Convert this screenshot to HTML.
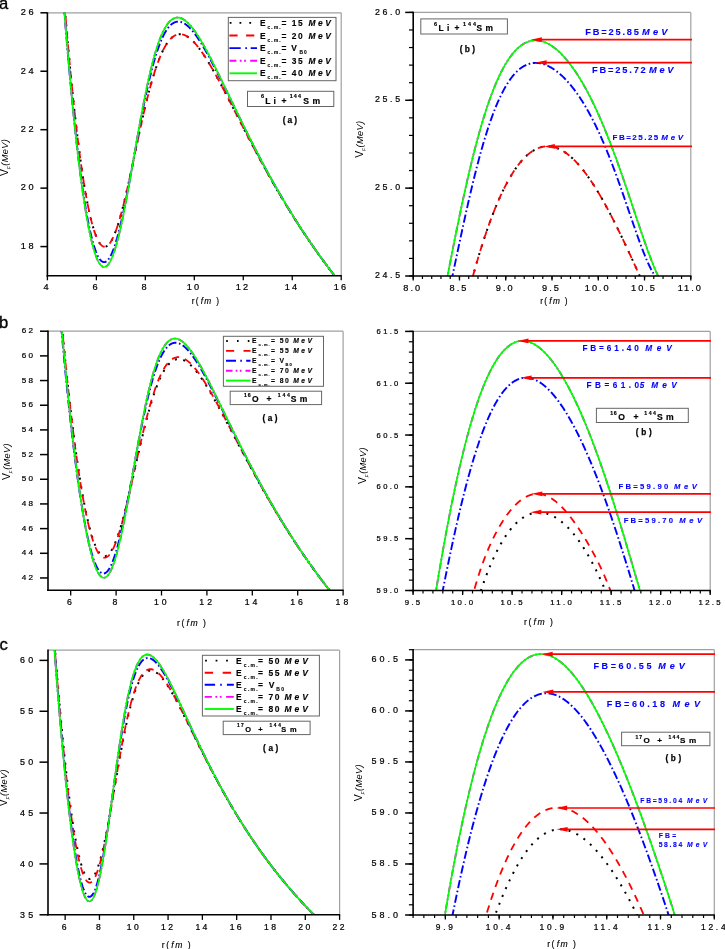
<!DOCTYPE html>
<html><head><meta charset="utf-8"><style>
html,body{margin:0;padding:0;background:#fff;}
body{width:725px;height:949px;overflow:hidden;font-family:"Liberation Sans", sans-serif;}
svg{display:block;will-change:transform;}
</style></head><body>
<svg width="725" height="949" viewBox="0 0 725 949" font-family='"Liberation Sans", sans-serif'>
<rect width="725" height="949" fill="#fff"/>
<text x="-1" y="8.8" font-size="16.6" text-anchor="start" font-weight="normal" font-style="normal" fill="#000" letter-spacing="0" stroke="#000" stroke-width="0.35">a</text>
<text x="-1" y="328.4" font-size="16.6" text-anchor="start" font-weight="normal" font-style="normal" fill="#000" letter-spacing="0" stroke="#000" stroke-width="0.35">b</text>
<text x="-0.5" y="649.8" font-size="16.6" text-anchor="start" font-weight="normal" font-style="normal" fill="#000" letter-spacing="0" stroke="#000" stroke-width="0.35">c</text>
<clipPath id="ca1"><rect x="47.4" y="12.600000000000001" width="293.8" height="263.2"/></clipPath>
<line x1="47.4" y1="12.8" x2="341.2" y2="12.8" stroke="#a0a0a0" stroke-width="1.2"/>
<line x1="341.2" y1="12.8" x2="341.2" y2="275.8" stroke="#a0a0a0" stroke-width="1.2"/>
<path d="M64.79,7.37 L64.85,8.17 L64.92,8.96 L64.98,9.76 L65.05,10.56 L65.11,11.35 L65.18,12.15 L65.24,12.95 L65.31,13.74 L65.38,14.54 L65.44,15.34 L65.51,16.13 L65.57,16.93 L65.64,17.73 L65.71,18.52 L65.77,19.32 L65.84,20.12 L65.91,20.91 L65.98,21.71 L66.04,22.51 L66.11,23.30 L66.18,24.10 L66.25,24.90 L66.31,25.69 L66.38,26.49 L66.45,27.29 L66.52,28.08 L66.59,28.88 L66.65,29.68 L66.72,30.47 L66.79,31.27 L66.86,32.07 L66.93,32.86 L67.00,33.66 L67.07,34.45 L67.14,35.25 L67.21,36.05 L67.28,36.84 L67.35,37.64 L67.42,38.44 L67.49,39.23 L67.56,40.03 L67.63,40.83 L67.70,41.62 L67.77,42.42 L67.84,43.21 L67.91,44.01 L67.98,44.81 L68.05,45.60 L68.12,46.40 L68.19,47.20 L68.27,47.99 L68.34,48.79 L68.41,49.58 L68.48,50.38 L68.55,51.18 L68.63,51.97 L68.70,52.77 L68.77,53.56 L68.84,54.36 L68.92,55.16 L68.99,55.95 L69.06,56.75 L69.14,57.54 L69.21,58.34 L69.28,59.14 L69.36,59.93 L69.43,60.73 L69.51,61.52 L69.58,62.32 L69.66,63.12 L69.73,63.91 L69.81,64.71 L69.88,65.50 L69.96,66.30 L70.03,67.10 L70.11,67.89 L70.18,68.69 L70.26,69.48 L70.33,70.28 L70.41,71.08 L70.49,71.87 L70.56,72.67 L70.64,73.46 L70.72,74.26 L70.80,75.05 L70.87,75.85 L70.95,76.64 L71.03,77.44 L71.11,78.24 L71.18,79.03 L71.26,79.83 L71.34,80.62 L71.42,81.42 L71.50,82.21 L71.58,83.01 L71.66,83.80 L71.74,84.60 L71.82,85.40 L71.90,86.19 L71.98,86.99 L72.06,87.78 L72.14,88.58 L72.22,89.37 L72.30,90.17 L72.38,90.96 L72.46,91.76 L72.54,92.55 L72.62,93.35 L72.71,94.14 L72.79,94.94 L72.87,95.73 L72.95,96.53 L73.04,97.32 L73.12,98.12 L73.20,98.91 L73.29,99.71 L73.37,100.51 L73.45,101.30 L73.54,102.09 L73.62,102.89 L73.71,103.68 L73.79,104.48 L73.88,105.27 L73.96,106.07 L74.05,106.86 L74.14,107.66 L74.22,108.45 L74.31,109.25 L74.39,110.04 L74.48,110.84 L74.57,111.63 L74.66,112.43 L74.74,113.22 L74.83,114.02 L74.92,114.81 L75.01,115.61 L75.10,116.40 L75.19,117.19 L75.28,117.99 L75.37,118.78 L75.46,119.58 L75.55,120.37 L75.64,121.17 L75.73,121.96 L75.82,122.75 L75.91,123.55 L76.00,124.34 L76.09,125.14 L76.18,125.93 L76.28,126.73 L76.37,127.52 L76.46,128.31 L76.56,129.11 L76.65,129.90 L76.74,130.69 L76.84,131.49 L76.93,132.28 L77.03,133.08 L77.12,133.87 L77.22,134.66 L77.32,135.46 L77.41,136.25 L77.51,137.04 L77.61,137.84 L77.70,138.63 L77.80,139.42 L77.90,140.22 L78.00,141.01 L78.10,141.80 L78.20,142.60 L78.30,143.39 L78.40,144.18 L78.50,144.98 L78.60,145.77 L78.70,146.56 L78.80,147.36 L78.90,148.15 L79.01,148.94 L79.11,149.73 L79.21,150.53 L79.32,151.32 L79.42,152.11 L79.52,152.91 L79.63,153.70 L79.73,154.49 L79.84,155.28 L79.95,156.07 L80.05,156.87 L80.16,157.66 L80.27,158.45 L80.38,159.24 L80.49,160.04 L80.59,160.83 L80.70,161.62 L80.81,162.41 L80.93,163.20 L81.04,163.99 L81.15,164.79 L81.26,165.58 L81.37,166.37 L81.49,167.16 L81.60,167.95 L81.72,168.74 L81.83,169.53 L81.95,170.32 L82.06,171.12 L82.18,171.91 L82.30,172.70 L82.42,173.49 L82.54,174.28 L82.65,175.07 L82.77,175.86 L82.90,176.65 L83.02,177.44 L83.14,178.23 L83.26,179.02 L83.39,179.81 L83.51,180.60 L83.63,181.39 L83.76,182.18 L83.89,182.97 L84.01,183.76 L84.14,184.55 L84.27,185.33 L84.40,186.12 L84.53,186.91 L84.66,187.70 L84.80,188.49 L84.93,189.28 L85.06,190.07 L85.20,190.85 L85.33,191.64 L85.47,192.43 L85.61,193.22 L85.75,194.00 L85.89,194.79 L86.03,195.58 L86.17,196.36 L86.31,197.15 L86.46,197.94 L86.60,198.72 L86.75,199.51 L86.90,200.29 L87.05,201.08 L87.20,201.86 L87.35,202.65 L87.50,203.43 L87.65,204.22 L87.81,205.00 L87.97,205.79 L88.13,206.57 L88.29,207.35 L88.45,208.14 L88.61,208.92 L88.78,209.70 L88.94,210.48 L89.11,211.26 L89.28,212.05 L89.45,212.83 L89.63,213.61 L89.80,214.39 L89.98,215.17 L90.16,215.94 L90.34,216.72 L90.53,217.50 L90.71,218.28 L90.90,219.06 L91.09,219.83 L91.29,220.61 L91.49,221.38 L91.69,222.15 L91.89,222.93 L92.10,223.70 L92.31,224.47 L92.52,225.24 L92.74,226.01 L92.96,226.78 L93.18,227.55 L93.41,228.31 L93.65,229.08 L93.88,229.84 L94.13,230.60 L94.38,231.36 L94.63,232.12 L94.89,232.88 L95.16,233.63 L95.43,234.38 L95.71,235.13 L96.00,235.87 L96.30,236.61 L96.61,237.35 L96.93,238.08 L97.26,238.81 L97.60,239.53 L97.96,240.25 L98.34,240.96 L98.73,241.65 L99.14,242.34 L99.58,243.00 L100.05,243.65 L100.54,244.28 L101.08,244.87 L101.66,245.42 L102.29,245.91 L102.98,246.31 L103.73,246.59 L104.52,246.72 L105.32,246.67 L106.09,246.47 L106.81,246.12 L107.47,245.68 L108.09,245.17 L108.66,244.61 L109.19,244.02 L109.69,243.39 L110.16,242.75 L110.61,242.08 L111.03,241.40 L111.44,240.72 L111.83,240.02 L112.20,239.31 L112.56,238.60 L112.91,237.88 L113.25,237.16 L113.58,236.43 L113.91,235.70 L114.22,234.96 L114.53,234.22 L114.82,233.48 L115.12,232.74 L115.40,231.99 L115.68,231.24 L115.96,230.49 L116.23,229.74 L116.50,228.99 L116.76,228.23 L117.02,227.48 L117.27,226.72 L117.52,225.96 L117.77,225.20 L118.01,224.44 L118.25,223.68 L118.49,222.91 L118.73,222.15 L118.96,221.38 L119.19,220.62 L119.42,219.85 L119.64,219.08 L119.86,218.32 L120.08,217.55 L120.30,216.78 L120.52,216.01 L120.73,215.24 L120.95,214.47 L121.16,213.70 L121.37,212.93 L121.57,212.15 L121.78,211.38 L121.98,210.61 L122.19,209.83 L122.39,209.06 L122.59,208.29 L122.79,207.51 L122.99,206.74 L123.18,205.96 L123.38,205.19 L123.57,204.41 L123.76,203.64 L123.96,202.86 L124.15,202.08 L124.34,201.31 L124.52,200.53 L124.71,199.75 L124.90,198.98 L125.09,198.20 L125.27,197.42 L125.46,196.64 L125.64,195.87 L125.82,195.09 L126.00,194.31 L126.19,193.53 L126.37,192.75 L126.55,191.97 L126.73,191.19 L126.90,190.42 L127.08,189.64 L127.26,188.86 L127.44,188.08 L127.61,187.30 L127.79,186.52 L127.96,185.74 L128.14,184.96 L128.31,184.18 L128.49,183.40 L128.66,182.62 L128.83,181.84 L129.01,181.06 L129.18,180.27 L129.35,179.49 L129.52,178.71 L129.69,177.93 L129.86,177.15 L130.03,176.37 L130.20,175.59 L130.37,174.81 L130.54,174.03 L130.71,173.25 L130.88,172.46 L131.05,171.68 L131.22,170.90 L131.39,170.12 L131.56,169.34 L131.72,168.56 L131.89,167.77 L132.06,166.99 L132.23,166.21 L132.39,165.43 L132.56,164.65 L132.73,163.87 L132.89,163.08 L133.06,162.30 L133.23,161.52 L133.39,160.74 L133.56,159.96 L133.72,159.17 L133.89,158.39 L134.06,157.61 L134.22,156.83 L134.39,156.05 L134.55,155.26 L134.72,154.48 L134.89,153.70 L135.05,152.92 L135.22,152.14 L135.38,151.35 L135.55,150.57 L135.72,149.79 L135.88,149.01 L136.05,148.23 L136.21,147.44 L136.38,146.66 L136.55,145.88 L136.71,145.10 L136.88,144.32 L137.05,143.54 L137.21,142.75 L137.38,141.97 L137.55,141.19 L137.72,140.41 L137.88,139.63 L138.05,138.84 L138.22,138.06 L138.39,137.28 L138.56,136.50 L138.72,135.72 L138.89,134.94 L139.06,134.16 L139.23,133.37 L139.40,132.59 L139.57,131.81 L139.74,131.03 L139.91,130.25 L140.08,129.47 L140.25,128.69 L140.42,127.91 L140.59,127.13 L140.77,126.35 L140.94,125.56 L141.11,124.78 L141.28,124.00 L141.46,123.22 L141.63,122.44 L141.81,121.66 L141.98,120.88 L142.15,120.10 L142.33,119.32 L142.51,118.54 L142.68,117.76 L142.86,116.98 L143.04,116.20 L143.21,115.43 L143.39,114.65 L143.57,113.87 L143.75,113.09 L143.93,112.31 L144.11,111.53 L144.29,110.75 L144.48,109.97 L144.66,109.19 L144.84,108.42 L145.03,107.64 L145.21,106.86 L145.40,106.08 L145.58,105.31 L145.77,104.53 L145.96,103.75 L146.14,102.97 L146.33,102.20 L146.52,101.42 L146.71,100.64 L146.90,99.87 L147.10,99.09 L147.29,98.32 L147.48,97.54 L147.68,96.77 L147.87,95.99 L148.07,95.22 L148.27,94.44 L148.47,93.67 L148.67,92.89 L148.87,92.12 L149.07,91.35 L149.27,90.57 L149.48,89.80 L149.68,89.03 L149.89,88.26 L150.10,87.48 L150.31,86.71 L150.52,85.94 L150.73,85.17 L150.94,84.40 L151.16,83.63 L151.38,82.86 L151.59,82.09 L151.81,81.32 L152.03,80.55 L152.26,79.79 L152.48,79.02 L152.71,78.25 L152.93,77.48 L153.16,76.72 L153.39,75.95 L153.63,75.19 L153.86,74.43 L154.10,73.66 L154.34,72.90 L154.58,72.14 L154.82,71.38 L155.07,70.61 L155.32,69.85 L155.57,69.10 L155.82,68.34 L156.07,67.58 L156.33,66.82 L156.59,66.07 L156.86,65.31 L157.12,64.56 L157.39,63.81 L157.67,63.06 L157.94,62.30 L158.22,61.56 L158.51,60.81 L158.79,60.06 L159.08,59.32 L159.38,58.57 L159.68,57.83 L159.98,57.09 L160.29,56.35 L160.60,55.62 L160.91,54.88 L161.24,54.15 L161.56,53.42 L161.90,52.70 L162.24,51.97 L162.58,51.25 L162.93,50.53 L163.29,49.82 L163.65,49.11 L164.03,48.40 L164.40,47.70 L164.79,47.00 L165.19,46.30 L165.60,45.61 L166.01,44.93 L166.44,44.26 L166.88,43.59 L167.33,42.93 L167.79,42.27 L168.26,41.63 L168.75,41.00 L169.26,40.38 L169.78,39.77 L170.31,39.18 L170.87,38.60 L171.44,38.05 L172.04,37.52 L172.66,37.01 L173.30,36.53 L173.96,36.08 L174.64,35.67 L175.35,35.30 L176.08,34.98 L176.83,34.70 L177.60,34.49 L178.39,34.33 L179.18,34.23 L179.98,34.19 L180.78,34.22 L181.57,34.30 L182.36,34.44 L183.13,34.64 L183.90,34.88 L184.64,35.16 L185.38,35.48 L186.09,35.84 L186.79,36.22 L187.47,36.64 L188.14,37.08 L188.80,37.54 L189.44,38.02 L190.06,38.51 L190.68,39.03 L191.28,39.55 L191.87,40.09 L192.45,40.64 L193.02,41.20 L193.58,41.77 L194.13,42.35 L194.67,42.94 L195.21,43.53 L195.73,44.13 L196.25,44.74 L196.77,45.35 L197.27,45.97 L197.78,46.60 L198.27,47.22 L198.76,47.86 L199.24,48.49 L199.72,49.13 L200.20,49.77 L200.67,50.42 L201.13,51.07 L201.60,51.72 L202.05,52.38 L202.51,53.04 L202.96,53.70 L203.41,54.36 L203.85,55.02 L204.29,55.69 L204.73,56.36 L205.16,57.03 L205.59,57.70 L206.02,58.38 L206.45,59.05 L206.87,59.73 L207.30,60.41 L207.71,61.09 L208.13,61.77 L208.55,62.46 L208.96,63.14 L209.37,63.83 L209.78,64.51 L210.19,65.20 L210.59,65.89 L211.00,66.58 L211.40,67.27 L211.80,67.96 L212.20,68.66 L212.60,69.35 L212.99,70.04 L213.39,70.74 L213.78,71.43 L214.17,72.13 L214.56,72.83 L214.95,73.53 L215.34,74.22 L215.73,74.92 L216.12,75.62 L216.50,76.32 L216.89,77.02 L217.27,77.73 L217.65,78.43 L218.04,79.13 L218.42,79.83 L218.80,80.54 L219.18,81.24 L219.56,81.94 L219.93,82.65 L220.31,83.35 L220.69,84.06 L221.06,84.76 L221.44,85.47 L221.81,86.18 L222.19,86.88 L222.56,87.59 L222.93,88.30 L223.31,89.00 L223.68,89.71 L224.05,90.42 L224.42,91.13 L224.79,91.84 L225.16,92.54 L225.53,93.25 L225.90,93.96 L226.27,94.67 L226.64,95.38 L227.01,96.09 L227.37,96.80 L227.74,97.51 L228.11,98.22 L228.48,98.93 L228.84,99.64 L229.21,100.35 L229.58,101.06 L229.94,101.77 L230.31,102.48 L230.68,103.19 L231.04,103.90 L231.41,104.61 L231.77,105.32 L232.14,106.04 L232.50,106.75 L232.87,107.46 L233.23,108.17 L233.60,108.88 L233.96,109.59 L234.33,110.30 L234.69,111.01 L235.06,111.73 L235.42,112.44 L235.79,113.15 L236.15,113.86 L236.52,114.57 L236.88,115.28 L237.25,115.99 L237.61,116.70 L237.98,117.42 L238.34,118.13 L238.71,118.84 L239.07,119.55 L239.44,120.26 L239.80,120.97 L240.17,121.68 L240.53,122.39 L240.90,123.10 L241.27,123.81 L241.63,124.53 L242.00,125.24 L242.36,125.95 L242.73,126.66 L243.10,127.37 L243.46,128.08 L243.83,128.79 L244.20,129.50 L244.57,130.21 L244.93,130.92 L245.30,131.63 L245.67,132.34 L246.04,133.05 L246.40,133.76 L246.77,134.47 L247.14,135.18 L247.51,135.89 L247.88,136.59 L248.25,137.30 L248.62,138.01 L248.99,138.72 L249.36,139.43 L249.73,140.14 L250.10,140.85 L250.47,141.55 L250.84,142.26 L251.22,142.97 L251.59,143.68 L251.96,144.38 L252.33,145.09 L252.71,145.80 L253.08,146.50 L253.45,147.21 L253.83,147.92 L254.20,148.62 L254.58,149.33 L254.95,150.04 L255.33,150.74 L255.70,151.45 L256.08,152.15 L256.46,152.86 L256.83,153.56 L257.21,154.27 L257.59,154.97 L257.97,155.68 L258.34,156.38 L258.72,157.08 L259.10,157.79 L259.48,158.49 L259.86,159.20 L260.24,159.90 L260.62,160.60 L261.01,161.30 L261.39,162.01 L261.77,162.71 L262.15,163.41 L262.54,164.11 L262.92,164.81 L263.30,165.51 L263.69,166.21 L264.07,166.92 L264.46,167.62 L264.84,168.32 L265.23,169.02 L265.62,169.72 L266.01,170.41 L266.39,171.11 L266.78,171.81 L267.17,172.51 L267.56,173.21 L267.95,173.91 L268.34,174.61 L268.73,175.30 L269.12,176.00 L269.51,176.70 L269.91,177.39 L270.30,178.09 L270.69,178.79 L271.08,179.48 L271.48,180.18 L271.87,180.87 L272.27,181.57 L272.67,182.26 L273.06,182.95 L273.46,183.65 L273.86,184.34 L274.25,185.04 L274.65,185.73 L275.05,186.42 L275.45,187.11 L275.85,187.81 L276.25,188.50 L276.65,189.19 L277.06,189.88 L277.46,190.57 L277.86,191.26 L278.27,191.95 L278.67,192.64 L279.07,193.33 L279.48,194.02 L279.89,194.71 L280.29,195.40 L280.70,196.08 L281.11,196.77 L281.52,197.46 L281.92,198.15 L282.33,198.83 L282.74,199.52 L283.16,200.20 L283.57,200.89 L283.98,201.57 L284.39,202.26 L284.80,202.94 L285.22,203.63 L285.63,204.31 L286.05,204.99 L286.46,205.68 L286.88,206.36 L287.30,207.04 L287.71,207.72 L288.13,208.40 L288.55,209.09 L288.97,209.77 L289.39,210.45 L289.81,211.13 L290.23,211.81 L290.65,212.48 L291.08,213.16 L291.50,213.84 L291.92,214.52 L292.35,215.20 L292.77,215.87 L293.20,216.55 L293.63,217.23 L294.05,217.90 L294.48,218.58 L294.91,219.25 L295.34,219.93 L295.77,220.60 L296.20,221.27 L296.63,221.95 L297.06,222.62 L297.49,223.29 L297.93,223.96 L298.36,224.64 L298.80,225.31 L299.23,225.98 L299.67,226.65 L300.10,227.32 L300.54,227.99 L300.98,228.66 L301.42,229.32 L301.86,229.99 L302.30,230.66 L302.74,231.33 L303.18,231.99 L303.62,232.66 L304.06,233.32 L304.51,233.99 L304.95,234.65 L305.40,235.32 L305.84,235.98 L306.29,236.64 L306.74,237.31 L307.18,237.97 L307.63,238.63 L308.08,239.29 L308.53,239.95 L308.98,240.61 L309.43,241.27 L309.88,241.93 L310.34,242.59 L310.79,243.25 L311.24,243.91 L311.70,244.57 L312.16,245.22 L312.61,245.88 L313.07,246.54 L313.53,247.19 L313.98,247.85 L314.44,248.50 L314.90,249.15 L315.36,249.81 L315.83,250.46 L316.29,251.11 L316.75,251.76 L317.21,252.42 L317.68,253.07 L318.14,253.72 L318.61,254.37 L319.08,255.02 L319.54,255.66 L320.01,256.31 L320.48,256.96 L320.95,257.61 L321.42,258.25 L321.89,258.90 L322.36,259.55 L322.83,260.19 L323.31,260.83 L323.78,261.48 L324.26,262.12 L324.73,262.76 L325.21,263.41 L325.68,264.05 L326.16,264.69 L326.64,265.33 L327.12,265.97 L327.60,266.61 L328.08,267.25 L328.56,267.89 L329.04,268.52 L329.52,269.16 L330.01,269.80 L330.49,270.43 L330.98,271.07 L331.46,271.70 L331.95,272.34 L332.44,272.97 L332.93,273.61 L333.41,274.24 L333.90,274.87 L334.39,275.50 L334.89,276.13 L335.38,276.76 L335.87,277.39 L336.36,278.02 L336.86,278.65 L337.35,279.28 L337.85,279.90 L338.34,280.53 L338.84,281.16 L339.34,281.78" fill="none" stroke="#000" stroke-width="2.0" stroke-linejoin="round" stroke-dasharray="2 6.5" stroke-dashoffset="0" clip-path="url(#ca1)"/>
<path d="M64.79,7.37 L64.85,8.17 L64.92,8.96 L64.98,9.76 L65.05,10.56 L65.11,11.35 L65.18,12.15 L65.24,12.95 L65.31,13.74 L65.38,14.54 L65.44,15.34 L65.51,16.13 L65.57,16.93 L65.64,17.73 L65.71,18.52 L65.77,19.32 L65.84,20.12 L65.91,20.91 L65.98,21.71 L66.04,22.51 L66.11,23.30 L66.18,24.10 L66.25,24.90 L66.31,25.69 L66.38,26.49 L66.45,27.29 L66.52,28.08 L66.59,28.88 L66.65,29.68 L66.72,30.47 L66.79,31.27 L66.86,32.07 L66.93,32.86 L67.00,33.66 L67.07,34.45 L67.14,35.25 L67.21,36.05 L67.28,36.84 L67.35,37.64 L67.42,38.44 L67.49,39.23 L67.56,40.03 L67.63,40.83 L67.70,41.62 L67.77,42.42 L67.84,43.21 L67.91,44.01 L67.98,44.81 L68.05,45.60 L68.12,46.40 L68.19,47.20 L68.27,47.99 L68.34,48.79 L68.41,49.58 L68.48,50.38 L68.55,51.18 L68.63,51.97 L68.70,52.77 L68.77,53.56 L68.84,54.36 L68.92,55.16 L68.99,55.95 L69.06,56.75 L69.14,57.54 L69.21,58.34 L69.28,59.14 L69.36,59.93 L69.43,60.73 L69.51,61.52 L69.58,62.32 L69.66,63.12 L69.73,63.91 L69.81,64.71 L69.88,65.50 L69.96,66.30 L70.03,67.10 L70.11,67.89 L70.18,68.69 L70.26,69.48 L70.33,70.28 L70.41,71.08 L70.49,71.87 L70.56,72.67 L70.64,73.46 L70.72,74.26 L70.80,75.05 L70.87,75.85 L70.95,76.64 L71.03,77.44 L71.11,78.24 L71.18,79.03 L71.26,79.83 L71.34,80.62 L71.42,81.42 L71.50,82.21 L71.58,83.01 L71.66,83.80 L71.74,84.60 L71.82,85.40 L71.90,86.19 L71.98,86.99 L72.06,87.78 L72.14,88.58 L72.22,89.37 L72.30,90.17 L72.38,90.96 L72.46,91.76 L72.54,92.55 L72.62,93.35 L72.71,94.14 L72.79,94.94 L72.87,95.73 L72.95,96.53 L73.04,97.32 L73.12,98.12 L73.20,98.91 L73.29,99.71 L73.37,100.51 L73.45,101.30 L73.54,102.09 L73.62,102.89 L73.71,103.68 L73.79,104.48 L73.88,105.27 L73.96,106.07 L74.05,106.86 L74.14,107.66 L74.22,108.45 L74.31,109.25 L74.39,110.04 L74.48,110.84 L74.57,111.63 L74.66,112.43 L74.74,113.22 L74.83,114.02 L74.92,114.81 L75.01,115.61 L75.10,116.40 L75.19,117.19 L75.28,117.99 L75.37,118.78 L75.46,119.58 L75.55,120.37 L75.64,121.17 L75.73,121.96 L75.82,122.75 L75.91,123.55 L76.00,124.34 L76.09,125.14 L76.18,125.93 L76.28,126.73 L76.37,127.52 L76.46,128.31 L76.56,129.11 L76.65,129.90 L76.74,130.69 L76.84,131.49 L76.93,132.28 L77.03,133.08 L77.12,133.87 L77.22,134.66 L77.32,135.46 L77.41,136.25 L77.51,137.04 L77.61,137.84 L77.70,138.63 L77.80,139.42 L77.90,140.22 L78.00,141.01 L78.10,141.80 L78.20,142.60 L78.30,143.39 L78.40,144.18 L78.50,144.98 L78.60,145.77 L78.70,146.56 L78.80,147.36 L78.90,148.15 L79.01,148.94 L79.11,149.73 L79.21,150.53 L79.32,151.32 L79.42,152.11 L79.52,152.91 L79.63,153.70 L79.73,154.49 L79.84,155.28 L79.95,156.07 L80.05,156.87 L80.16,157.66 L80.27,158.45 L80.38,159.24 L80.49,160.04 L80.59,160.83 L80.70,161.62 L80.81,162.41 L80.93,163.20 L81.04,163.99 L81.15,164.79 L81.26,165.58 L81.37,166.37 L81.49,167.16 L81.60,167.95 L81.72,168.74 L81.83,169.53 L81.95,170.32 L82.06,171.12 L82.18,171.91 L82.30,172.70 L82.42,173.49 L82.54,174.28 L82.65,175.07 L82.77,175.86 L82.90,176.65 L83.02,177.44 L83.14,178.23 L83.26,179.02 L83.39,179.81 L83.51,180.60 L83.63,181.39 L83.76,182.18 L83.89,182.97 L84.01,183.76 L84.14,184.55 L84.27,185.33 L84.40,186.12 L84.53,186.91 L84.66,187.70 L84.80,188.49 L84.93,189.28 L85.06,190.07 L85.20,190.85 L85.33,191.64 L85.47,192.43 L85.61,193.22 L85.75,194.00 L85.89,194.79 L86.03,195.58 L86.17,196.36 L86.31,197.15 L86.46,197.94 L86.60,198.72 L86.75,199.51 L86.90,200.29 L87.05,201.08 L87.20,201.86 L87.35,202.65 L87.50,203.43 L87.65,204.22 L87.81,205.00 L87.97,205.79 L88.13,206.57 L88.29,207.35 L88.45,208.14 L88.61,208.92 L88.78,209.70 L88.94,210.48 L89.11,211.26 L89.28,212.05 L89.45,212.83 L89.63,213.61 L89.80,214.39 L89.98,215.17 L90.16,215.94 L90.34,216.72 L90.53,217.50 L90.71,218.28 L90.90,219.06 L91.09,219.83 L91.29,220.61 L91.49,221.38 L91.69,222.15 L91.89,222.93 L92.10,223.70 L92.31,224.47 L92.52,225.24 L92.74,226.01 L92.96,226.78 L93.18,227.55 L93.41,228.31 L93.65,229.08 L93.88,229.84 L94.13,230.60 L94.38,231.36 L94.63,232.12 L94.89,232.88 L95.16,233.63 L95.43,234.38 L95.71,235.13 L96.00,235.87 L96.30,236.61 L96.61,237.35 L96.93,238.08 L97.26,238.81 L97.60,239.53 L97.96,240.25 L98.34,240.96 L98.73,241.65 L99.14,242.34 L99.58,243.00 L100.05,243.65 L100.54,244.28 L101.08,244.87 L101.66,245.42 L102.29,245.91 L102.98,246.31 L103.73,246.59 L104.52,246.72 L105.32,246.67 L106.09,246.47 L106.81,246.12 L107.47,245.68 L108.09,245.17 L108.66,244.61 L109.19,244.02 L109.69,243.39 L110.16,242.75 L110.61,242.08 L111.03,241.40 L111.44,240.72 L111.83,240.02 L112.20,239.31 L112.56,238.60 L112.91,237.88 L113.25,237.16 L113.58,236.43 L113.91,235.70 L114.22,234.96 L114.53,234.22 L114.82,233.48 L115.12,232.74 L115.40,231.99 L115.68,231.24 L115.96,230.49 L116.23,229.74 L116.50,228.99 L116.76,228.23 L117.02,227.48 L117.27,226.72 L117.52,225.96 L117.77,225.20 L118.01,224.44 L118.25,223.68 L118.49,222.91 L118.73,222.15 L118.96,221.38 L119.19,220.62 L119.42,219.85 L119.64,219.08 L119.86,218.32 L120.08,217.55 L120.30,216.78 L120.52,216.01 L120.73,215.24 L120.95,214.47 L121.16,213.70 L121.37,212.93 L121.57,212.15 L121.78,211.38 L121.98,210.61 L122.19,209.83 L122.39,209.06 L122.59,208.29 L122.79,207.51 L122.99,206.74 L123.18,205.96 L123.38,205.19 L123.57,204.41 L123.76,203.64 L123.96,202.86 L124.15,202.08 L124.34,201.31 L124.52,200.53 L124.71,199.75 L124.90,198.98 L125.09,198.20 L125.27,197.42 L125.46,196.64 L125.64,195.87 L125.82,195.09 L126.00,194.31 L126.19,193.53 L126.37,192.75 L126.55,191.97 L126.73,191.19 L126.90,190.42 L127.08,189.64 L127.26,188.86 L127.44,188.08 L127.61,187.30 L127.79,186.52 L127.96,185.74 L128.14,184.96 L128.31,184.18 L128.49,183.40 L128.66,182.62 L128.83,181.84 L129.01,181.06 L129.18,180.27 L129.35,179.49 L129.52,178.71 L129.69,177.93 L129.86,177.15 L130.03,176.37 L130.20,175.59 L130.37,174.81 L130.54,174.03 L130.71,173.25 L130.88,172.46 L131.05,171.68 L131.22,170.90 L131.39,170.12 L131.56,169.34 L131.72,168.56 L131.89,167.77 L132.06,166.99 L132.23,166.21 L132.39,165.43 L132.56,164.65 L132.73,163.87 L132.89,163.08 L133.06,162.30 L133.23,161.52 L133.39,160.74 L133.56,159.96 L133.72,159.17 L133.89,158.39 L134.06,157.61 L134.22,156.83 L134.39,156.05 L134.55,155.26 L134.72,154.48 L134.89,153.70 L135.05,152.92 L135.22,152.14 L135.38,151.35 L135.55,150.57 L135.72,149.79 L135.88,149.01 L136.05,148.23 L136.21,147.44 L136.38,146.66 L136.55,145.88 L136.71,145.10 L136.88,144.32 L137.05,143.54 L137.21,142.75 L137.38,141.97 L137.55,141.19 L137.72,140.41 L137.88,139.63 L138.05,138.84 L138.22,138.06 L138.39,137.28 L138.56,136.50 L138.72,135.72 L138.89,134.94 L139.06,134.16 L139.23,133.37 L139.40,132.59 L139.57,131.81 L139.74,131.03 L139.91,130.25 L140.08,129.47 L140.25,128.69 L140.42,127.91 L140.59,127.13 L140.77,126.35 L140.94,125.56 L141.11,124.78 L141.28,124.00 L141.46,123.22 L141.63,122.44 L141.81,121.66 L141.98,120.88 L142.15,120.10 L142.33,119.32 L142.51,118.54 L142.68,117.76 L142.86,116.98 L143.04,116.20 L143.21,115.43 L143.39,114.65 L143.57,113.87 L143.75,113.09 L143.93,112.31 L144.11,111.53 L144.29,110.75 L144.48,109.97 L144.66,109.19 L144.84,108.42 L145.03,107.64 L145.21,106.86 L145.40,106.08 L145.58,105.31 L145.77,104.53 L145.96,103.75 L146.14,102.97 L146.33,102.20 L146.52,101.42 L146.71,100.64 L146.90,99.87 L147.10,99.09 L147.29,98.32 L147.48,97.54 L147.68,96.77 L147.87,95.99 L148.07,95.22 L148.27,94.44 L148.47,93.67 L148.67,92.89 L148.87,92.12 L149.07,91.35 L149.27,90.57 L149.48,89.80 L149.68,89.03 L149.89,88.26 L150.10,87.48 L150.31,86.71 L150.52,85.94 L150.73,85.17 L150.94,84.40 L151.16,83.63 L151.38,82.86 L151.59,82.09 L151.81,81.32 L152.03,80.55 L152.26,79.79 L152.48,79.02 L152.71,78.25 L152.93,77.48 L153.16,76.72 L153.39,75.95 L153.63,75.19 L153.86,74.43 L154.10,73.66 L154.34,72.90 L154.58,72.14 L154.82,71.38 L155.07,70.61 L155.32,69.85 L155.57,69.10 L155.82,68.34 L156.07,67.58 L156.33,66.82 L156.59,66.07 L156.86,65.31 L157.12,64.56 L157.39,63.81 L157.67,63.06 L157.94,62.30 L158.22,61.56 L158.51,60.81 L158.79,60.06 L159.08,59.32 L159.38,58.57 L159.68,57.83 L159.98,57.09 L160.29,56.35 L160.60,55.62 L160.91,54.88 L161.24,54.15 L161.56,53.42 L161.90,52.70 L162.24,51.97 L162.58,51.25 L162.93,50.53 L163.29,49.82 L163.65,49.11 L164.03,48.40 L164.40,47.70 L164.79,47.00 L165.19,46.30 L165.60,45.61 L166.01,44.93 L166.44,44.26 L166.88,43.59 L167.33,42.93 L167.79,42.27 L168.26,41.63 L168.75,41.00 L169.26,40.38 L169.78,39.77 L170.31,39.18 L170.87,38.60 L171.44,38.05 L172.04,37.52 L172.66,37.01 L173.30,36.53 L173.96,36.08 L174.64,35.67 L175.35,35.30 L176.08,34.98 L176.83,34.70 L177.60,34.49 L178.39,34.33 L179.18,34.23 L179.98,34.19 L180.78,34.22 L181.57,34.30 L182.36,34.44 L183.13,34.64 L183.90,34.88 L184.64,35.16 L185.38,35.48 L186.09,35.84 L186.79,36.22 L187.47,36.64 L188.14,37.08 L188.80,37.54 L189.44,38.02 L190.06,38.51 L190.68,39.03 L191.28,39.55 L191.87,40.09 L192.45,40.64 L193.02,41.20 L193.58,41.77 L194.13,42.35 L194.67,42.94 L195.21,43.53 L195.73,44.13 L196.25,44.74 L196.77,45.35 L197.27,45.97 L197.78,46.60 L198.27,47.22 L198.76,47.86 L199.24,48.49 L199.72,49.13 L200.20,49.77 L200.67,50.42 L201.13,51.07 L201.60,51.72 L202.05,52.38 L202.51,53.04 L202.96,53.70 L203.41,54.36 L203.85,55.02 L204.29,55.69 L204.73,56.36 L205.16,57.03 L205.59,57.70 L206.02,58.38 L206.45,59.05 L206.87,59.73 L207.30,60.41 L207.71,61.09 L208.13,61.77 L208.55,62.46 L208.96,63.14 L209.37,63.83 L209.78,64.51 L210.19,65.20 L210.59,65.89 L211.00,66.58 L211.40,67.27 L211.80,67.96 L212.20,68.66 L212.60,69.35 L212.99,70.04 L213.39,70.74 L213.78,71.43 L214.17,72.13 L214.56,72.83 L214.95,73.53 L215.34,74.22 L215.73,74.92 L216.12,75.62 L216.50,76.32 L216.89,77.02 L217.27,77.73 L217.65,78.43 L218.04,79.13 L218.42,79.83 L218.80,80.54 L219.18,81.24 L219.56,81.94 L219.93,82.65 L220.31,83.35 L220.69,84.06 L221.06,84.76 L221.44,85.47 L221.81,86.18 L222.19,86.88 L222.56,87.59 L222.93,88.30 L223.31,89.00 L223.68,89.71 L224.05,90.42 L224.42,91.13 L224.79,91.84 L225.16,92.54 L225.53,93.25 L225.90,93.96 L226.27,94.67 L226.64,95.38 L227.01,96.09 L227.37,96.80 L227.74,97.51 L228.11,98.22 L228.48,98.93 L228.84,99.64 L229.21,100.35 L229.58,101.06 L229.94,101.77 L230.31,102.48 L230.68,103.19 L231.04,103.90 L231.41,104.61 L231.77,105.32 L232.14,106.04 L232.50,106.75 L232.87,107.46 L233.23,108.17 L233.60,108.88 L233.96,109.59 L234.33,110.30 L234.69,111.01 L235.06,111.73 L235.42,112.44 L235.79,113.15 L236.15,113.86 L236.52,114.57 L236.88,115.28 L237.25,115.99 L237.61,116.70 L237.98,117.42 L238.34,118.13 L238.71,118.84 L239.07,119.55 L239.44,120.26 L239.80,120.97 L240.17,121.68 L240.53,122.39 L240.90,123.10 L241.27,123.81 L241.63,124.53 L242.00,125.24 L242.36,125.95 L242.73,126.66 L243.10,127.37 L243.46,128.08 L243.83,128.79 L244.20,129.50 L244.57,130.21 L244.93,130.92 L245.30,131.63 L245.67,132.34 L246.04,133.05 L246.40,133.76 L246.77,134.47 L247.14,135.18 L247.51,135.89 L247.88,136.59 L248.25,137.30 L248.62,138.01 L248.99,138.72 L249.36,139.43 L249.73,140.14 L250.10,140.85 L250.47,141.55 L250.84,142.26 L251.22,142.97 L251.59,143.68 L251.96,144.38 L252.33,145.09 L252.71,145.80 L253.08,146.50 L253.45,147.21 L253.83,147.92 L254.20,148.62 L254.58,149.33 L254.95,150.04 L255.33,150.74 L255.70,151.45 L256.08,152.15 L256.46,152.86 L256.83,153.56 L257.21,154.27 L257.59,154.97 L257.97,155.68 L258.34,156.38 L258.72,157.08 L259.10,157.79 L259.48,158.49 L259.86,159.20 L260.24,159.90 L260.62,160.60 L261.01,161.30 L261.39,162.01 L261.77,162.71 L262.15,163.41 L262.54,164.11 L262.92,164.81 L263.30,165.51 L263.69,166.21 L264.07,166.92 L264.46,167.62 L264.84,168.32 L265.23,169.02 L265.62,169.72 L266.01,170.41 L266.39,171.11 L266.78,171.81 L267.17,172.51 L267.56,173.21 L267.95,173.91 L268.34,174.61 L268.73,175.30 L269.12,176.00 L269.51,176.70 L269.91,177.39 L270.30,178.09 L270.69,178.79 L271.08,179.48 L271.48,180.18 L271.87,180.87 L272.27,181.57 L272.67,182.26 L273.06,182.95 L273.46,183.65 L273.86,184.34 L274.25,185.04 L274.65,185.73 L275.05,186.42 L275.45,187.11 L275.85,187.81 L276.25,188.50 L276.65,189.19 L277.06,189.88 L277.46,190.57 L277.86,191.26 L278.27,191.95 L278.67,192.64 L279.07,193.33 L279.48,194.02 L279.89,194.71 L280.29,195.40 L280.70,196.08 L281.11,196.77 L281.52,197.46 L281.92,198.15 L282.33,198.83 L282.74,199.52 L283.16,200.20 L283.57,200.89 L283.98,201.57 L284.39,202.26 L284.80,202.94 L285.22,203.63 L285.63,204.31 L286.05,204.99 L286.46,205.68 L286.88,206.36 L287.30,207.04 L287.71,207.72 L288.13,208.40 L288.55,209.09 L288.97,209.77 L289.39,210.45 L289.81,211.13 L290.23,211.81 L290.65,212.48 L291.08,213.16 L291.50,213.84 L291.92,214.52 L292.35,215.20 L292.77,215.87 L293.20,216.55 L293.63,217.23 L294.05,217.90 L294.48,218.58 L294.91,219.25 L295.34,219.93 L295.77,220.60 L296.20,221.27 L296.63,221.95 L297.06,222.62 L297.49,223.29 L297.93,223.96 L298.36,224.64 L298.80,225.31 L299.23,225.98 L299.67,226.65 L300.10,227.32 L300.54,227.99 L300.98,228.66 L301.42,229.32 L301.86,229.99 L302.30,230.66 L302.74,231.33 L303.18,231.99 L303.62,232.66 L304.06,233.32 L304.51,233.99 L304.95,234.65 L305.40,235.32 L305.84,235.98 L306.29,236.64 L306.74,237.31 L307.18,237.97 L307.63,238.63 L308.08,239.29 L308.53,239.95 L308.98,240.61 L309.43,241.27 L309.88,241.93 L310.34,242.59 L310.79,243.25 L311.24,243.91 L311.70,244.57 L312.16,245.22 L312.61,245.88 L313.07,246.54 L313.53,247.19 L313.98,247.85 L314.44,248.50 L314.90,249.15 L315.36,249.81 L315.83,250.46 L316.29,251.11 L316.75,251.76 L317.21,252.42 L317.68,253.07 L318.14,253.72 L318.61,254.37 L319.08,255.02 L319.54,255.66 L320.01,256.31 L320.48,256.96 L320.95,257.61 L321.42,258.25 L321.89,258.90 L322.36,259.55 L322.83,260.19 L323.31,260.83 L323.78,261.48 L324.26,262.12 L324.73,262.76 L325.21,263.41 L325.68,264.05 L326.16,264.69 L326.64,265.33 L327.12,265.97 L327.60,266.61 L328.08,267.25 L328.56,267.89 L329.04,268.52 L329.52,269.16 L330.01,269.80 L330.49,270.43 L330.98,271.07 L331.46,271.70 L331.95,272.34 L332.44,272.97 L332.93,273.61 L333.41,274.24 L333.90,274.87 L334.39,275.50 L334.89,276.13 L335.38,276.76 L335.87,277.39 L336.36,278.02 L336.86,278.65 L337.35,279.28 L337.85,279.90 L338.34,280.53 L338.84,281.16 L339.34,281.78" fill="none" stroke="#ff0000" stroke-width="1.8" stroke-linejoin="round" stroke-dasharray="7.4 6" stroke-dashoffset="3" clip-path="url(#ca1)"/>
<path d="M64.05,7.30 L64.11,8.10 L64.18,8.90 L64.24,9.70 L64.30,10.49 L64.37,11.29 L64.43,12.09 L64.49,12.88 L64.55,13.68 L64.62,14.48 L64.68,15.27 L64.75,16.07 L64.81,16.87 L64.87,17.66 L64.94,18.46 L65.00,19.26 L65.07,20.06 L65.13,20.85 L65.19,21.65 L65.26,22.45 L65.32,23.24 L65.39,24.04 L65.45,24.84 L65.52,25.63 L65.58,26.43 L65.65,27.23 L65.71,28.02 L65.78,28.82 L65.84,29.62 L65.91,30.41 L65.98,31.21 L66.04,32.01 L66.11,32.80 L66.17,33.60 L66.24,34.40 L66.31,35.19 L66.37,35.99 L66.44,36.79 L66.51,37.58 L66.57,38.38 L66.64,39.18 L66.71,39.97 L66.77,40.77 L66.84,41.57 L66.91,42.36 L66.98,43.16 L67.04,43.96 L67.11,44.75 L67.18,45.55 L67.25,46.35 L67.31,47.14 L67.38,47.94 L67.45,48.74 L67.52,49.53 L67.59,50.33 L67.66,51.12 L67.73,51.92 L67.80,52.72 L67.87,53.51 L67.93,54.31 L68.00,55.11 L68.07,55.90 L68.14,56.70 L68.21,57.50 L68.28,58.29 L68.35,59.09 L68.42,59.89 L68.49,60.68 L68.56,61.48 L68.64,62.27 L68.71,63.07 L68.78,63.87 L68.85,64.66 L68.92,65.46 L68.99,66.26 L69.06,67.05 L69.13,67.85 L69.21,68.64 L69.28,69.44 L69.35,70.24 L69.42,71.03 L69.50,71.83 L69.57,72.62 L69.64,73.42 L69.71,74.22 L69.79,75.01 L69.86,75.81 L69.93,76.60 L70.01,77.40 L70.08,78.20 L70.16,78.99 L70.23,79.79 L70.30,80.59 L70.38,81.38 L70.45,82.18 L70.53,82.97 L70.60,83.77 L70.68,84.56 L70.75,85.36 L70.83,86.16 L70.90,86.95 L70.98,87.75 L71.05,88.54 L71.13,89.34 L71.21,90.14 L71.28,90.93 L71.36,91.73 L71.44,92.52 L71.51,93.32 L71.59,94.11 L71.67,94.91 L71.75,95.71 L71.82,96.50 L71.90,97.30 L71.98,98.09 L72.06,98.89 L72.14,99.68 L72.22,100.48 L72.29,101.27 L72.37,102.07 L72.45,102.87 L72.53,103.66 L72.61,104.46 L72.69,105.25 L72.77,106.05 L72.85,106.84 L72.93,107.64 L73.01,108.43 L73.09,109.23 L73.17,110.02 L73.26,110.82 L73.34,111.61 L73.42,112.41 L73.50,113.21 L73.58,114.00 L73.66,114.80 L73.75,115.59 L73.83,116.39 L73.91,117.18 L74.00,117.98 L74.08,118.77 L74.16,119.57 L74.25,120.36 L74.33,121.16 L74.42,121.95 L74.50,122.75 L74.58,123.54 L74.67,124.34 L74.76,125.13 L74.84,125.93 L74.93,126.72 L75.01,127.52 L75.10,128.31 L75.19,129.10 L75.27,129.90 L75.36,130.69 L75.45,131.49 L75.53,132.28 L75.62,133.08 L75.71,133.87 L75.80,134.67 L75.89,135.46 L75.98,136.26 L76.07,137.05 L76.15,137.84 L76.24,138.64 L76.33,139.43 L76.42,140.23 L76.52,141.02 L76.61,141.82 L76.70,142.61 L76.79,143.40 L76.88,144.20 L76.97,144.99 L77.06,145.79 L77.16,146.58 L77.25,147.38 L77.34,148.17 L77.44,148.96 L77.53,149.76 L77.63,150.55 L77.72,151.34 L77.82,152.14 L77.91,152.93 L78.01,153.73 L78.10,154.52 L78.20,155.31 L78.29,156.11 L78.39,156.90 L78.49,157.69 L78.59,158.49 L78.69,159.28 L78.78,160.07 L78.88,160.87 L78.98,161.66 L79.08,162.45 L79.18,163.25 L79.28,164.04 L79.38,164.83 L79.48,165.63 L79.58,166.42 L79.69,167.21 L79.79,168.00 L79.89,168.80 L79.99,169.59 L80.10,170.38 L80.20,171.18 L80.31,171.97 L80.41,172.76 L80.52,173.55 L80.62,174.35 L80.73,175.14 L80.84,175.93 L80.94,176.72 L81.05,177.51 L81.16,178.31 L81.27,179.10 L81.38,179.89 L81.49,180.68 L81.60,181.47 L81.71,182.27 L81.82,183.06 L81.93,183.85 L82.04,184.64 L82.16,185.43 L82.27,186.22 L82.38,187.01 L82.50,187.81 L82.61,188.60 L82.73,189.39 L82.85,190.18 L82.96,190.97 L83.08,191.76 L83.20,192.55 L83.32,193.34 L83.44,194.13 L83.56,194.92 L83.68,195.71 L83.80,196.50 L83.92,197.29 L84.05,198.08 L84.17,198.87 L84.30,199.66 L84.42,200.45 L84.55,201.24 L84.68,202.03 L84.80,202.82 L84.93,203.61 L85.06,204.40 L85.19,205.19 L85.32,205.97 L85.45,206.76 L85.59,207.55 L85.72,208.34 L85.86,209.13 L85.99,209.91 L86.13,210.70 L86.27,211.49 L86.41,212.28 L86.55,213.06 L86.69,213.85 L86.83,214.64 L86.97,215.42 L87.12,216.21 L87.26,217.00 L87.41,217.78 L87.56,218.57 L87.71,219.35 L87.86,220.14 L88.01,220.92 L88.16,221.71 L88.32,222.49 L88.47,223.28 L88.63,224.06 L88.79,224.84 L88.95,225.63 L89.12,226.41 L89.28,227.19 L89.45,227.97 L89.61,228.75 L89.78,229.54 L89.96,230.32 L90.13,231.10 L90.31,231.88 L90.48,232.66 L90.66,233.43 L90.85,234.21 L91.03,234.99 L91.22,235.77 L91.41,236.54 L91.60,237.32 L91.80,238.10 L92.00,238.87 L92.20,239.64 L92.40,240.42 L92.61,241.19 L92.83,241.96 L93.04,242.73 L93.26,243.50 L93.49,244.26 L93.71,245.03 L93.95,245.79 L94.19,246.56 L94.43,247.32 L94.68,248.08 L94.94,248.83 L95.20,249.59 L95.47,250.34 L95.75,251.09 L96.03,251.84 L96.33,252.58 L96.63,253.32 L96.95,254.05 L97.28,254.78 L97.62,255.51 L97.98,256.22 L98.36,256.93 L98.75,257.62 L99.17,258.30 L99.62,258.96 L100.09,259.61 L100.61,260.22 L101.17,260.78 L101.79,261.29 L102.47,261.71 L103.21,262.01 L104.00,262.14 L104.79,262.07 L105.55,261.83 L106.25,261.44 L106.89,260.97 L107.48,260.42 L108.02,259.83 L108.52,259.21 L108.99,258.56 L109.43,257.90 L109.85,257.21 L110.24,256.52 L110.62,255.82 L110.98,255.10 L111.33,254.39 L111.67,253.66 L112.00,252.93 L112.31,252.20 L112.62,251.46 L112.92,250.72 L113.21,249.97 L113.49,249.22 L113.77,248.47 L114.04,247.72 L114.30,246.97 L114.56,246.21 L114.82,245.45 L115.07,244.70 L115.32,243.93 L115.56,243.17 L115.80,242.41 L116.03,241.65 L116.26,240.88 L116.49,240.11 L116.71,239.35 L116.94,238.58 L117.15,237.81 L117.37,237.04 L117.58,236.27 L117.79,235.50 L118.00,234.73 L118.21,233.95 L118.41,233.18 L118.62,232.41 L118.82,231.63 L119.01,230.86 L119.21,230.08 L119.40,229.31 L119.60,228.53 L119.79,227.76 L119.98,226.98 L120.17,226.20 L120.35,225.43 L120.54,224.65 L120.72,223.87 L120.90,223.09 L121.08,222.31 L121.26,221.53 L121.44,220.75 L121.62,219.97 L121.80,219.20 L121.97,218.42 L122.15,217.64 L122.32,216.85 L122.49,216.07 L122.66,215.29 L122.83,214.51 L123.00,213.73 L123.17,212.95 L123.34,212.17 L123.50,211.39 L123.67,210.60 L123.84,209.82 L124.00,209.04 L124.16,208.26 L124.33,207.47 L124.49,206.69 L124.65,205.91 L124.81,205.13 L124.97,204.34 L125.13,203.56 L125.29,202.78 L125.45,201.99 L125.61,201.21 L125.76,200.42 L125.92,199.64 L126.08,198.86 L126.23,198.07 L126.39,197.29 L126.54,196.50 L126.70,195.72 L126.85,194.93 L127.00,194.15 L127.16,193.37 L127.31,192.58 L127.46,191.80 L127.61,191.01 L127.76,190.23 L127.92,189.44 L128.07,188.66 L128.22,187.87 L128.37,187.09 L128.52,186.30 L128.67,185.51 L128.81,184.73 L128.96,183.94 L129.11,183.16 L129.26,182.37 L129.41,181.59 L129.56,180.80 L129.70,180.02 L129.85,179.23 L130.00,178.44 L130.14,177.66 L130.29,176.87 L130.44,176.09 L130.58,175.30 L130.73,174.51 L130.88,173.73 L131.02,172.94 L131.17,172.16 L131.31,171.37 L131.46,170.58 L131.60,169.80 L131.75,169.01 L131.89,168.23 L132.04,167.44 L132.18,166.65 L132.33,165.87 L132.47,165.08 L132.61,164.29 L132.76,163.51 L132.90,162.72 L133.05,161.94 L133.19,161.15 L133.34,160.36 L133.48,159.58 L133.62,158.79 L133.77,158.00 L133.91,157.22 L134.06,156.43 L134.20,155.65 L134.34,154.86 L134.49,154.07 L134.63,153.29 L134.78,152.50 L134.92,151.71 L135.06,150.93 L135.21,150.14 L135.35,149.35 L135.50,148.57 L135.64,147.78 L135.79,147.00 L135.93,146.21 L136.07,145.42 L136.22,144.64 L136.36,143.85 L136.51,143.06 L136.65,142.28 L136.80,141.49 L136.94,140.71 L137.09,139.92 L137.24,139.13 L137.38,138.35 L137.53,137.56 L137.67,136.78 L137.82,135.99 L137.97,135.20 L138.11,134.42 L138.26,133.63 L138.41,132.85 L138.55,132.06 L138.70,131.27 L138.85,130.49 L139.00,129.70 L139.14,128.92 L139.29,128.13 L139.44,127.35 L139.59,126.56 L139.74,125.78 L139.89,124.99 L140.04,124.21 L140.19,123.42 L140.34,122.63 L140.49,121.85 L140.64,121.06 L140.79,120.28 L140.94,119.49 L141.09,118.71 L141.24,117.92 L141.40,117.14 L141.55,116.36 L141.70,115.57 L141.86,114.79 L142.01,114.00 L142.17,113.22 L142.32,112.43 L142.48,111.65 L142.63,110.86 L142.79,110.08 L142.94,109.30 L143.10,108.51 L143.26,107.73 L143.42,106.95 L143.57,106.16 L143.73,105.38 L143.89,104.60 L144.05,103.81 L144.21,103.03 L144.38,102.25 L144.54,101.46 L144.70,100.68 L144.86,99.90 L145.03,99.12 L145.19,98.33 L145.35,97.55 L145.52,96.77 L145.69,95.99 L145.85,95.20 L146.02,94.42 L146.19,93.64 L146.36,92.86 L146.53,92.08 L146.70,91.30 L146.87,90.52 L147.04,89.74 L147.21,88.96 L147.39,88.18 L147.56,87.39 L147.74,86.61 L147.91,85.84 L148.09,85.06 L148.27,84.28 L148.45,83.50 L148.63,82.72 L148.81,81.94 L148.99,81.16 L149.17,80.38 L149.36,79.60 L149.54,78.83 L149.73,78.05 L149.92,77.27 L150.10,76.50 L150.29,75.72 L150.48,74.94 L150.68,74.17 L150.87,73.39 L151.06,72.62 L151.26,71.84 L151.46,71.07 L151.66,70.29 L151.86,69.52 L152.06,68.74 L152.26,67.97 L152.47,67.20 L152.67,66.43 L152.88,65.65 L153.09,64.88 L153.30,64.11 L153.52,63.34 L153.73,62.57 L153.95,61.80 L154.17,61.03 L154.39,60.27 L154.61,59.50 L154.84,58.73 L155.07,57.96 L155.30,57.20 L155.53,56.43 L155.77,55.67 L156.00,54.91 L156.24,54.14 L156.49,53.38 L156.73,52.62 L156.98,51.86 L157.23,51.10 L157.49,50.35 L157.74,49.59 L158.00,48.83 L158.27,48.08 L158.54,47.33 L158.81,46.57 L159.08,45.82 L159.36,45.07 L159.65,44.33 L159.94,43.58 L160.23,42.84 L160.53,42.10 L160.83,41.36 L161.14,40.62 L161.45,39.88 L161.77,39.15 L162.10,38.42 L162.43,37.69 L162.77,36.97 L163.12,36.25 L163.47,35.53 L163.83,34.82 L164.20,34.11 L164.58,33.41 L164.97,32.71 L165.37,32.02 L165.78,31.33 L166.20,30.65 L166.64,29.98 L167.08,29.32 L167.55,28.66 L168.02,28.02 L168.52,27.39 L169.03,26.78 L169.56,26.18 L170.11,25.60 L170.68,25.05 L171.28,24.51 L171.90,24.01 L172.54,23.54 L173.22,23.11 L173.92,22.72 L174.64,22.38 L175.39,22.10 L176.16,21.88 L176.94,21.73 L177.74,21.65 L178.54,21.64 L179.33,21.70 L180.12,21.82 L180.90,22.01 L181.66,22.25 L182.41,22.53 L183.14,22.87 L183.85,23.24 L184.54,23.64 L185.21,24.07 L185.86,24.53 L186.50,25.01 L187.13,25.51 L187.74,26.02 L188.33,26.56 L188.92,27.10 L189.49,27.66 L190.05,28.23 L190.60,28.81 L191.14,29.40 L191.67,30.00 L192.19,30.61 L192.71,31.22 L193.21,31.84 L193.71,32.46 L194.21,33.09 L194.69,33.72 L195.17,34.36 L195.65,35.01 L196.11,35.65 L196.58,36.31 L197.04,36.96 L197.49,37.62 L197.94,38.28 L198.39,38.94 L198.83,39.61 L199.27,40.28 L199.70,40.95 L200.13,41.62 L200.56,42.30 L200.98,42.98 L201.40,43.66 L201.82,44.34 L202.24,45.02 L202.65,45.71 L203.06,46.39 L203.47,47.08 L203.87,47.77 L204.27,48.46 L204.68,49.15 L205.07,49.84 L205.47,50.54 L205.87,51.23 L206.26,51.93 L206.65,52.63 L207.04,53.32 L207.43,54.02 L207.81,54.72 L208.20,55.42 L208.58,56.13 L208.96,56.83 L209.34,57.53 L209.72,58.24 L210.10,58.94 L210.47,59.65 L210.85,60.35 L211.22,61.06 L211.60,61.77 L211.97,62.47 L212.34,63.18 L212.71,63.89 L213.08,64.60 L213.44,65.31 L213.81,66.02 L214.18,66.73 L214.54,67.44 L214.91,68.15 L215.27,68.86 L215.64,69.58 L216.00,70.29 L216.36,71.00 L216.72,71.72 L217.08,72.43 L217.44,73.14 L217.80,73.86 L218.16,74.57 L218.52,75.29 L218.88,76.00 L219.23,76.72 L219.59,77.43 L219.95,78.15 L220.30,78.86 L220.66,79.58 L221.01,80.29 L221.37,81.01 L221.72,81.73 L222.08,82.44 L222.43,83.16 L222.78,83.88 L223.14,84.60 L223.49,85.31 L223.84,86.03 L224.20,86.75 L224.55,87.46 L224.90,88.18 L225.25,88.90 L225.60,89.62 L225.96,90.34 L226.31,91.05 L226.66,91.77 L227.01,92.49 L227.36,93.21 L227.71,93.93 L228.06,94.65 L228.41,95.36 L228.76,96.08 L229.11,96.80 L229.47,97.52 L229.82,98.24 L230.17,98.96 L230.52,99.67 L230.87,100.39 L231.22,101.11 L231.57,101.83 L231.92,102.55 L232.27,103.27 L232.62,103.98 L232.97,104.70 L233.32,105.42 L233.67,106.14 L234.03,106.86 L234.38,107.58 L234.73,108.29 L235.08,109.01 L235.43,109.73 L235.78,110.45 L236.13,111.17 L236.49,111.88 L236.84,112.60 L237.19,113.32 L237.54,114.04 L237.90,114.75 L238.25,115.47 L238.60,116.19 L238.95,116.91 L239.31,117.62 L239.66,118.34 L240.02,119.06 L240.37,119.77 L240.72,120.49 L241.08,121.21 L241.43,121.92 L241.79,122.64 L242.14,123.36 L242.50,124.07 L242.85,124.79 L243.21,125.50 L243.57,126.22 L243.92,126.93 L244.28,127.65 L244.64,128.37 L244.99,129.08 L245.35,129.80 L245.71,130.51 L246.07,131.22 L246.43,131.94 L246.79,132.65 L247.14,133.37 L247.50,134.08 L247.86,134.80 L248.22,135.51 L248.59,136.22 L248.95,136.94 L249.31,137.65 L249.67,138.36 L250.03,139.07 L250.39,139.79 L250.76,140.50 L251.12,141.21 L251.48,141.92 L251.85,142.63 L252.21,143.35 L252.58,144.06 L252.94,144.77 L253.31,145.48 L253.67,146.19 L254.04,146.90 L254.41,147.61 L254.77,148.32 L255.14,149.03 L255.51,149.74 L255.88,150.45 L256.25,151.16 L256.62,151.87 L256.99,152.58 L257.36,153.29 L257.73,153.99 L258.10,154.70 L258.47,155.41 L258.84,156.12 L259.22,156.82 L259.59,157.53 L259.96,158.24 L260.34,158.94 L260.71,159.65 L261.09,160.36 L261.46,161.06 L261.84,161.77 L262.22,162.47 L262.59,163.18 L262.97,163.88 L263.35,164.59 L263.73,165.29 L264.11,165.99 L264.49,166.70 L264.87,167.40 L265.25,168.10 L265.63,168.81 L266.01,169.51 L266.39,170.21 L266.78,170.91 L267.16,171.61 L267.54,172.31 L267.93,173.02 L268.31,173.72 L268.70,174.42 L269.09,175.12 L269.47,175.82 L269.86,176.52 L270.25,177.21 L270.64,177.91 L271.02,178.61 L271.41,179.31 L271.80,180.01 L272.19,180.71 L272.59,181.40 L272.98,182.10 L273.37,182.80 L273.76,183.49 L274.16,184.19 L274.55,184.88 L274.95,185.58 L275.34,186.27 L275.74,186.97 L276.13,187.66 L276.53,188.36 L276.93,189.05 L277.33,189.74 L277.73,190.43 L278.13,191.13 L278.53,191.82 L278.93,192.51 L279.33,193.20 L279.73,193.89 L280.13,194.58 L280.54,195.27 L280.94,195.96 L281.35,196.65 L281.75,197.34 L282.16,198.03 L282.56,198.72 L282.97,199.41 L283.38,200.09 L283.79,200.78 L284.20,201.47 L284.61,202.16 L285.02,202.84 L285.43,203.53 L285.84,204.21 L286.25,204.90 L286.66,205.58 L287.08,206.27 L287.49,206.95 L287.91,207.63 L288.32,208.32 L288.74,209.00 L289.16,209.68 L289.57,210.36 L289.99,211.04 L290.41,211.72 L290.83,212.40 L291.25,213.08 L291.67,213.76 L292.09,214.44 L292.51,215.12 L292.94,215.80 L293.36,216.48 L293.79,217.16 L294.21,217.83 L294.64,218.51 L295.06,219.19 L295.49,219.86 L295.92,220.54 L296.35,221.21 L296.78,221.89 L297.21,222.56 L297.64,223.23 L298.07,223.91 L298.50,224.58 L298.93,225.25 L299.37,225.92 L299.80,226.59 L300.24,227.27 L300.67,227.94 L301.11,228.61 L301.54,229.28 L301.98,229.94 L302.42,230.61 L302.86,231.28 L303.30,231.95 L303.74,232.62 L304.18,233.28 L304.62,233.95 L305.07,234.61 L305.51,235.28 L305.95,235.94 L306.40,236.61 L306.84,237.27 L307.29,237.93 L307.74,238.60 L308.18,239.26 L308.63,239.92 L309.08,240.58 L309.53,241.24 L309.98,241.90 L310.43,242.56 L310.89,243.22 L311.34,243.88 L311.79,244.54 L312.25,245.20 L312.70,245.85 L313.16,246.51 L313.61,247.17 L314.07,247.82 L314.53,248.48 L314.99,249.13 L315.45,249.79 L315.91,250.44 L316.37,251.09 L316.83,251.75 L317.29,252.40 L317.76,253.05 L318.22,253.70 L318.69,254.35 L319.15,255.00 L319.62,255.65 L320.09,256.30 L320.55,256.95 L321.02,257.60 L321.49,258.24 L321.96,258.89 L322.43,259.54 L322.90,260.18 L323.38,260.83 L323.85,261.47 L324.32,262.11 L324.80,262.76 L325.27,263.40 L325.75,264.04 L326.23,264.68 L326.70,265.33 L327.18,265.97 L327.66,266.61 L328.14,267.25 L328.62,267.88 L329.10,268.52 L329.58,269.16 L330.07,269.80 L330.55,270.43 L331.04,271.07 L331.52,271.70 L332.01,272.34 L332.49,272.97 L332.98,273.61 L333.47,274.24 L333.96,274.87 L334.45,275.50 L334.94,276.14 L335.43,276.77 L335.92,277.40 L336.41,278.03 L336.91,278.65 L337.40,279.28 L337.90,279.91 L338.39,280.54 L338.89,281.16 L339.39,281.79" fill="none" stroke="#0000ff" stroke-width="1.9" stroke-linejoin="round" stroke-dasharray="8.2 2.6 1.6 2.6" stroke-dashoffset="0" clip-path="url(#ca1)"/>
<path d="M64.10,7.16 L64.16,7.96 L64.22,8.76 L64.29,9.56 L64.35,10.35 L64.41,11.15 L64.47,11.95 L64.54,12.74 L64.60,13.54 L64.66,14.34 L64.72,15.14 L64.79,15.93 L64.85,16.73 L64.91,17.53 L64.98,18.33 L65.04,19.12 L65.10,19.92 L65.17,20.72 L65.23,21.51 L65.30,22.31 L65.36,23.11 L65.42,23.91 L65.49,24.70 L65.55,25.50 L65.62,26.30 L65.68,27.09 L65.74,27.89 L65.81,28.69 L65.87,29.48 L65.94,30.28 L66.00,31.08 L66.07,31.88 L66.13,32.67 L66.20,33.47 L66.27,34.27 L66.33,35.06 L66.40,35.86 L66.46,36.66 L66.53,37.46 L66.59,38.25 L66.66,39.05 L66.73,39.85 L66.79,40.64 L66.86,41.44 L66.93,42.24 L66.99,43.03 L67.06,43.83 L67.13,44.63 L67.19,45.42 L67.26,46.22 L67.33,47.02 L67.40,47.81 L67.46,48.61 L67.53,49.41 L67.60,50.21 L67.67,51.00 L67.73,51.80 L67.80,52.60 L67.87,53.39 L67.94,54.19 L68.01,54.99 L68.08,55.78 L68.15,56.58 L68.21,57.38 L68.28,58.17 L68.35,58.97 L68.42,59.77 L68.49,60.56 L68.56,61.36 L68.63,62.16 L68.70,62.95 L68.77,63.75 L68.84,64.55 L68.91,65.34 L68.98,66.14 L69.05,66.94 L69.12,67.73 L69.19,68.53 L69.27,69.33 L69.34,70.12 L69.41,70.92 L69.48,71.72 L69.55,72.51 L69.62,73.31 L69.70,74.10 L69.77,74.90 L69.84,75.70 L69.91,76.49 L69.98,77.29 L70.06,78.09 L70.13,78.88 L70.20,79.68 L70.28,80.48 L70.35,81.27 L70.42,82.07 L70.50,82.86 L70.57,83.66 L70.64,84.46 L70.72,85.25 L70.79,86.05 L70.87,86.85 L70.94,87.64 L71.02,88.44 L71.09,89.23 L71.16,90.03 L71.24,90.83 L71.32,91.62 L71.39,92.42 L71.47,93.22 L71.54,94.01 L71.62,94.81 L71.69,95.60 L71.77,96.40 L71.85,97.20 L71.92,97.99 L72.00,98.79 L72.08,99.58 L72.16,100.38 L72.23,101.18 L72.31,101.97 L72.39,102.77 L72.47,103.56 L72.54,104.36 L72.62,105.16 L72.70,105.95 L72.78,106.75 L72.86,107.54 L72.94,108.34 L73.02,109.13 L73.10,109.93 L73.18,110.73 L73.26,111.52 L73.34,112.32 L73.42,113.11 L73.50,113.91 L73.58,114.70 L73.66,115.50 L73.74,116.30 L73.82,117.09 L73.90,117.89 L73.99,118.68 L74.07,119.48 L74.15,120.27 L74.23,121.07 L74.31,121.86 L74.40,122.66 L74.48,123.45 L74.56,124.25 L74.65,125.04 L74.73,125.84 L74.81,126.64 L74.90,127.43 L74.98,128.23 L75.07,129.02 L75.15,129.82 L75.24,130.61 L75.32,131.41 L75.41,132.20 L75.49,133.00 L75.58,133.79 L75.67,134.59 L75.75,135.38 L75.84,136.18 L75.93,136.97 L76.02,137.77 L76.10,138.56 L76.19,139.36 L76.28,140.15 L76.37,140.95 L76.46,141.74 L76.55,142.54 L76.63,143.33 L76.72,144.12 L76.81,144.92 L76.90,145.71 L76.99,146.51 L77.08,147.30 L77.18,148.10 L77.27,148.89 L77.36,149.69 L77.45,150.48 L77.54,151.28 L77.63,152.07 L77.73,152.86 L77.82,153.66 L77.91,154.45 L78.01,155.25 L78.10,156.04 L78.20,156.84 L78.29,157.63 L78.39,158.42 L78.48,159.22 L78.58,160.01 L78.67,160.81 L78.77,161.60 L78.87,162.39 L78.96,163.19 L79.06,163.98 L79.16,164.77 L79.26,165.57 L79.35,166.36 L79.45,167.15 L79.55,167.95 L79.65,168.74 L79.75,169.54 L79.85,170.33 L79.95,171.12 L80.05,171.92 L80.16,172.71 L80.26,173.50 L80.36,174.29 L80.46,175.09 L80.57,175.88 L80.67,176.67 L80.77,177.47 L80.88,178.26 L80.98,179.05 L81.09,179.85 L81.20,180.64 L81.30,181.43 L81.41,182.22 L81.52,183.02 L81.62,183.81 L81.73,184.60 L81.84,185.39 L81.95,186.18 L82.06,186.98 L82.17,187.77 L82.28,188.56 L82.39,189.35 L82.51,190.14 L82.62,190.94 L82.73,191.73 L82.84,192.52 L82.96,193.31 L83.07,194.10 L83.19,194.89 L83.31,195.68 L83.42,196.48 L83.54,197.27 L83.66,198.06 L83.78,198.85 L83.90,199.64 L84.02,200.43 L84.14,201.22 L84.26,202.01 L84.38,202.80 L84.50,203.59 L84.63,204.38 L84.75,205.17 L84.87,205.96 L85.00,206.75 L85.13,207.54 L85.25,208.33 L85.38,209.12 L85.51,209.91 L85.64,210.70 L85.77,211.49 L85.90,212.28 L86.04,213.06 L86.17,213.85 L86.30,214.64 L86.44,215.43 L86.57,216.22 L86.71,217.01 L86.85,217.79 L86.99,218.58 L87.13,219.37 L87.27,220.15 L87.41,220.94 L87.56,221.73 L87.70,222.51 L87.85,223.30 L88.00,224.09 L88.15,224.87 L88.30,225.66 L88.45,226.44 L88.60,227.23 L88.76,228.01 L88.91,228.80 L89.07,229.58 L89.23,230.37 L89.39,231.15 L89.55,231.93 L89.71,232.71 L89.88,233.50 L90.05,234.28 L90.22,235.06 L90.39,235.84 L90.56,236.62 L90.74,237.40 L90.92,238.18 L91.10,238.96 L91.28,239.74 L91.46,240.52 L91.65,241.30 L91.84,242.07 L92.03,242.85 L92.23,243.62 L92.43,244.40 L92.63,245.17 L92.84,245.94 L93.04,246.72 L93.26,247.49 L93.47,248.26 L93.69,249.03 L93.92,249.79 L94.15,250.56 L94.38,251.32 L94.62,252.09 L94.87,252.85 L95.12,253.61 L95.38,254.36 L95.64,255.12 L95.92,255.87 L96.20,256.62 L96.49,257.36 L96.79,258.11 L97.10,258.84 L97.42,259.57 L97.75,260.30 L98.10,261.02 L98.47,261.73 L98.86,262.43 L99.27,263.12 L99.71,263.79 L100.17,264.43 L100.68,265.05 L101.23,265.63 L101.84,266.15 L102.50,266.59 L103.24,266.90 L104.02,267.05 L104.82,266.99 L105.58,266.74 L106.28,266.35 L106.91,265.87 L107.49,265.32 L108.02,264.72 L108.51,264.09 L108.97,263.43 L109.40,262.76 L109.81,262.07 L110.20,261.37 L110.57,260.66 L110.93,259.95 L111.27,259.22 L111.59,258.49 L111.91,257.76 L112.22,257.02 L112.52,256.28 L112.81,255.54 L113.09,254.79 L113.37,254.04 L113.64,253.28 L113.90,252.53 L114.16,251.77 L114.41,251.01 L114.66,250.25 L114.90,249.49 L115.14,248.73 L115.38,247.96 L115.61,247.20 L115.84,246.43 L116.06,245.66 L116.28,244.90 L116.50,244.13 L116.72,243.36 L116.93,242.59 L117.14,241.81 L117.34,241.04 L117.55,240.27 L117.75,239.49 L117.95,238.72 L118.15,237.95 L118.35,237.17 L118.54,236.39 L118.73,235.62 L118.92,234.84 L119.11,234.06 L119.30,233.29 L119.48,232.51 L119.66,231.73 L119.85,230.95 L120.03,230.17 L120.21,229.39 L120.38,228.61 L120.56,227.83 L120.74,227.05 L120.91,226.27 L121.08,225.49 L121.25,224.71 L121.42,223.93 L121.59,223.15 L121.76,222.37 L121.93,221.58 L122.10,220.80 L122.26,220.02 L122.43,219.24 L122.59,218.45 L122.75,217.67 L122.91,216.89 L123.07,216.10 L123.23,215.32 L123.39,214.54 L123.55,213.75 L123.71,212.97 L123.87,212.18 L124.02,211.40 L124.18,210.62 L124.33,209.83 L124.49,209.05 L124.64,208.26 L124.80,207.48 L124.95,206.69 L125.10,205.91 L125.25,205.12 L125.40,204.34 L125.55,203.55 L125.70,202.77 L125.85,201.98 L126.00,201.19 L126.15,200.41 L126.30,199.62 L126.45,198.84 L126.59,198.05 L126.74,197.26 L126.89,196.48 L127.03,195.69 L127.18,194.91 L127.32,194.12 L127.47,193.33 L127.61,192.55 L127.76,191.76 L127.90,190.97 L128.04,190.19 L128.19,189.40 L128.33,188.61 L128.47,187.83 L128.61,187.04 L128.76,186.25 L128.90,185.46 L129.04,184.68 L129.18,183.89 L129.32,183.10 L129.46,182.32 L129.60,181.53 L129.74,180.74 L129.88,179.95 L130.02,179.17 L130.16,178.38 L130.30,177.59 L130.44,176.80 L130.58,176.02 L130.72,175.23 L130.86,174.44 L131.00,173.65 L131.14,172.87 L131.27,172.08 L131.41,171.29 L131.55,170.50 L131.69,169.72 L131.83,168.93 L131.96,168.14 L132.10,167.35 L132.24,166.57 L132.38,165.78 L132.51,164.99 L132.65,164.20 L132.79,163.41 L132.93,162.63 L133.06,161.84 L133.20,161.05 L133.34,160.26 L133.48,159.47 L133.61,158.69 L133.75,157.90 L133.89,157.11 L134.02,156.32 L134.16,155.54 L134.30,154.75 L134.44,153.96 L134.57,153.17 L134.71,152.38 L134.85,151.60 L134.99,150.81 L135.12,150.02 L135.26,149.23 L135.40,148.45 L135.54,147.66 L135.67,146.87 L135.81,146.08 L135.95,145.29 L136.09,144.51 L136.22,143.72 L136.36,142.93 L136.50,142.14 L136.64,141.36 L136.78,140.57 L136.92,139.78 L137.05,138.99 L137.19,138.21 L137.33,137.42 L137.47,136.63 L137.61,135.84 L137.75,135.06 L137.89,134.27 L138.03,133.48 L138.17,132.69 L138.31,131.91 L138.45,131.12 L138.59,130.33 L138.73,129.54 L138.87,128.76 L139.01,127.97 L139.16,127.18 L139.30,126.40 L139.44,125.61 L139.58,124.82 L139.72,124.04 L139.87,123.25 L140.01,122.46 L140.15,121.67 L140.30,120.89 L140.44,120.10 L140.58,119.31 L140.73,118.53 L140.87,117.74 L141.02,116.96 L141.16,116.17 L141.31,115.38 L141.46,114.60 L141.60,113.81 L141.75,113.02 L141.90,112.24 L142.05,111.45 L142.19,110.67 L142.34,109.88 L142.49,109.09 L142.64,108.31 L142.79,107.52 L142.94,106.74 L143.09,105.95 L143.24,105.17 L143.39,104.38 L143.55,103.60 L143.70,102.81 L143.85,102.03 L144.01,101.24 L144.16,100.46 L144.31,99.67 L144.47,98.89 L144.62,98.10 L144.78,97.32 L144.94,96.54 L145.10,95.75 L145.25,94.97 L145.41,94.18 L145.57,93.40 L145.73,92.62 L145.89,91.83 L146.05,91.05 L146.22,90.27 L146.38,89.48 L146.54,88.70 L146.71,87.92 L146.87,87.14 L147.04,86.35 L147.20,85.57 L147.37,84.79 L147.54,84.01 L147.71,83.23 L147.88,82.45 L148.05,81.66 L148.22,80.88 L148.39,80.10 L148.57,79.32 L148.74,78.54 L148.92,77.76 L149.09,76.98 L149.27,76.20 L149.45,75.42 L149.63,74.64 L149.81,73.86 L149.99,73.08 L150.18,72.31 L150.36,71.53 L150.55,70.75 L150.73,69.97 L150.92,69.20 L151.11,68.42 L151.30,67.64 L151.49,66.87 L151.69,66.09 L151.88,65.31 L152.08,64.54 L152.28,63.76 L152.48,62.99 L152.68,62.22 L152.88,61.44 L153.08,60.67 L153.29,59.90 L153.50,59.12 L153.71,58.35 L153.92,57.58 L154.13,56.81 L154.35,56.04 L154.57,55.27 L154.79,54.50 L155.01,53.73 L155.23,52.97 L155.46,52.20 L155.69,51.43 L155.92,50.67 L156.16,49.90 L156.39,49.14 L156.63,48.38 L156.88,47.62 L157.12,46.85 L157.37,46.09 L157.62,45.34 L157.88,44.58 L158.14,43.82 L158.40,43.07 L158.67,42.31 L158.94,41.56 L159.21,40.81 L159.49,40.06 L159.77,39.31 L160.06,38.56 L160.35,37.82 L160.65,37.08 L160.95,36.34 L161.26,35.60 L161.58,34.86 L161.90,34.13 L162.23,33.40 L162.56,32.68 L162.90,31.95 L163.25,31.23 L163.61,30.52 L163.97,29.81 L164.35,29.10 L164.73,28.40 L165.13,27.70 L165.54,27.02 L165.95,26.33 L166.39,25.66 L166.83,25.00 L167.29,24.34 L167.77,23.70 L168.26,23.07 L168.77,22.46 L169.30,21.86 L169.86,21.28 L170.43,20.73 L171.03,20.20 L171.66,19.70 L172.31,19.24 L173.00,18.83 L173.71,18.46 L174.44,18.14 L175.20,17.89 L175.98,17.71 L176.77,17.59 L177.57,17.55 L178.37,17.59 L179.16,17.69 L179.94,17.86 L180.71,18.09 L181.46,18.37 L182.19,18.69 L182.90,19.06 L183.59,19.46 L184.26,19.89 L184.92,20.35 L185.55,20.83 L186.18,21.34 L186.78,21.86 L187.38,22.39 L187.96,22.94 L188.52,23.51 L189.08,24.08 L189.63,24.67 L190.16,25.26 L190.69,25.86 L191.21,26.47 L191.72,27.09 L192.22,27.71 L192.71,28.34 L193.20,28.97 L193.68,29.61 L194.16,30.25 L194.62,30.90 L195.09,31.55 L195.55,32.21 L196.00,32.87 L196.45,33.53 L196.89,34.19 L197.33,34.86 L197.77,35.53 L198.20,36.20 L198.63,36.88 L199.06,37.56 L199.48,38.24 L199.90,38.92 L200.31,39.60 L200.73,40.29 L201.14,40.97 L201.54,41.66 L201.95,42.35 L202.35,43.04 L202.75,43.73 L203.15,44.43 L203.54,45.12 L203.94,45.82 L204.33,46.52 L204.72,47.21 L205.11,47.91 L205.49,48.61 L205.88,49.32 L206.26,50.02 L206.64,50.72 L207.02,51.42 L207.40,52.13 L207.77,52.83 L208.15,53.54 L208.52,54.25 L208.90,54.96 L209.27,55.66 L209.64,56.37 L210.01,57.08 L210.37,57.79 L210.74,58.50 L211.11,59.21 L211.47,59.92 L211.84,60.64 L212.20,61.35 L212.56,62.06 L212.92,62.78 L213.29,63.49 L213.65,64.20 L214.00,64.92 L214.36,65.63 L214.72,66.35 L215.08,67.06 L215.43,67.78 L215.79,68.50 L216.15,69.21 L216.50,69.93 L216.86,70.65 L217.21,71.36 L217.56,72.08 L217.91,72.80 L218.27,73.52 L218.62,74.23 L218.97,74.95 L219.32,75.67 L219.67,76.39 L220.02,77.11 L220.37,77.83 L220.72,78.55 L221.07,79.26 L221.42,79.98 L221.77,80.70 L222.12,81.42 L222.47,82.14 L222.82,82.86 L223.16,83.58 L223.51,84.30 L223.86,85.02 L224.21,85.74 L224.55,86.46 L224.90,87.18 L225.25,87.90 L225.60,88.63 L225.94,89.35 L226.29,90.07 L226.64,90.79 L226.98,91.51 L227.33,92.23 L227.68,92.95 L228.02,93.67 L228.37,94.39 L228.72,95.11 L229.06,95.83 L229.41,96.55 L229.76,97.27 L230.10,97.99 L230.45,98.72 L230.79,99.44 L231.14,100.16 L231.49,100.88 L231.84,101.60 L232.18,102.32 L232.53,103.04 L232.88,103.76 L233.22,104.48 L233.57,105.20 L233.92,105.92 L234.27,106.64 L234.61,107.36 L234.96,108.08 L235.31,108.80 L235.66,109.52 L236.01,110.24 L236.35,110.96 L236.70,111.68 L237.05,112.40 L237.40,113.12 L237.75,113.84 L238.10,114.56 L238.45,115.28 L238.80,116.00 L239.15,116.71 L239.50,117.43 L239.85,118.15 L240.20,118.87 L240.55,119.59 L240.90,120.31 L241.26,121.03 L241.61,121.74 L241.96,122.46 L242.31,123.18 L242.67,123.90 L243.02,124.61 L243.37,125.33 L243.73,126.05 L244.08,126.77 L244.44,127.48 L244.79,128.20 L245.15,128.92 L245.50,129.63 L245.86,130.35 L246.21,131.06 L246.57,131.78 L246.93,132.50 L247.28,133.21 L247.64,133.93 L248.00,134.64 L248.36,135.36 L248.71,136.07 L249.07,136.79 L249.43,137.50 L249.79,138.22 L250.15,138.93 L250.51,139.64 L250.87,140.36 L251.24,141.07 L251.60,141.78 L251.96,142.50 L252.32,143.21 L252.69,143.92 L253.05,144.63 L253.41,145.35 L253.78,146.06 L254.14,146.77 L254.51,147.48 L254.87,148.19 L255.24,148.90 L255.61,149.61 L255.97,150.32 L256.34,151.03 L256.71,151.74 L257.08,152.45 L257.45,153.16 L257.82,153.87 L258.19,154.58 L258.56,155.29 L258.93,156.00 L259.30,156.71 L259.67,157.42 L260.04,158.12 L260.41,158.83 L260.79,159.54 L261.16,160.25 L261.54,160.95 L261.91,161.66 L262.29,162.36 L262.66,163.07 L263.04,163.78 L263.42,164.48 L263.79,165.19 L264.17,165.89 L264.55,166.60 L264.93,167.30 L265.31,168.00 L265.69,168.71 L266.07,169.41 L266.45,170.11 L266.83,170.82 L267.21,171.52 L267.60,172.22 L267.98,172.92 L268.36,173.62 L268.75,174.32 L269.13,175.03 L269.52,175.73 L269.91,176.43 L270.29,177.13 L270.68,177.83 L271.07,178.52 L271.46,179.22 L271.85,179.92 L272.24,180.62 L272.63,181.32 L273.02,182.02 L273.41,182.71 L273.80,183.41 L274.19,184.11 L274.59,184.80 L274.98,185.50 L275.38,186.19 L275.77,186.89 L276.17,187.58 L276.56,188.28 L276.96,188.97 L277.36,189.67 L277.76,190.36 L278.16,191.05 L278.56,191.75 L278.96,192.44 L279.36,193.13 L279.76,193.82 L280.16,194.51 L280.56,195.20 L280.97,195.90 L281.37,196.59 L281.77,197.28 L282.18,197.96 L282.59,198.65 L282.99,199.34 L283.40,200.03 L283.81,200.72 L284.22,201.41 L284.63,202.09 L285.04,202.78 L285.45,203.47 L285.86,204.15 L286.27,204.84 L286.68,205.52 L287.09,206.21 L287.51,206.89 L287.92,207.58 L288.34,208.26 L288.75,208.94 L289.17,209.62 L289.59,210.31 L290.00,210.99 L290.42,211.67 L290.84,212.35 L291.26,213.03 L291.68,213.71 L292.10,214.39 L292.53,215.07 L292.95,215.75 L293.37,216.43 L293.80,217.11 L294.22,217.78 L294.65,218.46 L295.07,219.14 L295.50,219.81 L295.93,220.49 L296.36,221.17 L296.78,221.84 L297.21,222.51 L297.64,223.19 L298.08,223.86 L298.51,224.54 L298.94,225.21 L299.37,225.88 L299.81,226.55 L300.24,227.22 L300.68,227.89 L301.11,228.56 L301.55,229.23 L301.99,229.90 L302.42,230.57 L302.86,231.24 L303.30,231.91 L303.74,232.58 L304.18,233.24 L304.63,233.91 L305.07,234.58 L305.51,235.24 L305.96,235.91 L306.40,236.57 L306.85,237.24 L307.29,237.90 L307.74,238.56 L308.19,239.23 L308.63,239.89 L309.08,240.55 L309.53,241.21 L309.98,241.87 L310.44,242.53 L310.89,243.19 L311.34,243.85 L311.79,244.51 L312.25,245.17 L312.70,245.83 L313.16,246.48 L313.62,247.14 L314.07,247.80 L314.53,248.45 L314.99,249.11 L315.45,249.76 L315.91,250.41 L316.37,251.07 L316.83,251.72 L317.29,252.37 L317.76,253.03 L318.22,253.68 L318.69,254.33 L319.15,254.98 L319.62,255.63 L320.08,256.28 L320.55,256.93 L321.02,257.57 L321.49,258.22 L321.96,258.87 L322.43,259.51 L322.90,260.16 L323.37,260.81 L323.85,261.45 L324.32,262.09 L324.80,262.74 L325.27,263.38 L325.75,264.02 L326.22,264.67 L326.70,265.31 L327.18,265.95 L327.66,266.59 L328.14,267.23 L328.62,267.87 L329.10,268.51 L329.58,269.14 L330.07,269.78 L330.55,270.42 L331.03,271.05 L331.52,271.69 L332.01,272.33 L332.49,272.96 L332.98,273.59 L333.47,274.23 L333.96,274.86 L334.45,275.49 L334.94,276.12 L335.43,276.75 L335.92,277.38 L336.41,278.01 L336.91,278.64 L337.40,279.27 L337.90,279.90 L338.39,280.53 L338.89,281.15 L339.39,281.78" fill="none" stroke="#ff00ff" stroke-width="1.9" stroke-linejoin="round" stroke-dasharray="6 2.5 1.6 2.5 1.6 2.5" stroke-dashoffset="0" clip-path="url(#ca1)"/>
<path d="M64.10,7.16 L64.16,7.96 L64.22,8.76 L64.29,9.56 L64.35,10.35 L64.41,11.15 L64.47,11.95 L64.54,12.74 L64.60,13.54 L64.66,14.34 L64.72,15.14 L64.79,15.93 L64.85,16.73 L64.91,17.53 L64.98,18.33 L65.04,19.12 L65.10,19.92 L65.17,20.72 L65.23,21.51 L65.30,22.31 L65.36,23.11 L65.42,23.91 L65.49,24.70 L65.55,25.50 L65.62,26.30 L65.68,27.09 L65.74,27.89 L65.81,28.69 L65.87,29.48 L65.94,30.28 L66.00,31.08 L66.07,31.88 L66.13,32.67 L66.20,33.47 L66.27,34.27 L66.33,35.06 L66.40,35.86 L66.46,36.66 L66.53,37.46 L66.59,38.25 L66.66,39.05 L66.73,39.85 L66.79,40.64 L66.86,41.44 L66.93,42.24 L66.99,43.03 L67.06,43.83 L67.13,44.63 L67.19,45.42 L67.26,46.22 L67.33,47.02 L67.40,47.81 L67.46,48.61 L67.53,49.41 L67.60,50.21 L67.67,51.00 L67.73,51.80 L67.80,52.60 L67.87,53.39 L67.94,54.19 L68.01,54.99 L68.08,55.78 L68.15,56.58 L68.21,57.38 L68.28,58.17 L68.35,58.97 L68.42,59.77 L68.49,60.56 L68.56,61.36 L68.63,62.16 L68.70,62.95 L68.77,63.75 L68.84,64.55 L68.91,65.34 L68.98,66.14 L69.05,66.94 L69.12,67.73 L69.19,68.53 L69.27,69.33 L69.34,70.12 L69.41,70.92 L69.48,71.72 L69.55,72.51 L69.62,73.31 L69.70,74.10 L69.77,74.90 L69.84,75.70 L69.91,76.49 L69.98,77.29 L70.06,78.09 L70.13,78.88 L70.20,79.68 L70.28,80.48 L70.35,81.27 L70.42,82.07 L70.50,82.86 L70.57,83.66 L70.64,84.46 L70.72,85.25 L70.79,86.05 L70.87,86.85 L70.94,87.64 L71.02,88.44 L71.09,89.23 L71.16,90.03 L71.24,90.83 L71.32,91.62 L71.39,92.42 L71.47,93.22 L71.54,94.01 L71.62,94.81 L71.69,95.60 L71.77,96.40 L71.85,97.20 L71.92,97.99 L72.00,98.79 L72.08,99.58 L72.16,100.38 L72.23,101.18 L72.31,101.97 L72.39,102.77 L72.47,103.56 L72.54,104.36 L72.62,105.16 L72.70,105.95 L72.78,106.75 L72.86,107.54 L72.94,108.34 L73.02,109.13 L73.10,109.93 L73.18,110.73 L73.26,111.52 L73.34,112.32 L73.42,113.11 L73.50,113.91 L73.58,114.70 L73.66,115.50 L73.74,116.30 L73.82,117.09 L73.90,117.89 L73.99,118.68 L74.07,119.48 L74.15,120.27 L74.23,121.07 L74.31,121.86 L74.40,122.66 L74.48,123.45 L74.56,124.25 L74.65,125.04 L74.73,125.84 L74.81,126.64 L74.90,127.43 L74.98,128.23 L75.07,129.02 L75.15,129.82 L75.24,130.61 L75.32,131.41 L75.41,132.20 L75.49,133.00 L75.58,133.79 L75.67,134.59 L75.75,135.38 L75.84,136.18 L75.93,136.97 L76.02,137.77 L76.10,138.56 L76.19,139.36 L76.28,140.15 L76.37,140.95 L76.46,141.74 L76.55,142.54 L76.63,143.33 L76.72,144.12 L76.81,144.92 L76.90,145.71 L76.99,146.51 L77.08,147.30 L77.18,148.10 L77.27,148.89 L77.36,149.69 L77.45,150.48 L77.54,151.28 L77.63,152.07 L77.73,152.86 L77.82,153.66 L77.91,154.45 L78.01,155.25 L78.10,156.04 L78.20,156.84 L78.29,157.63 L78.39,158.42 L78.48,159.22 L78.58,160.01 L78.67,160.81 L78.77,161.60 L78.87,162.39 L78.96,163.19 L79.06,163.98 L79.16,164.77 L79.26,165.57 L79.35,166.36 L79.45,167.15 L79.55,167.95 L79.65,168.74 L79.75,169.54 L79.85,170.33 L79.95,171.12 L80.05,171.92 L80.16,172.71 L80.26,173.50 L80.36,174.29 L80.46,175.09 L80.57,175.88 L80.67,176.67 L80.77,177.47 L80.88,178.26 L80.98,179.05 L81.09,179.85 L81.20,180.64 L81.30,181.43 L81.41,182.22 L81.52,183.02 L81.62,183.81 L81.73,184.60 L81.84,185.39 L81.95,186.18 L82.06,186.98 L82.17,187.77 L82.28,188.56 L82.39,189.35 L82.51,190.14 L82.62,190.94 L82.73,191.73 L82.84,192.52 L82.96,193.31 L83.07,194.10 L83.19,194.89 L83.31,195.68 L83.42,196.48 L83.54,197.27 L83.66,198.06 L83.78,198.85 L83.90,199.64 L84.02,200.43 L84.14,201.22 L84.26,202.01 L84.38,202.80 L84.50,203.59 L84.63,204.38 L84.75,205.17 L84.87,205.96 L85.00,206.75 L85.13,207.54 L85.25,208.33 L85.38,209.12 L85.51,209.91 L85.64,210.70 L85.77,211.49 L85.90,212.28 L86.04,213.06 L86.17,213.85 L86.30,214.64 L86.44,215.43 L86.57,216.22 L86.71,217.01 L86.85,217.79 L86.99,218.58 L87.13,219.37 L87.27,220.15 L87.41,220.94 L87.56,221.73 L87.70,222.51 L87.85,223.30 L88.00,224.09 L88.15,224.87 L88.30,225.66 L88.45,226.44 L88.60,227.23 L88.76,228.01 L88.91,228.80 L89.07,229.58 L89.23,230.37 L89.39,231.15 L89.55,231.93 L89.71,232.71 L89.88,233.50 L90.05,234.28 L90.22,235.06 L90.39,235.84 L90.56,236.62 L90.74,237.40 L90.92,238.18 L91.10,238.96 L91.28,239.74 L91.46,240.52 L91.65,241.30 L91.84,242.07 L92.03,242.85 L92.23,243.62 L92.43,244.40 L92.63,245.17 L92.84,245.94 L93.04,246.72 L93.26,247.49 L93.47,248.26 L93.69,249.03 L93.92,249.79 L94.15,250.56 L94.38,251.32 L94.62,252.09 L94.87,252.85 L95.12,253.61 L95.38,254.36 L95.64,255.12 L95.92,255.87 L96.20,256.62 L96.49,257.36 L96.79,258.11 L97.10,258.84 L97.42,259.57 L97.75,260.30 L98.10,261.02 L98.47,261.73 L98.86,262.43 L99.27,263.12 L99.71,263.79 L100.17,264.43 L100.68,265.05 L101.23,265.63 L101.84,266.15 L102.50,266.59 L103.24,266.90 L104.02,267.05 L104.82,266.99 L105.58,266.74 L106.28,266.35 L106.91,265.87 L107.49,265.32 L108.02,264.72 L108.51,264.09 L108.97,263.43 L109.40,262.76 L109.81,262.07 L110.20,261.37 L110.57,260.66 L110.93,259.95 L111.27,259.22 L111.59,258.49 L111.91,257.76 L112.22,257.02 L112.52,256.28 L112.81,255.54 L113.09,254.79 L113.37,254.04 L113.64,253.28 L113.90,252.53 L114.16,251.77 L114.41,251.01 L114.66,250.25 L114.90,249.49 L115.14,248.73 L115.38,247.96 L115.61,247.20 L115.84,246.43 L116.06,245.66 L116.28,244.90 L116.50,244.13 L116.72,243.36 L116.93,242.59 L117.14,241.81 L117.34,241.04 L117.55,240.27 L117.75,239.49 L117.95,238.72 L118.15,237.95 L118.35,237.17 L118.54,236.39 L118.73,235.62 L118.92,234.84 L119.11,234.06 L119.30,233.29 L119.48,232.51 L119.66,231.73 L119.85,230.95 L120.03,230.17 L120.21,229.39 L120.38,228.61 L120.56,227.83 L120.74,227.05 L120.91,226.27 L121.08,225.49 L121.25,224.71 L121.42,223.93 L121.59,223.15 L121.76,222.37 L121.93,221.58 L122.10,220.80 L122.26,220.02 L122.43,219.24 L122.59,218.45 L122.75,217.67 L122.91,216.89 L123.07,216.10 L123.23,215.32 L123.39,214.54 L123.55,213.75 L123.71,212.97 L123.87,212.18 L124.02,211.40 L124.18,210.62 L124.33,209.83 L124.49,209.05 L124.64,208.26 L124.80,207.48 L124.95,206.69 L125.10,205.91 L125.25,205.12 L125.40,204.34 L125.55,203.55 L125.70,202.77 L125.85,201.98 L126.00,201.19 L126.15,200.41 L126.30,199.62 L126.45,198.84 L126.59,198.05 L126.74,197.26 L126.89,196.48 L127.03,195.69 L127.18,194.91 L127.32,194.12 L127.47,193.33 L127.61,192.55 L127.76,191.76 L127.90,190.97 L128.04,190.19 L128.19,189.40 L128.33,188.61 L128.47,187.83 L128.61,187.04 L128.76,186.25 L128.90,185.46 L129.04,184.68 L129.18,183.89 L129.32,183.10 L129.46,182.32 L129.60,181.53 L129.74,180.74 L129.88,179.95 L130.02,179.17 L130.16,178.38 L130.30,177.59 L130.44,176.80 L130.58,176.02 L130.72,175.23 L130.86,174.44 L131.00,173.65 L131.14,172.87 L131.27,172.08 L131.41,171.29 L131.55,170.50 L131.69,169.72 L131.83,168.93 L131.96,168.14 L132.10,167.35 L132.24,166.57 L132.38,165.78 L132.51,164.99 L132.65,164.20 L132.79,163.41 L132.93,162.63 L133.06,161.84 L133.20,161.05 L133.34,160.26 L133.48,159.47 L133.61,158.69 L133.75,157.90 L133.89,157.11 L134.02,156.32 L134.16,155.54 L134.30,154.75 L134.44,153.96 L134.57,153.17 L134.71,152.38 L134.85,151.60 L134.99,150.81 L135.12,150.02 L135.26,149.23 L135.40,148.45 L135.54,147.66 L135.67,146.87 L135.81,146.08 L135.95,145.29 L136.09,144.51 L136.22,143.72 L136.36,142.93 L136.50,142.14 L136.64,141.36 L136.78,140.57 L136.92,139.78 L137.05,138.99 L137.19,138.21 L137.33,137.42 L137.47,136.63 L137.61,135.84 L137.75,135.06 L137.89,134.27 L138.03,133.48 L138.17,132.69 L138.31,131.91 L138.45,131.12 L138.59,130.33 L138.73,129.54 L138.87,128.76 L139.01,127.97 L139.16,127.18 L139.30,126.40 L139.44,125.61 L139.58,124.82 L139.72,124.04 L139.87,123.25 L140.01,122.46 L140.15,121.67 L140.30,120.89 L140.44,120.10 L140.58,119.31 L140.73,118.53 L140.87,117.74 L141.02,116.96 L141.16,116.17 L141.31,115.38 L141.46,114.60 L141.60,113.81 L141.75,113.02 L141.90,112.24 L142.05,111.45 L142.19,110.67 L142.34,109.88 L142.49,109.09 L142.64,108.31 L142.79,107.52 L142.94,106.74 L143.09,105.95 L143.24,105.17 L143.39,104.38 L143.55,103.60 L143.70,102.81 L143.85,102.03 L144.01,101.24 L144.16,100.46 L144.31,99.67 L144.47,98.89 L144.62,98.10 L144.78,97.32 L144.94,96.54 L145.10,95.75 L145.25,94.97 L145.41,94.18 L145.57,93.40 L145.73,92.62 L145.89,91.83 L146.05,91.05 L146.22,90.27 L146.38,89.48 L146.54,88.70 L146.71,87.92 L146.87,87.14 L147.04,86.35 L147.20,85.57 L147.37,84.79 L147.54,84.01 L147.71,83.23 L147.88,82.45 L148.05,81.66 L148.22,80.88 L148.39,80.10 L148.57,79.32 L148.74,78.54 L148.92,77.76 L149.09,76.98 L149.27,76.20 L149.45,75.42 L149.63,74.64 L149.81,73.86 L149.99,73.08 L150.18,72.31 L150.36,71.53 L150.55,70.75 L150.73,69.97 L150.92,69.20 L151.11,68.42 L151.30,67.64 L151.49,66.87 L151.69,66.09 L151.88,65.31 L152.08,64.54 L152.28,63.76 L152.48,62.99 L152.68,62.22 L152.88,61.44 L153.08,60.67 L153.29,59.90 L153.50,59.12 L153.71,58.35 L153.92,57.58 L154.13,56.81 L154.35,56.04 L154.57,55.27 L154.79,54.50 L155.01,53.73 L155.23,52.97 L155.46,52.20 L155.69,51.43 L155.92,50.67 L156.16,49.90 L156.39,49.14 L156.63,48.38 L156.88,47.62 L157.12,46.85 L157.37,46.09 L157.62,45.34 L157.88,44.58 L158.14,43.82 L158.40,43.07 L158.67,42.31 L158.94,41.56 L159.21,40.81 L159.49,40.06 L159.77,39.31 L160.06,38.56 L160.35,37.82 L160.65,37.08 L160.95,36.34 L161.26,35.60 L161.58,34.86 L161.90,34.13 L162.23,33.40 L162.56,32.68 L162.90,31.95 L163.25,31.23 L163.61,30.52 L163.97,29.81 L164.35,29.10 L164.73,28.40 L165.13,27.70 L165.54,27.02 L165.95,26.33 L166.39,25.66 L166.83,25.00 L167.29,24.34 L167.77,23.70 L168.26,23.07 L168.77,22.46 L169.30,21.86 L169.86,21.28 L170.43,20.73 L171.03,20.20 L171.66,19.70 L172.31,19.24 L173.00,18.83 L173.71,18.46 L174.44,18.14 L175.20,17.89 L175.98,17.71 L176.77,17.59 L177.57,17.55 L178.37,17.59 L179.16,17.69 L179.94,17.86 L180.71,18.09 L181.46,18.37 L182.19,18.69 L182.90,19.06 L183.59,19.46 L184.26,19.89 L184.92,20.35 L185.55,20.83 L186.18,21.34 L186.78,21.86 L187.38,22.39 L187.96,22.94 L188.52,23.51 L189.08,24.08 L189.63,24.67 L190.16,25.26 L190.69,25.86 L191.21,26.47 L191.72,27.09 L192.22,27.71 L192.71,28.34 L193.20,28.97 L193.68,29.61 L194.16,30.25 L194.62,30.90 L195.09,31.55 L195.55,32.21 L196.00,32.87 L196.45,33.53 L196.89,34.19 L197.33,34.86 L197.77,35.53 L198.20,36.20 L198.63,36.88 L199.06,37.56 L199.48,38.24 L199.90,38.92 L200.31,39.60 L200.73,40.29 L201.14,40.97 L201.54,41.66 L201.95,42.35 L202.35,43.04 L202.75,43.73 L203.15,44.43 L203.54,45.12 L203.94,45.82 L204.33,46.52 L204.72,47.21 L205.11,47.91 L205.49,48.61 L205.88,49.32 L206.26,50.02 L206.64,50.72 L207.02,51.42 L207.40,52.13 L207.77,52.83 L208.15,53.54 L208.52,54.25 L208.90,54.96 L209.27,55.66 L209.64,56.37 L210.01,57.08 L210.37,57.79 L210.74,58.50 L211.11,59.21 L211.47,59.92 L211.84,60.64 L212.20,61.35 L212.56,62.06 L212.92,62.78 L213.29,63.49 L213.65,64.20 L214.00,64.92 L214.36,65.63 L214.72,66.35 L215.08,67.06 L215.43,67.78 L215.79,68.50 L216.15,69.21 L216.50,69.93 L216.86,70.65 L217.21,71.36 L217.56,72.08 L217.91,72.80 L218.27,73.52 L218.62,74.23 L218.97,74.95 L219.32,75.67 L219.67,76.39 L220.02,77.11 L220.37,77.83 L220.72,78.55 L221.07,79.26 L221.42,79.98 L221.77,80.70 L222.12,81.42 L222.47,82.14 L222.82,82.86 L223.16,83.58 L223.51,84.30 L223.86,85.02 L224.21,85.74 L224.55,86.46 L224.90,87.18 L225.25,87.90 L225.60,88.63 L225.94,89.35 L226.29,90.07 L226.64,90.79 L226.98,91.51 L227.33,92.23 L227.68,92.95 L228.02,93.67 L228.37,94.39 L228.72,95.11 L229.06,95.83 L229.41,96.55 L229.76,97.27 L230.10,97.99 L230.45,98.72 L230.79,99.44 L231.14,100.16 L231.49,100.88 L231.84,101.60 L232.18,102.32 L232.53,103.04 L232.88,103.76 L233.22,104.48 L233.57,105.20 L233.92,105.92 L234.27,106.64 L234.61,107.36 L234.96,108.08 L235.31,108.80 L235.66,109.52 L236.01,110.24 L236.35,110.96 L236.70,111.68 L237.05,112.40 L237.40,113.12 L237.75,113.84 L238.10,114.56 L238.45,115.28 L238.80,116.00 L239.15,116.71 L239.50,117.43 L239.85,118.15 L240.20,118.87 L240.55,119.59 L240.90,120.31 L241.26,121.03 L241.61,121.74 L241.96,122.46 L242.31,123.18 L242.67,123.90 L243.02,124.61 L243.37,125.33 L243.73,126.05 L244.08,126.77 L244.44,127.48 L244.79,128.20 L245.15,128.92 L245.50,129.63 L245.86,130.35 L246.21,131.06 L246.57,131.78 L246.93,132.50 L247.28,133.21 L247.64,133.93 L248.00,134.64 L248.36,135.36 L248.71,136.07 L249.07,136.79 L249.43,137.50 L249.79,138.22 L250.15,138.93 L250.51,139.64 L250.87,140.36 L251.24,141.07 L251.60,141.78 L251.96,142.50 L252.32,143.21 L252.69,143.92 L253.05,144.63 L253.41,145.35 L253.78,146.06 L254.14,146.77 L254.51,147.48 L254.87,148.19 L255.24,148.90 L255.61,149.61 L255.97,150.32 L256.34,151.03 L256.71,151.74 L257.08,152.45 L257.45,153.16 L257.82,153.87 L258.19,154.58 L258.56,155.29 L258.93,156.00 L259.30,156.71 L259.67,157.42 L260.04,158.12 L260.41,158.83 L260.79,159.54 L261.16,160.25 L261.54,160.95 L261.91,161.66 L262.29,162.36 L262.66,163.07 L263.04,163.78 L263.42,164.48 L263.79,165.19 L264.17,165.89 L264.55,166.60 L264.93,167.30 L265.31,168.00 L265.69,168.71 L266.07,169.41 L266.45,170.11 L266.83,170.82 L267.21,171.52 L267.60,172.22 L267.98,172.92 L268.36,173.62 L268.75,174.32 L269.13,175.03 L269.52,175.73 L269.91,176.43 L270.29,177.13 L270.68,177.83 L271.07,178.52 L271.46,179.22 L271.85,179.92 L272.24,180.62 L272.63,181.32 L273.02,182.02 L273.41,182.71 L273.80,183.41 L274.19,184.11 L274.59,184.80 L274.98,185.50 L275.38,186.19 L275.77,186.89 L276.17,187.58 L276.56,188.28 L276.96,188.97 L277.36,189.67 L277.76,190.36 L278.16,191.05 L278.56,191.75 L278.96,192.44 L279.36,193.13 L279.76,193.82 L280.16,194.51 L280.56,195.20 L280.97,195.90 L281.37,196.59 L281.77,197.28 L282.18,197.96 L282.59,198.65 L282.99,199.34 L283.40,200.03 L283.81,200.72 L284.22,201.41 L284.63,202.09 L285.04,202.78 L285.45,203.47 L285.86,204.15 L286.27,204.84 L286.68,205.52 L287.09,206.21 L287.51,206.89 L287.92,207.58 L288.34,208.26 L288.75,208.94 L289.17,209.62 L289.59,210.31 L290.00,210.99 L290.42,211.67 L290.84,212.35 L291.26,213.03 L291.68,213.71 L292.10,214.39 L292.53,215.07 L292.95,215.75 L293.37,216.43 L293.80,217.11 L294.22,217.78 L294.65,218.46 L295.07,219.14 L295.50,219.81 L295.93,220.49 L296.36,221.17 L296.78,221.84 L297.21,222.51 L297.64,223.19 L298.08,223.86 L298.51,224.54 L298.94,225.21 L299.37,225.88 L299.81,226.55 L300.24,227.22 L300.68,227.89 L301.11,228.56 L301.55,229.23 L301.99,229.90 L302.42,230.57 L302.86,231.24 L303.30,231.91 L303.74,232.58 L304.18,233.24 L304.63,233.91 L305.07,234.58 L305.51,235.24 L305.96,235.91 L306.40,236.57 L306.85,237.24 L307.29,237.90 L307.74,238.56 L308.19,239.23 L308.63,239.89 L309.08,240.55 L309.53,241.21 L309.98,241.87 L310.44,242.53 L310.89,243.19 L311.34,243.85 L311.79,244.51 L312.25,245.17 L312.70,245.83 L313.16,246.48 L313.62,247.14 L314.07,247.80 L314.53,248.45 L314.99,249.11 L315.45,249.76 L315.91,250.41 L316.37,251.07 L316.83,251.72 L317.29,252.37 L317.76,253.03 L318.22,253.68 L318.69,254.33 L319.15,254.98 L319.62,255.63 L320.08,256.28 L320.55,256.93 L321.02,257.57 L321.49,258.22 L321.96,258.87 L322.43,259.51 L322.90,260.16 L323.37,260.81 L323.85,261.45 L324.32,262.09 L324.80,262.74 L325.27,263.38 L325.75,264.02 L326.22,264.67 L326.70,265.31 L327.18,265.95 L327.66,266.59 L328.14,267.23 L328.62,267.87 L329.10,268.51 L329.58,269.14 L330.07,269.78 L330.55,270.42 L331.03,271.05 L331.52,271.69 L332.01,272.33 L332.49,272.96 L332.98,273.59 L333.47,274.23 L333.96,274.86 L334.45,275.49 L334.94,276.12 L335.43,276.75 L335.92,277.38 L336.41,278.01 L336.91,278.64 L337.40,279.27 L337.90,279.90 L338.39,280.53 L338.89,281.15 L339.39,281.78" fill="none" stroke="#00ff00" stroke-width="1.7" stroke-linejoin="round" clip-path="url(#ca1)"/>
<line x1="47.4" y1="12.2" x2="47.4" y2="276.6" stroke="#000" stroke-width="1.6"/>
<line x1="46.6" y1="275.8" x2="341.8" y2="275.8" stroke="#000" stroke-width="1.6"/>
<line x1="47.4" y1="275.8" x2="47.4" y2="280.3" stroke="#000" stroke-width="1.3"/>
<text x="47.2" y="290.4" font-size="9.2" text-anchor="middle" font-weight="normal" font-style="normal" fill="#000" letter-spacing="2.2" stroke="#000" stroke-width="0.22">4</text>
<line x1="96.37" y1="275.8" x2="96.37" y2="280.3" stroke="#000" stroke-width="1.3"/>
<text x="96.17" y="290.4" font-size="9.2" text-anchor="middle" font-weight="normal" font-style="normal" fill="#000" letter-spacing="2.2" stroke="#000" stroke-width="0.22">6</text>
<line x1="145.33" y1="275.8" x2="145.33" y2="280.3" stroke="#000" stroke-width="1.3"/>
<text x="145.13" y="290.4" font-size="9.2" text-anchor="middle" font-weight="normal" font-style="normal" fill="#000" letter-spacing="2.2" stroke="#000" stroke-width="0.22">8</text>
<line x1="194.3" y1="275.8" x2="194.3" y2="280.3" stroke="#000" stroke-width="1.3"/>
<text x="194.1" y="290.4" font-size="9.2" text-anchor="middle" font-weight="normal" font-style="normal" fill="#000" letter-spacing="2.2" stroke="#000" stroke-width="0.22">10</text>
<line x1="243.27" y1="275.8" x2="243.27" y2="280.3" stroke="#000" stroke-width="1.3"/>
<text x="243.07" y="290.4" font-size="9.2" text-anchor="middle" font-weight="normal" font-style="normal" fill="#000" letter-spacing="2.2" stroke="#000" stroke-width="0.22">12</text>
<line x1="292.23" y1="275.8" x2="292.23" y2="280.3" stroke="#000" stroke-width="1.3"/>
<text x="292.03" y="290.4" font-size="9.2" text-anchor="middle" font-weight="normal" font-style="normal" fill="#000" letter-spacing="2.2" stroke="#000" stroke-width="0.22">14</text>
<line x1="341.2" y1="275.8" x2="341.2" y2="280.3" stroke="#000" stroke-width="1.3"/>
<text x="341" y="290.4" font-size="9.2" text-anchor="middle" font-weight="normal" font-style="normal" fill="#000" letter-spacing="2.2" stroke="#000" stroke-width="0.22">16</text>
<line x1="40.4" y1="12.8" x2="47.4" y2="12.8" stroke="#000" stroke-width="1.5"/>
<text x="36.2" y="15.1" font-size="9.2" text-anchor="end" font-weight="normal" font-style="normal" fill="#000" letter-spacing="2.6" stroke="#000" stroke-width="0.22">26</text>
<line x1="40.4" y1="71.24" x2="47.4" y2="71.24" stroke="#000" stroke-width="1.5"/>
<text x="36.2" y="73.54" font-size="9.2" text-anchor="end" font-weight="normal" font-style="normal" fill="#000" letter-spacing="2.6" stroke="#000" stroke-width="0.22">24</text>
<line x1="40.4" y1="129.69" x2="47.4" y2="129.69" stroke="#000" stroke-width="1.5"/>
<text x="36.2" y="131.99" font-size="9.2" text-anchor="end" font-weight="normal" font-style="normal" fill="#000" letter-spacing="2.6" stroke="#000" stroke-width="0.22">22</text>
<line x1="40.4" y1="188.13" x2="47.4" y2="188.13" stroke="#000" stroke-width="1.5"/>
<text x="36.2" y="190.43" font-size="9.2" text-anchor="end" font-weight="normal" font-style="normal" fill="#000" letter-spacing="2.6" stroke="#000" stroke-width="0.22">20</text>
<line x1="40.4" y1="246.58" x2="47.4" y2="246.58" stroke="#000" stroke-width="1.5"/>
<text x="36.2" y="248.88" font-size="9.2" text-anchor="end" font-weight="normal" font-style="normal" fill="#000" letter-spacing="2.6" stroke="#000" stroke-width="0.22">18</text>
<text transform="translate(8.4,157.4) rotate(-90)" text-anchor="middle" font-size="9.2" letter-spacing="0.35"><tspan font-size="10.4">V</tspan><tspan font-size="4.6" dy="3" dx="-0.7" font-style="italic">F</tspan><tspan dy="-3" dx="0.5" font-style="italic">(MeV)</tspan></text>
<text x="206" y="304" text-anchor="middle" font-size="8.3" letter-spacing="1.35" stroke="#000" stroke-width="0.15">r(<tspan font-style="italic" dx="0.8">fm</tspan> )</text>
<rect x="228.3" y="17.4" width="107.7" height="63.3" stroke="#666" stroke-width="1" fill="none"/>
<line x1="229.7" y1="22.9" x2="257" y2="22.9" stroke="#000" stroke-width="1.9" stroke-dasharray="1.8 8.0"/>
<text font-size="8.4" font-weight="bold" stroke="#000" stroke-width="0.12"><tspan x="260.1" y="25.92">E</tspan><tspan x="267.5" y="28.92" font-size="4.8" letter-spacing="1.2">c.m.</tspan><tspan x="281.6" y="25.92">=</tspan><tspan x="291.7" y="25.92" letter-spacing="1.7">15</tspan><tspan x="308.5" y="25.92" font-style="italic" letter-spacing="2.6">MeV</tspan></text>
<line x1="229.4" y1="35.5" x2="257" y2="35.5" stroke="#ff0000" stroke-width="1.9" stroke-dasharray="8.2 8.5"/>
<text font-size="8.4" font-weight="bold" stroke="#000" stroke-width="0.12"><tspan x="260.1" y="38.52">E</tspan><tspan x="267.5" y="41.52" font-size="4.8" letter-spacing="1.2">c.m.</tspan><tspan x="281.6" y="38.52">=</tspan><tspan x="291.7" y="38.52" letter-spacing="1.7">20</tspan><tspan x="308.5" y="38.52" font-style="italic" letter-spacing="2.6">MeV</tspan></text>
<line x1="229.4" y1="48.1" x2="257" y2="48.1" stroke="#0000ff" stroke-width="1.9" stroke-dasharray="11.3 4.6 1.7 3.7 20"/>
<text font-size="8.4" font-weight="bold" stroke="#000" stroke-width="0.12"><tspan x="260.1" y="51.12">E</tspan><tspan x="267.5" y="54.12" font-size="4.8" letter-spacing="1.2">c.m.</tspan><tspan x="281.6" y="51.12">=</tspan><tspan x="291.2" y="51.12">V</tspan><tspan x="299.4" y="54.12" font-size="4.8" letter-spacing="1.2">B0</tspan></text>
<line x1="229.5" y1="60.7" x2="257" y2="60.7" stroke="#ff00ff" stroke-width="1.9" stroke-dasharray="6.9 3.4 1.8 2.5 1.8 4.3 7 10"/>
<text font-size="8.4" font-weight="bold" stroke="#000" stroke-width="0.12"><tspan x="260.1" y="63.72">E</tspan><tspan x="267.5" y="66.72" font-size="4.8" letter-spacing="1.2">c.m.</tspan><tspan x="281.6" y="63.72">=</tspan><tspan x="291.7" y="63.72" letter-spacing="1.7">35</tspan><tspan x="308.5" y="63.72" font-style="italic" letter-spacing="2.6">MeV</tspan></text>
<line x1="229.5" y1="73.3" x2="257" y2="73.3" stroke="#00ff00" stroke-width="1.9"/>
<text font-size="8.4" font-weight="bold" stroke="#000" stroke-width="0.12"><tspan x="260.1" y="76.32">E</tspan><tspan x="267.5" y="79.32" font-size="4.8" letter-spacing="1.2">c.m.</tspan><tspan x="281.6" y="76.32">=</tspan><tspan x="291.7" y="76.32" letter-spacing="1.7">40</tspan><tspan x="308.5" y="76.32" font-style="italic" letter-spacing="2.6">MeV</tspan></text>
<rect x="247.5" y="91.3" width="86.3" height="15.2" stroke="#666" stroke-width="1" fill="none"/>
<text x="261.08" y="98.4" font-size="5.4" font-weight="bold" font-style="normal" fill="#000" stroke="#000" stroke-width="0.18">6</text>
<text x="265.28" y="103.5" font-size="8.6" font-weight="bold" font-style="normal" fill="#000" stroke="#000" stroke-width="0.18">L</text>
<text x="273.48" y="103.5" font-size="8.6" font-weight="bold" font-style="normal" fill="#000" stroke="#000" stroke-width="0.18">i</text>
<text x="281.48" y="103.5" font-size="8.6" font-weight="bold" font-style="normal" fill="#000" stroke="#000" stroke-width="0.18">+</text>
<text x="289.68" y="98.4" font-size="5.4" font-weight="bold" font-style="normal" fill="#000" textLength="11.34" lengthAdjust="spacing" stroke="#000" stroke-width="0.18">144</text>
<text x="303.18" y="103.5" font-size="8.6" font-weight="bold" font-style="normal" fill="#000" stroke="#000" stroke-width="0.18">S</text>
<text x="312.58" y="103.5" font-size="8.6" font-weight="bold" font-style="normal" fill="#000" stroke="#000" stroke-width="0.18">m</text>
<text x="282.7" y="122.6" font-size="8.4" font-weight="bold" font-style="normal" fill="#000" textLength="14.44" lengthAdjust="spacing" stroke="#000" stroke-width="0.25">(a)</text>
<clipPath id="ca2"><rect x="413.2" y="12.200000000000001" width="277.59999999999997" height="263.8"/></clipPath>
<line x1="413.2" y1="12.4" x2="690.8" y2="12.4" stroke="#a0a0a0" stroke-width="1.2"/>
<line x1="690.8" y1="12.4" x2="690.8" y2="276" stroke="#a0a0a0" stroke-width="1.2"/>
<path d="M469.80,287.78 L470.23,286.13 L470.67,284.50 L471.10,282.87 L471.53,281.26 L471.96,279.66 L472.40,278.06 L472.83,276.48 L473.26,274.91 L473.69,273.34 L474.13,271.79 L474.56,270.25 L474.99,268.72 L475.42,267.19 L475.86,265.68 L476.29,264.18 L476.72,262.69 L477.15,261.21 L477.59,259.73 L478.02,258.27 L478.45,256.82 L478.88,255.38 L479.32,253.95 L479.75,252.53 L480.18,251.11 L480.61,249.71 L481.05,248.32 L481.48,246.94 L481.91,245.57 L482.34,244.21 L482.78,242.85 L483.21,241.51 L483.64,240.18 L484.08,238.86 L484.51,237.55 L484.94,236.25 L485.37,234.95 L485.81,233.67 L486.24,232.40 L486.67,231.14 L487.10,229.89 L487.54,228.64 L487.97,227.41 L488.40,226.19 L488.83,224.97 L489.27,223.77 L489.70,222.58 L490.13,221.40 L490.56,220.22 L491.00,219.06 L491.43,217.90 L491.86,216.76 L492.29,215.63 L492.73,214.50 L493.16,213.39 L493.59,212.28 L494.02,211.18 L494.46,210.10 L494.89,209.02 L495.32,207.96 L495.75,206.90 L496.19,205.85 L496.62,204.82 L497.05,203.79 L497.49,202.77 L497.92,201.76 L498.35,200.76 L498.78,199.77 L499.22,198.79 L499.65,197.82 L500.08,196.86 L500.51,195.91 L500.95,194.97 L501.38,194.04 L501.81,193.12 L502.24,192.20 L502.68,191.30 L503.11,190.40 L503.54,189.52 L503.97,188.65 L504.41,187.78 L504.84,186.92 L505.27,186.08 L505.70,185.24 L506.14,184.41 L506.57,183.59 L507.00,182.78 L507.43,181.98 L507.87,181.19 L508.30,180.41 L508.73,179.64 L509.16,178.88 L509.60,178.12 L510.03,177.38 L510.46,176.64 L510.90,175.92 L511.33,175.20 L511.76,174.50 L512.19,173.80 L512.63,173.11 L513.06,172.43 L513.49,171.76 L513.92,171.10 L514.36,170.45 L514.79,169.80 L515.22,169.17 L515.65,168.54 L516.09,167.93 L516.52,167.32 L516.95,166.72 L517.38,166.13 L517.82,165.55 L518.25,164.98 L518.68,164.42 L519.11,163.87 L519.55,163.32 L519.98,162.79 L520.41,162.26 L520.84,161.75 L521.28,161.24 L521.71,160.74 L522.14,160.25 L522.57,159.77 L523.01,159.29 L523.44,158.83 L523.87,158.37 L524.31,157.93 L524.74,157.49 L525.17,157.06 L525.60,156.64 L526.04,156.23 L526.47,155.82 L526.90,155.43 L527.33,155.04 L527.77,154.67 L528.20,154.30 L528.63,153.94 L529.06,153.59 L529.50,153.24 L529.93,152.91 L530.36,152.58 L530.79,152.26 L531.23,151.96 L531.66,151.66 L532.09,151.36 L532.52,151.08 L532.96,150.80 L533.39,150.54 L533.82,150.28 L534.25,150.03 L534.69,149.79 L535.12,149.55 L535.55,149.33 L535.98,149.11 L536.42,148.90 L536.85,148.70 L537.28,148.51 L537.72,148.33 L538.15,148.15 L538.58,147.98 L539.01,147.82 L539.45,147.67 L539.88,147.53 L540.31,147.39 L540.74,147.27 L541.18,147.15 L541.61,147.03 L542.04,146.93 L542.47,146.84 L542.91,146.75 L543.34,146.67 L543.77,146.60 L544.20,146.53 L544.64,146.48 L545.07,146.43 L545.50,146.39 L545.93,146.36 L546.37,146.33 L546.80,146.32 L547.23,146.31 L547.66,146.31 L548.10,146.31 L548.53,146.33 L548.96,146.35 L549.39,146.38 L549.83,146.41 L550.26,146.46 L550.69,146.51 L551.13,146.57 L551.56,146.64 L551.99,146.71 L552.42,146.79 L552.86,146.88 L553.29,146.98 L553.72,147.08 L554.15,147.19 L554.59,147.31 L555.02,147.44 L555.45,147.57 L555.88,147.71 L556.32,147.86 L556.75,148.02 L557.18,148.18 L557.61,148.35 L558.05,148.53 L558.48,148.71 L558.91,148.90 L559.34,149.10 L559.78,149.30 L560.21,149.52 L560.64,149.73 L561.07,149.96 L561.51,150.19 L561.94,150.43 L562.37,150.68 L562.81,150.93 L563.24,151.19 L563.67,151.46 L564.10,151.74 L564.54,152.02 L564.97,152.30 L565.40,152.60 L565.83,152.90 L566.27,153.21 L566.70,153.52 L567.13,153.84 L567.56,154.17 L568.00,154.50 L568.43,154.85 L568.86,155.19 L569.29,155.55 L569.73,155.91 L570.16,156.27 L570.59,156.65 L571.02,157.02 L571.46,157.41 L571.89,157.80 L572.32,158.20 L572.75,158.60 L573.19,159.02 L573.62,159.43 L574.05,159.85 L574.48,160.28 L574.92,160.72 L575.35,161.16 L575.78,161.61 L576.22,162.06 L576.65,162.52 L577.08,162.99 L577.51,163.46 L577.95,163.93 L578.38,164.42 L578.81,164.91 L579.24,165.40 L579.68,165.90 L580.11,166.41 L580.54,166.92 L580.97,167.44 L581.41,167.96 L581.84,168.49 L582.27,169.02 L582.70,169.56 L583.14,170.11 L583.57,170.66 L584.00,171.22 L584.43,171.78 L584.87,172.35 L585.30,172.92 L585.73,173.50 L586.16,174.08 L586.60,174.67 L587.03,175.26 L587.46,175.86 L587.89,176.47 L588.33,177.08 L588.76,177.69 L589.19,178.31 L589.63,178.94 L590.06,179.57 L590.49,180.20 L590.92,180.84 L591.36,181.49 L591.79,182.14 L592.22,182.79 L592.65,183.45 L593.09,184.11 L593.52,184.78 L593.95,185.46 L594.38,186.13 L594.82,186.82 L595.25,187.50 L595.68,188.20 L596.11,188.89 L596.55,189.60 L596.98,190.30 L597.41,191.01 L597.84,191.73 L598.28,192.45 L598.71,193.17 L599.14,193.90 L599.57,194.63 L600.01,195.36 L600.44,196.11 L600.87,196.85 L601.30,197.60 L601.74,198.35 L602.17,199.11 L602.60,199.87 L603.04,200.63 L603.47,201.40 L603.90,202.18 L604.33,202.95 L604.77,203.73 L605.20,204.52 L605.63,205.31 L606.06,206.10 L606.50,206.89 L606.93,207.69 L607.36,208.49 L607.79,209.30 L608.23,210.11 L608.66,210.92 L609.09,211.74 L609.52,212.56 L609.96,213.39 L610.39,214.21 L610.82,215.04 L611.25,215.88 L611.69,216.71 L612.12,217.55 L612.55,218.40 L612.98,219.24 L613.42,220.09 L613.85,220.95 L614.28,221.80 L614.71,222.66 L615.15,223.52 L615.58,224.38 L616.01,225.25 L616.45,226.12 L616.88,226.99 L617.31,227.87 L617.74,228.75 L618.18,229.63 L618.61,230.51 L619.04,231.40 L619.47,232.29 L619.91,233.18 L620.34,234.07 L620.77,234.97 L621.20,235.86 L621.64,236.76 L622.07,237.67 L622.50,238.57 L622.93,239.48 L623.37,240.39 L623.80,241.30 L624.23,242.21 L624.66,243.13 L625.10,244.04 L625.53,244.96 L625.96,245.88 L626.39,246.81 L626.83,247.73 L627.26,248.66 L627.69,249.59 L628.12,250.52 L628.56,251.45 L628.99,252.38 L629.42,253.32 L629.86,254.25 L630.29,255.19 L630.72,256.13 L631.15,257.07 L631.59,258.01 L632.02,258.95 L632.45,259.90 L632.88,260.84 L633.32,261.79 L633.75,262.74 L634.18,263.68 L634.61,264.63 L635.05,265.58 L635.48,266.53 L635.91,267.49 L636.34,268.44 L636.78,269.39 L637.21,270.35 L637.64,271.30 L638.07,272.26 L638.51,273.21 L638.94,274.17 L639.37,275.13 L639.80,276.09 L640.24,277.04 L640.67,278.00 L641.10,278.96 L641.53,279.92 L641.97,280.88 L642.40,281.84" fill="none" stroke="#000" stroke-width="2.0" stroke-linejoin="round" stroke-dasharray="2 6.5" stroke-dashoffset="0" clip-path="url(#ca2)"/>
<path d="M469.80,287.78 L470.23,286.13 L470.67,284.50 L471.10,282.87 L471.53,281.26 L471.96,279.66 L472.40,278.06 L472.83,276.48 L473.26,274.91 L473.69,273.34 L474.13,271.79 L474.56,270.25 L474.99,268.72 L475.42,267.19 L475.86,265.68 L476.29,264.18 L476.72,262.69 L477.15,261.21 L477.59,259.73 L478.02,258.27 L478.45,256.82 L478.88,255.38 L479.32,253.95 L479.75,252.53 L480.18,251.11 L480.61,249.71 L481.05,248.32 L481.48,246.94 L481.91,245.57 L482.34,244.21 L482.78,242.85 L483.21,241.51 L483.64,240.18 L484.08,238.86 L484.51,237.55 L484.94,236.25 L485.37,234.95 L485.81,233.67 L486.24,232.40 L486.67,231.14 L487.10,229.89 L487.54,228.64 L487.97,227.41 L488.40,226.19 L488.83,224.97 L489.27,223.77 L489.70,222.58 L490.13,221.40 L490.56,220.22 L491.00,219.06 L491.43,217.90 L491.86,216.76 L492.29,215.63 L492.73,214.50 L493.16,213.39 L493.59,212.28 L494.02,211.18 L494.46,210.10 L494.89,209.02 L495.32,207.96 L495.75,206.90 L496.19,205.85 L496.62,204.82 L497.05,203.79 L497.49,202.77 L497.92,201.76 L498.35,200.76 L498.78,199.77 L499.22,198.79 L499.65,197.82 L500.08,196.86 L500.51,195.91 L500.95,194.97 L501.38,194.04 L501.81,193.12 L502.24,192.20 L502.68,191.30 L503.11,190.40 L503.54,189.52 L503.97,188.65 L504.41,187.78 L504.84,186.92 L505.27,186.08 L505.70,185.24 L506.14,184.41 L506.57,183.59 L507.00,182.78 L507.43,181.98 L507.87,181.19 L508.30,180.41 L508.73,179.64 L509.16,178.88 L509.60,178.12 L510.03,177.38 L510.46,176.64 L510.90,175.92 L511.33,175.20 L511.76,174.50 L512.19,173.80 L512.63,173.11 L513.06,172.43 L513.49,171.76 L513.92,171.10 L514.36,170.45 L514.79,169.80 L515.22,169.17 L515.65,168.54 L516.09,167.93 L516.52,167.32 L516.95,166.72 L517.38,166.13 L517.82,165.55 L518.25,164.98 L518.68,164.42 L519.11,163.87 L519.55,163.32 L519.98,162.79 L520.41,162.26 L520.84,161.75 L521.28,161.24 L521.71,160.74 L522.14,160.25 L522.57,159.77 L523.01,159.29 L523.44,158.83 L523.87,158.37 L524.31,157.93 L524.74,157.49 L525.17,157.06 L525.60,156.64 L526.04,156.23 L526.47,155.82 L526.90,155.43 L527.33,155.04 L527.77,154.67 L528.20,154.30 L528.63,153.94 L529.06,153.59 L529.50,153.24 L529.93,152.91 L530.36,152.58 L530.79,152.26 L531.23,151.96 L531.66,151.66 L532.09,151.36 L532.52,151.08 L532.96,150.80 L533.39,150.54 L533.82,150.28 L534.25,150.03 L534.69,149.79 L535.12,149.55 L535.55,149.33 L535.98,149.11 L536.42,148.90 L536.85,148.70 L537.28,148.51 L537.72,148.33 L538.15,148.15 L538.58,147.98 L539.01,147.82 L539.45,147.67 L539.88,147.53 L540.31,147.39 L540.74,147.27 L541.18,147.15 L541.61,147.03 L542.04,146.93 L542.47,146.84 L542.91,146.75 L543.34,146.67 L543.77,146.60 L544.20,146.53 L544.64,146.48 L545.07,146.43 L545.50,146.39 L545.93,146.36 L546.37,146.33 L546.80,146.32 L547.23,146.31 L547.66,146.31 L548.10,146.31 L548.53,146.33 L548.96,146.35 L549.39,146.38 L549.83,146.41 L550.26,146.46 L550.69,146.51 L551.13,146.57 L551.56,146.64 L551.99,146.71 L552.42,146.79 L552.86,146.88 L553.29,146.98 L553.72,147.08 L554.15,147.19 L554.59,147.31 L555.02,147.44 L555.45,147.57 L555.88,147.71 L556.32,147.86 L556.75,148.02 L557.18,148.18 L557.61,148.35 L558.05,148.53 L558.48,148.71 L558.91,148.90 L559.34,149.10 L559.78,149.30 L560.21,149.52 L560.64,149.73 L561.07,149.96 L561.51,150.19 L561.94,150.43 L562.37,150.68 L562.81,150.93 L563.24,151.19 L563.67,151.46 L564.10,151.74 L564.54,152.02 L564.97,152.30 L565.40,152.60 L565.83,152.90 L566.27,153.21 L566.70,153.52 L567.13,153.84 L567.56,154.17 L568.00,154.50 L568.43,154.85 L568.86,155.19 L569.29,155.55 L569.73,155.91 L570.16,156.27 L570.59,156.65 L571.02,157.02 L571.46,157.41 L571.89,157.80 L572.32,158.20 L572.75,158.60 L573.19,159.02 L573.62,159.43 L574.05,159.85 L574.48,160.28 L574.92,160.72 L575.35,161.16 L575.78,161.61 L576.22,162.06 L576.65,162.52 L577.08,162.99 L577.51,163.46 L577.95,163.93 L578.38,164.42 L578.81,164.91 L579.24,165.40 L579.68,165.90 L580.11,166.41 L580.54,166.92 L580.97,167.44 L581.41,167.96 L581.84,168.49 L582.27,169.02 L582.70,169.56 L583.14,170.11 L583.57,170.66 L584.00,171.22 L584.43,171.78 L584.87,172.35 L585.30,172.92 L585.73,173.50 L586.16,174.08 L586.60,174.67 L587.03,175.26 L587.46,175.86 L587.89,176.47 L588.33,177.08 L588.76,177.69 L589.19,178.31 L589.63,178.94 L590.06,179.57 L590.49,180.20 L590.92,180.84 L591.36,181.49 L591.79,182.14 L592.22,182.79 L592.65,183.45 L593.09,184.11 L593.52,184.78 L593.95,185.46 L594.38,186.13 L594.82,186.82 L595.25,187.50 L595.68,188.20 L596.11,188.89 L596.55,189.60 L596.98,190.30 L597.41,191.01 L597.84,191.73 L598.28,192.45 L598.71,193.17 L599.14,193.90 L599.57,194.63 L600.01,195.36 L600.44,196.11 L600.87,196.85 L601.30,197.60 L601.74,198.35 L602.17,199.11 L602.60,199.87 L603.04,200.63 L603.47,201.40 L603.90,202.18 L604.33,202.95 L604.77,203.73 L605.20,204.52 L605.63,205.31 L606.06,206.10 L606.50,206.89 L606.93,207.69 L607.36,208.49 L607.79,209.30 L608.23,210.11 L608.66,210.92 L609.09,211.74 L609.52,212.56 L609.96,213.39 L610.39,214.21 L610.82,215.04 L611.25,215.88 L611.69,216.71 L612.12,217.55 L612.55,218.40 L612.98,219.24 L613.42,220.09 L613.85,220.95 L614.28,221.80 L614.71,222.66 L615.15,223.52 L615.58,224.38 L616.01,225.25 L616.45,226.12 L616.88,226.99 L617.31,227.87 L617.74,228.75 L618.18,229.63 L618.61,230.51 L619.04,231.40 L619.47,232.29 L619.91,233.18 L620.34,234.07 L620.77,234.97 L621.20,235.86 L621.64,236.76 L622.07,237.67 L622.50,238.57 L622.93,239.48 L623.37,240.39 L623.80,241.30 L624.23,242.21 L624.66,243.13 L625.10,244.04 L625.53,244.96 L625.96,245.88 L626.39,246.81 L626.83,247.73 L627.26,248.66 L627.69,249.59 L628.12,250.52 L628.56,251.45 L628.99,252.38 L629.42,253.32 L629.86,254.25 L630.29,255.19 L630.72,256.13 L631.15,257.07 L631.59,258.01 L632.02,258.95 L632.45,259.90 L632.88,260.84 L633.32,261.79 L633.75,262.74 L634.18,263.68 L634.61,264.63 L635.05,265.58 L635.48,266.53 L635.91,267.49 L636.34,268.44 L636.78,269.39 L637.21,270.35 L637.64,271.30 L638.07,272.26 L638.51,273.21 L638.94,274.17 L639.37,275.13 L639.80,276.09 L640.24,277.04 L640.67,278.00 L641.10,278.96 L641.53,279.92 L641.97,280.88 L642.40,281.84" fill="none" stroke="#ff0000" stroke-width="1.8" stroke-linejoin="round" stroke-dasharray="7.4 6" stroke-dashoffset="2" clip-path="url(#ca2)"/>
<path d="M448.10,296.00 L448.63,293.60 L449.15,291.19 L449.68,288.77 L450.21,286.34 L450.73,283.89 L451.26,281.44 L451.78,278.98 L452.31,276.52 L452.84,274.05 L453.36,271.57 L453.89,269.09 L454.42,266.61 L454.94,264.12 L455.47,261.63 L455.99,259.15 L456.52,256.66 L457.05,254.17 L457.57,251.68 L458.10,249.20 L458.63,246.72 L459.15,244.25 L459.68,241.77 L460.21,239.31 L460.73,236.85 L461.26,234.39 L461.78,231.94 L462.31,229.50 L462.84,227.07 L463.36,224.65 L463.89,222.24 L464.42,219.83 L464.94,217.44 L465.47,215.06 L465.99,212.69 L466.52,210.33 L467.05,207.98 L467.57,205.65 L468.10,203.33 L468.63,201.02 L469.15,198.73 L469.68,196.45 L470.21,194.19 L470.73,191.94 L471.26,189.71 L471.78,187.49 L472.31,185.29 L472.84,183.11 L473.36,180.94 L473.89,178.79 L474.42,176.66 L474.94,174.54 L475.47,172.45 L475.99,170.37 L476.52,168.31 L477.05,166.27 L477.57,164.24 L478.10,162.24 L478.63,160.26 L479.15,158.29 L479.68,156.35 L480.21,154.43 L480.73,152.52 L481.26,150.64 L481.78,148.77 L482.31,146.93 L482.84,145.11 L483.36,143.30 L483.89,141.52 L484.42,139.76 L484.94,138.02 L485.47,136.31 L485.99,134.61 L486.52,132.93 L487.05,131.28 L487.57,129.64 L488.10,128.03 L488.63,126.44 L489.15,124.87 L489.68,123.33 L490.21,121.80 L490.73,120.30 L491.26,118.81 L491.78,117.35 L492.31,115.91 L492.84,114.49 L493.36,113.10 L493.89,111.72 L494.42,110.37 L494.94,109.03 L495.47,107.72 L495.99,106.43 L496.52,105.17 L497.05,103.92 L497.57,102.69 L498.10,101.49 L498.63,100.30 L499.15,99.14 L499.68,98.00 L500.21,96.88 L500.73,95.78 L501.26,94.70 L501.78,93.64 L502.31,92.60 L502.84,91.58 L503.36,90.58 L503.89,89.60 L504.42,88.64 L504.94,87.71 L505.47,86.79 L505.99,85.89 L506.52,85.01 L507.05,84.15 L507.57,83.31 L508.10,82.49 L508.63,81.69 L509.15,80.91 L509.68,80.14 L510.21,79.40 L510.73,78.67 L511.26,77.96 L511.78,77.27 L512.31,76.60 L512.84,75.95 L513.36,75.31 L513.89,74.69 L514.42,74.09 L514.94,73.51 L515.47,72.95 L515.99,72.40 L516.52,71.87 L517.05,71.35 L517.57,70.86 L518.10,70.38 L518.63,69.91 L519.15,69.46 L519.68,69.03 L520.21,68.62 L520.73,68.22 L521.26,67.83 L521.78,67.47 L522.31,67.11 L522.84,66.78 L523.36,66.45 L523.89,66.15 L524.42,65.85 L524.94,65.58 L525.47,65.31 L525.99,65.07 L526.52,64.83 L527.05,64.61 L527.57,64.41 L528.10,64.21 L528.63,64.03 L529.15,63.87 L529.68,63.72 L530.21,63.58 L530.73,63.46 L531.26,63.35 L531.78,63.25 L532.31,63.16 L532.84,63.09 L533.36,63.03 L533.89,62.98 L534.42,62.94 L534.94,62.92 L535.47,62.91 L535.99,62.91 L536.52,62.92 L537.05,62.95 L537.57,62.98 L538.10,63.03 L538.63,63.09 L539.15,63.16 L539.68,63.24 L540.21,63.33 L540.73,63.44 L541.26,63.55 L541.78,63.68 L542.31,63.81 L542.84,63.96 L543.36,64.11 L543.89,64.28 L544.42,64.46 L544.94,64.65 L545.47,64.84 L545.99,65.05 L546.52,65.27 L547.05,65.50 L547.57,65.74 L548.10,65.98 L548.63,66.24 L549.15,66.51 L549.68,66.78 L550.21,67.07 L550.73,67.37 L551.26,67.67 L551.78,67.99 L552.31,68.31 L552.84,68.64 L553.36,68.98 L553.89,69.33 L554.42,69.69 L554.94,70.06 L555.47,70.44 L555.99,70.83 L556.52,71.23 L557.05,71.63 L557.57,72.04 L558.10,72.47 L558.63,72.90 L559.15,73.34 L559.68,73.79 L560.21,74.25 L560.73,74.71 L561.26,75.19 L561.78,75.67 L562.31,76.16 L562.84,76.66 L563.36,77.17 L563.89,77.69 L564.42,78.22 L564.94,78.76 L565.47,79.30 L565.99,79.85 L566.52,80.42 L567.05,80.99 L567.57,81.56 L568.10,82.15 L568.63,82.75 L569.15,83.35 L569.68,83.97 L570.21,84.59 L570.73,85.22 L571.26,85.86 L571.78,86.51 L572.31,87.17 L572.84,87.83 L573.36,88.51 L573.89,89.19 L574.42,89.88 L574.94,90.59 L575.47,91.30 L575.99,92.02 L576.52,92.74 L577.05,93.48 L577.57,94.23 L578.10,94.98 L578.63,95.75 L579.15,96.52 L579.68,97.30 L580.21,98.10 L580.73,98.90 L581.26,99.71 L581.78,100.53 L582.31,101.36 L582.84,102.19 L583.36,103.04 L583.89,103.90 L584.42,104.77 L584.94,105.64 L585.47,106.53 L585.99,107.42 L586.52,108.33 L587.05,109.24 L587.57,110.16 L588.10,111.10 L588.63,112.04 L589.15,112.99 L589.68,113.96 L590.21,114.93 L590.73,115.91 L591.26,116.90 L591.78,117.90 L592.31,118.92 L592.84,119.94 L593.36,120.97 L593.89,122.01 L594.42,123.06 L594.94,124.12 L595.47,125.19 L595.99,126.27 L596.52,127.36 L597.05,128.47 L597.57,129.58 L598.10,130.70 L598.63,131.83 L599.15,132.97 L599.68,134.12 L600.21,135.28 L600.73,136.45 L601.26,137.63 L601.78,138.82 L602.31,140.02 L602.84,141.23 L603.36,142.45 L603.89,143.68 L604.42,144.92 L604.94,146.16 L605.47,147.42 L605.99,148.69 L606.52,149.97 L607.05,151.25 L607.57,152.55 L608.10,153.85 L608.63,155.17 L609.15,156.49 L609.68,157.82 L610.21,159.16 L610.73,160.51 L611.26,161.87 L611.78,163.24 L612.31,164.61 L612.84,166.00 L613.36,167.39 L613.89,168.79 L614.42,170.20 L614.94,171.61 L615.47,173.03 L615.99,174.46 L616.52,175.90 L617.05,177.35 L617.57,178.80 L618.10,180.26 L618.63,181.72 L619.15,183.19 L619.68,184.67 L620.21,186.15 L620.73,187.64 L621.26,189.13 L621.78,190.63 L622.31,192.13 L622.84,193.64 L623.36,195.15 L623.89,196.67 L624.42,198.19 L624.94,199.71 L625.47,201.24 L625.99,202.77 L626.52,204.30 L627.05,205.83 L627.57,207.36 L628.10,208.90 L628.63,210.44 L629.15,211.97 L629.68,213.51 L630.21,215.04 L630.73,216.58 L631.26,218.11 L631.78,219.65 L632.31,221.18 L632.84,222.70 L633.36,224.23 L633.89,225.75 L634.42,227.26 L634.94,228.77 L635.47,230.28 L635.99,231.78 L636.52,233.27 L637.05,234.76 L637.57,236.24 L638.10,237.71 L638.63,239.17 L639.15,240.62 L639.68,242.06 L640.21,243.49 L640.73,244.91 L641.26,246.31 L641.78,247.71 L642.31,249.09 L642.84,250.45 L643.36,251.80 L643.89,253.13 L644.42,254.45 L644.94,255.75 L645.47,257.02 L645.99,258.28 L646.52,259.52 L647.05,260.74 L647.57,261.93 L648.10,263.10 L648.63,264.25 L649.15,265.37 L649.68,266.47 L650.21,267.54 L650.73,268.58 L651.26,269.59 L651.78,270.57 L652.31,271.52 L652.84,272.43 L653.36,273.31 L653.89,274.16 L654.42,274.97 L654.94,275.74 L655.47,276.48 L655.99,277.17 L656.52,277.83 L657.05,278.44 L657.57,279.00 L658.10,279.52" fill="none" stroke="#0000ff" stroke-width="1.9" stroke-linejoin="round" stroke-dasharray="8.2 2.6 1.6 2.6" stroke-dashoffset="0" clip-path="url(#ca2)"/>
<path d="M443.20,298.35 L443.75,295.53 L444.29,292.71 L444.84,289.89 L445.39,287.06 L445.94,284.24 L446.48,281.42 L447.03,278.60 L447.58,275.78 L448.12,272.97 L448.67,270.16 L449.22,267.35 L449.77,264.55 L450.31,261.75 L450.86,258.96 L451.41,256.18 L451.95,253.40 L452.50,250.63 L453.05,247.87 L453.60,245.12 L454.14,242.38 L454.69,239.64 L455.24,236.92 L455.78,234.21 L456.33,231.50 L456.88,228.81 L457.43,226.14 L457.97,223.47 L458.52,220.82 L459.07,218.18 L459.61,215.55 L460.16,212.94 L460.71,210.34 L461.25,207.76 L461.80,205.19 L462.35,202.64 L462.90,200.10 L463.44,197.58 L463.99,195.08 L464.54,192.59 L465.08,190.12 L465.63,187.66 L466.18,185.23 L466.73,182.81 L467.27,180.41 L467.82,178.03 L468.37,175.66 L468.91,173.32 L469.46,170.99 L470.01,168.68 L470.56,166.39 L471.10,164.13 L471.65,161.88 L472.20,159.65 L472.74,157.44 L473.29,155.25 L473.84,153.08 L474.39,150.93 L474.93,148.81 L475.48,146.70 L476.03,144.61 L476.57,142.55 L477.12,140.50 L477.67,138.48 L478.22,136.48 L478.76,134.50 L479.31,132.54 L479.86,130.60 L480.40,128.69 L480.95,126.79 L481.50,124.92 L482.05,123.07 L482.59,121.24 L483.14,119.43 L483.69,117.65 L484.23,115.88 L484.78,114.14 L485.33,112.42 L485.88,110.72 L486.42,109.05 L486.97,107.40 L487.52,105.76 L488.06,104.15 L488.61,102.57 L489.16,101.00 L489.71,99.46 L490.25,97.93 L490.80,96.43 L491.35,94.96 L491.89,93.50 L492.44,92.06 L492.99,90.65 L493.53,89.26 L494.08,87.89 L494.63,86.54 L495.18,85.22 L495.72,83.91 L496.27,82.63 L496.82,81.37 L497.36,80.13 L497.91,78.91 L498.46,77.71 L499.01,76.53 L499.55,75.37 L500.10,74.24 L500.65,73.12 L501.19,72.03 L501.74,70.96 L502.29,69.91 L502.84,68.87 L503.38,67.86 L503.93,66.87 L504.48,65.90 L505.02,64.95 L505.57,64.02 L506.12,63.11 L506.67,62.22 L507.21,61.35 L507.76,60.49 L508.31,59.66 L508.85,58.85 L509.40,58.06 L509.95,57.28 L510.50,56.53 L511.04,55.79 L511.59,55.07 L512.14,54.37 L512.68,53.69 L513.23,53.03 L513.78,52.39 L514.33,51.76 L514.87,51.16 L515.42,50.57 L515.97,50.00 L516.51,49.44 L517.06,48.91 L517.61,48.39 L518.16,47.89 L518.70,47.41 L519.25,46.94 L519.80,46.49 L520.34,46.06 L520.89,45.64 L521.44,45.25 L521.98,44.86 L522.53,44.50 L523.08,44.15 L523.63,43.82 L524.17,43.50 L524.72,43.20 L525.27,42.91 L525.81,42.65 L526.36,42.39 L526.91,42.15 L527.46,41.93 L528.00,41.72 L528.55,41.53 L529.10,41.35 L529.64,41.19 L530.19,41.04 L530.74,40.91 L531.29,40.79 L531.83,40.69 L532.38,40.60 L532.93,40.53 L533.47,40.47 L534.02,40.42 L534.57,40.39 L535.12,40.37 L535.66,40.36 L536.21,40.37 L536.76,40.39 L537.30,40.43 L537.85,40.48 L538.40,40.54 L538.95,40.62 L539.49,40.70 L540.04,40.80 L540.59,40.92 L541.13,41.05 L541.68,41.19 L542.23,41.34 L542.78,41.50 L543.32,41.68 L543.87,41.87 L544.42,42.07 L544.96,42.29 L545.51,42.51 L546.06,42.75 L546.61,43.00 L547.15,43.26 L547.70,43.54 L548.25,43.82 L548.79,44.12 L549.34,44.43 L549.89,44.75 L550.44,45.08 L550.98,45.42 L551.53,45.78 L552.08,46.14 L552.62,46.52 L553.17,46.91 L553.72,47.31 L554.26,47.72 L554.81,48.14 L555.36,48.57 L555.91,49.01 L556.45,49.47 L557.00,49.93 L557.55,50.41 L558.09,50.89 L558.64,51.39 L559.19,51.89 L559.74,52.41 L560.28,52.94 L560.83,53.48 L561.38,54.03 L561.92,54.59 L562.47,55.16 L563.02,55.74 L563.57,56.33 L564.11,56.93 L564.66,57.54 L565.21,58.16 L565.75,58.79 L566.30,59.43 L566.85,60.08 L567.40,60.74 L567.94,61.42 L568.49,62.10 L569.04,62.79 L569.58,63.49 L570.13,64.20 L570.68,64.92 L571.23,65.66 L571.77,66.40 L572.32,67.15 L572.87,67.91 L573.41,68.68 L573.96,69.46 L574.51,70.25 L575.06,71.06 L575.60,71.87 L576.15,72.69 L576.70,73.52 L577.24,74.36 L577.79,75.21 L578.34,76.07 L578.89,76.94 L579.43,77.82 L579.98,78.71 L580.53,79.61 L581.07,80.52 L581.62,81.44 L582.17,82.36 L582.72,83.30 L583.26,84.25 L583.81,85.21 L584.36,86.18 L584.90,87.15 L585.45,88.14 L586.00,89.14 L586.54,90.15 L587.09,91.16 L587.64,92.19 L588.19,93.23 L588.73,94.27 L589.28,95.33 L589.83,96.39 L590.37,97.47 L590.92,98.55 L591.47,99.65 L592.02,100.75 L592.56,101.86 L593.11,102.99 L593.66,104.12 L594.20,105.26 L594.75,106.42 L595.30,107.58 L595.85,108.75 L596.39,109.93 L596.94,111.12 L597.49,112.32 L598.03,113.53 L598.58,114.75 L599.13,115.98 L599.68,117.22 L600.22,118.46 L600.77,119.72 L601.32,120.99 L601.86,122.26 L602.41,123.55 L602.96,124.84 L603.51,126.15 L604.05,127.46 L604.60,128.78 L605.15,130.11 L605.69,131.45 L606.24,132.80 L606.79,134.15 L607.34,135.52 L607.88,136.90 L608.43,138.28 L608.98,139.67 L609.52,141.07 L610.07,142.48 L610.62,143.90 L611.17,145.32 L611.71,146.76 L612.26,148.20 L612.81,149.65 L613.35,151.11 L613.90,152.57 L614.45,154.05 L614.99,155.53 L615.54,157.02 L616.09,158.51 L616.64,160.01 L617.18,161.52 L617.73,163.04 L618.28,164.57 L618.82,166.10 L619.37,167.63 L619.92,169.18 L620.47,170.73 L621.01,172.28 L621.56,173.84 L622.11,175.41 L622.65,176.98 L623.20,178.56 L623.75,180.14 L624.30,181.73 L624.84,183.33 L625.39,184.92 L625.94,186.52 L626.48,188.13 L627.03,189.74 L627.58,191.35 L628.13,192.97 L628.67,194.59 L629.22,196.21 L629.77,197.84 L630.31,199.47 L630.86,201.09 L631.41,202.73 L631.96,204.36 L632.50,205.99 L633.05,207.63 L633.60,209.26 L634.14,210.90 L634.69,212.53 L635.24,214.17 L635.79,215.80 L636.33,217.43 L636.88,219.06 L637.43,220.69 L637.97,222.32 L638.52,223.94 L639.07,225.56 L639.62,227.18 L640.16,228.79 L640.71,230.40 L641.26,232.00 L641.80,233.60 L642.35,235.19 L642.90,236.78 L643.45,238.36 L643.99,239.93 L644.54,241.49 L645.09,243.05 L645.63,244.59 L646.18,246.13 L646.73,247.66 L647.27,249.17 L647.82,250.68 L648.37,252.17 L648.92,253.65 L649.46,255.12 L650.01,256.57 L650.56,258.01 L651.10,259.44 L651.65,260.85 L652.20,262.24 L652.75,263.62 L653.29,264.98 L653.84,266.32 L654.39,267.64 L654.93,268.94 L655.48,270.22 L656.03,271.48 L656.58,272.72 L657.12,273.93 L657.67,275.12 L658.22,276.29 L658.76,277.43 L659.31,278.54 L659.86,279.62 L660.41,280.68 L660.95,281.71 L661.50,282.71" fill="none" stroke="#ff00ff" stroke-width="1.9" stroke-linejoin="round" stroke-dasharray="6 2.5 1.6 2.5 1.6 2.5" stroke-dashoffset="0" clip-path="url(#ca2)"/>
<path d="M443.20,298.35 L443.75,295.53 L444.29,292.71 L444.84,289.89 L445.39,287.06 L445.94,284.24 L446.48,281.42 L447.03,278.60 L447.58,275.78 L448.12,272.97 L448.67,270.16 L449.22,267.35 L449.77,264.55 L450.31,261.75 L450.86,258.96 L451.41,256.18 L451.95,253.40 L452.50,250.63 L453.05,247.87 L453.60,245.12 L454.14,242.38 L454.69,239.64 L455.24,236.92 L455.78,234.21 L456.33,231.50 L456.88,228.81 L457.43,226.14 L457.97,223.47 L458.52,220.82 L459.07,218.18 L459.61,215.55 L460.16,212.94 L460.71,210.34 L461.25,207.76 L461.80,205.19 L462.35,202.64 L462.90,200.10 L463.44,197.58 L463.99,195.08 L464.54,192.59 L465.08,190.12 L465.63,187.66 L466.18,185.23 L466.73,182.81 L467.27,180.41 L467.82,178.03 L468.37,175.66 L468.91,173.32 L469.46,170.99 L470.01,168.68 L470.56,166.39 L471.10,164.13 L471.65,161.88 L472.20,159.65 L472.74,157.44 L473.29,155.25 L473.84,153.08 L474.39,150.93 L474.93,148.81 L475.48,146.70 L476.03,144.61 L476.57,142.55 L477.12,140.50 L477.67,138.48 L478.22,136.48 L478.76,134.50 L479.31,132.54 L479.86,130.60 L480.40,128.69 L480.95,126.79 L481.50,124.92 L482.05,123.07 L482.59,121.24 L483.14,119.43 L483.69,117.65 L484.23,115.88 L484.78,114.14 L485.33,112.42 L485.88,110.72 L486.42,109.05 L486.97,107.40 L487.52,105.76 L488.06,104.15 L488.61,102.57 L489.16,101.00 L489.71,99.46 L490.25,97.93 L490.80,96.43 L491.35,94.96 L491.89,93.50 L492.44,92.06 L492.99,90.65 L493.53,89.26 L494.08,87.89 L494.63,86.54 L495.18,85.22 L495.72,83.91 L496.27,82.63 L496.82,81.37 L497.36,80.13 L497.91,78.91 L498.46,77.71 L499.01,76.53 L499.55,75.37 L500.10,74.24 L500.65,73.12 L501.19,72.03 L501.74,70.96 L502.29,69.91 L502.84,68.87 L503.38,67.86 L503.93,66.87 L504.48,65.90 L505.02,64.95 L505.57,64.02 L506.12,63.11 L506.67,62.22 L507.21,61.35 L507.76,60.49 L508.31,59.66 L508.85,58.85 L509.40,58.06 L509.95,57.28 L510.50,56.53 L511.04,55.79 L511.59,55.07 L512.14,54.37 L512.68,53.69 L513.23,53.03 L513.78,52.39 L514.33,51.76 L514.87,51.16 L515.42,50.57 L515.97,50.00 L516.51,49.44 L517.06,48.91 L517.61,48.39 L518.16,47.89 L518.70,47.41 L519.25,46.94 L519.80,46.49 L520.34,46.06 L520.89,45.64 L521.44,45.25 L521.98,44.86 L522.53,44.50 L523.08,44.15 L523.63,43.82 L524.17,43.50 L524.72,43.20 L525.27,42.91 L525.81,42.65 L526.36,42.39 L526.91,42.15 L527.46,41.93 L528.00,41.72 L528.55,41.53 L529.10,41.35 L529.64,41.19 L530.19,41.04 L530.74,40.91 L531.29,40.79 L531.83,40.69 L532.38,40.60 L532.93,40.53 L533.47,40.47 L534.02,40.42 L534.57,40.39 L535.12,40.37 L535.66,40.36 L536.21,40.37 L536.76,40.39 L537.30,40.43 L537.85,40.48 L538.40,40.54 L538.95,40.62 L539.49,40.70 L540.04,40.80 L540.59,40.92 L541.13,41.05 L541.68,41.19 L542.23,41.34 L542.78,41.50 L543.32,41.68 L543.87,41.87 L544.42,42.07 L544.96,42.29 L545.51,42.51 L546.06,42.75 L546.61,43.00 L547.15,43.26 L547.70,43.54 L548.25,43.82 L548.79,44.12 L549.34,44.43 L549.89,44.75 L550.44,45.08 L550.98,45.42 L551.53,45.78 L552.08,46.14 L552.62,46.52 L553.17,46.91 L553.72,47.31 L554.26,47.72 L554.81,48.14 L555.36,48.57 L555.91,49.01 L556.45,49.47 L557.00,49.93 L557.55,50.41 L558.09,50.89 L558.64,51.39 L559.19,51.89 L559.74,52.41 L560.28,52.94 L560.83,53.48 L561.38,54.03 L561.92,54.59 L562.47,55.16 L563.02,55.74 L563.57,56.33 L564.11,56.93 L564.66,57.54 L565.21,58.16 L565.75,58.79 L566.30,59.43 L566.85,60.08 L567.40,60.74 L567.94,61.42 L568.49,62.10 L569.04,62.79 L569.58,63.49 L570.13,64.20 L570.68,64.92 L571.23,65.66 L571.77,66.40 L572.32,67.15 L572.87,67.91 L573.41,68.68 L573.96,69.46 L574.51,70.25 L575.06,71.06 L575.60,71.87 L576.15,72.69 L576.70,73.52 L577.24,74.36 L577.79,75.21 L578.34,76.07 L578.89,76.94 L579.43,77.82 L579.98,78.71 L580.53,79.61 L581.07,80.52 L581.62,81.44 L582.17,82.36 L582.72,83.30 L583.26,84.25 L583.81,85.21 L584.36,86.18 L584.90,87.15 L585.45,88.14 L586.00,89.14 L586.54,90.15 L587.09,91.16 L587.64,92.19 L588.19,93.23 L588.73,94.27 L589.28,95.33 L589.83,96.39 L590.37,97.47 L590.92,98.55 L591.47,99.65 L592.02,100.75 L592.56,101.86 L593.11,102.99 L593.66,104.12 L594.20,105.26 L594.75,106.42 L595.30,107.58 L595.85,108.75 L596.39,109.93 L596.94,111.12 L597.49,112.32 L598.03,113.53 L598.58,114.75 L599.13,115.98 L599.68,117.22 L600.22,118.46 L600.77,119.72 L601.32,120.99 L601.86,122.26 L602.41,123.55 L602.96,124.84 L603.51,126.15 L604.05,127.46 L604.60,128.78 L605.15,130.11 L605.69,131.45 L606.24,132.80 L606.79,134.15 L607.34,135.52 L607.88,136.90 L608.43,138.28 L608.98,139.67 L609.52,141.07 L610.07,142.48 L610.62,143.90 L611.17,145.32 L611.71,146.76 L612.26,148.20 L612.81,149.65 L613.35,151.11 L613.90,152.57 L614.45,154.05 L614.99,155.53 L615.54,157.02 L616.09,158.51 L616.64,160.01 L617.18,161.52 L617.73,163.04 L618.28,164.57 L618.82,166.10 L619.37,167.63 L619.92,169.18 L620.47,170.73 L621.01,172.28 L621.56,173.84 L622.11,175.41 L622.65,176.98 L623.20,178.56 L623.75,180.14 L624.30,181.73 L624.84,183.33 L625.39,184.92 L625.94,186.52 L626.48,188.13 L627.03,189.74 L627.58,191.35 L628.13,192.97 L628.67,194.59 L629.22,196.21 L629.77,197.84 L630.31,199.47 L630.86,201.09 L631.41,202.73 L631.96,204.36 L632.50,205.99 L633.05,207.63 L633.60,209.26 L634.14,210.90 L634.69,212.53 L635.24,214.17 L635.79,215.80 L636.33,217.43 L636.88,219.06 L637.43,220.69 L637.97,222.32 L638.52,223.94 L639.07,225.56 L639.62,227.18 L640.16,228.79 L640.71,230.40 L641.26,232.00 L641.80,233.60 L642.35,235.19 L642.90,236.78 L643.45,238.36 L643.99,239.93 L644.54,241.49 L645.09,243.05 L645.63,244.59 L646.18,246.13 L646.73,247.66 L647.27,249.17 L647.82,250.68 L648.37,252.17 L648.92,253.65 L649.46,255.12 L650.01,256.57 L650.56,258.01 L651.10,259.44 L651.65,260.85 L652.20,262.24 L652.75,263.62 L653.29,264.98 L653.84,266.32 L654.39,267.64 L654.93,268.94 L655.48,270.22 L656.03,271.48 L656.58,272.72 L657.12,273.93 L657.67,275.12 L658.22,276.29 L658.76,277.43 L659.31,278.54 L659.86,279.62 L660.41,280.68 L660.95,281.71 L661.50,282.71" fill="none" stroke="#00ff00" stroke-width="1.7" stroke-linejoin="round" clip-path="url(#ca2)"/>
<line x1="540.8" y1="39.7" x2="692" y2="39.7" stroke="#ff0000" stroke-width="1.7"/>
<path d="M530.8,39.7 L541.8,37.3 L541.8,42.1 Z" fill="#ff0000"/>
<line x1="545.6" y1="62.6" x2="692" y2="62.6" stroke="#ff0000" stroke-width="1.7"/>
<path d="M535.6,62.6 L546.6,60.2 L546.6,65 Z" fill="#ff0000"/>
<line x1="553.8" y1="146.4" x2="692" y2="146.4" stroke="#ff0000" stroke-width="1.7"/>
<path d="M543.8,146.4 L554.8,144 L554.8,148.8 Z" fill="#ff0000"/>
<line x1="413.2" y1="11.8" x2="413.2" y2="276.8" stroke="#000" stroke-width="1.6"/>
<line x1="412.4" y1="276" x2="691.4" y2="276" stroke="#000" stroke-width="1.6"/>
<line x1="413.2" y1="276" x2="413.2" y2="279" stroke="#000" stroke-width="1.2"/>
<line x1="422.45" y1="276" x2="422.45" y2="279" stroke="#000" stroke-width="1.2"/>
<line x1="431.71" y1="276" x2="431.71" y2="279" stroke="#000" stroke-width="1.2"/>
<line x1="440.96" y1="276" x2="440.96" y2="279" stroke="#000" stroke-width="1.2"/>
<line x1="450.21" y1="276" x2="450.21" y2="279" stroke="#000" stroke-width="1.2"/>
<line x1="459.47" y1="276" x2="459.47" y2="279" stroke="#000" stroke-width="1.2"/>
<line x1="468.72" y1="276" x2="468.72" y2="279" stroke="#000" stroke-width="1.2"/>
<line x1="477.97" y1="276" x2="477.97" y2="279" stroke="#000" stroke-width="1.2"/>
<line x1="487.23" y1="276" x2="487.23" y2="279" stroke="#000" stroke-width="1.2"/>
<line x1="496.48" y1="276" x2="496.48" y2="279" stroke="#000" stroke-width="1.2"/>
<line x1="505.73" y1="276" x2="505.73" y2="279" stroke="#000" stroke-width="1.2"/>
<line x1="514.99" y1="276" x2="514.99" y2="279" stroke="#000" stroke-width="1.2"/>
<line x1="524.24" y1="276" x2="524.24" y2="279" stroke="#000" stroke-width="1.2"/>
<line x1="533.49" y1="276" x2="533.49" y2="279" stroke="#000" stroke-width="1.2"/>
<line x1="542.75" y1="276" x2="542.75" y2="279" stroke="#000" stroke-width="1.2"/>
<line x1="552" y1="276" x2="552" y2="279" stroke="#000" stroke-width="1.2"/>
<line x1="561.25" y1="276" x2="561.25" y2="279" stroke="#000" stroke-width="1.2"/>
<line x1="570.51" y1="276" x2="570.51" y2="279" stroke="#000" stroke-width="1.2"/>
<line x1="579.76" y1="276" x2="579.76" y2="279" stroke="#000" stroke-width="1.2"/>
<line x1="589.01" y1="276" x2="589.01" y2="279" stroke="#000" stroke-width="1.2"/>
<line x1="598.27" y1="276" x2="598.27" y2="279" stroke="#000" stroke-width="1.2"/>
<line x1="607.52" y1="276" x2="607.52" y2="279" stroke="#000" stroke-width="1.2"/>
<line x1="616.77" y1="276" x2="616.77" y2="279" stroke="#000" stroke-width="1.2"/>
<line x1="626.03" y1="276" x2="626.03" y2="279" stroke="#000" stroke-width="1.2"/>
<line x1="635.28" y1="276" x2="635.28" y2="279" stroke="#000" stroke-width="1.2"/>
<line x1="644.53" y1="276" x2="644.53" y2="279" stroke="#000" stroke-width="1.2"/>
<line x1="653.79" y1="276" x2="653.79" y2="279" stroke="#000" stroke-width="1.2"/>
<line x1="663.04" y1="276" x2="663.04" y2="279" stroke="#000" stroke-width="1.2"/>
<line x1="672.29" y1="276" x2="672.29" y2="279" stroke="#000" stroke-width="1.2"/>
<line x1="681.55" y1="276" x2="681.55" y2="279" stroke="#000" stroke-width="1.2"/>
<line x1="690.8" y1="276" x2="690.8" y2="279" stroke="#000" stroke-width="1.2"/>
<line x1="413.2" y1="276" x2="413.2" y2="280.5" stroke="#000" stroke-width="1.3"/>
<text x="412.7" y="291.2" font-size="9.2" text-anchor="middle" font-weight="normal" font-style="normal" fill="#000" letter-spacing="2.0" stroke="#000" stroke-width="0.22">8.0</text>
<line x1="459.47" y1="276" x2="459.47" y2="280.5" stroke="#000" stroke-width="1.3"/>
<text x="458.97" y="291.2" font-size="9.2" text-anchor="middle" font-weight="normal" font-style="normal" fill="#000" letter-spacing="2.0" stroke="#000" stroke-width="0.22">8.5</text>
<line x1="505.73" y1="276" x2="505.73" y2="280.5" stroke="#000" stroke-width="1.3"/>
<text x="505.23" y="291.2" font-size="9.2" text-anchor="middle" font-weight="normal" font-style="normal" fill="#000" letter-spacing="2.0" stroke="#000" stroke-width="0.22">9.0</text>
<line x1="552" y1="276" x2="552" y2="280.5" stroke="#000" stroke-width="1.3"/>
<text x="551.5" y="291.2" font-size="9.2" text-anchor="middle" font-weight="normal" font-style="normal" fill="#000" letter-spacing="2.0" stroke="#000" stroke-width="0.22">9.5</text>
<line x1="598.27" y1="276" x2="598.27" y2="280.5" stroke="#000" stroke-width="1.3"/>
<text x="597.77" y="291.2" font-size="9.2" text-anchor="middle" font-weight="normal" font-style="normal" fill="#000" letter-spacing="2.0" stroke="#000" stroke-width="0.22">10.0</text>
<line x1="644.53" y1="276" x2="644.53" y2="280.5" stroke="#000" stroke-width="1.3"/>
<text x="644.03" y="291.2" font-size="9.2" text-anchor="middle" font-weight="normal" font-style="normal" fill="#000" letter-spacing="2.0" stroke="#000" stroke-width="0.22">10.5</text>
<line x1="690.8" y1="276" x2="690.8" y2="280.5" stroke="#000" stroke-width="1.3"/>
<text x="690.3" y="291.2" font-size="9.2" text-anchor="middle" font-weight="normal" font-style="normal" fill="#000" letter-spacing="2.0" stroke="#000" stroke-width="0.22">11.0</text>
<line x1="409" y1="276" x2="413.2" y2="276" stroke="#000" stroke-width="1.2"/>
<line x1="409" y1="258.43" x2="413.2" y2="258.43" stroke="#000" stroke-width="1.2"/>
<line x1="409" y1="240.85" x2="413.2" y2="240.85" stroke="#000" stroke-width="1.2"/>
<line x1="409" y1="223.28" x2="413.2" y2="223.28" stroke="#000" stroke-width="1.2"/>
<line x1="409" y1="205.71" x2="413.2" y2="205.71" stroke="#000" stroke-width="1.2"/>
<line x1="409" y1="188.13" x2="413.2" y2="188.13" stroke="#000" stroke-width="1.2"/>
<line x1="409" y1="170.56" x2="413.2" y2="170.56" stroke="#000" stroke-width="1.2"/>
<line x1="409" y1="152.99" x2="413.2" y2="152.99" stroke="#000" stroke-width="1.2"/>
<line x1="409" y1="135.41" x2="413.2" y2="135.41" stroke="#000" stroke-width="1.2"/>
<line x1="409" y1="117.84" x2="413.2" y2="117.84" stroke="#000" stroke-width="1.2"/>
<line x1="409" y1="100.27" x2="413.2" y2="100.27" stroke="#000" stroke-width="1.2"/>
<line x1="409" y1="82.69" x2="413.2" y2="82.69" stroke="#000" stroke-width="1.2"/>
<line x1="409" y1="65.12" x2="413.2" y2="65.12" stroke="#000" stroke-width="1.2"/>
<line x1="409" y1="47.55" x2="413.2" y2="47.55" stroke="#000" stroke-width="1.2"/>
<line x1="409" y1="29.97" x2="413.2" y2="29.97" stroke="#000" stroke-width="1.2"/>
<line x1="409" y1="12.4" x2="413.2" y2="12.4" stroke="#000" stroke-width="1.2"/>
<line x1="405.2" y1="12.4" x2="413.2" y2="12.4" stroke="#000" stroke-width="1.5"/>
<text x="402.8" y="14.5" font-size="8.8" text-anchor="end" font-weight="normal" font-style="normal" fill="#000" letter-spacing="2.7" stroke="#000" stroke-width="0.22">26.0</text>
<line x1="405.2" y1="100.27" x2="413.2" y2="100.27" stroke="#000" stroke-width="1.5"/>
<text x="402.8" y="102.37" font-size="8.8" text-anchor="end" font-weight="normal" font-style="normal" fill="#000" letter-spacing="2.7" stroke="#000" stroke-width="0.22">25.5</text>
<line x1="405.2" y1="188.13" x2="413.2" y2="188.13" stroke="#000" stroke-width="1.5"/>
<text x="402.8" y="190.23" font-size="8.8" text-anchor="end" font-weight="normal" font-style="normal" fill="#000" letter-spacing="2.7" stroke="#000" stroke-width="0.22">25.0</text>
<line x1="405.2" y1="276" x2="413.2" y2="276" stroke="#000" stroke-width="1.5"/>
<text x="402.8" y="278.1" font-size="8.8" text-anchor="end" font-weight="normal" font-style="normal" fill="#000" letter-spacing="2.7" stroke="#000" stroke-width="0.22">24.5</text>
<text transform="translate(363,139.2) rotate(-90)" text-anchor="middle" font-size="9.2" letter-spacing="0.35"><tspan font-size="10.4">V</tspan><tspan font-size="4.6" dy="3" dx="-0.7" font-style="italic">F</tspan><tspan dy="-3" dx="0.5" font-style="italic">(MeV)</tspan></text>
<text x="554.6" y="303.8" text-anchor="middle" font-size="8.3" letter-spacing="1.35" stroke="#000" stroke-width="0.15">r(<tspan font-style="italic" dx="0.8">fm</tspan> )</text>
<rect x="420.8" y="18.9" width="86.6" height="15.1" stroke="#666" stroke-width="1" fill="none"/>
<text x="433.98" y="25.8" font-size="5.4" font-weight="bold" font-style="normal" fill="#000" stroke="#000" stroke-width="0.18">6</text>
<text x="438.6" y="31.3" font-size="8.4" font-weight="bold" font-style="normal" fill="#000" stroke="#000" stroke-width="0.18">L</text>
<text x="446.9" y="31.3" font-size="8.4" font-weight="bold" font-style="normal" fill="#000" stroke="#000" stroke-width="0.18">i</text>
<text x="454.5" y="31.3" font-size="8.4" font-weight="bold" font-style="normal" fill="#000" stroke="#000" stroke-width="0.18">+</text>
<text x="462.98" y="25.8" font-size="5.4" font-weight="bold" font-style="normal" fill="#000" textLength="12.94" lengthAdjust="spacing" stroke="#000" stroke-width="0.18">144</text>
<text x="476.6" y="31.3" font-size="8.4" font-weight="bold" font-style="normal" fill="#000" stroke="#000" stroke-width="0.18">S</text>
<text x="485.5" y="31.3" font-size="8.4" font-weight="bold" font-style="normal" fill="#000" stroke="#000" stroke-width="0.18">m</text>
<text x="459.7" y="51.5" font-size="8.4" font-weight="bold" font-style="normal" fill="#000" textLength="15.24" lengthAdjust="spacing" stroke="#000" stroke-width="0.25">(b)</text>
<text x="585.24" y="35.1" font-size="9.26" font-weight="bold" font-style="normal" fill="#0000ff" textLength="53.73" lengthAdjust="spacing" stroke="#0000ff" stroke-width="0.1">FB=25.85</text>
<text x="642.1" y="35.1" font-size="9.26" font-weight="bold" font-style="italic" fill="#0000ff" textLength="25.43" lengthAdjust="spacing" stroke="#0000ff" stroke-width="0.1">MeV</text>
<text x="592.04" y="73.1" font-size="9.26" font-weight="bold" font-style="normal" fill="#0000ff" textLength="53.73" lengthAdjust="spacing" stroke="#0000ff" stroke-width="0.1">FB=25.72</text>
<text x="649.1" y="73.1" font-size="9.26" font-weight="bold" font-style="italic" fill="#0000ff" textLength="24.43" lengthAdjust="spacing" stroke="#0000ff" stroke-width="0.1">MeV</text>
<text x="612.52" y="139.7" font-size="8.01" font-weight="bold" font-style="normal" fill="#0000ff" textLength="45.8" lengthAdjust="spacing" stroke="#0000ff" stroke-width="0.1">FB=25.25</text>
<text x="661.3" y="139.7" font-size="8.01" font-weight="bold" font-style="italic" fill="#0000ff" textLength="21.9" lengthAdjust="spacing" stroke="#0000ff" stroke-width="0.1">MeV</text>
<clipPath id="cb1"><rect x="48" y="331.0" width="295.1" height="259.29999999999995"/></clipPath>
<line x1="48" y1="331.2" x2="343.1" y2="331.2" stroke="#a0a0a0" stroke-width="1.2"/>
<line x1="343.1" y1="331.2" x2="343.1" y2="590.3" stroke="#a0a0a0" stroke-width="1.2"/>
<path d="M61.92,325.64 L62.00,326.43 L62.07,327.23 L62.14,328.03 L62.22,328.82 L62.29,329.62 L62.37,330.42 L62.44,331.21 L62.52,332.01 L62.59,332.81 L62.67,333.60 L62.74,334.40 L62.82,335.19 L62.89,335.99 L62.97,336.79 L63.05,337.58 L63.12,338.38 L63.20,339.18 L63.27,339.97 L63.35,340.77 L63.43,341.57 L63.50,342.36 L63.58,343.16 L63.66,343.95 L63.74,344.75 L63.81,345.55 L63.89,346.34 L63.97,347.14 L64.05,347.94 L64.12,348.73 L64.20,349.53 L64.28,350.32 L64.36,351.12 L64.44,351.92 L64.52,352.71 L64.60,353.51 L64.67,354.30 L64.75,355.10 L64.83,355.90 L64.91,356.69 L64.99,357.49 L65.07,358.28 L65.15,359.08 L65.23,359.88 L65.31,360.67 L65.39,361.47 L65.47,362.26 L65.55,363.06 L65.64,363.86 L65.72,364.65 L65.80,365.45 L65.88,366.24 L65.96,367.04 L66.04,367.83 L66.12,368.63 L66.21,369.43 L66.29,370.22 L66.37,371.02 L66.45,371.81 L66.54,372.61 L66.62,373.40 L66.70,374.20 L66.79,375.00 L66.87,375.79 L66.95,376.59 L67.04,377.38 L67.12,378.18 L67.21,378.97 L67.29,379.77 L67.38,380.57 L67.46,381.36 L67.55,382.16 L67.63,382.95 L67.72,383.75 L67.80,384.54 L67.89,385.34 L67.97,386.13 L68.06,386.93 L68.15,387.72 L68.23,388.52 L68.32,389.31 L68.41,390.11 L68.49,390.90 L68.58,391.70 L68.67,392.49 L68.76,393.29 L68.85,394.09 L68.93,394.88 L69.02,395.68 L69.11,396.47 L69.20,397.27 L69.29,398.06 L69.38,398.86 L69.47,399.65 L69.56,400.45 L69.65,401.24 L69.74,402.03 L69.83,402.83 L69.92,403.62 L70.01,404.42 L70.10,405.21 L70.19,406.01 L70.28,406.80 L70.38,407.60 L70.47,408.39 L70.56,409.19 L70.65,409.98 L70.75,410.78 L70.84,411.57 L70.93,412.37 L71.03,413.16 L71.12,413.95 L71.21,414.75 L71.31,415.54 L71.40,416.34 L71.50,417.13 L71.59,417.93 L71.69,418.72 L71.78,419.52 L71.88,420.31 L71.98,421.10 L72.07,421.90 L72.17,422.69 L72.27,423.49 L72.36,424.28 L72.46,425.07 L72.56,425.87 L72.66,426.66 L72.76,427.46 L72.85,428.25 L72.95,429.04 L73.05,429.84 L73.15,430.63 L73.25,431.42 L73.35,432.22 L73.45,433.01 L73.55,433.81 L73.66,434.60 L73.76,435.39 L73.86,436.19 L73.96,436.98 L74.06,437.77 L74.17,438.57 L74.27,439.36 L74.37,440.15 L74.48,440.95 L74.58,441.74 L74.69,442.53 L74.79,443.33 L74.90,444.12 L75.00,444.91 L75.11,445.70 L75.21,446.50 L75.32,447.29 L75.43,448.08 L75.54,448.88 L75.64,449.67 L75.75,450.46 L75.86,451.25 L75.97,452.05 L76.08,452.84 L76.19,453.63 L76.30,454.42 L76.41,455.22 L76.52,456.01 L76.63,456.80 L76.74,457.59 L76.86,458.38 L76.97,459.18 L77.08,459.97 L77.20,460.76 L77.31,461.55 L77.42,462.34 L77.54,463.13 L77.65,463.93 L77.77,464.72 L77.89,465.51 L78.00,466.30 L78.12,467.09 L78.24,467.88 L78.36,468.67 L78.48,469.47 L78.60,470.26 L78.72,471.05 L78.84,471.84 L78.96,472.63 L79.08,473.42 L79.20,474.21 L79.32,475.00 L79.45,475.79 L79.57,476.58 L79.70,477.37 L79.82,478.16 L79.95,478.95 L80.07,479.74 L80.20,480.53 L80.33,481.32 L80.46,482.11 L80.58,482.90 L80.71,483.69 L80.84,484.48 L80.98,485.27 L81.11,486.06 L81.24,486.85 L81.37,487.64 L81.51,488.42 L81.64,489.21 L81.78,490.00 L81.91,490.79 L82.05,491.58 L82.19,492.37 L82.32,493.15 L82.46,493.94 L82.60,494.73 L82.74,495.52 L82.89,496.30 L83.03,497.09 L83.17,497.88 L83.32,498.67 L83.46,499.45 L83.61,500.24 L83.76,501.02 L83.90,501.81 L84.05,502.60 L84.20,503.38 L84.36,504.17 L84.51,504.95 L84.66,505.74 L84.82,506.52 L84.97,507.31 L85.13,508.09 L85.29,508.88 L85.45,509.66 L85.61,510.44 L85.77,511.23 L85.94,512.01 L86.10,512.79 L86.27,513.58 L86.43,514.36 L86.60,515.14 L86.77,515.92 L86.95,516.70 L87.12,517.48 L87.30,518.26 L87.47,519.04 L87.65,519.82 L87.83,520.60 L88.02,521.38 L88.20,522.16 L88.39,522.94 L88.58,523.71 L88.77,524.49 L88.96,525.27 L89.16,526.04 L89.36,526.82 L89.56,527.59 L89.76,528.37 L89.96,529.14 L90.17,529.91 L90.38,530.68 L90.60,531.45 L90.82,532.22 L91.04,532.99 L91.26,533.76 L91.49,534.53 L91.72,535.29 L91.95,536.06 L92.19,536.82 L92.44,537.58 L92.68,538.35 L92.94,539.10 L93.19,539.86 L93.46,540.62 L93.73,541.37 L94.00,542.12 L94.28,542.87 L94.57,543.62 L94.87,544.36 L95.17,545.10 L95.49,545.83 L95.81,546.57 L96.14,547.29 L96.49,548.02 L96.85,548.73 L97.22,549.44 L97.60,550.14 L98.01,550.83 L98.43,551.51 L98.88,552.17 L99.35,552.82 L99.85,553.44 L100.38,554.04 L100.96,554.60 L101.58,555.10 L102.25,555.54 L102.97,555.89 L103.73,556.11 L104.53,556.19 L105.32,556.11 L106.09,555.89 L106.81,555.55 L107.49,555.12 L108.11,554.62 L108.70,554.08 L109.24,553.49 L109.76,552.88 L110.24,552.24 L110.71,551.59 L111.15,550.92 L111.57,550.25 L111.98,549.56 L112.37,548.86 L112.75,548.15 L113.11,547.44 L113.47,546.72 L113.81,546.00 L114.15,545.28 L114.47,544.55 L114.79,543.81 L115.11,543.08 L115.41,542.34 L115.71,541.60 L116.01,540.85 L116.29,540.11 L116.58,539.36 L116.86,538.61 L117.13,537.86 L117.40,537.10 L117.67,536.35 L117.93,535.59 L118.19,534.84 L118.44,534.08 L118.69,533.32 L118.94,532.56 L119.19,531.80 L119.43,531.03 L119.67,530.27 L119.91,529.51 L120.14,528.74 L120.37,527.98 L120.60,527.21 L120.83,526.44 L121.06,525.68 L121.28,524.91 L121.51,524.14 L121.73,523.37 L121.94,522.60 L122.16,521.83 L122.38,521.06 L122.59,520.29 L122.80,519.52 L123.01,518.75 L123.22,517.97 L123.43,517.20 L123.64,516.43 L123.84,515.66 L124.05,514.88 L124.25,514.11 L124.45,513.33 L124.65,512.56 L124.85,511.79 L125.05,511.01 L125.25,510.24 L125.44,509.46 L125.64,508.68 L125.83,507.91 L126.03,507.13 L126.22,506.36 L126.41,505.58 L126.61,504.80 L126.80,504.03 L126.99,503.25 L127.18,502.47 L127.36,501.69 L127.55,500.92 L127.74,500.14 L127.93,499.36 L128.11,498.58 L128.30,497.80 L128.48,497.03 L128.67,496.25 L128.85,495.47 L129.03,494.69 L129.22,493.91 L129.40,493.13 L129.58,492.35 L129.76,491.58 L129.94,490.80 L130.13,490.02 L130.31,489.24 L130.49,488.46 L130.67,487.68 L130.85,486.90 L131.02,486.12 L131.20,485.34 L131.38,484.56 L131.56,483.78 L131.74,483.00 L131.92,482.22 L132.09,481.44 L132.27,480.66 L132.45,479.88 L132.63,479.10 L132.80,478.32 L132.98,477.54 L133.16,476.76 L133.33,475.98 L133.51,475.20 L133.69,474.42 L133.86,473.64 L134.04,472.86 L134.21,472.08 L134.39,471.30 L134.57,470.52 L134.74,469.74 L134.92,468.96 L135.09,468.18 L135.27,467.39 L135.45,466.61 L135.62,465.83 L135.80,465.05 L135.97,464.27 L136.15,463.49 L136.33,462.71 L136.50,461.93 L136.68,461.15 L136.85,460.37 L137.03,459.59 L137.21,458.81 L137.38,458.03 L137.56,457.25 L137.74,456.47 L137.92,455.69 L138.09,454.91 L138.27,454.13 L138.45,453.35 L138.63,452.57 L138.81,451.79 L138.99,451.01 L139.16,450.23 L139.34,449.45 L139.52,448.67 L139.70,447.89 L139.88,447.11 L140.06,446.33 L140.25,445.56 L140.43,444.78 L140.61,444.00 L140.79,443.22 L140.97,442.44 L141.16,441.66 L141.34,440.88 L141.52,440.10 L141.71,439.32 L141.89,438.55 L142.08,437.77 L142.26,436.99 L142.45,436.21 L142.64,435.43 L142.82,434.66 L143.01,433.88 L143.20,433.10 L143.39,432.32 L143.58,431.55 L143.77,430.77 L143.96,429.99 L144.15,429.22 L144.34,428.44 L144.54,427.66 L144.73,426.89 L144.92,426.11 L145.12,425.34 L145.32,424.56 L145.51,423.78 L145.71,423.01 L145.91,422.23 L146.11,421.46 L146.31,420.68 L146.51,419.91 L146.71,419.14 L146.92,418.36 L147.12,417.59 L147.32,416.82 L147.53,416.04 L147.74,415.27 L147.95,414.50 L148.16,413.73 L148.37,412.95 L148.58,412.18 L148.79,411.41 L149.01,410.64 L149.22,409.87 L149.44,409.10 L149.66,408.33 L149.88,407.56 L150.10,406.79 L150.32,406.02 L150.55,405.26 L150.77,404.49 L151.00,403.72 L151.23,402.96 L151.46,402.19 L151.69,401.42 L151.93,400.66 L152.16,399.90 L152.40,399.13 L152.64,398.37 L152.88,397.61 L153.13,396.84 L153.37,396.08 L153.62,395.32 L153.87,394.56 L154.13,393.81 L154.38,393.05 L154.64,392.29 L154.90,391.53 L155.17,390.78 L155.43,390.02 L155.70,389.27 L155.98,388.52 L156.25,387.77 L156.53,387.02 L156.81,386.27 L157.10,385.52 L157.39,384.78 L157.68,384.03 L157.98,383.29 L158.28,382.55 L158.59,381.81 L158.90,381.07 L159.21,380.34 L159.53,379.60 L159.86,378.87 L160.19,378.14 L160.52,377.42 L160.86,376.69 L161.21,375.97 L161.56,375.26 L161.92,374.54 L162.29,373.83 L162.67,373.13 L163.05,372.42 L163.44,371.73 L163.84,371.03 L164.25,370.35 L164.67,369.66 L165.10,368.99 L165.54,368.32 L166.00,367.66 L166.46,367.01 L166.94,366.37 L167.43,365.74 L167.94,365.12 L168.47,364.52 L169.01,363.93 L169.57,363.36 L170.15,362.81 L170.75,362.28 L171.37,361.78 L172.02,361.31 L172.69,360.87 L173.38,360.47 L174.09,360.10 L174.83,359.79 L175.58,359.53 L176.36,359.33 L177.14,359.18 L177.94,359.09 L178.74,359.07 L179.54,359.11 L180.33,359.21 L181.12,359.36 L181.89,359.56 L182.65,359.81 L183.39,360.10 L184.12,360.43 L184.84,360.79 L185.53,361.19 L186.21,361.60 L186.88,362.05 L187.53,362.51 L188.17,362.99 L188.80,363.49 L189.41,364.01 L190.01,364.53 L190.60,365.08 L191.18,365.63 L191.75,366.19 L192.31,366.76 L192.86,367.34 L193.40,367.93 L193.94,368.52 L194.47,369.12 L194.99,369.73 L195.50,370.34 L196.01,370.96 L196.51,371.58 L197.01,372.21 L197.50,372.84 L197.99,373.48 L198.47,374.11 L198.94,374.76 L199.42,375.40 L199.88,376.05 L200.35,376.70 L200.81,377.36 L201.26,378.02 L201.72,378.67 L202.17,379.34 L202.61,380.00 L203.06,380.67 L203.50,381.33 L203.93,382.00 L204.37,382.68 L204.80,383.35 L205.23,384.02 L205.66,384.70 L206.08,385.38 L206.51,386.06 L206.93,386.74 L207.34,387.42 L207.76,388.10 L208.18,388.79 L208.59,389.47 L209.00,390.16 L209.41,390.85 L209.82,391.53 L210.22,392.22 L210.63,392.91 L211.03,393.60 L211.43,394.30 L211.83,394.99 L212.23,395.68 L212.63,396.38 L213.03,397.07 L213.42,397.77 L213.82,398.46 L214.21,399.16 L214.60,399.86 L214.99,400.55 L215.38,401.25 L215.77,401.95 L216.16,402.65 L216.55,403.35 L216.94,404.05 L217.32,404.75 L217.71,405.45 L218.09,406.15 L218.48,406.85 L218.86,407.56 L219.24,408.26 L219.62,408.96 L220.00,409.67 L220.38,410.37 L220.76,411.07 L221.14,411.78 L221.52,412.48 L221.90,413.19 L222.28,413.89 L222.66,414.60 L223.03,415.30 L223.41,416.01 L223.79,416.71 L224.16,417.42 L224.54,418.13 L224.92,418.83 L225.29,419.54 L225.67,420.25 L226.04,420.95 L226.41,421.66 L226.79,422.37 L227.16,423.07 L227.54,423.78 L227.91,424.49 L228.28,425.20 L228.66,425.90 L229.03,426.61 L229.40,427.32 L229.77,428.03 L230.15,428.74 L230.52,429.44 L230.89,430.15 L231.26,430.86 L231.64,431.57 L232.01,432.28 L232.38,432.98 L232.75,433.69 L233.12,434.40 L233.50,435.11 L233.87,435.82 L234.24,436.53 L234.61,437.23 L234.99,437.94 L235.36,438.65 L235.73,439.36 L236.10,440.07 L236.47,440.77 L236.85,441.48 L237.22,442.19 L237.59,442.90 L237.97,443.61 L238.34,444.31 L238.71,445.02 L239.08,445.73 L239.46,446.44 L239.83,447.14 L240.20,447.85 L240.58,448.56 L240.95,449.27 L241.33,449.97 L241.70,450.68 L242.08,451.39 L242.45,452.09 L242.83,452.80 L243.20,453.51 L243.58,454.21 L243.95,454.92 L244.33,455.62 L244.70,456.33 L245.08,457.04 L245.46,457.74 L245.83,458.45 L246.21,459.15 L246.59,459.86 L246.97,460.56 L247.35,461.27 L247.72,461.97 L248.10,462.68 L248.48,463.38 L248.86,464.09 L249.24,464.79 L249.62,465.50 L250.00,466.20 L250.38,466.90 L250.76,467.61 L251.14,468.31 L251.53,469.01 L251.91,469.72 L252.29,470.42 L252.67,471.12 L253.06,471.82 L253.44,472.52 L253.82,473.23 L254.21,473.93 L254.59,474.63 L254.98,475.33 L255.36,476.03 L255.75,476.73 L256.14,477.43 L256.52,478.13 L256.91,478.83 L257.30,479.53 L257.68,480.23 L258.07,480.93 L258.46,481.63 L258.85,482.33 L259.24,483.03 L259.63,483.73 L260.02,484.42 L260.41,485.12 L260.81,485.82 L261.20,486.52 L261.59,487.21 L261.98,487.91 L262.38,488.61 L262.77,489.30 L263.16,490.00 L263.56,490.70 L263.96,491.39 L264.35,492.09 L264.75,492.78 L265.14,493.48 L265.54,494.17 L265.94,494.86 L266.34,495.56 L266.74,496.25 L267.14,496.94 L267.54,497.64 L267.94,498.33 L268.34,499.02 L268.74,499.71 L269.14,500.40 L269.55,501.10 L269.95,501.79 L270.35,502.48 L270.76,503.17 L271.16,503.86 L271.57,504.55 L271.97,505.24 L272.38,505.93 L272.79,506.61 L273.19,507.30 L273.60,507.99 L274.01,508.68 L274.42,509.37 L274.83,510.05 L275.24,510.74 L275.65,511.43 L276.06,512.11 L276.48,512.80 L276.89,513.48 L277.30,514.17 L277.72,514.85 L278.13,515.54 L278.55,516.22 L278.96,516.90 L279.38,517.59 L279.80,518.27 L280.21,518.95 L280.63,519.63 L281.05,520.31 L281.47,521.00 L281.89,521.68 L282.31,522.36 L282.73,523.04 L283.15,523.72 L283.58,524.40 L284.00,525.07 L284.42,525.75 L284.85,526.43 L285.27,527.11 L285.70,527.79 L286.13,528.46 L286.55,529.14 L286.98,529.81 L287.41,530.49 L287.84,531.17 L288.27,531.84 L288.70,532.51 L289.13,533.19 L289.56,533.86 L289.99,534.54 L290.43,535.21 L290.86,535.88 L291.29,536.55 L291.73,537.22 L292.16,537.89 L292.60,538.57 L293.04,539.24 L293.48,539.91 L293.91,540.57 L294.35,541.24 L294.79,541.91 L295.23,542.58 L295.67,543.25 L296.11,543.91 L296.56,544.58 L297.00,545.25 L297.44,545.91 L297.89,546.58 L298.33,547.24 L298.78,547.91 L299.23,548.57 L299.67,549.23 L300.12,549.90 L300.57,550.56 L301.02,551.22 L301.47,551.88 L301.92,552.54 L302.37,553.20 L302.82,553.86 L303.27,554.52 L303.73,555.18 L304.18,555.84 L304.64,556.50 L305.09,557.16 L305.55,557.81 L306.00,558.47 L306.46,559.13 L306.92,559.78 L307.38,560.44 L307.84,561.09 L308.30,561.75 L308.76,562.40 L309.22,563.05 L309.69,563.71 L310.15,564.36 L310.61,565.01 L311.08,565.66 L311.54,566.31 L312.01,566.96 L312.48,567.61 L312.94,568.26 L313.41,568.91 L313.88,569.56 L314.35,570.21 L314.82,570.85 L315.29,571.50 L315.76,572.14 L316.24,572.79 L316.71,573.43 L317.19,574.08 L317.66,574.72 L318.14,575.37 L318.61,576.01 L319.09,576.65 L319.57,577.29 L320.05,577.93 L320.52,578.57 L321.01,579.21 L321.49,579.85 L321.97,580.49 L322.45,581.13 L322.93,581.77 L323.42,582.41 L323.90,583.04 L324.39,583.68 L324.87,584.31 L325.36,584.95 L325.85,585.58 L326.33,586.22 L326.82,586.85 L327.31,587.48 L327.80,588.11 L328.29,588.75 L328.79,589.38 L329.28,590.01 L329.77,590.64 L330.27,591.27 L330.76,591.89 L331.26,592.52 L331.75,593.15 L332.25,593.78 L332.75,594.40 L333.25,595.03 L333.75,595.65 L334.25,596.28" fill="none" stroke="#000" stroke-width="2.0" stroke-linejoin="round" stroke-dasharray="2 6.5" stroke-dashoffset="0" clip-path="url(#cb1)"/>
<path d="M61.87,325.35 L61.95,326.14 L62.02,326.94 L62.09,327.73 L62.17,328.53 L62.24,329.33 L62.32,330.12 L62.39,330.92 L62.46,331.71 L62.54,332.51 L62.61,333.31 L62.69,334.10 L62.76,334.90 L62.84,335.69 L62.92,336.49 L62.99,337.28 L63.07,338.08 L63.14,338.88 L63.22,339.67 L63.29,340.47 L63.37,341.26 L63.45,342.06 L63.52,342.86 L63.60,343.65 L63.68,344.45 L63.75,345.24 L63.83,346.04 L63.91,346.83 L63.99,347.63 L64.06,348.43 L64.14,349.22 L64.22,350.02 L64.30,350.81 L64.37,351.61 L64.45,352.40 L64.53,353.20 L64.61,353.99 L64.69,354.79 L64.77,355.59 L64.85,356.38 L64.93,357.18 L65.00,357.97 L65.08,358.77 L65.16,359.56 L65.24,360.36 L65.32,361.15 L65.40,361.95 L65.48,362.74 L65.56,363.54 L65.64,364.34 L65.73,365.13 L65.81,365.93 L65.89,366.72 L65.97,367.52 L66.05,368.31 L66.13,369.11 L66.21,369.90 L66.30,370.70 L66.38,371.49 L66.46,372.29 L66.54,373.08 L66.63,373.88 L66.71,374.67 L66.79,375.47 L66.87,376.26 L66.96,377.06 L67.04,377.85 L67.12,378.65 L67.21,379.44 L67.29,380.24 L67.38,381.03 L67.46,381.83 L67.55,382.62 L67.63,383.42 L67.72,384.21 L67.80,385.01 L67.89,385.80 L67.97,386.60 L68.06,387.39 L68.14,388.19 L68.23,388.98 L68.32,389.78 L68.40,390.57 L68.49,391.37 L68.58,392.16 L68.66,392.96 L68.75,393.75 L68.84,394.54 L68.93,395.34 L69.02,396.13 L69.10,396.93 L69.19,397.72 L69.28,398.52 L69.37,399.31 L69.46,400.11 L69.55,400.90 L69.64,401.70 L69.73,402.49 L69.82,403.28 L69.91,404.08 L70.00,404.87 L70.09,405.67 L70.18,406.46 L70.27,407.26 L70.36,408.05 L70.45,408.84 L70.54,409.64 L70.64,410.43 L70.73,411.23 L70.82,412.02 L70.91,412.81 L71.01,413.61 L71.10,414.40 L71.19,415.20 L71.29,415.99 L71.38,416.78 L71.48,417.58 L71.57,418.37 L71.67,419.16 L71.76,419.96 L71.86,420.75 L71.95,421.55 L72.05,422.34 L72.14,423.13 L72.24,423.93 L72.34,424.72 L72.43,425.51 L72.53,426.31 L72.63,427.10 L72.73,427.89 L72.82,428.69 L72.92,429.48 L73.02,430.27 L73.12,431.07 L73.22,431.86 L73.32,432.65 L73.42,433.45 L73.52,434.24 L73.62,435.03 L73.72,435.83 L73.82,436.62 L73.92,437.41 L74.03,438.21 L74.13,439.00 L74.23,439.79 L74.33,440.58 L74.44,441.38 L74.54,442.17 L74.64,442.96 L74.75,443.75 L74.85,444.55 L74.96,445.34 L75.06,446.13 L75.17,446.92 L75.27,447.72 L75.38,448.51 L75.49,449.30 L75.59,450.09 L75.70,450.89 L75.81,451.68 L75.92,452.47 L76.02,453.26 L76.13,454.05 L76.24,454.85 L76.35,455.64 L76.46,456.43 L76.57,457.22 L76.68,458.01 L76.80,458.80 L76.91,459.60 L77.02,460.39 L77.13,461.18 L77.24,461.97 L77.36,462.76 L77.47,463.55 L77.59,464.34 L77.70,465.14 L77.82,465.93 L77.93,466.72 L78.05,467.51 L78.17,468.30 L78.28,469.09 L78.40,469.88 L78.52,470.67 L78.64,471.46 L78.76,472.25 L78.88,473.04 L79.00,473.83 L79.12,474.62 L79.24,475.41 L79.36,476.20 L79.49,476.99 L79.61,477.78 L79.73,478.57 L79.86,479.36 L79.98,480.15 L80.11,480.94 L80.23,481.73 L80.36,482.52 L80.49,483.31 L80.62,484.10 L80.74,484.89 L80.87,485.68 L81.00,486.47 L81.13,487.25 L81.27,488.04 L81.40,488.83 L81.53,489.62 L81.66,490.41 L81.80,491.20 L81.93,491.98 L82.07,492.77 L82.21,493.56 L82.34,494.35 L82.48,495.13 L82.62,495.92 L82.76,496.71 L82.90,497.50 L83.04,498.28 L83.19,499.07 L83.33,499.86 L83.47,500.64 L83.62,501.43 L83.77,502.21 L83.91,503.00 L84.06,503.78 L84.21,504.57 L84.36,505.36 L84.51,506.14 L84.66,506.92 L84.82,507.71 L84.97,508.49 L85.13,509.28 L85.29,510.06 L85.44,510.85 L85.60,511.63 L85.77,512.41 L85.93,513.19 L86.09,513.98 L86.26,514.76 L86.42,515.54 L86.59,516.32 L86.76,517.10 L86.93,517.88 L87.10,518.67 L87.28,519.45 L87.45,520.23 L87.63,521.00 L87.81,521.78 L87.99,522.56 L88.17,523.34 L88.36,524.12 L88.55,524.90 L88.73,525.67 L88.93,526.45 L89.12,527.22 L89.32,528.00 L89.51,528.77 L89.71,529.55 L89.92,530.32 L90.12,531.09 L90.33,531.87 L90.54,532.64 L90.76,533.41 L90.98,534.18 L91.20,534.94 L91.42,535.71 L91.65,536.48 L91.88,537.24 L92.12,538.01 L92.36,538.77 L92.60,539.53 L92.85,540.29 L93.10,541.05 L93.36,541.80 L93.63,542.56 L93.90,543.31 L94.18,544.06 L94.46,544.81 L94.75,545.55 L95.05,546.29 L95.36,547.03 L95.67,547.77 L96.00,548.50 L96.34,549.22 L96.69,549.94 L97.05,550.65 L97.43,551.36 L97.82,552.05 L98.23,552.74 L98.66,553.41 L99.12,554.07 L99.61,554.70 L100.12,555.31 L100.67,555.89 L101.27,556.42 L101.91,556.90 L102.61,557.29 L103.35,557.57 L104.14,557.72 L104.94,557.71 L105.72,557.54 L106.46,557.24 L107.15,556.84 L107.79,556.37 L108.39,555.84 L108.95,555.26 L109.47,554.66 L109.96,554.03 L110.43,553.38 L110.88,552.72 L111.30,552.04 L111.71,551.36 L112.11,550.66 L112.48,549.96 L112.85,549.25 L113.21,548.53 L113.55,547.81 L113.89,547.08 L114.21,546.35 L114.53,545.62 L114.85,544.88 L115.15,544.15 L115.45,543.40 L115.74,542.66 L116.03,541.91 L116.31,541.17 L116.59,540.42 L116.86,539.66 L117.13,538.91 L117.39,538.16 L117.65,537.40 L117.91,536.64 L118.16,535.89 L118.41,535.13 L118.66,534.37 L118.90,533.60 L119.14,532.84 L119.38,532.08 L119.62,531.31 L119.85,530.55 L120.08,529.78 L120.31,529.02 L120.53,528.25 L120.76,527.48 L120.98,526.72 L121.20,525.95 L121.42,525.18 L121.63,524.41 L121.85,523.64 L122.06,522.87 L122.27,522.10 L122.48,521.33 L122.69,520.55 L122.90,519.78 L123.10,519.01 L123.31,518.24 L123.51,517.46 L123.71,516.69 L123.91,515.92 L124.11,515.14 L124.31,514.37 L124.50,513.59 L124.70,512.82 L124.90,512.04 L125.09,511.27 L125.28,510.49 L125.47,509.71 L125.67,508.94 L125.86,508.16 L126.05,507.39 L126.23,506.61 L126.42,505.83 L126.61,505.05 L126.80,504.28 L126.98,503.50 L127.17,502.72 L127.35,501.94 L127.53,501.17 L127.72,500.39 L127.90,499.61 L128.08,498.83 L128.26,498.05 L128.45,497.27 L128.63,496.49 L128.81,495.72 L128.99,494.94 L129.16,494.16 L129.34,493.38 L129.52,492.60 L129.70,491.82 L129.88,491.04 L130.05,490.26 L130.23,489.48 L130.41,488.70 L130.58,487.92 L130.76,487.14 L130.93,486.36 L131.11,485.58 L131.28,484.80 L131.46,484.02 L131.63,483.24 L131.81,482.46 L131.98,481.68 L132.15,480.90 L132.33,480.12 L132.50,479.34 L132.67,478.56 L132.85,477.78 L133.02,477.00 L133.19,476.22 L133.36,475.44 L133.54,474.66 L133.71,473.88 L133.88,473.10 L134.05,472.31 L134.23,471.53 L134.40,470.75 L134.57,469.97 L134.74,469.19 L134.92,468.41 L135.09,467.63 L135.26,466.85 L135.43,466.07 L135.60,465.29 L135.78,464.51 L135.95,463.73 L136.12,462.95 L136.29,462.17 L136.47,461.39 L136.64,460.60 L136.81,459.82 L136.98,459.04 L137.16,458.26 L137.33,457.48 L137.50,456.70 L137.68,455.92 L137.85,455.14 L138.02,454.36 L138.20,453.58 L138.37,452.80 L138.55,452.02 L138.72,451.24 L138.90,450.46 L139.07,449.68 L139.25,448.90 L139.42,448.12 L139.60,447.34 L139.78,446.56 L139.95,445.78 L140.13,445.00 L140.31,444.22 L140.49,443.44 L140.66,442.66 L140.84,441.89 L141.02,441.11 L141.20,440.33 L141.38,439.55 L141.56,438.77 L141.74,437.99 L141.92,437.21 L142.10,436.43 L142.29,435.66 L142.47,434.88 L142.65,434.10 L142.84,433.32 L143.02,432.54 L143.21,431.77 L143.39,430.99 L143.58,430.21 L143.76,429.43 L143.95,428.66 L144.14,427.88 L144.33,427.10 L144.52,426.33 L144.71,425.55 L144.90,424.77 L145.09,424.00 L145.28,423.22 L145.48,422.44 L145.67,421.67 L145.87,420.89 L146.06,420.12 L146.26,419.34 L146.46,418.57 L146.65,417.79 L146.85,417.02 L147.05,416.25 L147.25,415.47 L147.46,414.70 L147.66,413.93 L147.87,413.15 L148.07,412.38 L148.28,411.61 L148.49,410.84 L148.69,410.07 L148.91,409.29 L149.12,408.52 L149.33,407.75 L149.54,406.98 L149.76,406.21 L149.98,405.44 L150.20,404.67 L150.42,403.91 L150.64,403.14 L150.86,402.37 L151.09,401.60 L151.31,400.84 L151.54,400.07 L151.77,399.30 L152.00,398.54 L152.24,397.78 L152.47,397.01 L152.71,396.25 L152.95,395.49 L153.19,394.72 L153.43,393.96 L153.68,393.20 L153.93,392.44 L154.18,391.68 L154.43,390.92 L154.69,390.17 L154.95,389.41 L155.21,388.66 L155.47,387.90 L155.74,387.15 L156.01,386.39 L156.28,385.64 L156.56,384.89 L156.84,384.14 L157.12,383.40 L157.41,382.65 L157.70,381.91 L158.00,381.16 L158.30,380.42 L158.60,379.68 L158.91,378.94 L159.22,378.21 L159.54,377.48 L159.86,376.74 L160.19,376.01 L160.52,375.29 L160.86,374.56 L161.21,373.84 L161.56,373.13 L161.92,372.41 L162.28,371.70 L162.66,370.99 L163.04,370.29 L163.43,369.59 L163.83,368.90 L164.24,368.21 L164.65,367.53 L165.08,366.86 L165.53,366.19 L165.98,365.53 L166.44,364.88 L166.92,364.24 L167.42,363.62 L167.93,363.00 L168.45,362.40 L169.00,361.81 L169.56,361.25 L170.15,360.70 L170.75,360.18 L171.38,359.68 L172.03,359.22 L172.70,358.79 L173.40,358.40 L174.12,358.05 L174.87,357.76 L175.63,357.52 L176.41,357.33 L177.20,357.21 L177.99,357.15 L178.79,357.16 L179.59,357.22 L180.38,357.35 L181.16,357.53 L181.92,357.75 L182.67,358.03 L183.41,358.34 L184.13,358.69 L184.83,359.07 L185.52,359.48 L186.19,359.91 L186.85,360.37 L187.49,360.85 L188.12,361.34 L188.73,361.85 L189.33,362.38 L189.93,362.91 L190.51,363.46 L191.08,364.02 L191.64,364.59 L192.19,365.17 L192.73,365.76 L193.27,366.35 L193.80,366.95 L194.32,367.56 L194.83,368.17 L195.34,368.79 L195.84,369.41 L196.34,370.04 L196.83,370.67 L197.31,371.30 L197.79,371.94 L198.27,372.59 L198.74,373.23 L199.20,373.88 L199.67,374.53 L200.12,375.19 L200.58,375.85 L201.03,376.51 L201.48,377.17 L201.92,377.83 L202.36,378.50 L202.80,379.17 L203.24,379.84 L203.67,380.51 L204.10,381.19 L204.53,381.86 L204.95,382.54 L205.37,383.22 L205.80,383.90 L206.21,384.58 L206.63,385.26 L207.04,385.94 L207.46,386.63 L207.87,387.31 L208.28,388.00 L208.68,388.69 L209.09,389.38 L209.49,390.07 L209.89,390.76 L210.29,391.45 L210.69,392.14 L211.09,392.84 L211.49,393.53 L211.88,394.23 L212.28,394.92 L212.67,395.62 L213.06,396.31 L213.45,397.01 L213.84,397.71 L214.23,398.41 L214.62,399.11 L215.01,399.81 L215.39,400.51 L215.78,401.21 L216.16,401.91 L216.55,402.61 L216.93,403.31 L217.31,404.01 L217.69,404.72 L218.07,405.42 L218.45,406.12 L218.83,406.83 L219.21,407.53 L219.59,408.23 L219.97,408.94 L220.34,409.64 L220.72,410.35 L221.10,411.06 L221.47,411.76 L221.85,412.47 L222.22,413.17 L222.60,413.88 L222.97,414.59 L223.34,415.29 L223.72,416.00 L224.09,416.71 L224.46,417.41 L224.84,418.12 L225.21,418.83 L225.58,419.54 L225.95,420.24 L226.32,420.95 L226.69,421.66 L227.06,422.37 L227.43,423.08 L227.81,423.79 L228.18,424.49 L228.55,425.20 L228.92,425.91 L229.29,426.62 L229.66,427.33 L230.03,428.04 L230.40,428.75 L230.77,429.45 L231.14,430.16 L231.51,430.87 L231.87,431.58 L232.24,432.29 L232.61,433.00 L232.98,433.71 L233.35,434.42 L233.72,435.12 L234.09,435.83 L234.46,436.54 L234.83,437.25 L235.20,437.96 L235.57,438.67 L235.94,439.38 L236.31,440.09 L236.68,440.79 L237.05,441.50 L237.42,442.21 L237.79,442.92 L238.16,443.63 L238.53,444.34 L238.91,445.04 L239.28,445.75 L239.65,446.46 L240.02,447.17 L240.39,447.88 L240.76,448.58 L241.14,449.29 L241.51,450.00 L241.88,450.71 L242.25,451.41 L242.63,452.12 L243.00,452.83 L243.37,453.53 L243.75,454.24 L244.12,454.95 L244.49,455.65 L244.87,456.36 L245.24,457.07 L245.62,457.77 L245.99,458.48 L246.37,459.18 L246.75,459.89 L247.12,460.59 L247.50,461.30 L247.87,462.00 L248.25,462.71 L248.63,463.41 L249.01,464.12 L249.39,464.82 L249.76,465.53 L250.14,466.23 L250.52,466.94 L250.90,467.64 L251.28,468.34 L251.66,469.05 L252.04,469.75 L252.42,470.45 L252.80,471.15 L253.19,471.86 L253.57,472.56 L253.95,473.26 L254.33,473.96 L254.72,474.66 L255.10,475.36 L255.49,476.07 L255.87,476.77 L256.26,477.47 L256.64,478.17 L257.03,478.87 L257.41,479.57 L257.80,480.27 L258.19,480.97 L258.58,481.67 L258.96,482.36 L259.35,483.06 L259.74,483.76 L260.13,484.46 L260.52,485.16 L260.91,485.85 L261.30,486.55 L261.69,487.25 L262.09,487.95 L262.48,488.64 L262.87,489.34 L263.26,490.03 L263.66,490.73 L264.05,491.43 L264.45,492.12 L264.84,492.81 L265.24,493.51 L265.64,494.20 L266.03,494.90 L266.43,495.59 L266.83,496.28 L267.23,496.98 L267.63,497.67 L268.03,498.36 L268.43,499.05 L268.83,499.75 L269.23,500.44 L269.63,501.13 L270.03,501.82 L270.43,502.51 L270.84,503.20 L271.24,503.89 L271.65,504.58 L272.05,505.27 L272.46,505.96 L272.86,506.65 L273.27,507.33 L273.68,508.02 L274.09,508.71 L274.49,509.40 L274.90,510.08 L275.31,510.77 L275.72,511.46 L276.13,512.14 L276.55,512.83 L276.96,513.51 L277.37,514.20 L277.78,514.88 L278.20,515.57 L278.61,516.25 L279.03,516.93 L279.44,517.61 L279.86,518.30 L280.28,518.98 L280.69,519.66 L281.11,520.34 L281.53,521.02 L281.95,521.70 L282.37,522.38 L282.79,523.06 L283.21,523.74 L283.63,524.42 L284.06,525.10 L284.48,525.78 L284.90,526.46 L285.33,527.13 L285.75,527.81 L286.18,528.49 L286.61,529.16 L287.03,529.84 L287.46,530.52 L287.89,531.19 L288.32,531.86 L288.75,532.54 L289.18,533.21 L289.61,533.89 L290.04,534.56 L290.47,535.23 L290.91,535.90 L291.34,536.57 L291.77,537.25 L292.21,537.92 L292.64,538.59 L293.08,539.26 L293.52,539.93 L293.96,540.60 L294.39,541.26 L294.83,541.93 L295.27,542.60 L295.71,543.27 L296.15,543.93 L296.60,544.60 L297.04,545.27 L297.48,545.93 L297.92,546.60 L298.37,547.26 L298.81,547.92 L299.26,548.59 L299.71,549.25 L300.15,549.91 L300.60,550.58 L301.05,551.24 L301.50,551.90 L301.95,552.56 L302.40,553.22 L302.85,553.88 L303.30,554.54 L303.76,555.20 L304.21,555.86 L304.66,556.51 L305.12,557.17 L305.58,557.83 L306.03,558.48 L306.49,559.14 L306.95,559.80 L307.41,560.45 L307.86,561.10 L308.32,561.76 L308.79,562.41 L309.25,563.06 L309.71,563.72 L310.17,564.37 L310.64,565.02 L311.10,565.67 L311.56,566.32 L312.03,566.97 L312.50,567.62 L312.96,568.27 L313.43,568.92 L313.90,569.56 L314.37,570.21 L314.84,570.86 L315.31,571.50 L315.78,572.15 L316.25,572.79 L316.73,573.44 L317.20,574.08 L317.68,574.73 L318.15,575.37 L318.63,576.01 L319.10,576.65 L319.58,577.29 L320.06,577.94 L320.54,578.58 L321.02,579.22 L321.50,579.85 L321.98,580.49 L322.46,581.13 L322.94,581.77 L323.43,582.40 L323.91,583.04 L324.39,583.68 L324.88,584.31 L325.37,584.95 L325.85,585.58 L326.34,586.21 L326.83,586.85 L327.32,587.48 L327.81,588.11 L328.30,588.74 L328.79,589.37 L329.28,590.00 L329.78,590.63 L330.27,591.26 L330.76,591.89 L331.26,592.52 L331.75,593.14 L332.25,593.77 L332.75,594.40 L333.25,595.02 L333.75,595.65 L334.25,596.27" fill="none" stroke="#ff0000" stroke-width="1.8" stroke-linejoin="round" stroke-dasharray="7.4 6" stroke-dashoffset="3" clip-path="url(#cb1)"/>
<path d="M61.04,325.43 L61.11,326.23 L61.18,327.03 L61.25,327.82 L61.32,328.62 L61.39,329.41 L61.46,330.21 L61.53,331.01 L61.60,331.80 L61.68,332.60 L61.75,333.40 L61.82,334.19 L61.89,334.99 L61.96,335.78 L62.03,336.58 L62.11,337.38 L62.18,338.17 L62.25,338.97 L62.32,339.76 L62.40,340.56 L62.47,341.36 L62.54,342.15 L62.62,342.95 L62.69,343.74 L62.76,344.54 L62.84,345.34 L62.91,346.13 L62.98,346.93 L63.06,347.72 L63.13,348.52 L63.20,349.32 L63.28,350.11 L63.35,350.91 L63.43,351.70 L63.50,352.50 L63.58,353.30 L63.65,354.09 L63.73,354.89 L63.80,355.68 L63.88,356.48 L63.95,357.28 L64.03,358.07 L64.10,358.87 L64.18,359.66 L64.26,360.46 L64.33,361.25 L64.41,362.05 L64.48,362.85 L64.56,363.64 L64.64,364.44 L64.71,365.23 L64.79,366.03 L64.87,366.82 L64.95,367.62 L65.02,368.42 L65.10,369.21 L65.18,370.01 L65.26,370.80 L65.33,371.60 L65.41,372.39 L65.49,373.19 L65.57,373.98 L65.65,374.78 L65.72,375.58 L65.80,376.37 L65.88,377.17 L65.96,377.96 L66.04,378.76 L66.12,379.55 L66.20,380.35 L66.28,381.14 L66.36,381.94 L66.44,382.73 L66.52,383.53 L66.60,384.32 L66.68,385.12 L66.76,385.92 L66.84,386.71 L66.92,387.51 L67.00,388.30 L67.09,389.10 L67.17,389.89 L67.25,390.69 L67.33,391.48 L67.41,392.28 L67.49,393.07 L67.58,393.87 L67.66,394.66 L67.74,395.46 L67.82,396.25 L67.91,397.05 L67.99,397.84 L68.07,398.64 L68.16,399.43 L68.24,400.23 L68.33,401.02 L68.41,401.82 L68.49,402.61 L68.58,403.41 L68.66,404.20 L68.75,405.00 L68.83,405.79 L68.92,406.59 L69.00,407.38 L69.09,408.18 L69.17,408.97 L69.26,409.77 L69.35,410.56 L69.43,411.36 L69.52,412.15 L69.61,412.94 L69.69,413.74 L69.78,414.53 L69.87,415.33 L69.96,416.12 L70.04,416.92 L70.13,417.71 L70.22,418.51 L70.31,419.30 L70.40,420.10 L70.48,420.89 L70.57,421.68 L70.66,422.48 L70.75,423.27 L70.84,424.07 L70.93,424.86 L71.02,425.66 L71.11,426.45 L71.20,427.24 L71.29,428.04 L71.39,428.83 L71.48,429.63 L71.57,430.42 L71.66,431.21 L71.75,432.01 L71.84,432.80 L71.94,433.60 L72.03,434.39 L72.12,435.18 L72.22,435.98 L72.31,436.77 L72.40,437.57 L72.50,438.36 L72.59,439.15 L72.69,439.95 L72.78,440.74 L72.88,441.54 L72.97,442.33 L73.07,443.12 L73.16,443.92 L73.26,444.71 L73.35,445.50 L73.45,446.30 L73.55,447.09 L73.64,447.88 L73.74,448.68 L73.84,449.47 L73.94,450.26 L74.04,451.06 L74.13,451.85 L74.23,452.64 L74.33,453.44 L74.43,454.23 L74.53,455.02 L74.63,455.82 L74.73,456.61 L74.83,457.40 L74.93,458.20 L75.04,458.99 L75.14,459.78 L75.24,460.57 L75.34,461.37 L75.45,462.16 L75.55,462.95 L75.65,463.74 L75.76,464.54 L75.86,465.33 L75.96,466.12 L76.07,466.92 L76.17,467.71 L76.28,468.50 L76.38,469.29 L76.49,470.08 L76.60,470.88 L76.70,471.67 L76.81,472.46 L76.92,473.25 L77.03,474.05 L77.14,474.84 L77.25,475.63 L77.35,476.42 L77.46,477.21 L77.57,478.00 L77.69,478.80 L77.80,479.59 L77.91,480.38 L78.02,481.17 L78.13,481.96 L78.25,482.75 L78.36,483.54 L78.47,484.34 L78.59,485.13 L78.70,485.92 L78.82,486.71 L78.93,487.50 L79.05,488.29 L79.16,489.08 L79.28,489.87 L79.40,490.66 L79.52,491.45 L79.64,492.24 L79.75,493.04 L79.87,493.83 L79.99,494.62 L80.12,495.41 L80.24,496.20 L80.36,496.99 L80.48,497.78 L80.60,498.57 L80.73,499.36 L80.85,500.15 L80.98,500.93 L81.10,501.72 L81.23,502.51 L81.36,503.30 L81.48,504.09 L81.61,504.88 L81.74,505.67 L81.87,506.46 L82.00,507.25 L82.13,508.04 L82.26,508.82 L82.39,509.61 L82.53,510.40 L82.66,511.19 L82.80,511.98 L82.93,512.77 L83.07,513.55 L83.21,514.34 L83.34,515.13 L83.48,515.91 L83.62,516.70 L83.76,517.49 L83.90,518.28 L84.05,519.06 L84.19,519.85 L84.33,520.63 L84.48,521.42 L84.63,522.21 L84.77,522.99 L84.92,523.78 L85.07,524.56 L85.22,525.35 L85.37,526.13 L85.53,526.92 L85.68,527.70 L85.84,528.49 L85.99,529.27 L86.15,530.05 L86.31,530.84 L86.47,531.62 L86.63,532.40 L86.79,533.19 L86.96,533.97 L87.13,534.75 L87.29,535.53 L87.46,536.31 L87.63,537.09 L87.81,537.87 L87.98,538.65 L88.16,539.43 L88.34,540.21 L88.52,540.99 L88.70,541.77 L88.88,542.55 L89.07,543.33 L89.26,544.10 L89.45,544.88 L89.64,545.65 L89.84,546.43 L90.03,547.20 L90.23,547.98 L90.44,548.75 L90.64,549.52 L90.85,550.29 L91.07,551.06 L91.28,551.83 L91.50,552.60 L91.73,553.37 L91.95,554.14 L92.18,554.90 L92.42,555.67 L92.66,556.43 L92.90,557.19 L93.15,557.95 L93.41,558.71 L93.67,559.46 L93.94,560.22 L94.21,560.97 L94.49,561.71 L94.78,562.46 L95.08,563.20 L95.39,563.94 L95.70,564.67 L96.03,565.40 L96.37,566.13 L96.73,566.84 L97.10,567.55 L97.48,568.25 L97.89,568.94 L98.32,569.61 L98.77,570.27 L99.26,570.91 L99.78,571.51 L100.35,572.08 L100.96,572.58 L101.64,573.01 L102.37,573.33 L103.15,573.49 L103.95,573.48 L104.72,573.28 L105.45,572.95 L106.11,572.51 L106.72,571.99 L107.28,571.42 L107.80,570.81 L108.29,570.18 L108.74,569.52 L109.18,568.85 L109.59,568.16 L109.98,567.47 L110.35,566.76 L110.71,566.05 L111.06,565.33 L111.39,564.60 L111.71,563.87 L112.03,563.13 L112.33,562.39 L112.63,561.65 L112.92,560.91 L113.20,560.16 L113.48,559.41 L113.75,558.66 L114.02,557.90 L114.28,557.15 L114.53,556.39 L114.78,555.63 L115.03,554.87 L115.27,554.11 L115.51,553.35 L115.74,552.58 L115.97,551.82 L116.20,551.05 L116.43,550.28 L116.65,549.51 L116.87,548.75 L117.08,547.98 L117.30,547.21 L117.51,546.43 L117.72,545.66 L117.92,544.89 L118.13,544.12 L118.33,543.34 L118.53,542.57 L118.73,541.80 L118.92,541.02 L119.12,540.25 L119.31,539.47 L119.50,538.69 L119.69,537.92 L119.88,537.14 L120.07,536.36 L120.25,535.59 L120.44,534.81 L120.62,534.03 L120.80,533.25 L120.98,532.47 L121.16,531.69 L121.34,530.91 L121.52,530.13 L121.69,529.35 L121.87,528.57 L122.04,527.79 L122.21,527.01 L122.38,526.23 L122.55,525.45 L122.72,524.67 L122.89,523.89 L123.06,523.11 L123.23,522.33 L123.39,521.54 L123.56,520.76 L123.72,519.98 L123.89,519.20 L124.05,518.42 L124.21,517.63 L124.37,516.85 L124.53,516.07 L124.70,515.28 L124.86,514.50 L125.01,513.72 L125.17,512.93 L125.33,512.15 L125.49,511.37 L125.65,510.58 L125.80,509.80 L125.96,509.01 L126.11,508.23 L126.27,507.45 L126.42,506.66 L126.58,505.88 L126.73,505.09 L126.89,504.31 L127.04,503.52 L127.19,502.74 L127.34,501.95 L127.49,501.17 L127.65,500.38 L127.80,499.60 L127.95,498.82 L128.10,498.03 L128.25,497.24 L128.40,496.46 L128.55,495.67 L128.70,494.89 L128.85,494.10 L129.00,493.32 L129.14,492.53 L129.29,491.75 L129.44,490.96 L129.59,490.18 L129.74,489.39 L129.88,488.60 L130.03,487.82 L130.18,487.03 L130.32,486.25 L130.47,485.46 L130.62,484.68 L130.76,483.89 L130.91,483.10 L131.06,482.32 L131.20,481.53 L131.35,480.75 L131.49,479.96 L131.64,479.17 L131.79,478.39 L131.93,477.60 L132.08,476.82 L132.22,476.03 L132.37,475.24 L132.51,474.46 L132.66,473.67 L132.80,472.89 L132.95,472.10 L133.09,471.31 L133.24,470.53 L133.38,469.74 L133.53,468.96 L133.67,468.17 L133.82,467.38 L133.96,466.60 L134.11,465.81 L134.25,465.03 L134.40,464.24 L134.55,463.45 L134.69,462.67 L134.84,461.88 L134.98,461.10 L135.13,460.31 L135.27,459.52 L135.42,458.74 L135.57,457.95 L135.71,457.17 L135.86,456.38 L136.01,455.59 L136.15,454.81 L136.30,454.02 L136.45,453.24 L136.59,452.45 L136.74,451.67 L136.89,450.88 L137.03,450.09 L137.18,449.31 L137.33,448.52 L137.48,447.74 L137.63,446.95 L137.78,446.17 L137.92,445.38 L138.07,444.60 L138.22,443.81 L138.37,443.03 L138.52,442.24 L138.67,441.45 L138.82,440.67 L138.97,439.88 L139.13,439.10 L139.28,438.31 L139.43,437.53 L139.58,436.75 L139.73,435.96 L139.89,435.18 L140.04,434.39 L140.19,433.61 L140.35,432.82 L140.50,432.04 L140.66,431.25 L140.81,430.47 L140.97,429.69 L141.12,428.90 L141.28,428.12 L141.44,427.33 L141.59,426.55 L141.75,425.77 L141.91,424.98 L142.07,424.20 L142.23,423.42 L142.39,422.63 L142.55,421.85 L142.71,421.07 L142.87,420.28 L143.03,419.50 L143.20,418.72 L143.36,417.94 L143.52,417.15 L143.69,416.37 L143.85,415.59 L144.02,414.81 L144.19,414.03 L144.35,413.24 L144.52,412.46 L144.69,411.68 L144.86,410.90 L145.03,410.12 L145.20,409.34 L145.37,408.56 L145.54,407.78 L145.72,407.00 L145.89,406.22 L146.07,405.44 L146.24,404.66 L146.42,403.88 L146.60,403.10 L146.78,402.32 L146.96,401.54 L147.14,400.76 L147.32,399.98 L147.51,399.21 L147.69,398.43 L147.87,397.65 L148.06,396.87 L148.25,396.10 L148.44,395.32 L148.63,394.54 L148.82,393.77 L149.01,392.99 L149.21,392.22 L149.40,391.44 L149.60,390.67 L149.80,389.89 L150.00,389.12 L150.20,388.34 L150.40,387.57 L150.61,386.80 L150.81,386.03 L151.02,385.25 L151.23,384.48 L151.44,383.71 L151.66,382.94 L151.87,382.17 L152.09,381.40 L152.31,380.63 L152.53,379.86 L152.75,379.10 L152.98,378.33 L153.21,377.56 L153.44,376.80 L153.67,376.03 L153.91,375.27 L154.14,374.51 L154.39,373.75 L154.63,372.98 L154.88,372.22 L155.13,371.46 L155.38,370.71 L155.64,369.95 L155.90,369.19 L156.16,368.44 L156.43,367.68 L156.70,366.93 L156.97,366.18 L157.25,365.43 L157.53,364.69 L157.82,363.94 L158.12,363.20 L158.41,362.45 L158.72,361.71 L159.02,360.98 L159.34,360.24 L159.66,359.51 L159.99,358.78 L160.32,358.05 L160.66,357.33 L161.01,356.61 L161.37,355.90 L161.73,355.19 L162.11,354.48 L162.49,353.78 L162.88,353.08 L163.29,352.39 L163.70,351.71 L164.13,351.04 L164.58,350.37 L165.03,349.71 L165.51,349.07 L166.00,348.44 L166.50,347.82 L167.03,347.22 L167.58,346.64 L168.15,346.08 L168.74,345.55 L169.37,345.04 L170.01,344.57 L170.69,344.14 L171.39,343.76 L172.12,343.43 L172.87,343.16 L173.64,342.96 L174.43,342.82 L175.23,342.76 L176.02,342.77 L176.82,342.85 L177.61,343.00 L178.38,343.21 L179.13,343.47 L179.87,343.78 L180.59,344.13 L181.29,344.51 L181.97,344.93 L182.63,345.38 L183.28,345.85 L183.91,346.34 L184.52,346.85 L185.12,347.38 L185.71,347.92 L186.29,348.48 L186.85,349.04 L187.40,349.62 L187.94,350.21 L188.48,350.80 L189.00,351.41 L189.52,352.02 L190.03,352.63 L190.53,353.26 L191.02,353.89 L191.51,354.52 L191.99,355.16 L192.46,355.80 L192.93,356.45 L193.40,357.10 L193.86,357.75 L194.31,358.41 L194.76,359.07 L195.21,359.73 L195.65,360.40 L196.09,361.07 L196.53,361.74 L196.96,362.41 L197.38,363.09 L197.81,363.76 L198.23,364.44 L198.65,365.12 L199.07,365.81 L199.48,366.49 L199.89,367.18 L200.30,367.86 L200.70,368.55 L201.11,369.24 L201.51,369.93 L201.91,370.62 L202.31,371.32 L202.70,372.01 L203.10,372.71 L203.49,373.41 L203.88,374.10 L204.27,374.80 L204.65,375.50 L205.04,376.20 L205.42,376.90 L205.81,377.60 L206.19,378.31 L206.57,379.01 L206.95,379.71 L207.33,380.42 L207.70,381.12 L208.08,381.83 L208.45,382.53 L208.83,383.24 L209.20,383.95 L209.57,384.66 L209.94,385.36 L210.31,386.07 L210.68,386.78 L211.05,387.49 L211.41,388.20 L211.78,388.91 L212.15,389.62 L212.51,390.33 L212.88,391.05 L213.24,391.76 L213.60,392.47 L213.97,393.18 L214.33,393.89 L214.69,394.61 L215.05,395.32 L215.41,396.03 L215.77,396.75 L216.13,397.46 L216.49,398.17 L216.85,398.89 L217.21,399.60 L217.57,400.32 L217.93,401.03 L218.28,401.75 L218.64,402.46 L219.00,403.18 L219.36,403.89 L219.71,404.61 L220.07,405.32 L220.43,406.04 L220.78,406.76 L221.14,407.47 L221.49,408.19 L221.85,408.90 L222.20,409.62 L222.56,410.34 L222.91,411.05 L223.27,411.77 L223.62,412.48 L223.98,413.20 L224.33,413.92 L224.69,414.63 L225.04,415.35 L225.40,416.07 L225.75,416.78 L226.11,417.50 L226.46,418.22 L226.81,418.93 L227.17,419.65 L227.52,420.36 L227.88,421.08 L228.23,421.80 L228.59,422.51 L228.94,423.23 L229.30,423.95 L229.65,424.66 L230.01,425.38 L230.36,426.09 L230.72,426.81 L231.07,427.53 L231.43,428.24 L231.78,428.96 L232.14,429.67 L232.50,430.39 L232.85,431.11 L233.21,431.82 L233.57,432.54 L233.92,433.25 L234.28,433.97 L234.64,434.68 L234.99,435.40 L235.35,436.11 L235.71,436.83 L236.07,437.54 L236.43,438.26 L236.78,438.97 L237.14,439.69 L237.50,440.40 L237.86,441.11 L238.22,441.83 L238.58,442.54 L238.94,443.26 L239.30,443.97 L239.66,444.68 L240.02,445.40 L240.38,446.11 L240.75,446.82 L241.11,447.53 L241.47,448.25 L241.83,448.96 L242.20,449.67 L242.56,450.38 L242.92,451.10 L243.29,451.81 L243.65,452.52 L244.02,453.23 L244.38,453.94 L244.75,454.65 L245.11,455.36 L245.48,456.07 L245.85,456.78 L246.21,457.49 L246.58,458.20 L246.95,458.91 L247.32,459.62 L247.68,460.33 L248.05,461.04 L248.42,461.75 L248.79,462.46 L249.16,463.17 L249.53,463.88 L249.90,464.58 L250.28,465.29 L250.65,466.00 L251.02,466.71 L251.39,467.41 L251.77,468.12 L252.14,468.83 L252.51,469.53 L252.89,470.24 L253.26,470.95 L253.64,471.65 L254.02,472.36 L254.39,473.06 L254.77,473.77 L255.15,474.47 L255.52,475.18 L255.90,475.88 L256.28,476.58 L256.66,477.29 L257.04,477.99 L257.42,478.69 L257.80,479.40 L258.18,480.10 L258.57,480.80 L258.95,481.50 L259.33,482.20 L259.72,482.91 L260.10,483.61 L260.49,484.31 L260.87,485.01 L261.26,485.71 L261.64,486.41 L262.03,487.11 L262.42,487.81 L262.80,488.50 L263.19,489.20 L263.58,489.90 L263.97,490.60 L264.36,491.30 L264.75,491.99 L265.14,492.69 L265.54,493.39 L265.93,494.09 L266.32,494.78 L266.71,495.48 L267.11,496.17 L267.50,496.87 L267.90,497.56 L268.29,498.26 L268.69,498.95 L269.09,499.64 L269.49,500.34 L269.88,501.03 L270.28,501.72 L270.68,502.42 L271.08,503.11 L271.48,503.80 L271.88,504.49 L272.29,505.18 L272.69,505.87 L273.09,506.56 L273.50,507.25 L273.90,507.94 L274.30,508.63 L274.71,509.32 L275.12,510.01 L275.52,510.70 L275.93,511.39 L276.34,512.07 L276.75,512.76 L277.16,513.45 L277.57,514.13 L277.98,514.82 L278.39,515.50 L278.80,516.19 L279.21,516.87 L279.63,517.56 L280.04,518.24 L280.46,518.93 L280.87,519.61 L281.29,520.29 L281.70,520.97 L282.12,521.66 L282.54,522.34 L282.96,523.02 L283.38,523.70 L283.79,524.38 L284.22,525.06 L284.64,525.74 L285.06,526.42 L285.48,527.10 L285.90,527.77 L286.33,528.45 L286.75,529.13 L287.18,529.81 L287.60,530.48 L288.03,531.16 L288.46,531.83 L288.88,532.51 L289.31,533.18 L289.74,533.86 L290.17,534.53 L290.60,535.21 L291.03,535.88 L291.47,536.55 L291.90,537.22 L292.33,537.90 L292.77,538.57 L293.20,539.24 L293.64,539.91 L294.07,540.58 L294.51,541.25 L294.95,541.92 L295.39,542.59 L295.82,543.25 L296.26,543.92 L296.70,544.59 L297.15,545.25 L297.59,545.92 L298.03,546.59 L298.47,547.25 L298.92,547.92 L299.36,548.58 L299.81,549.24 L300.25,549.91 L300.70,550.57 L301.15,551.23 L301.59,551.90 L302.04,552.56 L302.49,553.22 L302.94,553.88 L303.39,554.54 L303.85,555.20 L304.30,555.86 L304.75,556.51 L305.21,557.17 L305.66,557.83 L306.12,558.49 L306.57,559.14 L307.03,559.80 L307.49,560.46 L307.95,561.11 L308.40,561.76 L308.86,562.42 L309.32,563.07 L309.79,563.72 L310.25,564.38 L310.71,565.03 L311.17,565.68 L311.64,566.33 L312.10,566.98 L312.57,567.63 L313.04,568.28 L313.50,568.93 L313.97,569.58 L314.44,570.22 L314.91,570.87 L315.38,571.52 L315.85,572.16 L316.32,572.81 L316.79,573.45 L317.27,574.10 L317.74,574.74 L318.21,575.39 L318.69,576.03 L319.17,576.67 L319.64,577.31 L320.12,577.95 L320.60,578.59 L321.08,579.23 L321.56,579.87 L322.04,580.51 L322.52,581.15 L323.00,581.79 L323.48,582.43 L323.97,583.06 L324.45,583.70 L324.94,584.33 L325.42,584.97 L325.91,585.60 L326.40,586.24 L326.88,586.87 L327.37,587.50 L327.86,588.13 L328.35,588.77 L328.84,589.40 L329.34,590.03 L329.83,590.66 L330.32,591.28 L330.82,591.91 L331.31,592.54 L331.81,593.17 L332.30,593.79 L332.80,594.42 L333.30,595.05 L333.80,595.67 L334.29,596.30" fill="none" stroke="#0000ff" stroke-width="1.9" stroke-linejoin="round" stroke-dasharray="8.2 2.6 1.6 2.6" stroke-dashoffset="0" clip-path="url(#cb1)"/>
<path d="M61.38,325.22 L61.45,326.01 L61.52,326.81 L61.59,327.60 L61.66,328.40 L61.73,329.20 L61.80,329.99 L61.87,330.79 L61.95,331.59 L62.02,332.38 L62.09,333.18 L62.16,333.97 L62.23,334.77 L62.30,335.57 L62.37,336.36 L62.45,337.16 L62.52,337.95 L62.59,338.75 L62.66,339.55 L62.73,340.34 L62.81,341.14 L62.88,341.93 L62.95,342.73 L63.02,343.53 L63.10,344.32 L63.17,345.12 L63.24,345.91 L63.32,346.71 L63.39,347.51 L63.46,348.30 L63.54,349.10 L63.61,349.89 L63.68,350.69 L63.76,351.49 L63.83,352.28 L63.91,353.08 L63.98,353.87 L64.05,354.67 L64.13,355.47 L64.20,356.26 L64.28,357.06 L64.35,357.85 L64.43,358.65 L64.50,359.44 L64.58,360.24 L64.65,361.04 L64.73,361.83 L64.81,362.63 L64.88,363.42 L64.96,364.22 L65.03,365.01 L65.11,365.81 L65.19,366.61 L65.26,367.40 L65.34,368.20 L65.42,368.99 L65.49,369.79 L65.57,370.58 L65.65,371.38 L65.73,372.17 L65.80,372.97 L65.88,373.77 L65.96,374.56 L66.04,375.36 L66.11,376.15 L66.19,376.95 L66.27,377.74 L66.35,378.54 L66.43,379.33 L66.51,380.13 L66.59,380.92 L66.66,381.72 L66.74,382.52 L66.82,383.31 L66.90,384.11 L66.98,384.90 L67.06,385.70 L67.14,386.49 L67.22,387.29 L67.30,388.08 L67.38,388.88 L67.46,389.67 L67.55,390.47 L67.63,391.26 L67.71,392.06 L67.79,392.85 L67.87,393.65 L67.95,394.44 L68.03,395.24 L68.12,396.03 L68.20,396.83 L68.28,397.62 L68.36,398.42 L68.44,399.21 L68.53,400.01 L68.61,400.80 L68.69,401.60 L68.78,402.39 L68.86,403.19 L68.94,403.98 L69.03,404.78 L69.11,405.57 L69.20,406.37 L69.28,407.16 L69.36,407.96 L69.45,408.75 L69.53,409.55 L69.62,410.34 L69.70,411.14 L69.79,411.93 L69.88,412.73 L69.96,413.52 L70.05,414.32 L70.13,415.11 L70.22,415.91 L70.31,416.70 L70.39,417.50 L70.48,418.29 L70.57,419.08 L70.66,419.88 L70.74,420.67 L70.83,421.47 L70.92,422.26 L71.01,423.06 L71.10,423.85 L71.18,424.65 L71.27,425.44 L71.36,426.23 L71.45,427.03 L71.54,427.82 L71.63,428.62 L71.72,429.41 L71.81,430.21 L71.90,431.00 L71.99,431.79 L72.08,432.59 L72.17,433.38 L72.26,434.18 L72.36,434.97 L72.45,435.76 L72.54,436.56 L72.63,437.35 L72.72,438.15 L72.82,438.94 L72.91,439.73 L73.00,440.53 L73.10,441.32 L73.19,442.12 L73.28,442.91 L73.38,443.70 L73.47,444.50 L73.57,445.29 L73.66,446.08 L73.76,446.88 L73.85,447.67 L73.95,448.46 L74.04,449.26 L74.14,450.05 L74.24,450.85 L74.33,451.64 L74.43,452.43 L74.53,453.23 L74.63,454.02 L74.72,454.81 L74.82,455.61 L74.92,456.40 L75.02,457.19 L75.12,457.98 L75.22,458.78 L75.32,459.57 L75.42,460.36 L75.52,461.16 L75.62,461.95 L75.72,462.74 L75.82,463.54 L75.92,464.33 L76.02,465.12 L76.13,465.91 L76.23,466.71 L76.33,467.50 L76.43,468.29 L76.54,469.08 L76.64,469.88 L76.75,470.67 L76.85,471.46 L76.96,472.25 L77.06,473.05 L77.17,473.84 L77.27,474.63 L77.38,475.42 L77.49,476.22 L77.59,477.01 L77.70,477.80 L77.81,478.59 L77.92,479.38 L78.02,480.18 L78.13,480.97 L78.24,481.76 L78.35,482.55 L78.46,483.34 L78.57,484.13 L78.69,484.93 L78.80,485.72 L78.91,486.51 L79.02,487.30 L79.13,488.09 L79.25,488.88 L79.36,489.67 L79.48,490.47 L79.59,491.26 L79.71,492.05 L79.82,492.84 L79.94,493.63 L80.05,494.42 L80.17,495.21 L80.29,496.00 L80.41,496.79 L80.53,497.58 L80.64,498.37 L80.76,499.16 L80.88,499.95 L81.01,500.74 L81.13,501.53 L81.25,502.32 L81.37,503.11 L81.49,503.90 L81.62,504.69 L81.74,505.48 L81.87,506.27 L81.99,507.06 L82.12,507.85 L82.25,508.64 L82.37,509.43 L82.50,510.22 L82.63,511.01 L82.76,511.79 L82.89,512.58 L83.02,513.37 L83.15,514.16 L83.29,514.95 L83.42,515.74 L83.55,516.52 L83.69,517.31 L83.82,518.10 L83.96,518.89 L84.10,519.68 L84.23,520.46 L84.37,521.25 L84.51,522.04 L84.65,522.82 L84.79,523.61 L84.94,524.40 L85.08,525.18 L85.23,525.97 L85.37,526.76 L85.52,527.54 L85.66,528.33 L85.81,529.11 L85.96,529.90 L86.11,530.68 L86.27,531.47 L86.42,532.25 L86.57,533.04 L86.73,533.82 L86.89,534.60 L87.04,535.39 L87.20,536.17 L87.36,536.95 L87.53,537.74 L87.69,538.52 L87.85,539.30 L88.02,540.08 L88.19,540.86 L88.36,541.64 L88.53,542.42 L88.70,543.21 L88.88,543.99 L89.06,544.76 L89.24,545.54 L89.42,546.32 L89.60,547.10 L89.78,547.88 L89.97,548.66 L90.16,549.43 L90.35,550.21 L90.55,550.98 L90.74,551.76 L90.94,552.53 L91.14,553.30 L91.35,554.08 L91.56,554.85 L91.77,555.62 L91.98,556.39 L92.20,557.16 L92.42,557.93 L92.65,558.69 L92.88,559.46 L93.11,560.22 L93.35,560.99 L93.60,561.75 L93.84,562.51 L94.10,563.27 L94.36,564.02 L94.62,564.77 L94.90,565.53 L95.18,566.27 L95.47,567.02 L95.76,567.76 L96.07,568.50 L96.39,569.23 L96.71,569.96 L97.06,570.69 L97.41,571.40 L97.78,572.11 L98.17,572.81 L98.58,573.49 L99.01,574.17 L99.48,574.82 L99.97,575.44 L100.51,576.04 L101.09,576.59 L101.73,577.07 L102.43,577.45 L103.19,577.70 L103.98,577.77 L104.77,577.65 L105.51,577.37 L106.20,576.96 L106.82,576.46 L107.40,575.90 L107.92,575.30 L108.41,574.67 L108.87,574.02 L109.30,573.34 L109.71,572.66 L110.10,571.96 L110.47,571.25 L110.83,570.53 L111.17,569.81 L111.50,569.08 L111.82,568.35 L112.13,567.61 L112.43,566.87 L112.72,566.13 L113.00,565.38 L113.28,564.63 L113.55,563.88 L113.82,563.13 L114.07,562.37 L114.33,561.61 L114.58,560.85 L114.82,560.09 L115.06,559.33 L115.30,558.56 L115.53,557.80 L115.76,557.03 L115.98,556.27 L116.21,555.50 L116.42,554.73 L116.64,553.96 L116.85,553.19 L117.06,552.42 L117.27,551.65 L117.48,550.87 L117.68,550.10 L117.88,549.33 L118.08,548.55 L118.27,547.78 L118.47,547.00 L118.66,546.23 L118.85,545.45 L119.04,544.67 L119.23,543.90 L119.41,543.12 L119.59,542.34 L119.78,541.56 L119.96,540.78 L120.14,540.01 L120.32,539.23 L120.49,538.45 L120.67,537.67 L120.84,536.89 L121.01,536.11 L121.19,535.33 L121.36,534.55 L121.53,533.76 L121.69,532.98 L121.86,532.20 L122.03,531.42 L122.19,530.64 L122.36,529.85 L122.52,529.07 L122.68,528.29 L122.84,527.51 L123.01,526.72 L123.17,525.94 L123.32,525.16 L123.48,524.37 L123.64,523.59 L123.80,522.81 L123.95,522.02 L124.11,521.24 L124.26,520.45 L124.42,519.67 L124.57,518.89 L124.73,518.10 L124.88,517.32 L125.03,516.53 L125.18,515.75 L125.33,514.96 L125.48,514.18 L125.63,513.39 L125.78,512.61 L125.93,511.82 L126.08,511.04 L126.23,510.25 L126.37,509.47 L126.52,508.68 L126.67,507.89 L126.81,507.11 L126.96,506.32 L127.11,505.54 L127.25,504.75 L127.40,503.96 L127.54,503.18 L127.68,502.39 L127.83,501.61 L127.97,500.82 L128.11,500.03 L128.26,499.25 L128.40,498.46 L128.54,497.67 L128.68,496.89 L128.82,496.10 L128.97,495.31 L129.11,494.53 L129.25,493.74 L129.39,492.95 L129.53,492.17 L129.67,491.38 L129.81,490.59 L129.95,489.81 L130.09,489.02 L130.23,488.23 L130.37,487.44 L130.51,486.66 L130.65,485.87 L130.79,485.08 L130.92,484.30 L131.06,483.51 L131.20,482.72 L131.34,481.93 L131.48,481.15 L131.62,480.36 L131.75,479.57 L131.89,478.78 L132.03,478.00 L132.17,477.21 L132.31,476.42 L132.44,475.64 L132.58,474.85 L132.72,474.06 L132.86,473.27 L133.00,472.49 L133.13,471.70 L133.27,470.91 L133.41,470.12 L133.55,469.34 L133.68,468.55 L133.82,467.76 L133.96,466.97 L134.10,466.19 L134.24,465.40 L134.37,464.61 L134.51,463.83 L134.65,463.04 L134.79,462.25 L134.93,461.46 L135.06,460.68 L135.20,459.89 L135.34,459.10 L135.48,458.31 L135.62,457.53 L135.76,456.74 L135.89,455.95 L136.03,455.17 L136.17,454.38 L136.31,453.59 L136.45,452.80 L136.59,452.02 L136.73,451.23 L136.87,450.44 L137.01,449.66 L137.15,448.87 L137.29,448.08 L137.43,447.30 L137.57,446.51 L137.71,445.72 L137.85,444.94 L138.00,444.15 L138.14,443.36 L138.28,442.58 L138.42,441.79 L138.56,441.00 L138.71,440.22 L138.85,439.43 L138.99,438.64 L139.14,437.86 L139.28,437.07 L139.42,436.28 L139.57,435.50 L139.71,434.71 L139.86,433.93 L140.00,433.14 L140.15,432.35 L140.30,431.57 L140.44,430.78 L140.59,430.00 L140.74,429.21 L140.88,428.43 L141.03,427.64 L141.18,426.86 L141.33,426.07 L141.48,425.28 L141.63,424.50 L141.78,423.71 L141.93,422.93 L142.08,422.14 L142.23,421.36 L142.39,420.58 L142.54,419.79 L142.69,419.01 L142.85,418.22 L143.00,417.44 L143.15,416.65 L143.31,415.87 L143.47,415.09 L143.62,414.30 L143.78,413.52 L143.94,412.73 L144.10,411.95 L144.26,411.17 L144.42,410.38 L144.58,409.60 L144.74,408.82 L144.90,408.04 L145.06,407.25 L145.23,406.47 L145.39,405.69 L145.56,404.91 L145.72,404.12 L145.89,403.34 L146.06,402.56 L146.22,401.78 L146.39,401.00 L146.56,400.22 L146.73,399.44 L146.91,398.66 L147.08,397.88 L147.25,397.10 L147.43,396.32 L147.60,395.54 L147.78,394.76 L147.96,393.98 L148.14,393.20 L148.32,392.42 L148.50,391.64 L148.68,390.86 L148.87,390.09 L149.05,389.31 L149.24,388.53 L149.43,387.75 L149.62,386.98 L149.81,386.20 L150.00,385.43 L150.20,384.65 L150.39,383.88 L150.59,383.10 L150.79,382.33 L150.99,381.55 L151.19,380.78 L151.39,380.01 L151.60,379.23 L151.80,378.46 L152.01,377.69 L152.23,376.92 L152.44,376.15 L152.65,375.38 L152.87,374.61 L153.09,373.84 L153.31,373.07 L153.54,372.31 L153.76,371.54 L153.99,370.77 L154.23,370.01 L154.46,369.25 L154.70,368.48 L154.94,367.72 L155.18,366.96 L155.43,366.20 L155.68,365.44 L155.94,364.68 L156.19,363.93 L156.45,363.17 L156.72,362.42 L156.99,361.66 L157.26,360.91 L157.54,360.16 L157.82,359.41 L158.11,358.67 L158.40,357.92 L158.70,357.18 L159.00,356.44 L159.31,355.71 L159.63,354.97 L159.95,354.24 L160.28,353.51 L160.61,352.79 L160.96,352.06 L161.31,351.35 L161.67,350.63 L162.04,349.93 L162.42,349.22 L162.81,348.53 L163.21,347.83 L163.63,347.15 L164.05,346.48 L164.50,345.81 L164.95,345.15 L165.43,344.51 L165.92,343.88 L166.43,343.27 L166.96,342.67 L167.52,342.09 L168.09,341.54 L168.70,341.02 L169.33,340.53 L169.99,340.08 L170.68,339.67 L171.40,339.32 L172.14,339.03 L172.91,338.81 L173.69,338.65 L174.49,338.58 L175.29,338.58 L176.08,338.65 L176.87,338.79 L177.64,339.00 L178.39,339.27 L179.13,339.58 L179.84,339.94 L180.54,340.33 L181.22,340.76 L181.87,341.21 L182.51,341.69 L183.14,342.19 L183.74,342.71 L184.34,343.25 L184.92,343.80 L185.48,344.36 L186.04,344.93 L186.58,345.52 L187.12,346.11 L187.64,346.72 L188.16,347.33 L188.67,347.94 L189.17,348.57 L189.66,349.20 L190.15,349.83 L190.63,350.47 L191.10,351.11 L191.57,351.76 L192.03,352.42 L192.48,353.07 L192.94,353.73 L193.38,354.39 L193.83,355.06 L194.27,355.73 L194.70,356.40 L195.13,357.07 L195.56,357.75 L195.98,358.42 L196.40,359.10 L196.82,359.78 L197.24,360.47 L197.65,361.15 L198.06,361.84 L198.46,362.53 L198.87,363.22 L199.27,363.91 L199.67,364.60 L200.06,365.29 L200.46,365.99 L200.85,366.69 L201.24,367.38 L201.63,368.08 L202.02,368.78 L202.41,369.48 L202.79,370.18 L203.17,370.88 L203.55,371.59 L203.93,372.29 L204.31,372.99 L204.69,373.70 L205.06,374.40 L205.44,375.11 L205.81,375.82 L206.18,376.53 L206.55,377.23 L206.92,377.94 L207.29,378.65 L207.66,379.36 L208.02,380.07 L208.39,380.78 L208.76,381.49 L209.12,382.20 L209.48,382.92 L209.84,383.63 L210.21,384.34 L210.57,385.06 L210.93,385.77 L211.29,386.48 L211.65,387.20 L212.01,387.91 L212.36,388.63 L212.72,389.34 L213.08,390.06 L213.43,390.77 L213.79,391.49 L214.15,392.20 L214.50,392.92 L214.85,393.64 L215.21,394.35 L215.56,395.07 L215.92,395.79 L216.27,396.50 L216.62,397.22 L216.97,397.94 L217.33,398.65 L217.68,399.37 L218.03,400.09 L218.38,400.81 L218.73,401.53 L219.08,402.24 L219.44,402.96 L219.79,403.68 L220.14,404.40 L220.49,405.12 L220.84,405.84 L221.19,406.55 L221.54,407.27 L221.89,407.99 L222.24,408.71 L222.59,409.43 L222.94,410.15 L223.29,410.87 L223.64,411.58 L223.99,412.30 L224.34,413.02 L224.69,413.74 L225.04,414.46 L225.39,415.18 L225.74,415.90 L226.09,416.62 L226.44,417.33 L226.79,418.05 L227.14,418.77 L227.49,419.49 L227.84,420.21 L228.19,420.93 L228.54,421.65 L228.89,422.36 L229.24,423.08 L229.59,423.80 L229.94,424.52 L230.29,425.24 L230.64,425.95 L230.99,426.67 L231.35,427.39 L231.70,428.11 L232.05,428.83 L232.40,429.54 L232.75,430.26 L233.11,430.98 L233.46,431.69 L233.81,432.41 L234.17,433.13 L234.52,433.85 L234.87,434.56 L235.23,435.28 L235.58,435.99 L235.94,436.71 L236.29,437.43 L236.65,438.14 L237.00,438.86 L237.36,439.58 L237.71,440.29 L238.07,441.01 L238.43,441.72 L238.79,442.44 L239.14,443.15 L239.50,443.87 L239.86,444.58 L240.22,445.30 L240.57,446.01 L240.93,446.72 L241.29,447.44 L241.65,448.15 L242.01,448.87 L242.37,449.58 L242.73,450.29 L243.10,451.01 L243.46,451.72 L243.82,452.43 L244.18,453.14 L244.54,453.86 L244.91,454.57 L245.27,455.28 L245.63,455.99 L246.00,456.70 L246.36,457.41 L246.73,458.12 L247.09,458.84 L247.46,459.55 L247.83,460.26 L248.19,460.97 L248.56,461.68 L248.93,462.39 L249.30,463.10 L249.67,463.80 L250.04,464.51 L250.40,465.22 L250.78,465.93 L251.15,466.64 L251.52,467.35 L251.89,468.05 L252.26,468.76 L252.63,469.47 L253.01,470.18 L253.38,470.88 L253.75,471.59 L254.13,472.30 L254.50,473.00 L254.88,473.71 L255.25,474.41 L255.63,475.12 L256.01,475.82 L256.38,476.53 L256.76,477.23 L257.14,477.94 L257.52,478.64 L257.90,479.34 L258.28,480.05 L258.66,480.75 L259.04,481.45 L259.42,482.15 L259.81,482.86 L260.19,483.56 L260.57,484.26 L260.96,484.96 L261.34,485.66 L261.73,486.36 L262.11,487.06 L262.50,487.76 L262.88,488.46 L263.27,489.16 L263.66,489.86 L264.05,490.56 L264.44,491.26 L264.83,491.95 L265.22,492.65 L265.61,493.35 L266.00,494.05 L266.39,494.74 L266.78,495.44 L267.18,496.13 L267.57,496.83 L267.96,497.53 L268.36,498.22 L268.75,498.91 L269.15,499.61 L269.55,500.30 L269.94,501.00 L270.34,501.69 L270.74,502.38 L271.14,503.08 L271.54,503.77 L271.94,504.46 L272.34,505.15 L272.74,505.84 L273.14,506.53 L273.55,507.22 L273.95,507.91 L274.35,508.60 L274.76,509.29 L275.16,509.98 L275.57,510.67 L275.98,511.36 L276.38,512.04 L276.79,512.73 L277.20,513.42 L277.61,514.11 L278.02,514.79 L278.43,515.48 L278.84,516.16 L279.25,516.85 L279.67,517.53 L280.08,518.22 L280.49,518.90 L280.91,519.58 L281.32,520.27 L281.74,520.95 L282.16,521.63 L282.57,522.31 L282.99,523.00 L283.41,523.68 L283.83,524.36 L284.25,525.04 L284.67,525.72 L285.09,526.40 L285.51,527.08 L285.93,527.75 L286.36,528.43 L286.78,529.11 L287.21,529.79 L287.63,530.46 L288.06,531.14 L288.48,531.82 L288.91,532.49 L289.34,533.17 L289.77,533.84 L290.20,534.51 L290.63,535.19 L291.06,535.86 L291.49,536.53 L291.92,537.21 L292.35,537.88 L292.79,538.55 L293.22,539.22 L293.66,539.89 L294.09,540.56 L294.53,541.23 L294.97,541.90 L295.40,542.57 L295.84,543.24 L296.28,543.91 L296.72,544.57 L297.16,545.24 L297.60,545.91 L298.05,546.57 L298.49,547.24 L298.93,547.90 L299.38,548.57 L299.82,549.23 L300.27,549.89 L300.71,550.56 L301.16,551.22 L301.61,551.88 L302.06,552.54 L302.51,553.20 L302.96,553.87 L303.41,554.53 L303.86,555.19 L304.31,555.84 L304.76,556.50 L305.22,557.16 L305.67,557.82 L306.13,558.48 L306.58,559.13 L307.04,559.79 L307.50,560.44 L307.96,561.10 L308.41,561.75 L308.87,562.41 L309.33,563.06 L309.80,563.71 L310.26,564.37 L310.72,565.02 L311.18,565.67 L311.65,566.32 L312.11,566.97 L312.58,567.62 L313.04,568.27 L313.51,568.92 L313.98,569.57 L314.45,570.21 L314.92,570.86 L315.39,571.51 L315.86,572.15 L316.33,572.80 L316.80,573.44 L317.27,574.09 L317.75,574.73 L318.22,575.38 L318.70,576.02 L319.17,576.66 L319.65,577.30 L320.13,577.94 L320.60,578.58 L321.08,579.22 L321.56,579.86 L322.04,580.50 L322.52,581.14 L323.00,581.78 L323.49,582.42 L323.97,583.05 L324.45,583.69 L324.94,584.32 L325.43,584.96 L325.91,585.59 L326.40,586.23 L326.89,586.86 L327.38,587.49 L327.86,588.13 L328.35,588.76 L328.85,589.39 L329.34,590.02 L329.83,590.65 L330.32,591.28 L330.82,591.91 L331.31,592.53 L331.81,593.16 L332.30,593.79 L332.80,594.41 L333.30,595.04 L333.80,595.66 L334.29,596.29" fill="none" stroke="#ff00ff" stroke-width="1.9" stroke-linejoin="round" stroke-dasharray="6 2.5 1.6 2.5 1.6 2.5" stroke-dashoffset="0" clip-path="url(#cb1)"/>
<path d="M61.38,325.22 L61.45,326.01 L61.52,326.81 L61.59,327.60 L61.66,328.40 L61.73,329.20 L61.80,329.99 L61.87,330.79 L61.95,331.59 L62.02,332.38 L62.09,333.18 L62.16,333.97 L62.23,334.77 L62.30,335.57 L62.37,336.36 L62.45,337.16 L62.52,337.95 L62.59,338.75 L62.66,339.55 L62.73,340.34 L62.81,341.14 L62.88,341.93 L62.95,342.73 L63.02,343.53 L63.10,344.32 L63.17,345.12 L63.24,345.91 L63.32,346.71 L63.39,347.51 L63.46,348.30 L63.54,349.10 L63.61,349.89 L63.68,350.69 L63.76,351.49 L63.83,352.28 L63.91,353.08 L63.98,353.87 L64.05,354.67 L64.13,355.47 L64.20,356.26 L64.28,357.06 L64.35,357.85 L64.43,358.65 L64.50,359.44 L64.58,360.24 L64.65,361.04 L64.73,361.83 L64.81,362.63 L64.88,363.42 L64.96,364.22 L65.03,365.01 L65.11,365.81 L65.19,366.61 L65.26,367.40 L65.34,368.20 L65.42,368.99 L65.49,369.79 L65.57,370.58 L65.65,371.38 L65.73,372.17 L65.80,372.97 L65.88,373.77 L65.96,374.56 L66.04,375.36 L66.11,376.15 L66.19,376.95 L66.27,377.74 L66.35,378.54 L66.43,379.33 L66.51,380.13 L66.59,380.92 L66.66,381.72 L66.74,382.52 L66.82,383.31 L66.90,384.11 L66.98,384.90 L67.06,385.70 L67.14,386.49 L67.22,387.29 L67.30,388.08 L67.38,388.88 L67.46,389.67 L67.55,390.47 L67.63,391.26 L67.71,392.06 L67.79,392.85 L67.87,393.65 L67.95,394.44 L68.03,395.24 L68.12,396.03 L68.20,396.83 L68.28,397.62 L68.36,398.42 L68.44,399.21 L68.53,400.01 L68.61,400.80 L68.69,401.60 L68.78,402.39 L68.86,403.19 L68.94,403.98 L69.03,404.78 L69.11,405.57 L69.20,406.37 L69.28,407.16 L69.36,407.96 L69.45,408.75 L69.53,409.55 L69.62,410.34 L69.70,411.14 L69.79,411.93 L69.88,412.73 L69.96,413.52 L70.05,414.32 L70.13,415.11 L70.22,415.91 L70.31,416.70 L70.39,417.50 L70.48,418.29 L70.57,419.08 L70.66,419.88 L70.74,420.67 L70.83,421.47 L70.92,422.26 L71.01,423.06 L71.10,423.85 L71.18,424.65 L71.27,425.44 L71.36,426.23 L71.45,427.03 L71.54,427.82 L71.63,428.62 L71.72,429.41 L71.81,430.21 L71.90,431.00 L71.99,431.79 L72.08,432.59 L72.17,433.38 L72.26,434.18 L72.36,434.97 L72.45,435.76 L72.54,436.56 L72.63,437.35 L72.72,438.15 L72.82,438.94 L72.91,439.73 L73.00,440.53 L73.10,441.32 L73.19,442.12 L73.28,442.91 L73.38,443.70 L73.47,444.50 L73.57,445.29 L73.66,446.08 L73.76,446.88 L73.85,447.67 L73.95,448.46 L74.04,449.26 L74.14,450.05 L74.24,450.85 L74.33,451.64 L74.43,452.43 L74.53,453.23 L74.63,454.02 L74.72,454.81 L74.82,455.61 L74.92,456.40 L75.02,457.19 L75.12,457.98 L75.22,458.78 L75.32,459.57 L75.42,460.36 L75.52,461.16 L75.62,461.95 L75.72,462.74 L75.82,463.54 L75.92,464.33 L76.02,465.12 L76.13,465.91 L76.23,466.71 L76.33,467.50 L76.43,468.29 L76.54,469.08 L76.64,469.88 L76.75,470.67 L76.85,471.46 L76.96,472.25 L77.06,473.05 L77.17,473.84 L77.27,474.63 L77.38,475.42 L77.49,476.22 L77.59,477.01 L77.70,477.80 L77.81,478.59 L77.92,479.38 L78.02,480.18 L78.13,480.97 L78.24,481.76 L78.35,482.55 L78.46,483.34 L78.57,484.13 L78.69,484.93 L78.80,485.72 L78.91,486.51 L79.02,487.30 L79.13,488.09 L79.25,488.88 L79.36,489.67 L79.48,490.47 L79.59,491.26 L79.71,492.05 L79.82,492.84 L79.94,493.63 L80.05,494.42 L80.17,495.21 L80.29,496.00 L80.41,496.79 L80.53,497.58 L80.64,498.37 L80.76,499.16 L80.88,499.95 L81.01,500.74 L81.13,501.53 L81.25,502.32 L81.37,503.11 L81.49,503.90 L81.62,504.69 L81.74,505.48 L81.87,506.27 L81.99,507.06 L82.12,507.85 L82.25,508.64 L82.37,509.43 L82.50,510.22 L82.63,511.01 L82.76,511.79 L82.89,512.58 L83.02,513.37 L83.15,514.16 L83.29,514.95 L83.42,515.74 L83.55,516.52 L83.69,517.31 L83.82,518.10 L83.96,518.89 L84.10,519.68 L84.23,520.46 L84.37,521.25 L84.51,522.04 L84.65,522.82 L84.79,523.61 L84.94,524.40 L85.08,525.18 L85.23,525.97 L85.37,526.76 L85.52,527.54 L85.66,528.33 L85.81,529.11 L85.96,529.90 L86.11,530.68 L86.27,531.47 L86.42,532.25 L86.57,533.04 L86.73,533.82 L86.89,534.60 L87.04,535.39 L87.20,536.17 L87.36,536.95 L87.53,537.74 L87.69,538.52 L87.85,539.30 L88.02,540.08 L88.19,540.86 L88.36,541.64 L88.53,542.42 L88.70,543.21 L88.88,543.99 L89.06,544.76 L89.24,545.54 L89.42,546.32 L89.60,547.10 L89.78,547.88 L89.97,548.66 L90.16,549.43 L90.35,550.21 L90.55,550.98 L90.74,551.76 L90.94,552.53 L91.14,553.30 L91.35,554.08 L91.56,554.85 L91.77,555.62 L91.98,556.39 L92.20,557.16 L92.42,557.93 L92.65,558.69 L92.88,559.46 L93.11,560.22 L93.35,560.99 L93.60,561.75 L93.84,562.51 L94.10,563.27 L94.36,564.02 L94.62,564.77 L94.90,565.53 L95.18,566.27 L95.47,567.02 L95.76,567.76 L96.07,568.50 L96.39,569.23 L96.71,569.96 L97.06,570.69 L97.41,571.40 L97.78,572.11 L98.17,572.81 L98.58,573.49 L99.01,574.17 L99.48,574.82 L99.97,575.44 L100.51,576.04 L101.09,576.59 L101.73,577.07 L102.43,577.45 L103.19,577.70 L103.98,577.77 L104.77,577.65 L105.51,577.37 L106.20,576.96 L106.82,576.46 L107.40,575.90 L107.92,575.30 L108.41,574.67 L108.87,574.02 L109.30,573.34 L109.71,572.66 L110.10,571.96 L110.47,571.25 L110.83,570.53 L111.17,569.81 L111.50,569.08 L111.82,568.35 L112.13,567.61 L112.43,566.87 L112.72,566.13 L113.00,565.38 L113.28,564.63 L113.55,563.88 L113.82,563.13 L114.07,562.37 L114.33,561.61 L114.58,560.85 L114.82,560.09 L115.06,559.33 L115.30,558.56 L115.53,557.80 L115.76,557.03 L115.98,556.27 L116.21,555.50 L116.42,554.73 L116.64,553.96 L116.85,553.19 L117.06,552.42 L117.27,551.65 L117.48,550.87 L117.68,550.10 L117.88,549.33 L118.08,548.55 L118.27,547.78 L118.47,547.00 L118.66,546.23 L118.85,545.45 L119.04,544.67 L119.23,543.90 L119.41,543.12 L119.59,542.34 L119.78,541.56 L119.96,540.78 L120.14,540.01 L120.32,539.23 L120.49,538.45 L120.67,537.67 L120.84,536.89 L121.01,536.11 L121.19,535.33 L121.36,534.55 L121.53,533.76 L121.69,532.98 L121.86,532.20 L122.03,531.42 L122.19,530.64 L122.36,529.85 L122.52,529.07 L122.68,528.29 L122.84,527.51 L123.01,526.72 L123.17,525.94 L123.32,525.16 L123.48,524.37 L123.64,523.59 L123.80,522.81 L123.95,522.02 L124.11,521.24 L124.26,520.45 L124.42,519.67 L124.57,518.89 L124.73,518.10 L124.88,517.32 L125.03,516.53 L125.18,515.75 L125.33,514.96 L125.48,514.18 L125.63,513.39 L125.78,512.61 L125.93,511.82 L126.08,511.04 L126.23,510.25 L126.37,509.47 L126.52,508.68 L126.67,507.89 L126.81,507.11 L126.96,506.32 L127.11,505.54 L127.25,504.75 L127.40,503.96 L127.54,503.18 L127.68,502.39 L127.83,501.61 L127.97,500.82 L128.11,500.03 L128.26,499.25 L128.40,498.46 L128.54,497.67 L128.68,496.89 L128.82,496.10 L128.97,495.31 L129.11,494.53 L129.25,493.74 L129.39,492.95 L129.53,492.17 L129.67,491.38 L129.81,490.59 L129.95,489.81 L130.09,489.02 L130.23,488.23 L130.37,487.44 L130.51,486.66 L130.65,485.87 L130.79,485.08 L130.92,484.30 L131.06,483.51 L131.20,482.72 L131.34,481.93 L131.48,481.15 L131.62,480.36 L131.75,479.57 L131.89,478.78 L132.03,478.00 L132.17,477.21 L132.31,476.42 L132.44,475.64 L132.58,474.85 L132.72,474.06 L132.86,473.27 L133.00,472.49 L133.13,471.70 L133.27,470.91 L133.41,470.12 L133.55,469.34 L133.68,468.55 L133.82,467.76 L133.96,466.97 L134.10,466.19 L134.24,465.40 L134.37,464.61 L134.51,463.83 L134.65,463.04 L134.79,462.25 L134.93,461.46 L135.06,460.68 L135.20,459.89 L135.34,459.10 L135.48,458.31 L135.62,457.53 L135.76,456.74 L135.89,455.95 L136.03,455.17 L136.17,454.38 L136.31,453.59 L136.45,452.80 L136.59,452.02 L136.73,451.23 L136.87,450.44 L137.01,449.66 L137.15,448.87 L137.29,448.08 L137.43,447.30 L137.57,446.51 L137.71,445.72 L137.85,444.94 L138.00,444.15 L138.14,443.36 L138.28,442.58 L138.42,441.79 L138.56,441.00 L138.71,440.22 L138.85,439.43 L138.99,438.64 L139.14,437.86 L139.28,437.07 L139.42,436.28 L139.57,435.50 L139.71,434.71 L139.86,433.93 L140.00,433.14 L140.15,432.35 L140.30,431.57 L140.44,430.78 L140.59,430.00 L140.74,429.21 L140.88,428.43 L141.03,427.64 L141.18,426.86 L141.33,426.07 L141.48,425.28 L141.63,424.50 L141.78,423.71 L141.93,422.93 L142.08,422.14 L142.23,421.36 L142.39,420.58 L142.54,419.79 L142.69,419.01 L142.85,418.22 L143.00,417.44 L143.15,416.65 L143.31,415.87 L143.47,415.09 L143.62,414.30 L143.78,413.52 L143.94,412.73 L144.10,411.95 L144.26,411.17 L144.42,410.38 L144.58,409.60 L144.74,408.82 L144.90,408.04 L145.06,407.25 L145.23,406.47 L145.39,405.69 L145.56,404.91 L145.72,404.12 L145.89,403.34 L146.06,402.56 L146.22,401.78 L146.39,401.00 L146.56,400.22 L146.73,399.44 L146.91,398.66 L147.08,397.88 L147.25,397.10 L147.43,396.32 L147.60,395.54 L147.78,394.76 L147.96,393.98 L148.14,393.20 L148.32,392.42 L148.50,391.64 L148.68,390.86 L148.87,390.09 L149.05,389.31 L149.24,388.53 L149.43,387.75 L149.62,386.98 L149.81,386.20 L150.00,385.43 L150.20,384.65 L150.39,383.88 L150.59,383.10 L150.79,382.33 L150.99,381.55 L151.19,380.78 L151.39,380.01 L151.60,379.23 L151.80,378.46 L152.01,377.69 L152.23,376.92 L152.44,376.15 L152.65,375.38 L152.87,374.61 L153.09,373.84 L153.31,373.07 L153.54,372.31 L153.76,371.54 L153.99,370.77 L154.23,370.01 L154.46,369.25 L154.70,368.48 L154.94,367.72 L155.18,366.96 L155.43,366.20 L155.68,365.44 L155.94,364.68 L156.19,363.93 L156.45,363.17 L156.72,362.42 L156.99,361.66 L157.26,360.91 L157.54,360.16 L157.82,359.41 L158.11,358.67 L158.40,357.92 L158.70,357.18 L159.00,356.44 L159.31,355.71 L159.63,354.97 L159.95,354.24 L160.28,353.51 L160.61,352.79 L160.96,352.06 L161.31,351.35 L161.67,350.63 L162.04,349.93 L162.42,349.22 L162.81,348.53 L163.21,347.83 L163.63,347.15 L164.05,346.48 L164.50,345.81 L164.95,345.15 L165.43,344.51 L165.92,343.88 L166.43,343.27 L166.96,342.67 L167.52,342.09 L168.09,341.54 L168.70,341.02 L169.33,340.53 L169.99,340.08 L170.68,339.67 L171.40,339.32 L172.14,339.03 L172.91,338.81 L173.69,338.65 L174.49,338.58 L175.29,338.58 L176.08,338.65 L176.87,338.79 L177.64,339.00 L178.39,339.27 L179.13,339.58 L179.84,339.94 L180.54,340.33 L181.22,340.76 L181.87,341.21 L182.51,341.69 L183.14,342.19 L183.74,342.71 L184.34,343.25 L184.92,343.80 L185.48,344.36 L186.04,344.93 L186.58,345.52 L187.12,346.11 L187.64,346.72 L188.16,347.33 L188.67,347.94 L189.17,348.57 L189.66,349.20 L190.15,349.83 L190.63,350.47 L191.10,351.11 L191.57,351.76 L192.03,352.42 L192.48,353.07 L192.94,353.73 L193.38,354.39 L193.83,355.06 L194.27,355.73 L194.70,356.40 L195.13,357.07 L195.56,357.75 L195.98,358.42 L196.40,359.10 L196.82,359.78 L197.24,360.47 L197.65,361.15 L198.06,361.84 L198.46,362.53 L198.87,363.22 L199.27,363.91 L199.67,364.60 L200.06,365.29 L200.46,365.99 L200.85,366.69 L201.24,367.38 L201.63,368.08 L202.02,368.78 L202.41,369.48 L202.79,370.18 L203.17,370.88 L203.55,371.59 L203.93,372.29 L204.31,372.99 L204.69,373.70 L205.06,374.40 L205.44,375.11 L205.81,375.82 L206.18,376.53 L206.55,377.23 L206.92,377.94 L207.29,378.65 L207.66,379.36 L208.02,380.07 L208.39,380.78 L208.76,381.49 L209.12,382.20 L209.48,382.92 L209.84,383.63 L210.21,384.34 L210.57,385.06 L210.93,385.77 L211.29,386.48 L211.65,387.20 L212.01,387.91 L212.36,388.63 L212.72,389.34 L213.08,390.06 L213.43,390.77 L213.79,391.49 L214.15,392.20 L214.50,392.92 L214.85,393.64 L215.21,394.35 L215.56,395.07 L215.92,395.79 L216.27,396.50 L216.62,397.22 L216.97,397.94 L217.33,398.65 L217.68,399.37 L218.03,400.09 L218.38,400.81 L218.73,401.53 L219.08,402.24 L219.44,402.96 L219.79,403.68 L220.14,404.40 L220.49,405.12 L220.84,405.84 L221.19,406.55 L221.54,407.27 L221.89,407.99 L222.24,408.71 L222.59,409.43 L222.94,410.15 L223.29,410.87 L223.64,411.58 L223.99,412.30 L224.34,413.02 L224.69,413.74 L225.04,414.46 L225.39,415.18 L225.74,415.90 L226.09,416.62 L226.44,417.33 L226.79,418.05 L227.14,418.77 L227.49,419.49 L227.84,420.21 L228.19,420.93 L228.54,421.65 L228.89,422.36 L229.24,423.08 L229.59,423.80 L229.94,424.52 L230.29,425.24 L230.64,425.95 L230.99,426.67 L231.35,427.39 L231.70,428.11 L232.05,428.83 L232.40,429.54 L232.75,430.26 L233.11,430.98 L233.46,431.69 L233.81,432.41 L234.17,433.13 L234.52,433.85 L234.87,434.56 L235.23,435.28 L235.58,435.99 L235.94,436.71 L236.29,437.43 L236.65,438.14 L237.00,438.86 L237.36,439.58 L237.71,440.29 L238.07,441.01 L238.43,441.72 L238.79,442.44 L239.14,443.15 L239.50,443.87 L239.86,444.58 L240.22,445.30 L240.57,446.01 L240.93,446.72 L241.29,447.44 L241.65,448.15 L242.01,448.87 L242.37,449.58 L242.73,450.29 L243.10,451.01 L243.46,451.72 L243.82,452.43 L244.18,453.14 L244.54,453.86 L244.91,454.57 L245.27,455.28 L245.63,455.99 L246.00,456.70 L246.36,457.41 L246.73,458.12 L247.09,458.84 L247.46,459.55 L247.83,460.26 L248.19,460.97 L248.56,461.68 L248.93,462.39 L249.30,463.10 L249.67,463.80 L250.04,464.51 L250.40,465.22 L250.78,465.93 L251.15,466.64 L251.52,467.35 L251.89,468.05 L252.26,468.76 L252.63,469.47 L253.01,470.18 L253.38,470.88 L253.75,471.59 L254.13,472.30 L254.50,473.00 L254.88,473.71 L255.25,474.41 L255.63,475.12 L256.01,475.82 L256.38,476.53 L256.76,477.23 L257.14,477.94 L257.52,478.64 L257.90,479.34 L258.28,480.05 L258.66,480.75 L259.04,481.45 L259.42,482.15 L259.81,482.86 L260.19,483.56 L260.57,484.26 L260.96,484.96 L261.34,485.66 L261.73,486.36 L262.11,487.06 L262.50,487.76 L262.88,488.46 L263.27,489.16 L263.66,489.86 L264.05,490.56 L264.44,491.26 L264.83,491.95 L265.22,492.65 L265.61,493.35 L266.00,494.05 L266.39,494.74 L266.78,495.44 L267.18,496.13 L267.57,496.83 L267.96,497.53 L268.36,498.22 L268.75,498.91 L269.15,499.61 L269.55,500.30 L269.94,501.00 L270.34,501.69 L270.74,502.38 L271.14,503.08 L271.54,503.77 L271.94,504.46 L272.34,505.15 L272.74,505.84 L273.14,506.53 L273.55,507.22 L273.95,507.91 L274.35,508.60 L274.76,509.29 L275.16,509.98 L275.57,510.67 L275.98,511.36 L276.38,512.04 L276.79,512.73 L277.20,513.42 L277.61,514.11 L278.02,514.79 L278.43,515.48 L278.84,516.16 L279.25,516.85 L279.67,517.53 L280.08,518.22 L280.49,518.90 L280.91,519.58 L281.32,520.27 L281.74,520.95 L282.16,521.63 L282.57,522.31 L282.99,523.00 L283.41,523.68 L283.83,524.36 L284.25,525.04 L284.67,525.72 L285.09,526.40 L285.51,527.08 L285.93,527.75 L286.36,528.43 L286.78,529.11 L287.21,529.79 L287.63,530.46 L288.06,531.14 L288.48,531.82 L288.91,532.49 L289.34,533.17 L289.77,533.84 L290.20,534.51 L290.63,535.19 L291.06,535.86 L291.49,536.53 L291.92,537.21 L292.35,537.88 L292.79,538.55 L293.22,539.22 L293.66,539.89 L294.09,540.56 L294.53,541.23 L294.97,541.90 L295.40,542.57 L295.84,543.24 L296.28,543.91 L296.72,544.57 L297.16,545.24 L297.60,545.91 L298.05,546.57 L298.49,547.24 L298.93,547.90 L299.38,548.57 L299.82,549.23 L300.27,549.89 L300.71,550.56 L301.16,551.22 L301.61,551.88 L302.06,552.54 L302.51,553.20 L302.96,553.87 L303.41,554.53 L303.86,555.19 L304.31,555.84 L304.76,556.50 L305.22,557.16 L305.67,557.82 L306.13,558.48 L306.58,559.13 L307.04,559.79 L307.50,560.44 L307.96,561.10 L308.41,561.75 L308.87,562.41 L309.33,563.06 L309.80,563.71 L310.26,564.37 L310.72,565.02 L311.18,565.67 L311.65,566.32 L312.11,566.97 L312.58,567.62 L313.04,568.27 L313.51,568.92 L313.98,569.57 L314.45,570.21 L314.92,570.86 L315.39,571.51 L315.86,572.15 L316.33,572.80 L316.80,573.44 L317.27,574.09 L317.75,574.73 L318.22,575.38 L318.70,576.02 L319.17,576.66 L319.65,577.30 L320.13,577.94 L320.60,578.58 L321.08,579.22 L321.56,579.86 L322.04,580.50 L322.52,581.14 L323.00,581.78 L323.49,582.42 L323.97,583.05 L324.45,583.69 L324.94,584.32 L325.43,584.96 L325.91,585.59 L326.40,586.23 L326.89,586.86 L327.38,587.49 L327.86,588.13 L328.35,588.76 L328.85,589.39 L329.34,590.02 L329.83,590.65 L330.32,591.28 L330.82,591.91 L331.31,592.53 L331.81,593.16 L332.30,593.79 L332.80,594.41 L333.30,595.04 L333.80,595.66 L334.29,596.29" fill="none" stroke="#00ff00" stroke-width="1.7" stroke-linejoin="round" clip-path="url(#cb1)"/>
<line x1="48" y1="330.6" x2="48" y2="591.1" stroke="#000" stroke-width="1.6"/>
<line x1="47.2" y1="590.3" x2="343.7" y2="590.3" stroke="#000" stroke-width="1.6"/>
<line x1="70.7" y1="590.3" x2="70.7" y2="595.5" stroke="#000" stroke-width="1.3"/>
<text x="71" y="605.2" font-size="8.7" text-anchor="middle" font-weight="normal" font-style="normal" fill="#000" letter-spacing="3.0" stroke="#000" stroke-width="0.22">6</text>
<line x1="116.1" y1="590.3" x2="116.1" y2="595.5" stroke="#000" stroke-width="1.3"/>
<text x="116.4" y="605.2" font-size="8.7" text-anchor="middle" font-weight="normal" font-style="normal" fill="#000" letter-spacing="3.0" stroke="#000" stroke-width="0.22">8</text>
<line x1="161.5" y1="590.3" x2="161.5" y2="595.5" stroke="#000" stroke-width="1.3"/>
<text x="161.8" y="605.2" font-size="8.7" text-anchor="middle" font-weight="normal" font-style="normal" fill="#000" letter-spacing="3.0" stroke="#000" stroke-width="0.22">10</text>
<line x1="206.9" y1="590.3" x2="206.9" y2="595.5" stroke="#000" stroke-width="1.3"/>
<text x="207.2" y="605.2" font-size="8.7" text-anchor="middle" font-weight="normal" font-style="normal" fill="#000" letter-spacing="3.0" stroke="#000" stroke-width="0.22">12</text>
<line x1="252.3" y1="590.3" x2="252.3" y2="595.5" stroke="#000" stroke-width="1.3"/>
<text x="252.6" y="605.2" font-size="8.7" text-anchor="middle" font-weight="normal" font-style="normal" fill="#000" letter-spacing="3.0" stroke="#000" stroke-width="0.22">14</text>
<line x1="297.7" y1="590.3" x2="297.7" y2="595.5" stroke="#000" stroke-width="1.3"/>
<text x="298" y="605.2" font-size="8.7" text-anchor="middle" font-weight="normal" font-style="normal" fill="#000" letter-spacing="3.0" stroke="#000" stroke-width="0.22">16</text>
<line x1="343.1" y1="590.3" x2="343.1" y2="595.5" stroke="#000" stroke-width="1.3"/>
<text x="343.4" y="605.2" font-size="8.7" text-anchor="middle" font-weight="normal" font-style="normal" fill="#000" letter-spacing="3.0" stroke="#000" stroke-width="0.22">18</text>
<line x1="40" y1="331.2" x2="48" y2="331.2" stroke="#000" stroke-width="1.5"/>
<text x="35.3" y="333.3" font-size="8.1" text-anchor="end" font-weight="normal" font-style="normal" fill="#000" letter-spacing="2.3" stroke="#000" stroke-width="0.22">62</text>
<line x1="40" y1="355.88" x2="48" y2="355.88" stroke="#000" stroke-width="1.5"/>
<text x="35.3" y="357.98" font-size="8.1" text-anchor="end" font-weight="normal" font-style="normal" fill="#000" letter-spacing="2.3" stroke="#000" stroke-width="0.22">60</text>
<line x1="40" y1="380.55" x2="48" y2="380.55" stroke="#000" stroke-width="1.5"/>
<text x="35.3" y="382.65" font-size="8.1" text-anchor="end" font-weight="normal" font-style="normal" fill="#000" letter-spacing="2.3" stroke="#000" stroke-width="0.22">58</text>
<line x1="40" y1="405.23" x2="48" y2="405.23" stroke="#000" stroke-width="1.5"/>
<text x="35.3" y="407.33" font-size="8.1" text-anchor="end" font-weight="normal" font-style="normal" fill="#000" letter-spacing="2.3" stroke="#000" stroke-width="0.22">56</text>
<line x1="40" y1="429.9" x2="48" y2="429.9" stroke="#000" stroke-width="1.5"/>
<text x="35.3" y="432" font-size="8.1" text-anchor="end" font-weight="normal" font-style="normal" fill="#000" letter-spacing="2.3" stroke="#000" stroke-width="0.22">54</text>
<line x1="40" y1="454.58" x2="48" y2="454.58" stroke="#000" stroke-width="1.5"/>
<text x="35.3" y="456.68" font-size="8.1" text-anchor="end" font-weight="normal" font-style="normal" fill="#000" letter-spacing="2.3" stroke="#000" stroke-width="0.22">52</text>
<line x1="40" y1="479.26" x2="48" y2="479.26" stroke="#000" stroke-width="1.5"/>
<text x="35.3" y="481.36" font-size="8.1" text-anchor="end" font-weight="normal" font-style="normal" fill="#000" letter-spacing="2.3" stroke="#000" stroke-width="0.22">50</text>
<line x1="40" y1="503.93" x2="48" y2="503.93" stroke="#000" stroke-width="1.5"/>
<text x="35.3" y="506.03" font-size="8.1" text-anchor="end" font-weight="normal" font-style="normal" fill="#000" letter-spacing="2.3" stroke="#000" stroke-width="0.22">48</text>
<line x1="40" y1="528.61" x2="48" y2="528.61" stroke="#000" stroke-width="1.5"/>
<text x="35.3" y="530.71" font-size="8.1" text-anchor="end" font-weight="normal" font-style="normal" fill="#000" letter-spacing="2.3" stroke="#000" stroke-width="0.22">46</text>
<line x1="40" y1="553.29" x2="48" y2="553.29" stroke="#000" stroke-width="1.5"/>
<text x="35.3" y="555.39" font-size="8.1" text-anchor="end" font-weight="normal" font-style="normal" fill="#000" letter-spacing="2.3" stroke="#000" stroke-width="0.22">44</text>
<line x1="40" y1="577.96" x2="48" y2="577.96" stroke="#000" stroke-width="1.5"/>
<text x="35.3" y="580.06" font-size="8.1" text-anchor="end" font-weight="normal" font-style="normal" fill="#000" letter-spacing="2.3" stroke="#000" stroke-width="0.22">42</text>
<text transform="translate(9.8,461.6) rotate(-90)" text-anchor="middle" font-size="9.2" letter-spacing="0.35"><tspan font-size="10.4">V</tspan><tspan font-size="4.6" dy="3" dx="-0.7" font-style="italic">F</tspan><tspan dy="-3" dx="0.5" font-style="italic">(MeV)</tspan></text>
<text x="192.2" y="626" text-anchor="middle" font-size="8.6" letter-spacing="1.5" stroke="#000" stroke-width="0.15">r(<tspan font-style="italic" dx="0.8">fm</tspan> )</text>
<rect x="223.4" y="336.3" width="100.1" height="50" stroke="#666" stroke-width="1" fill="none"/>
<line x1="226.2" y1="341" x2="250.5" y2="341" stroke="#000" stroke-width="1.9" stroke-dasharray="1.6 9.2"/>
<text font-size="6.8" font-weight="bold" stroke="#000" stroke-width="0.12"><tspan x="252" y="343.45">E</tspan><tspan x="258.4" y="346.05" font-size="4.0" letter-spacing="1.1">c.m.</tspan><tspan x="271" y="343.45">=</tspan><tspan x="279.8" y="343.45" letter-spacing="1.4">50</tspan><tspan x="293.3" y="343.45" font-style="italic" letter-spacing="2.4">MeV</tspan></text>
<line x1="226" y1="350.9" x2="250.5" y2="350.9" stroke="#ff0000" stroke-width="1.9" stroke-dasharray="8.2 9.3 7 10"/>
<text font-size="6.8" font-weight="bold" stroke="#000" stroke-width="0.12"><tspan x="252" y="353.35">E</tspan><tspan x="258.4" y="355.95" font-size="4.0" letter-spacing="1.1">c.m.</tspan><tspan x="271" y="353.35">=</tspan><tspan x="279.8" y="353.35" letter-spacing="1.4">55</tspan><tspan x="293.3" y="353.35" font-style="italic" letter-spacing="2.4">MeV</tspan></text>
<line x1="226" y1="360.8" x2="250.5" y2="360.8" stroke="#0000ff" stroke-width="1.9" stroke-dasharray="10 4.3 1.6 4.3 6 10"/>
<text font-size="6.8" font-weight="bold" stroke="#000" stroke-width="0.12"><tspan x="252" y="363.25">E</tspan><tspan x="258.4" y="365.85" font-size="4.0" letter-spacing="1.1">c.m.</tspan><tspan x="271" y="363.25">=</tspan><tspan x="279.6" y="363.25">V</tspan><tspan x="285.6" y="365.85" font-size="4.0" letter-spacing="1.1">B0</tspan></text>
<line x1="226" y1="370.7" x2="250.5" y2="370.7" stroke="#ff00ff" stroke-width="1.9" stroke-dasharray="6.5 3.2 1.7 2.4 1.7 4 7 10"/>
<text font-size="6.8" font-weight="bold" stroke="#000" stroke-width="0.12"><tspan x="252" y="373.15">E</tspan><tspan x="258.4" y="375.75" font-size="4.0" letter-spacing="1.1">c.m.</tspan><tspan x="271" y="373.15">=</tspan><tspan x="279.8" y="373.15" letter-spacing="1.4">70</tspan><tspan x="293.3" y="373.15" font-style="italic" letter-spacing="2.4">MeV</tspan></text>
<line x1="226" y1="380.6" x2="250.5" y2="380.6" stroke="#00ff00" stroke-width="1.9"/>
<text font-size="6.8" font-weight="bold" stroke="#000" stroke-width="0.12"><tspan x="252" y="383.05">E</tspan><tspan x="258.4" y="385.65" font-size="4.0" letter-spacing="1.1">c.m.</tspan><tspan x="271" y="383.05">=</tspan><tspan x="279.8" y="383.05" letter-spacing="1.4">80</tspan><tspan x="293.3" y="383.05" font-style="italic" letter-spacing="2.4">MeV</tspan></text>
<rect x="230.2" y="391.2" width="91.4" height="13.4" stroke="#666" stroke-width="1" fill="none"/>
<text x="243.99" y="397.4" font-size="5.2" font-weight="bold" font-style="normal" fill="#000" textLength="6.72" lengthAdjust="spacing" stroke="#000" stroke-width="0.18">16</text>
<text x="252.09" y="402.2" font-size="8.5" font-weight="bold" font-style="normal" fill="#000" stroke="#000" stroke-width="0.18">O</text>
<text x="266.59" y="402.2" font-size="8.5" font-weight="bold" font-style="normal" fill="#000" stroke="#000" stroke-width="0.18">+</text>
<text x="277.79" y="397.4" font-size="5.2" font-weight="bold" font-style="normal" fill="#000" textLength="12.22" lengthAdjust="spacing" stroke="#000" stroke-width="0.18">144</text>
<text x="290.69" y="402.2" font-size="8.5" font-weight="bold" font-style="normal" fill="#000" stroke="#000" stroke-width="0.18">S</text>
<text x="299.69" y="402.2" font-size="8.5" font-weight="bold" font-style="normal" fill="#000" stroke="#000" stroke-width="0.18">m</text>
<text x="262.41" y="420.8" font-size="8.2" font-weight="bold" font-style="normal" fill="#000" textLength="15.02" lengthAdjust="spacing" stroke="#000" stroke-width="0.25">(a)</text>
<clipPath id="cb2"><rect x="413.1" y="331.2" width="297.1" height="259.3"/></clipPath>
<line x1="413.1" y1="331.4" x2="710.2" y2="331.4" stroke="#a0a0a0" stroke-width="1.2"/>
<line x1="710.2" y1="331.4" x2="710.2" y2="590.5" stroke="#a0a0a0" stroke-width="1.2"/>
<path d="M478.20,599.16 L478.52,598.12 L478.85,597.09 L479.17,596.07 L479.50,595.06 L479.82,594.05 L480.14,593.06 L480.47,592.07 L480.79,591.09 L481.11,590.11 L481.44,589.14 L481.76,588.18 L482.09,587.23 L482.41,586.29 L482.73,585.35 L483.06,584.42 L483.38,583.50 L483.70,582.58 L484.03,581.67 L484.35,580.77 L484.68,579.88 L485.00,578.99 L485.32,578.11 L485.65,577.24 L485.97,576.38 L486.30,575.52 L486.62,574.67 L486.94,573.82 L487.27,572.99 L487.59,572.16 L487.91,571.33 L488.24,570.52 L488.56,569.71 L488.89,568.90 L489.21,568.11 L489.53,567.32 L489.86,566.54 L490.18,565.76 L490.50,564.99 L490.83,564.23 L491.15,563.47 L491.48,562.72 L491.80,561.98 L492.12,561.25 L492.45,560.52 L492.77,559.79 L493.10,559.08 L493.42,558.37 L493.74,557.66 L494.07,556.97 L494.39,556.28 L494.71,555.59 L495.04,554.91 L495.36,554.24 L495.69,553.58 L496.01,552.92 L496.33,552.26 L496.66,551.62 L496.98,550.98 L497.30,550.34 L497.63,549.71 L497.95,549.09 L498.28,548.47 L498.60,547.86 L498.92,547.26 L499.25,546.66 L499.57,546.07 L499.90,545.48 L500.22,544.90 L500.54,544.33 L500.87,543.76 L501.19,543.20 L501.51,542.64 L501.84,542.09 L502.16,541.54 L502.49,541.00 L502.81,540.47 L503.13,539.94 L503.46,539.42 L503.78,538.90 L504.10,538.39 L504.43,537.89 L504.75,537.39 L505.08,536.89 L505.40,536.40 L505.72,535.92 L506.05,535.44 L506.37,534.97 L506.70,534.51 L507.02,534.04 L507.34,533.59 L507.67,533.14 L507.99,532.69 L508.31,532.26 L508.64,531.82 L508.96,531.39 L509.29,530.97 L509.61,530.55 L509.93,530.14 L510.26,529.73 L510.58,529.33 L510.90,528.93 L511.23,528.54 L511.55,528.15 L511.88,527.77 L512.20,527.40 L512.52,527.03 L512.85,526.66 L513.17,526.30 L513.50,525.94 L513.82,525.59 L514.14,525.25 L514.47,524.91 L514.79,524.57 L515.11,524.24 L515.44,523.91 L515.76,523.59 L516.09,523.28 L516.41,522.97 L516.73,522.66 L517.06,522.36 L517.38,522.06 L517.70,521.77 L518.03,521.49 L518.35,521.20 L518.68,520.93 L519.00,520.66 L519.32,520.39 L519.65,520.13 L519.97,519.87 L520.30,519.61 L520.62,519.37 L520.94,519.12 L521.27,518.88 L521.59,518.65 L521.91,518.42 L522.24,518.19 L522.56,517.97 L522.89,517.76 L523.21,517.55 L523.53,517.34 L523.86,517.14 L524.18,516.94 L524.50,516.75 L524.83,516.56 L525.15,516.37 L525.48,516.19 L525.80,516.02 L526.12,515.85 L526.45,515.68 L526.77,515.52 L527.10,515.36 L527.42,515.21 L527.74,515.06 L528.07,514.92 L528.39,514.78 L528.71,514.64 L529.04,514.51 L529.36,514.38 L529.69,514.26 L530.01,514.14 L530.33,514.03 L530.66,513.92 L530.98,513.82 L531.30,513.71 L531.63,513.62 L531.95,513.52 L532.28,513.44 L532.60,513.35 L532.92,513.27 L533.25,513.20 L533.57,513.12 L533.90,513.06 L534.22,512.99 L534.54,512.93 L534.87,512.88 L535.19,512.83 L535.51,512.78 L535.84,512.74 L536.16,512.70 L536.49,512.67 L536.81,512.64 L537.13,512.61 L537.46,512.59 L537.78,512.57 L538.10,512.55 L538.43,512.54 L538.75,512.54 L539.08,512.53 L539.40,512.54 L539.72,512.54 L540.05,512.55 L540.37,512.57 L540.70,512.58 L541.02,512.60 L541.34,512.63 L541.67,512.66 L541.99,512.69 L542.31,512.73 L542.64,512.77 L542.96,512.82 L543.29,512.87 L543.61,512.92 L543.93,512.97 L544.26,513.04 L544.58,513.10 L544.90,513.17 L545.23,513.24 L545.55,513.32 L545.88,513.40 L546.20,513.48 L546.52,513.57 L546.85,513.66 L547.17,513.75 L547.50,513.85 L547.82,513.95 L548.14,514.06 L548.47,514.17 L548.79,514.29 L549.11,514.40 L549.44,514.52 L549.76,514.65 L550.09,514.78 L550.41,514.91 L550.73,515.05 L551.06,515.19 L551.38,515.33 L551.70,515.48 L552.03,515.63 L552.35,515.79 L552.68,515.95 L553.00,516.11 L553.32,516.27 L553.65,516.44 L553.97,516.62 L554.30,516.79 L554.62,516.98 L554.94,517.16 L555.27,517.35 L555.59,517.54 L555.91,517.74 L556.24,517.94 L556.56,518.14 L556.89,518.35 L557.21,518.56 L557.53,518.77 L557.86,518.99 L558.18,519.21 L558.50,519.43 L558.83,519.66 L559.15,519.89 L559.48,520.13 L559.80,520.37 L560.12,520.61 L560.45,520.86 L560.77,521.11 L561.10,521.36 L561.42,521.62 L561.74,521.88 L562.07,522.15 L562.39,522.41 L562.71,522.69 L563.04,522.96 L563.36,523.24 L563.69,523.52 L564.01,523.81 L564.33,524.10 L564.66,524.39 L564.98,524.69 L565.30,524.99 L565.63,525.29 L565.95,525.60 L566.28,525.91 L566.60,526.23 L566.92,526.55 L567.25,526.87 L567.57,527.20 L567.90,527.53 L568.22,527.86 L568.54,528.19 L568.87,528.54 L569.19,528.88 L569.51,529.23 L569.84,529.58 L570.16,529.93 L570.49,530.29 L570.81,530.65 L571.13,531.02 L571.46,531.39 L571.78,531.76 L572.10,532.13 L572.43,532.51 L572.75,532.90 L573.08,533.28 L573.40,533.68 L573.72,534.07 L574.05,534.47 L574.37,534.87 L574.70,535.27 L575.02,535.68 L575.34,536.09 L575.67,536.51 L575.99,536.93 L576.31,537.35 L576.64,537.78 L576.96,538.21 L577.29,538.64 L577.61,539.08 L577.93,539.52 L578.26,539.97 L578.58,540.42 L578.90,540.87 L579.23,541.32 L579.55,541.78 L579.88,542.25 L580.20,542.71 L580.52,543.18 L580.85,543.66 L581.17,544.13 L581.50,544.62 L581.82,545.10 L582.14,545.59 L582.47,546.08 L582.79,546.58 L583.11,547.08 L583.44,547.58 L583.76,548.09 L584.09,548.60 L584.41,549.11 L584.73,549.63 L585.06,550.15 L585.38,550.68 L585.70,551.21 L586.03,551.74 L586.35,552.28 L586.68,552.82 L587.00,553.36 L587.32,553.91 L587.65,554.46 L587.97,555.02 L588.30,555.58 L588.62,556.14 L588.94,556.71 L589.27,557.28 L589.59,557.85 L589.91,558.43 L590.24,559.01 L590.56,559.60 L590.89,560.19 L591.21,560.78 L591.53,561.38 L591.86,561.98 L592.18,562.59 L592.50,563.19 L592.83,563.81 L593.15,564.42 L593.48,565.04 L593.80,565.67 L594.12,566.30 L594.45,566.93 L594.77,567.56 L595.10,568.20 L595.42,568.85 L595.74,569.49 L596.07,570.15 L596.39,570.80 L596.71,571.46 L597.04,572.12 L597.36,572.79 L597.69,573.46 L598.01,574.14 L598.33,574.82 L598.66,575.50 L598.98,576.19 L599.30,576.88 L599.63,577.57 L599.95,578.27 L600.28,578.98 L600.60,579.68 L600.92,580.39 L601.25,581.11 L601.57,581.83 L601.90,582.55 L602.22,583.28 L602.54,584.01 L602.87,584.75 L603.19,585.49 L603.51,586.23 L603.84,586.98 L604.16,587.73 L604.49,588.49 L604.81,589.25 L605.13,590.01 L605.46,590.78 L605.78,591.55 L606.10,592.33 L606.43,593.11 L606.75,593.90 L607.08,594.69 L607.40,595.48" fill="none" stroke="#000" stroke-width="2.0" stroke-linejoin="round" stroke-dasharray="2 6.5" stroke-dashoffset="0" clip-path="url(#cb2)"/>
<path d="M471.20,601.61 L471.56,600.18 L471.91,598.77 L472.27,597.38 L472.63,596.00 L472.99,594.65 L473.34,593.30 L473.70,591.98 L474.06,590.67 L474.41,589.38 L474.77,588.10 L475.13,586.84 L475.49,585.60 L475.84,584.36 L476.20,583.15 L476.56,581.95 L476.91,580.76 L477.27,579.58 L477.63,578.42 L477.99,577.28 L478.34,576.14 L478.70,575.02 L479.06,573.91 L479.41,572.82 L479.77,571.73 L480.13,570.66 L480.49,569.60 L480.84,568.55 L481.20,567.52 L481.56,566.49 L481.91,565.48 L482.27,564.48 L482.63,563.49 L482.99,562.50 L483.34,561.53 L483.70,560.57 L484.06,559.62 L484.41,558.68 L484.77,557.75 L485.13,556.83 L485.49,555.92 L485.84,555.02 L486.20,554.13 L486.56,553.24 L486.91,552.37 L487.27,551.50 L487.63,550.65 L487.99,549.80 L488.34,548.96 L488.70,548.13 L489.06,547.31 L489.41,546.49 L489.77,545.69 L490.13,544.89 L490.49,544.10 L490.84,543.31 L491.20,542.54 L491.56,541.77 L491.91,541.01 L492.27,540.26 L492.63,539.52 L492.99,538.78 L493.34,538.05 L493.70,537.32 L494.06,536.61 L494.41,535.90 L494.77,535.20 L495.13,534.50 L495.49,533.81 L495.84,533.13 L496.20,532.45 L496.56,531.78 L496.91,531.12 L497.27,530.47 L497.63,529.82 L497.99,529.17 L498.34,528.54 L498.70,527.91 L499.06,527.28 L499.41,526.66 L499.77,526.05 L500.13,525.45 L500.49,524.85 L500.84,524.25 L501.20,523.67 L501.56,523.08 L501.91,522.51 L502.27,521.94 L502.63,521.38 L502.99,520.82 L503.34,520.27 L503.70,519.72 L504.06,519.18 L504.41,518.64 L504.77,518.12 L505.13,517.59 L505.49,517.08 L505.84,516.56 L506.20,516.06 L506.56,515.56 L506.91,515.06 L507.27,514.58 L507.63,514.09 L507.99,513.61 L508.34,513.14 L508.70,512.68 L509.06,512.22 L509.41,511.76 L509.77,511.31 L510.13,510.87 L510.49,510.43 L510.84,510.00 L511.20,509.57 L511.56,509.15 L511.91,508.73 L512.27,508.32 L512.63,507.92 L512.99,507.52 L513.34,507.13 L513.70,506.74 L514.06,506.36 L514.41,505.98 L514.77,505.61 L515.13,505.25 L515.49,504.89 L515.84,504.53 L516.20,504.18 L516.56,503.84 L516.91,503.51 L517.27,503.17 L517.63,502.85 L517.99,502.53 L518.34,502.21 L518.70,501.91 L519.06,501.60 L519.41,501.31 L519.77,501.02 L520.13,500.73 L520.49,500.45 L520.84,500.18 L521.20,499.91 L521.56,499.64 L521.91,499.39 L522.27,499.14 L522.63,498.89 L522.99,498.65 L523.34,498.42 L523.70,498.19 L524.06,497.97 L524.41,497.75 L524.77,497.54 L525.13,497.34 L525.49,497.14 L525.84,496.95 L526.20,496.76 L526.56,496.58 L526.91,496.40 L527.27,496.23 L527.63,496.07 L527.99,495.91 L528.34,495.76 L528.70,495.61 L529.06,495.47 L529.41,495.34 L529.77,495.21 L530.13,495.09 L530.49,494.97 L530.84,494.86 L531.20,494.76 L531.56,494.66 L531.91,494.57 L532.27,494.48 L532.63,494.40 L532.99,494.33 L533.34,494.26 L533.70,494.19 L534.06,494.14 L534.41,494.09 L534.77,494.04 L535.13,494.00 L535.49,493.97 L535.84,493.94 L536.20,493.92 L536.56,493.90 L536.91,493.90 L537.27,493.89 L537.63,493.89 L537.99,493.90 L538.34,493.92 L538.70,493.94 L539.06,493.96 L539.41,493.99 L539.77,494.03 L540.13,494.08 L540.49,494.13 L540.84,494.18 L541.20,494.24 L541.56,494.31 L541.91,494.38 L542.27,494.46 L542.63,494.54 L542.99,494.63 L543.34,494.73 L543.70,494.83 L544.06,494.94 L544.41,495.05 L544.77,495.17 L545.13,495.30 L545.49,495.43 L545.84,495.56 L546.20,495.70 L546.56,495.85 L546.91,496.00 L547.27,496.16 L547.63,496.32 L547.99,496.49 L548.34,496.67 L548.70,496.85 L549.06,497.03 L549.41,497.22 L549.77,497.42 L550.13,497.62 L550.49,497.83 L550.84,498.04 L551.20,498.26 L551.56,498.48 L551.91,498.71 L552.27,498.95 L552.63,499.19 L552.99,499.43 L553.34,499.68 L553.70,499.93 L554.06,500.19 L554.41,500.46 L554.77,500.73 L555.13,501.00 L555.49,501.28 L555.84,501.57 L556.20,501.86 L556.56,502.15 L556.91,502.45 L557.27,502.75 L557.63,503.06 L557.99,503.38 L558.34,503.70 L558.70,504.02 L559.06,504.35 L559.41,504.68 L559.77,505.02 L560.13,505.36 L560.49,505.70 L560.84,506.06 L561.20,506.41 L561.56,506.77 L561.91,507.13 L562.27,507.50 L562.63,507.88 L562.99,508.25 L563.34,508.63 L563.70,509.02 L564.06,509.41 L564.41,509.80 L564.77,510.20 L565.13,510.60 L565.49,511.01 L565.84,511.42 L566.20,511.83 L566.56,512.25 L566.91,512.67 L567.27,513.10 L567.63,513.53 L567.99,513.96 L568.34,514.40 L568.70,514.84 L569.06,515.29 L569.41,515.73 L569.77,516.19 L570.13,516.64 L570.49,517.10 L570.84,517.56 L571.20,518.03 L571.56,518.50 L571.91,518.97 L572.27,519.45 L572.63,519.93 L572.99,520.41 L573.34,520.90 L573.70,521.39 L574.06,521.88 L574.41,522.38 L574.77,522.88 L575.13,523.38 L575.49,523.89 L575.84,524.40 L576.20,524.91 L576.56,525.43 L576.91,525.95 L577.27,526.47 L577.63,526.99 L577.99,527.52 L578.34,528.05 L578.70,528.59 L579.06,529.12 L579.41,529.66 L579.77,530.21 L580.13,530.75 L580.49,531.30 L580.84,531.85 L581.20,532.41 L581.56,532.97 L581.91,533.53 L582.27,534.09 L582.63,534.66 L582.99,535.23 L583.34,535.80 L583.70,536.37 L584.06,536.95 L584.41,537.53 L584.77,538.12 L585.13,538.70 L585.49,539.29 L585.84,539.89 L586.20,540.48 L586.56,541.08 L586.91,541.68 L587.27,542.29 L587.63,542.90 L587.99,543.51 L588.34,544.12 L588.70,544.74 L589.06,545.36 L589.41,545.98 L589.77,546.61 L590.13,547.24 L590.49,547.87 L590.84,548.51 L591.20,549.14 L591.56,549.79 L591.91,550.43 L592.27,551.08 L592.63,551.74 L592.99,552.39 L593.34,553.05 L593.70,553.72 L594.06,554.39 L594.41,555.06 L594.77,555.73 L595.13,556.41 L595.49,557.10 L595.84,557.78 L596.20,558.48 L596.56,559.17 L596.91,559.87 L597.27,560.58 L597.63,561.29 L597.99,562.00 L598.34,562.72 L598.70,563.44 L599.06,564.17 L599.41,564.90 L599.77,565.64 L600.13,566.38 L600.49,567.13 L600.84,567.89 L601.20,568.65 L601.56,569.41 L601.91,570.18 L602.27,570.96 L602.63,571.74 L602.99,572.53 L603.34,573.33 L603.70,574.13 L604.06,574.94 L604.41,575.76 L604.77,576.58 L605.13,577.41 L605.49,578.25 L605.84,579.09 L606.20,579.95 L606.56,580.81 L606.91,581.67 L607.27,582.55 L607.63,583.44 L607.99,584.33 L608.34,585.23 L608.70,586.14 L609.06,587.06 L609.41,588.00 L609.77,588.94 L610.13,589.89 L610.49,590.85 L610.84,591.82 L611.20,592.80 L611.56,593.79 L611.91,594.79 L612.27,595.81 L612.63,596.83 L612.99,597.87 L613.34,598.92 L613.70,599.99" fill="none" stroke="#ff0000" stroke-width="1.8" stroke-linejoin="round" stroke-dasharray="7.4 6" stroke-dashoffset="0" clip-path="url(#cb2)"/>
<path d="M439.20,608.75 L439.70,606.18 L440.20,603.61 L440.69,601.05 L441.19,598.50 L441.69,595.95 L442.19,593.41 L442.69,590.88 L443.18,588.36 L443.68,585.85 L444.18,583.35 L444.68,580.86 L445.18,578.37 L445.67,575.90 L446.17,573.44 L446.67,570.98 L447.17,568.54 L447.67,566.11 L448.16,563.69 L448.66,561.28 L449.16,558.89 L449.66,556.50 L450.16,554.13 L450.65,551.77 L451.15,549.42 L451.65,547.08 L452.15,544.76 L452.65,542.45 L453.14,540.15 L453.64,537.87 L454.14,535.60 L454.64,533.34 L455.14,531.10 L455.63,528.87 L456.13,526.66 L456.63,524.46 L457.13,522.28 L457.63,520.11 L458.12,517.95 L458.62,515.81 L459.12,513.68 L459.62,511.57 L460.12,509.48 L460.61,507.40 L461.11,505.33 L461.61,503.28 L462.11,501.25 L462.61,499.23 L463.10,497.23 L463.60,495.24 L464.10,493.28 L464.60,491.32 L465.10,489.39 L465.59,487.46 L466.09,485.56 L466.59,483.67 L467.09,481.80 L467.59,479.95 L468.08,478.11 L468.58,476.29 L469.08,474.48 L469.58,472.70 L470.08,470.93 L470.57,469.17 L471.07,467.44 L471.57,465.72 L472.07,464.02 L472.57,462.33 L473.06,460.66 L473.56,459.01 L474.06,457.38 L474.56,455.76 L475.06,454.16 L475.55,452.58 L476.05,451.02 L476.55,449.47 L477.05,447.94 L477.55,446.43 L478.04,444.94 L478.54,443.46 L479.04,442.00 L479.54,440.56 L480.04,439.13 L480.53,437.72 L481.03,436.33 L481.53,434.96 L482.03,433.61 L482.53,432.27 L483.02,430.95 L483.52,429.64 L484.02,428.36 L484.52,427.09 L485.02,425.84 L485.51,424.60 L486.01,423.39 L486.51,422.19 L487.01,421.01 L487.51,419.84 L488.00,418.69 L488.50,417.56 L489.00,416.45 L489.50,415.35 L490.00,414.27 L490.49,413.21 L490.99,412.16 L491.49,411.14 L491.99,410.12 L492.49,409.13 L492.98,408.15 L493.48,407.19 L493.98,406.24 L494.48,405.32 L494.98,404.40 L495.47,403.51 L495.97,402.63 L496.47,401.77 L496.97,400.92 L497.47,400.09 L497.96,399.28 L498.46,398.48 L498.96,397.70 L499.46,396.94 L499.96,396.19 L500.45,395.46 L500.95,394.74 L501.45,394.04 L501.95,393.35 L502.45,392.69 L502.94,392.03 L503.44,391.39 L503.94,390.77 L504.44,390.16 L504.94,389.57 L505.43,389.00 L505.93,388.44 L506.43,387.89 L506.93,387.36 L507.43,386.85 L507.92,386.35 L508.42,385.86 L508.92,385.39 L509.42,384.93 L509.92,384.49 L510.41,384.07 L510.91,383.66 L511.41,383.26 L511.91,382.88 L512.41,382.51 L512.90,382.15 L513.40,381.81 L513.90,381.49 L514.40,381.18 L514.90,380.88 L515.39,380.60 L515.89,380.33 L516.39,380.07 L516.89,379.83 L517.39,379.60 L517.88,379.39 L518.38,379.19 L518.88,379.00 L519.38,378.83 L519.88,378.66 L520.37,378.52 L520.87,378.38 L521.37,378.26 L521.87,378.15 L522.37,378.06 L522.86,377.97 L523.36,377.90 L523.86,377.85 L524.36,377.80 L524.86,377.77 L525.35,377.75 L525.85,377.75 L526.35,377.75 L526.85,377.77 L527.35,377.80 L527.84,377.84 L528.34,377.90 L528.84,377.96 L529.34,378.04 L529.84,378.13 L530.33,378.23 L530.83,378.35 L531.33,378.47 L531.83,378.61 L532.33,378.76 L532.82,378.92 L533.32,379.09 L533.82,379.27 L534.32,379.47 L534.82,379.67 L535.31,379.89 L535.81,380.12 L536.31,380.35 L536.81,380.60 L537.31,380.86 L537.80,381.14 L538.30,381.42 L538.80,381.71 L539.30,382.01 L539.79,382.33 L540.29,382.65 L540.79,382.99 L541.29,383.33 L541.79,383.69 L542.28,384.06 L542.78,384.43 L543.28,384.82 L543.78,385.22 L544.28,385.62 L544.77,386.04 L545.27,386.47 L545.77,386.91 L546.27,387.35 L546.77,387.81 L547.26,388.28 L547.76,388.75 L548.26,389.24 L548.76,389.73 L549.26,390.24 L549.75,390.75 L550.25,391.28 L550.75,391.81 L551.25,392.35 L551.75,392.90 L552.24,393.47 L552.74,394.04 L553.24,394.62 L553.74,395.21 L554.24,395.80 L554.73,396.41 L555.23,397.03 L555.73,397.65 L556.23,398.29 L556.73,398.93 L557.22,399.58 L557.72,400.24 L558.22,400.91 L558.72,401.59 L559.22,402.28 L559.71,402.97 L560.21,403.68 L560.71,404.39 L561.21,405.11 L561.71,405.84 L562.20,406.58 L562.70,407.33 L563.20,408.09 L563.70,408.85 L564.20,409.62 L564.69,410.40 L565.19,411.19 L565.69,411.99 L566.19,412.79 L566.69,413.61 L567.18,414.43 L567.68,415.26 L568.18,416.10 L568.68,416.95 L569.18,417.80 L569.67,418.66 L570.17,419.53 L570.67,420.41 L571.17,421.30 L571.67,422.19 L572.16,423.10 L572.66,424.01 L573.16,424.93 L573.66,425.85 L574.16,426.79 L574.65,427.73 L575.15,428.68 L575.65,429.64 L576.15,430.60 L576.65,431.57 L577.14,432.55 L577.64,433.54 L578.14,434.54 L578.64,435.54 L579.14,436.55 L579.63,437.57 L580.13,438.60 L580.63,439.63 L581.13,440.68 L581.63,441.73 L582.12,442.78 L582.62,443.85 L583.12,444.92 L583.62,446.00 L584.12,447.08 L584.61,448.18 L585.11,449.28 L585.61,450.39 L586.11,451.50 L586.61,452.63 L587.10,453.76 L587.60,454.90 L588.10,456.04 L588.60,457.20 L589.10,458.36 L589.59,459.52 L590.09,460.70 L590.59,461.88 L591.09,463.07 L591.59,464.26 L592.08,465.47 L592.58,466.68 L593.08,467.89 L593.58,469.12 L594.08,470.35 L594.57,471.59 L595.07,472.83 L595.57,474.09 L596.07,475.34 L596.57,476.61 L597.06,477.88 L597.56,479.16 L598.06,480.45 L598.56,481.74 L599.06,483.04 L599.55,484.35 L600.05,485.67 L600.55,486.99 L601.05,488.31 L601.55,489.65 L602.04,490.99 L602.54,492.33 L603.04,493.69 L603.54,495.05 L604.04,496.42 L604.53,497.79 L605.03,499.17 L605.53,500.55 L606.03,501.95 L606.53,503.34 L607.02,504.75 L607.52,506.16 L608.02,507.58 L608.52,509.00 L609.02,510.43 L609.51,511.86 L610.01,513.31 L610.51,514.75 L611.01,516.21 L611.51,517.67 L612.00,519.13 L612.50,520.60 L613.00,522.08 L613.50,523.56 L614.00,525.05 L614.49,526.54 L614.99,528.04 L615.49,529.54 L615.99,531.05 L616.49,532.57 L616.98,534.08 L617.48,535.61 L617.98,537.14 L618.48,538.67 L618.98,540.21 L619.47,541.76 L619.97,543.31 L620.47,544.86 L620.97,546.42 L621.47,547.98 L621.96,549.55 L622.46,551.12 L622.96,552.70 L623.46,554.28 L623.96,555.86 L624.45,557.45 L624.95,559.04 L625.45,560.64 L625.95,562.24 L626.45,563.84 L626.94,565.44 L627.44,567.05 L627.94,568.67 L628.44,570.28 L628.94,571.90 L629.43,573.52 L629.93,575.15 L630.43,576.77 L630.93,578.40 L631.43,580.04 L631.92,581.67 L632.42,583.31 L632.92,584.94 L633.42,586.58 L633.92,588.22 L634.41,589.87 L634.91,591.51 L635.41,593.16 L635.91,594.80 L636.41,596.45 L636.90,598.10 L637.40,599.75 L637.90,601.40" fill="none" stroke="#0000ff" stroke-width="1.9" stroke-linejoin="round" stroke-dasharray="8.2 2.6 1.6 2.6" stroke-dashoffset="0" clip-path="url(#cb2)"/>
<path d="M431.60,618.20 L432.13,614.85 L432.66,611.51 L433.19,608.20 L433.72,604.90 L434.25,601.61 L434.78,598.34 L435.31,595.09 L435.84,591.86 L436.37,588.64 L436.90,585.45 L437.43,582.27 L437.96,579.10 L438.49,575.96 L439.02,572.83 L439.55,569.73 L440.09,566.64 L440.62,563.57 L441.15,560.52 L441.68,557.49 L442.21,554.48 L442.74,551.49 L443.27,548.52 L443.80,545.57 L444.33,542.64 L444.86,539.73 L445.39,536.83 L445.92,533.96 L446.45,531.11 L446.98,528.29 L447.51,525.48 L448.04,522.69 L448.57,519.92 L449.10,517.18 L449.63,514.45 L450.16,511.75 L450.69,509.07 L451.22,506.41 L451.75,503.77 L452.28,501.16 L452.81,498.56 L453.34,495.99 L453.87,493.44 L454.40,490.91 L454.93,488.40 L455.46,485.91 L455.99,483.45 L456.53,481.01 L457.06,478.59 L457.59,476.19 L458.12,473.82 L458.65,471.46 L459.18,469.13 L459.71,466.83 L460.24,464.54 L460.77,462.28 L461.30,460.04 L461.83,457.82 L462.36,455.62 L462.89,453.45 L463.42,451.29 L463.95,449.17 L464.48,447.06 L465.01,444.97 L465.54,442.91 L466.07,440.87 L466.60,438.85 L467.13,436.86 L467.66,434.89 L468.19,432.94 L468.72,431.01 L469.25,429.10 L469.78,427.22 L470.31,425.36 L470.84,423.52 L471.37,421.70 L471.90,419.91 L472.44,418.14 L472.97,416.39 L473.50,414.66 L474.03,412.95 L474.56,411.27 L475.09,409.61 L475.62,407.97 L476.15,406.35 L476.68,404.75 L477.21,403.18 L477.74,401.62 L478.27,400.09 L478.80,398.58 L479.33,397.09 L479.86,395.62 L480.39,394.18 L480.92,392.75 L481.45,391.35 L481.98,389.97 L482.51,388.61 L483.04,387.27 L483.57,385.95 L484.10,384.65 L484.63,383.38 L485.16,382.12 L485.69,380.88 L486.22,379.67 L486.75,378.48 L487.28,377.30 L487.81,376.15 L488.34,375.02 L488.88,373.90 L489.41,372.81 L489.94,371.74 L490.47,370.69 L491.00,369.66 L491.53,368.64 L492.06,367.65 L492.59,366.68 L493.12,365.72 L493.65,364.79 L494.18,363.88 L494.71,362.98 L495.24,362.11 L495.77,361.25 L496.30,360.41 L496.83,359.59 L497.36,358.80 L497.89,358.01 L498.42,357.25 L498.95,356.51 L499.48,355.79 L500.01,355.08 L500.54,354.39 L501.07,353.72 L501.60,353.07 L502.13,352.44 L502.66,351.82 L503.19,351.22 L503.72,350.65 L504.25,350.08 L504.78,349.54 L505.32,349.01 L505.85,348.50 L506.38,348.01 L506.91,347.54 L507.44,347.08 L507.97,346.64 L508.50,346.22 L509.03,345.81 L509.56,345.42 L510.09,345.05 L510.62,344.69 L511.15,344.35 L511.68,344.03 L512.21,343.72 L512.74,343.43 L513.27,343.15 L513.80,342.90 L514.33,342.65 L514.86,342.43 L515.39,342.21 L515.92,342.02 L516.45,341.84 L516.98,341.68 L517.51,341.53 L518.04,341.39 L518.57,341.27 L519.10,341.17 L519.63,341.08 L520.16,341.01 L520.69,340.95 L521.23,340.91 L521.76,340.88 L522.29,340.86 L522.82,340.86 L523.35,340.88 L523.88,340.91 L524.41,340.95 L524.94,341.01 L525.47,341.08 L526.00,341.17 L526.53,341.26 L527.06,341.38 L527.59,341.50 L528.12,341.65 L528.65,341.80 L529.18,341.97 L529.71,342.15 L530.24,342.34 L530.77,342.55 L531.30,342.77 L531.83,343.01 L532.36,343.25 L532.89,343.51 L533.42,343.79 L533.95,344.07 L534.48,344.37 L535.01,344.68 L535.54,345.01 L536.07,345.34 L536.60,345.69 L537.13,346.06 L537.67,346.43 L538.20,346.81 L538.73,347.21 L539.26,347.62 L539.79,348.05 L540.32,348.48 L540.85,348.93 L541.38,349.38 L541.91,349.85 L542.44,350.34 L542.97,350.83 L543.50,351.33 L544.03,351.85 L544.56,352.38 L545.09,352.92 L545.62,353.47 L546.15,354.03 L546.68,354.60 L547.21,355.19 L547.74,355.78 L548.27,356.39 L548.80,357.01 L549.33,357.64 L549.86,358.28 L550.39,358.93 L550.92,359.59 L551.45,360.26 L551.98,360.94 L552.51,361.64 L553.04,362.34 L553.57,363.05 L554.11,363.78 L554.64,364.51 L555.17,365.26 L555.70,366.02 L556.23,366.78 L556.76,367.56 L557.29,368.35 L557.82,369.14 L558.35,369.95 L558.88,370.77 L559.41,371.59 L559.94,372.43 L560.47,373.28 L561.00,374.14 L561.53,375.00 L562.06,375.88 L562.59,376.77 L563.12,377.66 L563.65,378.57 L564.18,379.49 L564.71,380.41 L565.24,381.35 L565.77,382.29 L566.30,383.25 L566.83,384.21 L567.36,385.18 L567.89,386.17 L568.42,387.16 L568.95,388.16 L569.48,389.17 L570.02,390.19 L570.55,391.22 L571.08,392.26 L571.61,393.31 L572.14,394.36 L572.67,395.43 L573.20,396.50 L573.73,397.59 L574.26,398.68 L574.79,399.78 L575.32,400.90 L575.85,402.02 L576.38,403.15 L576.91,404.28 L577.44,405.43 L577.97,406.59 L578.50,407.75 L579.03,408.93 L579.56,410.11 L580.09,411.30 L580.62,412.50 L581.15,413.71 L581.68,414.92 L582.21,416.15 L582.74,417.39 L583.27,418.63 L583.80,419.88 L584.33,421.14 L584.86,422.41 L585.39,423.68 L585.92,424.97 L586.46,426.26 L586.99,427.56 L587.52,428.88 L588.05,430.19 L588.58,431.52 L589.11,432.86 L589.64,434.20 L590.17,435.55 L590.70,436.91 L591.23,438.28 L591.76,439.65 L592.29,441.04 L592.82,442.43 L593.35,443.83 L593.88,445.23 L594.41,446.65 L594.94,448.07 L595.47,449.50 L596.00,450.94 L596.53,452.39 L597.06,453.84 L597.59,455.30 L598.12,456.77 L598.65,458.25 L599.18,459.73 L599.71,461.23 L600.24,462.72 L600.77,464.23 L601.30,465.74 L601.83,467.27 L602.36,468.79 L602.90,470.33 L603.43,471.87 L603.96,473.42 L604.49,474.98 L605.02,476.54 L605.55,478.11 L606.08,479.69 L606.61,481.27 L607.14,482.87 L607.67,484.46 L608.20,486.07 L608.73,487.68 L609.26,489.29 L609.79,490.92 L610.32,492.55 L610.85,494.18 L611.38,495.83 L611.91,497.47 L612.44,499.13 L612.97,500.79 L613.50,502.46 L614.03,504.13 L614.56,505.81 L615.09,507.49 L615.62,509.18 L616.15,510.87 L616.68,512.57 L617.21,514.28 L617.74,515.99 L618.27,517.70 L618.81,519.42 L619.34,521.15 L619.87,522.88 L620.40,524.61 L620.93,526.35 L621.46,528.09 L621.99,529.84 L622.52,531.59 L623.05,533.35 L623.58,535.11 L624.11,536.87 L624.64,538.64 L625.17,540.41 L625.70,542.18 L626.23,543.96 L626.76,545.74 L627.29,547.52 L627.82,549.31 L628.35,551.10 L628.88,552.89 L629.41,554.68 L629.94,556.48 L630.47,558.28 L631.00,560.08 L631.53,561.88 L632.06,563.68 L632.59,565.49 L633.12,567.30 L633.65,569.10 L634.18,570.91 L634.71,572.72 L635.25,574.53 L635.78,576.34 L636.31,578.15 L636.84,579.96 L637.37,581.77 L637.90,583.58 L638.43,585.38 L638.96,587.19 L639.49,589.00 L640.02,590.80 L640.55,592.60 L641.08,594.40 L641.61,596.20 L642.14,598.00 L642.67,599.79 L643.20,601.58" fill="none" stroke="#ff00ff" stroke-width="1.9" stroke-linejoin="round" stroke-dasharray="6 2.5 1.6 2.5 1.6 2.5" stroke-dashoffset="0" clip-path="url(#cb2)"/>
<path d="M431.60,618.20 L432.13,614.85 L432.66,611.51 L433.19,608.20 L433.72,604.90 L434.25,601.61 L434.78,598.34 L435.31,595.09 L435.84,591.86 L436.37,588.64 L436.90,585.45 L437.43,582.27 L437.96,579.10 L438.49,575.96 L439.02,572.83 L439.55,569.73 L440.09,566.64 L440.62,563.57 L441.15,560.52 L441.68,557.49 L442.21,554.48 L442.74,551.49 L443.27,548.52 L443.80,545.57 L444.33,542.64 L444.86,539.73 L445.39,536.83 L445.92,533.96 L446.45,531.11 L446.98,528.29 L447.51,525.48 L448.04,522.69 L448.57,519.92 L449.10,517.18 L449.63,514.45 L450.16,511.75 L450.69,509.07 L451.22,506.41 L451.75,503.77 L452.28,501.16 L452.81,498.56 L453.34,495.99 L453.87,493.44 L454.40,490.91 L454.93,488.40 L455.46,485.91 L455.99,483.45 L456.53,481.01 L457.06,478.59 L457.59,476.19 L458.12,473.82 L458.65,471.46 L459.18,469.13 L459.71,466.83 L460.24,464.54 L460.77,462.28 L461.30,460.04 L461.83,457.82 L462.36,455.62 L462.89,453.45 L463.42,451.29 L463.95,449.17 L464.48,447.06 L465.01,444.97 L465.54,442.91 L466.07,440.87 L466.60,438.85 L467.13,436.86 L467.66,434.89 L468.19,432.94 L468.72,431.01 L469.25,429.10 L469.78,427.22 L470.31,425.36 L470.84,423.52 L471.37,421.70 L471.90,419.91 L472.44,418.14 L472.97,416.39 L473.50,414.66 L474.03,412.95 L474.56,411.27 L475.09,409.61 L475.62,407.97 L476.15,406.35 L476.68,404.75 L477.21,403.18 L477.74,401.62 L478.27,400.09 L478.80,398.58 L479.33,397.09 L479.86,395.62 L480.39,394.18 L480.92,392.75 L481.45,391.35 L481.98,389.97 L482.51,388.61 L483.04,387.27 L483.57,385.95 L484.10,384.65 L484.63,383.38 L485.16,382.12 L485.69,380.88 L486.22,379.67 L486.75,378.48 L487.28,377.30 L487.81,376.15 L488.34,375.02 L488.88,373.90 L489.41,372.81 L489.94,371.74 L490.47,370.69 L491.00,369.66 L491.53,368.64 L492.06,367.65 L492.59,366.68 L493.12,365.72 L493.65,364.79 L494.18,363.88 L494.71,362.98 L495.24,362.11 L495.77,361.25 L496.30,360.41 L496.83,359.59 L497.36,358.80 L497.89,358.01 L498.42,357.25 L498.95,356.51 L499.48,355.79 L500.01,355.08 L500.54,354.39 L501.07,353.72 L501.60,353.07 L502.13,352.44 L502.66,351.82 L503.19,351.22 L503.72,350.65 L504.25,350.08 L504.78,349.54 L505.32,349.01 L505.85,348.50 L506.38,348.01 L506.91,347.54 L507.44,347.08 L507.97,346.64 L508.50,346.22 L509.03,345.81 L509.56,345.42 L510.09,345.05 L510.62,344.69 L511.15,344.35 L511.68,344.03 L512.21,343.72 L512.74,343.43 L513.27,343.15 L513.80,342.90 L514.33,342.65 L514.86,342.43 L515.39,342.21 L515.92,342.02 L516.45,341.84 L516.98,341.68 L517.51,341.53 L518.04,341.39 L518.57,341.27 L519.10,341.17 L519.63,341.08 L520.16,341.01 L520.69,340.95 L521.23,340.91 L521.76,340.88 L522.29,340.86 L522.82,340.86 L523.35,340.88 L523.88,340.91 L524.41,340.95 L524.94,341.01 L525.47,341.08 L526.00,341.17 L526.53,341.26 L527.06,341.38 L527.59,341.50 L528.12,341.65 L528.65,341.80 L529.18,341.97 L529.71,342.15 L530.24,342.34 L530.77,342.55 L531.30,342.77 L531.83,343.01 L532.36,343.25 L532.89,343.51 L533.42,343.79 L533.95,344.07 L534.48,344.37 L535.01,344.68 L535.54,345.01 L536.07,345.34 L536.60,345.69 L537.13,346.06 L537.67,346.43 L538.20,346.81 L538.73,347.21 L539.26,347.62 L539.79,348.05 L540.32,348.48 L540.85,348.93 L541.38,349.38 L541.91,349.85 L542.44,350.34 L542.97,350.83 L543.50,351.33 L544.03,351.85 L544.56,352.38 L545.09,352.92 L545.62,353.47 L546.15,354.03 L546.68,354.60 L547.21,355.19 L547.74,355.78 L548.27,356.39 L548.80,357.01 L549.33,357.64 L549.86,358.28 L550.39,358.93 L550.92,359.59 L551.45,360.26 L551.98,360.94 L552.51,361.64 L553.04,362.34 L553.57,363.05 L554.11,363.78 L554.64,364.51 L555.17,365.26 L555.70,366.02 L556.23,366.78 L556.76,367.56 L557.29,368.35 L557.82,369.14 L558.35,369.95 L558.88,370.77 L559.41,371.59 L559.94,372.43 L560.47,373.28 L561.00,374.14 L561.53,375.00 L562.06,375.88 L562.59,376.77 L563.12,377.66 L563.65,378.57 L564.18,379.49 L564.71,380.41 L565.24,381.35 L565.77,382.29 L566.30,383.25 L566.83,384.21 L567.36,385.18 L567.89,386.17 L568.42,387.16 L568.95,388.16 L569.48,389.17 L570.02,390.19 L570.55,391.22 L571.08,392.26 L571.61,393.31 L572.14,394.36 L572.67,395.43 L573.20,396.50 L573.73,397.59 L574.26,398.68 L574.79,399.78 L575.32,400.90 L575.85,402.02 L576.38,403.15 L576.91,404.28 L577.44,405.43 L577.97,406.59 L578.50,407.75 L579.03,408.93 L579.56,410.11 L580.09,411.30 L580.62,412.50 L581.15,413.71 L581.68,414.92 L582.21,416.15 L582.74,417.39 L583.27,418.63 L583.80,419.88 L584.33,421.14 L584.86,422.41 L585.39,423.68 L585.92,424.97 L586.46,426.26 L586.99,427.56 L587.52,428.88 L588.05,430.19 L588.58,431.52 L589.11,432.86 L589.64,434.20 L590.17,435.55 L590.70,436.91 L591.23,438.28 L591.76,439.65 L592.29,441.04 L592.82,442.43 L593.35,443.83 L593.88,445.23 L594.41,446.65 L594.94,448.07 L595.47,449.50 L596.00,450.94 L596.53,452.39 L597.06,453.84 L597.59,455.30 L598.12,456.77 L598.65,458.25 L599.18,459.73 L599.71,461.23 L600.24,462.72 L600.77,464.23 L601.30,465.74 L601.83,467.27 L602.36,468.79 L602.90,470.33 L603.43,471.87 L603.96,473.42 L604.49,474.98 L605.02,476.54 L605.55,478.11 L606.08,479.69 L606.61,481.27 L607.14,482.87 L607.67,484.46 L608.20,486.07 L608.73,487.68 L609.26,489.29 L609.79,490.92 L610.32,492.55 L610.85,494.18 L611.38,495.83 L611.91,497.47 L612.44,499.13 L612.97,500.79 L613.50,502.46 L614.03,504.13 L614.56,505.81 L615.09,507.49 L615.62,509.18 L616.15,510.87 L616.68,512.57 L617.21,514.28 L617.74,515.99 L618.27,517.70 L618.81,519.42 L619.34,521.15 L619.87,522.88 L620.40,524.61 L620.93,526.35 L621.46,528.09 L621.99,529.84 L622.52,531.59 L623.05,533.35 L623.58,535.11 L624.11,536.87 L624.64,538.64 L625.17,540.41 L625.70,542.18 L626.23,543.96 L626.76,545.74 L627.29,547.52 L627.82,549.31 L628.35,551.10 L628.88,552.89 L629.41,554.68 L629.94,556.48 L630.47,558.28 L631.00,560.08 L631.53,561.88 L632.06,563.68 L632.59,565.49 L633.12,567.30 L633.65,569.10 L634.18,570.91 L634.71,572.72 L635.25,574.53 L635.78,576.34 L636.31,578.15 L636.84,579.96 L637.37,581.77 L637.90,583.58 L638.43,585.38 L638.96,587.19 L639.49,589.00 L640.02,590.80 L640.55,592.60 L641.08,594.40 L641.61,596.20 L642.14,598.00 L642.67,599.79 L643.20,601.58" fill="none" stroke="#00ff00" stroke-width="1.7" stroke-linejoin="round" clip-path="url(#cb2)"/>
<line x1="527.5" y1="340.9" x2="711" y2="340.9" stroke="#ff0000" stroke-width="1.7"/>
<path d="M517.5,340.9 L528.5,338.5 L528.5,343.3 Z" fill="#ff0000"/>
<line x1="530.6" y1="377.8" x2="711" y2="377.8" stroke="#ff0000" stroke-width="1.7"/>
<path d="M520.6,377.8 L531.6,375.4 L531.6,380.2 Z" fill="#ff0000"/>
<line x1="541.4" y1="493.8" x2="711" y2="493.8" stroke="#ff0000" stroke-width="1.7"/>
<path d="M531.4,493.8 L542.4,491.4 L542.4,496.2 Z" fill="#ff0000"/>
<line x1="540.3" y1="512.2" x2="711" y2="512.2" stroke="#ff0000" stroke-width="1.7"/>
<path d="M530.3,512.2 L541.3,509.8 L541.3,514.6 Z" fill="#ff0000"/>
<line x1="413.1" y1="330.8" x2="413.1" y2="591.3" stroke="#000" stroke-width="1.6"/>
<line x1="412.3" y1="590.5" x2="710.8" y2="590.5" stroke="#000" stroke-width="1.6"/>
<line x1="413.1" y1="590.5" x2="413.1" y2="593.5" stroke="#000" stroke-width="1.2"/>
<line x1="423" y1="590.5" x2="423" y2="593.5" stroke="#000" stroke-width="1.2"/>
<line x1="432.91" y1="590.5" x2="432.91" y2="593.5" stroke="#000" stroke-width="1.2"/>
<line x1="442.81" y1="590.5" x2="442.81" y2="593.5" stroke="#000" stroke-width="1.2"/>
<line x1="452.71" y1="590.5" x2="452.71" y2="593.5" stroke="#000" stroke-width="1.2"/>
<line x1="462.62" y1="590.5" x2="462.62" y2="593.5" stroke="#000" stroke-width="1.2"/>
<line x1="472.52" y1="590.5" x2="472.52" y2="593.5" stroke="#000" stroke-width="1.2"/>
<line x1="482.42" y1="590.5" x2="482.42" y2="593.5" stroke="#000" stroke-width="1.2"/>
<line x1="492.33" y1="590.5" x2="492.33" y2="593.5" stroke="#000" stroke-width="1.2"/>
<line x1="502.23" y1="590.5" x2="502.23" y2="593.5" stroke="#000" stroke-width="1.2"/>
<line x1="512.13" y1="590.5" x2="512.13" y2="593.5" stroke="#000" stroke-width="1.2"/>
<line x1="522.04" y1="590.5" x2="522.04" y2="593.5" stroke="#000" stroke-width="1.2"/>
<line x1="531.94" y1="590.5" x2="531.94" y2="593.5" stroke="#000" stroke-width="1.2"/>
<line x1="541.84" y1="590.5" x2="541.84" y2="593.5" stroke="#000" stroke-width="1.2"/>
<line x1="551.75" y1="590.5" x2="551.75" y2="593.5" stroke="#000" stroke-width="1.2"/>
<line x1="561.65" y1="590.5" x2="561.65" y2="593.5" stroke="#000" stroke-width="1.2"/>
<line x1="571.55" y1="590.5" x2="571.55" y2="593.5" stroke="#000" stroke-width="1.2"/>
<line x1="581.46" y1="590.5" x2="581.46" y2="593.5" stroke="#000" stroke-width="1.2"/>
<line x1="591.36" y1="590.5" x2="591.36" y2="593.5" stroke="#000" stroke-width="1.2"/>
<line x1="601.26" y1="590.5" x2="601.26" y2="593.5" stroke="#000" stroke-width="1.2"/>
<line x1="611.17" y1="590.5" x2="611.17" y2="593.5" stroke="#000" stroke-width="1.2"/>
<line x1="621.07" y1="590.5" x2="621.07" y2="593.5" stroke="#000" stroke-width="1.2"/>
<line x1="630.97" y1="590.5" x2="630.97" y2="593.5" stroke="#000" stroke-width="1.2"/>
<line x1="640.88" y1="590.5" x2="640.88" y2="593.5" stroke="#000" stroke-width="1.2"/>
<line x1="650.78" y1="590.5" x2="650.78" y2="593.5" stroke="#000" stroke-width="1.2"/>
<line x1="660.68" y1="590.5" x2="660.68" y2="593.5" stroke="#000" stroke-width="1.2"/>
<line x1="670.59" y1="590.5" x2="670.59" y2="593.5" stroke="#000" stroke-width="1.2"/>
<line x1="680.49" y1="590.5" x2="680.49" y2="593.5" stroke="#000" stroke-width="1.2"/>
<line x1="690.39" y1="590.5" x2="690.39" y2="593.5" stroke="#000" stroke-width="1.2"/>
<line x1="700.3" y1="590.5" x2="700.3" y2="593.5" stroke="#000" stroke-width="1.2"/>
<line x1="710.2" y1="590.5" x2="710.2" y2="593.5" stroke="#000" stroke-width="1.2"/>
<line x1="413.1" y1="590.5" x2="413.1" y2="595" stroke="#000" stroke-width="1.3"/>
<text x="413.65" y="604.8" font-size="7.8" text-anchor="middle" font-weight="normal" font-style="normal" fill="#000" letter-spacing="2.3" stroke="#000" stroke-width="0.22">9.5</text>
<line x1="462.62" y1="590.5" x2="462.62" y2="595" stroke="#000" stroke-width="1.3"/>
<text x="463.17" y="604.8" font-size="7.8" text-anchor="middle" font-weight="normal" font-style="normal" fill="#000" letter-spacing="2.3" stroke="#000" stroke-width="0.22">10.0</text>
<line x1="512.13" y1="590.5" x2="512.13" y2="595" stroke="#000" stroke-width="1.3"/>
<text x="512.68" y="604.8" font-size="7.8" text-anchor="middle" font-weight="normal" font-style="normal" fill="#000" letter-spacing="2.3" stroke="#000" stroke-width="0.22">10.5</text>
<line x1="561.65" y1="590.5" x2="561.65" y2="595" stroke="#000" stroke-width="1.3"/>
<text x="562.2" y="604.8" font-size="7.8" text-anchor="middle" font-weight="normal" font-style="normal" fill="#000" letter-spacing="2.3" stroke="#000" stroke-width="0.22">11.0</text>
<line x1="611.17" y1="590.5" x2="611.17" y2="595" stroke="#000" stroke-width="1.3"/>
<text x="611.72" y="604.8" font-size="7.8" text-anchor="middle" font-weight="normal" font-style="normal" fill="#000" letter-spacing="2.3" stroke="#000" stroke-width="0.22">11.5</text>
<line x1="660.68" y1="590.5" x2="660.68" y2="595" stroke="#000" stroke-width="1.3"/>
<text x="661.23" y="604.8" font-size="7.8" text-anchor="middle" font-weight="normal" font-style="normal" fill="#000" letter-spacing="2.3" stroke="#000" stroke-width="0.22">12.0</text>
<line x1="710.2" y1="590.5" x2="710.2" y2="595" stroke="#000" stroke-width="1.3"/>
<text x="710.75" y="604.8" font-size="7.8" text-anchor="middle" font-weight="normal" font-style="normal" fill="#000" letter-spacing="2.3" stroke="#000" stroke-width="0.22">12.5</text>
<line x1="408.9" y1="590.5" x2="413.1" y2="590.5" stroke="#000" stroke-width="1.2"/>
<line x1="408.9" y1="580.14" x2="413.1" y2="580.14" stroke="#000" stroke-width="1.2"/>
<line x1="408.9" y1="569.77" x2="413.1" y2="569.77" stroke="#000" stroke-width="1.2"/>
<line x1="408.9" y1="559.41" x2="413.1" y2="559.41" stroke="#000" stroke-width="1.2"/>
<line x1="408.9" y1="549.04" x2="413.1" y2="549.04" stroke="#000" stroke-width="1.2"/>
<line x1="408.9" y1="538.68" x2="413.1" y2="538.68" stroke="#000" stroke-width="1.2"/>
<line x1="408.9" y1="528.32" x2="413.1" y2="528.32" stroke="#000" stroke-width="1.2"/>
<line x1="408.9" y1="517.95" x2="413.1" y2="517.95" stroke="#000" stroke-width="1.2"/>
<line x1="408.9" y1="507.59" x2="413.1" y2="507.59" stroke="#000" stroke-width="1.2"/>
<line x1="408.9" y1="497.22" x2="413.1" y2="497.22" stroke="#000" stroke-width="1.2"/>
<line x1="408.9" y1="486.86" x2="413.1" y2="486.86" stroke="#000" stroke-width="1.2"/>
<line x1="408.9" y1="476.5" x2="413.1" y2="476.5" stroke="#000" stroke-width="1.2"/>
<line x1="408.9" y1="466.13" x2="413.1" y2="466.13" stroke="#000" stroke-width="1.2"/>
<line x1="408.9" y1="455.77" x2="413.1" y2="455.77" stroke="#000" stroke-width="1.2"/>
<line x1="408.9" y1="445.4" x2="413.1" y2="445.4" stroke="#000" stroke-width="1.2"/>
<line x1="408.9" y1="435.04" x2="413.1" y2="435.04" stroke="#000" stroke-width="1.2"/>
<line x1="408.9" y1="424.68" x2="413.1" y2="424.68" stroke="#000" stroke-width="1.2"/>
<line x1="408.9" y1="414.31" x2="413.1" y2="414.31" stroke="#000" stroke-width="1.2"/>
<line x1="408.9" y1="403.95" x2="413.1" y2="403.95" stroke="#000" stroke-width="1.2"/>
<line x1="408.9" y1="393.58" x2="413.1" y2="393.58" stroke="#000" stroke-width="1.2"/>
<line x1="408.9" y1="383.22" x2="413.1" y2="383.22" stroke="#000" stroke-width="1.2"/>
<line x1="408.9" y1="372.86" x2="413.1" y2="372.86" stroke="#000" stroke-width="1.2"/>
<line x1="408.9" y1="362.49" x2="413.1" y2="362.49" stroke="#000" stroke-width="1.2"/>
<line x1="408.9" y1="352.13" x2="413.1" y2="352.13" stroke="#000" stroke-width="1.2"/>
<line x1="408.9" y1="341.76" x2="413.1" y2="341.76" stroke="#000" stroke-width="1.2"/>
<line x1="408.9" y1="331.4" x2="413.1" y2="331.4" stroke="#000" stroke-width="1.2"/>
<line x1="405.1" y1="331.4" x2="413.1" y2="331.4" stroke="#000" stroke-width="1.5"/>
<text x="400.6" y="333.9" font-size="7.6" text-anchor="end" font-weight="normal" font-style="normal" fill="#000" letter-spacing="2.3" stroke="#000" stroke-width="0.22">61.5</text>
<line x1="405.1" y1="383.22" x2="413.1" y2="383.22" stroke="#000" stroke-width="1.5"/>
<text x="400.6" y="385.72" font-size="7.6" text-anchor="end" font-weight="normal" font-style="normal" fill="#000" letter-spacing="2.3" stroke="#000" stroke-width="0.22">61.0</text>
<line x1="405.1" y1="435.04" x2="413.1" y2="435.04" stroke="#000" stroke-width="1.5"/>
<text x="400.6" y="437.54" font-size="7.6" text-anchor="end" font-weight="normal" font-style="normal" fill="#000" letter-spacing="2.3" stroke="#000" stroke-width="0.22">60.5</text>
<line x1="405.1" y1="486.86" x2="413.1" y2="486.86" stroke="#000" stroke-width="1.5"/>
<text x="400.6" y="489.36" font-size="7.6" text-anchor="end" font-weight="normal" font-style="normal" fill="#000" letter-spacing="2.3" stroke="#000" stroke-width="0.22">60.0</text>
<line x1="405.1" y1="538.68" x2="413.1" y2="538.68" stroke="#000" stroke-width="1.5"/>
<text x="400.6" y="541.18" font-size="7.6" text-anchor="end" font-weight="normal" font-style="normal" fill="#000" letter-spacing="2.3" stroke="#000" stroke-width="0.22">59.5</text>
<line x1="405.1" y1="590.5" x2="413.1" y2="590.5" stroke="#000" stroke-width="1.5"/>
<text x="400.6" y="593" font-size="7.6" text-anchor="end" font-weight="normal" font-style="normal" fill="#000" letter-spacing="2.3" stroke="#000" stroke-width="0.22">59.0</text>
<text transform="translate(365.9,465.6) rotate(-90)" text-anchor="middle" font-size="9.2" letter-spacing="0.35"><tspan font-size="10.4">V</tspan><tspan font-size="4.6" dy="3" dx="-0.7" font-style="italic">F</tspan><tspan dy="-3" dx="0.5" font-style="italic">(MeV)</tspan></text>
<text x="539.2" y="625.2" text-anchor="middle" font-size="8.6" letter-spacing="1.5" stroke="#000" stroke-width="0.15">r(<tspan font-style="italic" dx="0.8">fm</tspan> )</text>
<rect x="596.4" y="408.3" width="91.9" height="14.2" stroke="#666" stroke-width="1" fill="none"/>
<text x="610.19" y="415.2" font-size="5.2" font-weight="bold" font-style="normal" fill="#000" textLength="6.52" lengthAdjust="spacing" stroke="#000" stroke-width="0.18">16</text>
<text x="618.28" y="419.7" font-size="8.6" font-weight="bold" font-style="normal" fill="#000" stroke="#000" stroke-width="0.18">O</text>
<text x="633.48" y="419.7" font-size="8.6" font-weight="bold" font-style="normal" fill="#000" stroke="#000" stroke-width="0.18">+</text>
<text x="644.29" y="415.2" font-size="5.2" font-weight="bold" font-style="normal" fill="#000" textLength="11.72" lengthAdjust="spacing" stroke="#000" stroke-width="0.18">144</text>
<text x="656.98" y="419.7" font-size="8.6" font-weight="bold" font-style="normal" fill="#000" stroke="#000" stroke-width="0.18">S</text>
<text x="666.08" y="419.7" font-size="8.6" font-weight="bold" font-style="normal" fill="#000" stroke="#000" stroke-width="0.18">m</text>
<text x="635.81" y="435" font-size="8.2" font-weight="bold" font-style="normal" fill="#000" textLength="16.02" lengthAdjust="spacing" stroke="#000" stroke-width="0.25">(b)</text>
<text x="582.41" y="351.3" font-size="8.22" font-weight="bold" font-style="normal" fill="#0000ff" textLength="56.42" lengthAdjust="spacing" stroke="#0000ff" stroke-width="0.1">FB=61.40</text>
<text x="645.2" y="351.3" font-size="8.22" font-weight="bold" font-style="italic" fill="#0000ff" textLength="26.52" lengthAdjust="spacing" stroke="#0000ff" stroke-width="0.1">MeV</text>
<text x="586.61" y="387.8" font-size="8.22" font-weight="bold" font-style="normal" fill="#0000ff" textLength="52.52" lengthAdjust="spacing" stroke="#0000ff" stroke-width="0.1">FB=61.0</text>
<text x="639.71" y="387.8" font-size="8.22" font-weight="bold" font-style="italic" fill="#0000ff" stroke="#0000ff" stroke-width="0.1">5</text>
<text x="651.2" y="387.8" font-size="8.22" font-weight="bold" font-style="italic" fill="#0000ff" textLength="25.42" lengthAdjust="spacing" stroke="#0000ff" stroke-width="0.1">MeV</text>
<text x="618.44" y="488.8" font-size="7.69" font-weight="bold" font-style="normal" fill="#0000ff" textLength="49.77" lengthAdjust="spacing" stroke="#0000ff" stroke-width="0.1">FB=59.90</text>
<text x="674.1" y="488.8" font-size="7.69" font-weight="bold" font-style="italic" fill="#0000ff" textLength="22.77" lengthAdjust="spacing" stroke="#0000ff" stroke-width="0.1">MeV</text>
<text x="623.64" y="522.8" font-size="7.69" font-weight="bold" font-style="normal" fill="#0000ff" textLength="49.37" lengthAdjust="spacing" stroke="#0000ff" stroke-width="0.1">FB=59.70</text>
<text x="679.2" y="522.8" font-size="7.69" font-weight="bold" font-style="italic" fill="#0000ff" textLength="22.97" lengthAdjust="spacing" stroke="#0000ff" stroke-width="0.1">MeV</text>
<clipPath id="cc1"><rect x="48" y="650.0" width="291.6" height="264.7999999999999"/></clipPath>
<line x1="48" y1="650.2" x2="339.6" y2="650.2" stroke="#a0a0a0" stroke-width="1.2"/>
<line x1="339.6" y1="650.2" x2="339.6" y2="914.8" stroke="#a0a0a0" stroke-width="1.2"/>
<path d="M54.66,644.38 L54.72,645.18 L54.78,645.98 L54.84,646.77 L54.90,647.57 L54.96,648.37 L55.02,649.17 L55.08,649.96 L55.14,650.76 L55.21,651.56 L55.27,652.35 L55.33,653.15 L55.39,653.95 L55.45,654.74 L55.51,655.54 L55.58,656.34 L55.64,657.14 L55.70,657.93 L55.76,658.73 L55.82,659.53 L55.89,660.32 L55.95,661.12 L56.01,661.92 L56.07,662.71 L56.14,663.51 L56.20,664.31 L56.26,665.11 L56.33,665.90 L56.39,666.70 L56.45,667.50 L56.52,668.29 L56.58,669.09 L56.64,669.89 L56.71,670.68 L56.77,671.48 L56.84,672.28 L56.90,673.07 L56.97,673.87 L57.03,674.67 L57.10,675.46 L57.16,676.26 L57.23,677.06 L57.29,677.85 L57.36,678.65 L57.42,679.45 L57.49,680.24 L57.55,681.04 L57.62,681.84 L57.68,682.63 L57.75,683.43 L57.82,684.23 L57.88,685.02 L57.95,685.82 L58.02,686.62 L58.08,687.41 L58.15,688.21 L58.22,689.01 L58.28,689.80 L58.35,690.60 L58.42,691.40 L58.49,692.19 L58.55,692.99 L58.62,693.79 L58.69,694.58 L58.76,695.38 L58.83,696.18 L58.90,696.97 L58.96,697.77 L59.03,698.56 L59.10,699.36 L59.17,700.16 L59.24,700.95 L59.31,701.75 L59.38,702.55 L59.45,703.34 L59.52,704.14 L59.59,704.94 L59.66,705.73 L59.73,706.53 L59.80,707.32 L59.87,708.12 L59.94,708.92 L60.01,709.71 L60.09,710.51 L60.16,711.31 L60.23,712.10 L60.30,712.90 L60.37,713.69 L60.44,714.49 L60.52,715.29 L60.59,716.08 L60.66,716.88 L60.73,717.67 L60.81,718.47 L60.88,719.27 L60.95,720.06 L61.03,720.86 L61.10,721.65 L61.18,722.45 L61.25,723.25 L61.32,724.04 L61.40,724.84 L61.47,725.63 L61.55,726.43 L61.62,727.23 L61.70,728.02 L61.77,728.82 L61.85,729.61 L61.93,730.41 L62.00,731.20 L62.08,732.00 L62.15,732.80 L62.23,733.59 L62.31,734.39 L62.38,735.18 L62.46,735.98 L62.54,736.77 L62.62,737.57 L62.69,738.37 L62.77,739.16 L62.85,739.96 L62.93,740.75 L63.01,741.55 L63.09,742.34 L63.17,743.14 L63.25,743.93 L63.33,744.73 L63.41,745.53 L63.49,746.32 L63.57,747.12 L63.65,747.91 L63.73,748.71 L63.81,749.50 L63.89,750.30 L63.97,751.09 L64.05,751.89 L64.14,752.68 L64.22,753.48 L64.30,754.27 L64.38,755.07 L64.47,755.86 L64.55,756.66 L64.63,757.45 L64.72,758.25 L64.80,759.04 L64.89,759.84 L64.97,760.63 L65.06,761.43 L65.14,762.22 L65.23,763.02 L65.31,763.81 L65.40,764.61 L65.49,765.40 L65.57,766.20 L65.66,766.99 L65.75,767.79 L65.83,768.58 L65.92,769.37 L66.01,770.17 L66.10,770.96 L66.19,771.76 L66.28,772.55 L66.37,773.35 L66.46,774.14 L66.55,774.94 L66.64,775.73 L66.73,776.52 L66.82,777.32 L66.91,778.11 L67.00,778.91 L67.09,779.70 L67.19,780.49 L67.28,781.29 L67.37,782.08 L67.47,782.88 L67.56,783.67 L67.66,784.46 L67.75,785.26 L67.85,786.05 L67.94,786.84 L68.04,787.64 L68.13,788.43 L68.23,789.23 L68.33,790.02 L68.42,790.81 L68.52,791.61 L68.62,792.40 L68.72,793.19 L68.82,793.99 L68.92,794.78 L69.02,795.57 L69.12,796.36 L69.22,797.16 L69.32,797.95 L69.42,798.74 L69.53,799.54 L69.63,800.33 L69.73,801.12 L69.84,801.91 L69.94,802.71 L70.05,803.50 L70.15,804.29 L70.26,805.08 L70.37,805.88 L70.47,806.67 L70.58,807.46 L70.69,808.25 L70.80,809.04 L70.91,809.84 L71.02,810.63 L71.13,811.42 L71.24,812.21 L71.35,813.00 L71.46,813.79 L71.58,814.59 L71.69,815.38 L71.81,816.17 L71.92,816.96 L72.04,817.75 L72.15,818.54 L72.27,819.33 L72.39,820.12 L72.51,820.91 L72.63,821.70 L72.75,822.49 L72.87,823.28 L72.99,824.07 L73.12,824.86 L73.24,825.65 L73.36,826.44 L73.49,827.23 L73.62,828.02 L73.74,828.81 L73.87,829.60 L74.00,830.39 L74.13,831.18 L74.26,831.97 L74.40,832.75 L74.53,833.54 L74.66,834.33 L74.80,835.12 L74.94,835.90 L75.07,836.69 L75.21,837.48 L75.35,838.27 L75.50,839.05 L75.64,839.84 L75.78,840.63 L75.93,841.41 L76.08,842.20 L76.23,842.98 L76.38,843.77 L76.53,844.55 L76.68,845.34 L76.84,846.12 L77.00,846.90 L77.16,847.69 L77.32,848.47 L77.48,849.25 L77.64,850.04 L77.81,850.82 L77.98,851.60 L78.15,852.38 L78.33,853.16 L78.50,853.94 L78.68,854.72 L78.86,855.50 L79.05,856.28 L79.24,857.05 L79.43,857.83 L79.62,858.60 L79.82,859.38 L80.02,860.15 L80.22,860.92 L80.43,861.70 L80.65,862.47 L80.86,863.24 L81.09,864.00 L81.32,864.77 L81.55,865.53 L81.79,866.30 L82.04,867.06 L82.29,867.81 L82.55,868.57 L82.82,869.32 L83.10,870.07 L83.39,870.82 L83.70,871.56 L84.01,872.29 L84.34,873.02 L84.69,873.74 L85.06,874.45 L85.45,875.15 L85.87,875.83 L86.32,876.49 L86.81,877.12 L87.35,877.70 L87.96,878.22 L88.64,878.63 L89.40,878.88 L90.19,878.91 L90.97,878.71 L91.67,878.33 L92.29,877.83 L92.86,877.27 L93.37,876.65 L93.83,876.00 L94.27,875.33 L94.68,874.64 L95.06,873.94 L95.42,873.23 L95.77,872.51 L96.10,871.78 L96.41,871.05 L96.72,870.31 L97.01,869.56 L97.30,868.82 L97.58,868.07 L97.84,867.32 L98.11,866.56 L98.36,865.80 L98.61,865.04 L98.86,864.28 L99.09,863.52 L99.33,862.75 L99.56,861.99 L99.78,861.22 L100.00,860.45 L100.22,859.68 L100.44,858.91 L100.65,858.14 L100.85,857.37 L101.06,856.60 L101.26,855.83 L101.46,855.05 L101.66,854.28 L101.85,853.50 L102.04,852.72 L102.23,851.95 L102.42,851.17 L102.61,850.39 L102.79,849.62 L102.97,848.84 L103.15,848.06 L103.33,847.28 L103.51,846.50 L103.68,845.72 L103.86,844.94 L104.03,844.16 L104.20,843.38 L104.37,842.60 L104.54,841.82 L104.70,841.03 L104.87,840.25 L105.03,839.47 L105.20,838.69 L105.36,837.90 L105.52,837.12 L105.68,836.34 L105.84,835.55 L106.00,834.77 L106.16,833.99 L106.31,833.20 L106.47,832.42 L106.62,831.64 L106.78,830.85 L106.93,830.07 L107.08,829.28 L107.24,828.50 L107.39,827.71 L107.54,826.93 L107.69,826.14 L107.84,825.36 L107.99,824.57 L108.13,823.79 L108.28,823.00 L108.43,822.21 L108.58,821.43 L108.72,820.64 L108.87,819.86 L109.01,819.07 L109.16,818.28 L109.30,817.50 L109.44,816.71 L109.59,815.92 L109.73,815.14 L109.87,814.35 L110.01,813.56 L110.16,812.78 L110.30,811.99 L110.44,811.20 L110.58,810.42 L110.72,809.63 L110.86,808.84 L111.00,808.06 L111.14,807.27 L111.28,806.48 L111.42,805.69 L111.56,804.91 L111.69,804.12 L111.83,803.33 L111.97,802.55 L112.11,801.76 L112.25,800.97 L112.38,800.18 L112.52,799.40 L112.66,798.61 L112.80,797.82 L112.93,797.03 L113.07,796.25 L113.21,795.46 L113.34,794.67 L113.48,793.88 L113.62,793.09 L113.75,792.31 L113.89,791.52 L114.02,790.73 L114.16,789.94 L114.30,789.16 L114.43,788.37 L114.57,787.58 L114.70,786.79 L114.84,786.01 L114.98,785.22 L115.11,784.43 L115.25,783.64 L115.39,782.85 L115.52,782.07 L115.66,781.28 L115.79,780.49 L115.93,779.70 L116.07,778.92 L116.20,778.13 L116.34,777.34 L116.48,776.55 L116.61,775.77 L116.75,774.98 L116.89,774.19 L117.02,773.40 L117.16,772.62 L117.30,771.83 L117.44,771.04 L117.57,770.25 L117.71,769.47 L117.85,768.68 L117.99,767.89 L118.13,767.10 L118.27,766.32 L118.41,765.53 L118.54,764.74 L118.68,763.96 L118.82,763.17 L118.96,762.38 L119.10,761.59 L119.24,760.81 L119.39,760.02 L119.53,759.23 L119.67,758.45 L119.81,757.66 L119.95,756.87 L120.09,756.09 L120.24,755.30 L120.38,754.51 L120.52,753.73 L120.67,752.94 L120.81,752.15 L120.96,751.37 L121.10,750.58 L121.25,749.80 L121.39,749.01 L121.54,748.22 L121.69,747.44 L121.84,746.65 L121.98,745.87 L122.13,745.08 L122.28,744.30 L122.43,743.51 L122.58,742.73 L122.73,741.94 L122.88,741.16 L123.04,740.37 L123.19,739.59 L123.34,738.80 L123.49,738.02 L123.65,737.23 L123.80,736.45 L123.96,735.67 L124.12,734.88 L124.27,734.10 L124.43,733.31 L124.59,732.53 L124.75,731.75 L124.91,730.96 L125.07,730.18 L125.24,729.40 L125.40,728.62 L125.56,727.83 L125.73,727.05 L125.89,726.27 L126.06,725.49 L126.23,724.71 L126.40,723.93 L126.57,723.14 L126.74,722.36 L126.91,721.58 L127.09,720.80 L127.26,720.02 L127.44,719.24 L127.61,718.46 L127.79,717.68 L127.97,716.91 L128.15,716.13 L128.34,715.35 L128.52,714.57 L128.71,713.79 L128.89,713.02 L129.08,712.24 L129.27,711.46 L129.46,710.69 L129.66,709.91 L129.85,709.14 L130.05,708.36 L130.25,707.59 L130.45,706.81 L130.66,706.04 L130.86,705.27 L131.07,704.50 L131.28,703.72 L131.49,702.95 L131.71,702.18 L131.92,701.42 L132.14,700.65 L132.37,699.88 L132.59,699.11 L132.82,698.35 L133.05,697.58 L133.29,696.82 L133.53,696.05 L133.77,695.29 L134.01,694.53 L134.26,693.77 L134.51,693.01 L134.77,692.26 L135.03,691.50 L135.30,690.75 L135.57,690.00 L135.85,689.25 L136.13,688.50 L136.42,687.75 L136.71,687.01 L137.01,686.27 L137.31,685.53 L137.63,684.79 L137.95,684.06 L138.28,683.33 L138.61,682.61 L138.96,681.89 L139.32,681.17 L139.69,680.46 L140.06,679.76 L140.45,679.06 L140.86,678.37 L141.28,677.69 L141.71,677.02 L142.17,676.36 L142.64,675.71 L143.13,675.08 L143.64,674.47 L144.18,673.88 L144.75,673.32 L145.35,672.79 L145.97,672.29 L146.64,671.84 L147.33,671.45 L148.06,671.12 L148.81,670.86 L149.59,670.69 L150.39,670.60 L151.19,670.60 L151.98,670.69 L152.76,670.86 L153.53,671.10 L154.27,671.40 L154.98,671.75 L155.68,672.14 L156.35,672.58 L157.00,673.04 L157.63,673.53 L158.25,674.04 L158.84,674.58 L159.42,675.13 L159.99,675.69 L160.54,676.27 L161.08,676.86 L161.60,677.46 L162.12,678.07 L162.63,678.69 L163.13,679.31 L163.62,679.94 L164.10,680.58 L164.58,681.22 L165.05,681.87 L165.51,682.52 L165.97,683.18 L166.42,683.84 L166.86,684.50 L167.30,685.17 L167.74,685.84 L168.17,686.51 L168.60,687.19 L169.02,687.86 L169.44,688.55 L169.86,689.23 L170.27,689.91 L170.68,690.60 L171.09,691.29 L171.49,691.98 L171.90,692.67 L172.30,693.36 L172.69,694.05 L173.09,694.75 L173.48,695.45 L173.87,696.14 L174.26,696.84 L174.64,697.54 L175.03,698.24 L175.41,698.95 L175.79,699.65 L176.17,700.35 L176.55,701.06 L176.92,701.76 L177.30,702.47 L177.67,703.17 L178.04,703.88 L178.41,704.59 L178.78,705.30 L179.15,706.01 L179.52,706.72 L179.89,707.43 L180.25,708.14 L180.62,708.85 L180.98,709.56 L181.35,710.27 L181.71,710.98 L182.07,711.70 L182.43,712.41 L182.79,713.12 L183.16,713.84 L183.51,714.55 L183.87,715.27 L184.23,715.98 L184.59,716.69 L184.95,717.41 L185.31,718.12 L185.66,718.84 L186.02,719.56 L186.37,720.27 L186.73,720.99 L187.09,721.70 L187.44,722.42 L187.80,723.14 L188.15,723.85 L188.51,724.57 L188.86,725.28 L189.21,726.00 L189.57,726.72 L189.92,727.43 L190.28,728.15 L190.63,728.87 L190.98,729.59 L191.34,730.30 L191.69,731.02 L192.05,731.74 L192.40,732.45 L192.75,733.17 L193.11,733.89 L193.46,734.60 L193.81,735.32 L194.17,736.04 L194.52,736.75 L194.88,737.47 L195.23,738.19 L195.59,738.90 L195.94,739.62 L196.29,740.34 L196.65,741.05 L197.00,741.77 L197.36,742.48 L197.72,743.20 L198.07,743.92 L198.43,744.63 L198.78,745.35 L199.14,746.06 L199.50,746.78 L199.85,747.49 L200.21,748.21 L200.57,748.92 L200.93,749.64 L201.29,750.35 L201.64,751.07 L202.00,751.78 L202.36,752.50 L202.72,753.21 L203.08,753.92 L203.44,754.64 L203.80,755.35 L204.17,756.06 L204.53,756.78 L204.89,757.49 L205.25,758.20 L205.61,758.91 L205.98,759.63 L206.34,760.34 L206.71,761.05 L207.07,761.76 L207.44,762.47 L207.80,763.18 L208.17,763.89 L208.53,764.60 L208.90,765.31 L209.27,766.02 L209.64,766.73 L210.01,767.44 L210.37,768.15 L210.74,768.86 L211.11,769.57 L211.49,770.28 L211.86,770.98 L212.23,771.69 L212.60,772.40 L212.97,773.11 L213.35,773.81 L213.72,774.52 L214.10,775.23 L214.47,775.93 L214.85,776.64 L215.22,777.34 L215.60,778.05 L215.98,778.75 L216.36,779.46 L216.74,780.16 L217.12,780.86 L217.50,781.57 L217.88,782.27 L218.26,782.97 L218.64,783.67 L219.02,784.37 L219.41,785.08 L219.79,785.78 L220.18,786.48 L220.56,787.18 L220.95,787.88 L221.34,788.58 L221.72,789.28 L222.11,789.98 L222.50,790.67 L222.89,791.37 L223.28,792.07 L223.67,792.77 L224.06,793.46 L224.46,794.16 L224.85,794.86 L225.24,795.55 L225.64,796.25 L226.03,796.94 L226.43,797.64 L226.83,798.33 L227.22,799.02 L227.62,799.72 L228.02,800.41 L228.42,801.10 L228.82,801.79 L229.22,802.48 L229.63,803.17 L230.03,803.86 L230.43,804.55 L230.84,805.24 L231.24,805.93 L231.65,806.62 L232.05,807.31 L232.46,808.00 L232.87,808.68 L233.28,809.37 L233.69,810.06 L234.10,810.74 L234.51,811.43 L234.93,812.11 L235.34,812.80 L235.75,813.48 L236.17,814.16 L236.58,814.85 L237.00,815.53 L237.42,816.21 L237.84,816.89 L238.25,817.57 L238.67,818.25 L239.09,818.93 L239.52,819.61 L239.94,820.29 L240.36,820.97 L240.79,821.65 L241.21,822.32 L241.64,823.00 L242.06,823.68 L242.49,824.35 L242.92,825.03 L243.35,825.70 L243.78,826.38 L244.21,827.05 L244.64,827.72 L245.07,828.39 L245.51,829.07 L245.94,829.74 L246.38,830.41 L246.81,831.08 L247.25,831.75 L247.69,832.42 L248.13,833.08 L248.57,833.75 L249.01,834.42 L249.45,835.08 L249.89,835.75 L250.33,836.42 L250.78,837.08 L251.22,837.74 L251.67,838.41 L252.12,839.07 L252.56,839.73 L253.01,840.39 L253.46,841.06 L253.91,841.72 L254.36,842.38 L254.82,843.03 L255.27,843.69 L255.72,844.35 L256.18,845.01 L256.63,845.66 L257.09,846.32 L257.55,846.98 L258.01,847.63 L258.47,848.29 L258.93,848.94 L259.39,849.59 L259.85,850.24 L260.31,850.89 L260.78,851.55 L261.24,852.20 L261.71,852.85 L262.18,853.49 L262.65,854.14 L263.11,854.79 L263.58,855.44 L264.05,856.08 L264.53,856.73 L265.00,857.37 L265.47,858.02 L265.95,858.66 L266.42,859.30 L266.90,859.94 L267.38,860.59 L267.85,861.23 L268.33,861.87 L268.81,862.51 L269.29,863.14 L269.78,863.78 L270.26,864.42 L270.74,865.05 L271.23,865.69 L271.71,866.33 L272.20,866.96 L272.69,867.59 L273.18,868.23 L273.67,868.86 L274.16,869.49 L274.65,870.12 L275.14,870.75 L275.63,871.38 L276.13,872.01 L276.62,872.63 L277.12,873.26 L277.62,873.89 L278.12,874.51 L278.61,875.14 L279.11,875.76 L279.62,876.38 L280.12,877.00 L280.62,877.63 L281.12,878.25 L281.63,878.87 L282.13,879.49 L282.64,880.10 L283.15,880.72 L283.66,881.34 L284.17,881.95 L284.68,882.57 L285.19,883.18 L285.70,883.80 L286.21,884.41 L286.73,885.02 L287.24,885.63 L287.76,886.24 L288.28,886.85 L288.79,887.46 L289.31,888.07 L289.83,888.68 L290.35,889.28 L290.88,889.89 L291.40,890.49 L291.92,891.10 L292.45,891.70 L292.97,892.30 L293.50,892.91 L294.03,893.51 L294.56,894.11 L295.08,894.71 L295.61,895.30 L296.15,895.90 L296.68,896.50 L297.21,897.09 L297.75,897.69 L298.28,898.28 L298.82,898.87 L299.35,899.47 L299.89,900.06 L300.43,900.65 L300.97,901.24 L301.51,901.83 L302.05,902.42 L302.59,903.00 L303.14,903.59 L303.68,904.17 L304.23,904.76 L304.77,905.34 L305.32,905.93 L305.87,906.51 L306.42,907.09 L306.97,907.67 L307.52,908.25 L308.07,908.83 L308.62,909.40 L309.18,909.98 L309.73,910.56 L310.29,911.13 L310.84,911.71 L311.40,912.28 L311.96,912.85 L312.52,913.42 L313.08,913.99 L313.64,914.56 L314.20,915.13 L314.76,915.70 L315.32,916.27 L315.89,916.83 L316.45,917.40 L317.02,917.96 L317.59,918.53 L318.16,919.09 L318.72,919.65 L319.29,920.21 L319.87,920.77" fill="none" stroke="#000" stroke-width="2.0" stroke-linejoin="round" stroke-dasharray="2 6.5" stroke-dashoffset="0" clip-path="url(#cc1)"/>
<path d="M54.42,644.33 L54.48,645.12 L54.54,645.92 L54.60,646.72 L54.66,647.52 L54.72,648.31 L54.78,649.11 L54.84,649.91 L54.90,650.71 L54.96,651.50 L55.02,652.30 L55.08,653.10 L55.14,653.90 L55.20,654.69 L55.26,655.49 L55.32,656.29 L55.38,657.09 L55.45,657.88 L55.51,658.68 L55.57,659.48 L55.63,660.28 L55.69,661.07 L55.75,661.87 L55.82,662.67 L55.88,663.46 L55.94,664.26 L56.00,665.06 L56.07,665.86 L56.13,666.65 L56.19,667.45 L56.25,668.25 L56.32,669.05 L56.38,669.84 L56.44,670.64 L56.51,671.44 L56.57,672.23 L56.63,673.03 L56.70,673.83 L56.76,674.63 L56.83,675.42 L56.89,676.22 L56.95,677.02 L57.02,677.81 L57.08,678.61 L57.15,679.41 L57.21,680.21 L57.28,681.00 L57.34,681.80 L57.41,682.60 L57.47,683.39 L57.54,684.19 L57.60,684.99 L57.67,685.78 L57.74,686.58 L57.80,687.38 L57.87,688.18 L57.93,688.97 L58.00,689.77 L58.07,690.57 L58.13,691.36 L58.20,692.16 L58.27,692.96 L58.34,693.75 L58.40,694.55 L58.47,695.35 L58.54,696.14 L58.61,696.94 L58.67,697.74 L58.74,698.53 L58.81,699.33 L58.88,700.13 L58.95,700.93 L59.01,701.72 L59.08,702.52 L59.15,703.32 L59.22,704.11 L59.29,704.91 L59.36,705.71 L59.43,706.50 L59.50,707.30 L59.57,708.10 L59.64,708.89 L59.71,709.69 L59.78,710.49 L59.85,711.28 L59.92,712.08 L59.99,712.88 L60.06,713.67 L60.13,714.47 L60.20,715.27 L60.28,716.06 L60.35,716.86 L60.42,717.65 L60.49,718.45 L60.56,719.25 L60.64,720.04 L60.71,720.84 L60.78,721.64 L60.85,722.43 L60.93,723.23 L61.00,724.03 L61.07,724.82 L61.15,725.62 L61.22,726.41 L61.29,727.21 L61.37,728.01 L61.44,728.80 L61.52,729.60 L61.59,730.40 L61.67,731.19 L61.74,731.99 L61.82,732.78 L61.89,733.58 L61.97,734.38 L62.04,735.17 L62.12,735.97 L62.20,736.77 L62.27,737.56 L62.35,738.36 L62.43,739.15 L62.50,739.95 L62.58,740.75 L62.66,741.54 L62.74,742.34 L62.81,743.13 L62.89,743.93 L62.97,744.72 L63.05,745.52 L63.13,746.32 L63.21,747.11 L63.29,747.91 L63.37,748.70 L63.45,749.50 L63.53,750.30 L63.61,751.09 L63.69,751.89 L63.77,752.68 L63.85,753.48 L63.93,754.27 L64.01,755.07 L64.09,755.86 L64.17,756.66 L64.26,757.46 L64.34,758.25 L64.42,759.05 L64.50,759.84 L64.59,760.64 L64.67,761.43 L64.75,762.23 L64.84,763.02 L64.92,763.82 L65.01,764.61 L65.09,765.41 L65.18,766.20 L65.26,767.00 L65.35,767.79 L65.43,768.59 L65.52,769.38 L65.61,770.18 L65.69,770.97 L65.78,771.77 L65.87,772.56 L65.95,773.36 L66.04,774.15 L66.13,774.95 L66.22,775.74 L66.31,776.54 L66.40,777.33 L66.49,778.13 L66.58,778.92 L66.67,779.72 L66.76,780.51 L66.85,781.31 L66.94,782.10 L67.03,782.89 L67.12,783.69 L67.22,784.48 L67.31,785.28 L67.40,786.07 L67.49,786.87 L67.59,787.66 L67.68,788.45 L67.78,789.25 L67.87,790.04 L67.97,790.84 L68.06,791.63 L68.16,792.43 L68.25,793.22 L68.35,794.01 L68.45,794.81 L68.55,795.60 L68.64,796.39 L68.74,797.19 L68.84,797.98 L68.94,798.77 L69.04,799.57 L69.14,800.36 L69.24,801.15 L69.34,801.95 L69.45,802.74 L69.55,803.53 L69.65,804.33 L69.75,805.12 L69.86,805.91 L69.96,806.71 L70.07,807.50 L70.17,808.29 L70.28,809.08 L70.38,809.88 L70.49,810.67 L70.60,811.46 L70.70,812.25 L70.81,813.05 L70.92,813.84 L71.03,814.63 L71.14,815.42 L71.25,816.22 L71.37,817.01 L71.48,817.80 L71.59,818.59 L71.70,819.38 L71.82,820.17 L71.93,820.97 L72.05,821.76 L72.16,822.55 L72.28,823.34 L72.40,824.13 L72.52,824.92 L72.64,825.71 L72.76,826.50 L72.88,827.29 L73.00,828.08 L73.12,828.87 L73.25,829.66 L73.37,830.45 L73.49,831.24 L73.62,832.03 L73.75,832.82 L73.88,833.61 L74.00,834.40 L74.13,835.19 L74.27,835.98 L74.40,836.77 L74.53,837.56 L74.66,838.35 L74.80,839.13 L74.94,839.92 L75.07,840.71 L75.21,841.50 L75.35,842.28 L75.49,843.07 L75.64,843.86 L75.78,844.64 L75.93,845.43 L76.07,846.22 L76.22,847.00 L76.37,847.79 L76.52,848.57 L76.68,849.36 L76.83,850.14 L76.99,850.93 L77.15,851.71 L77.31,852.49 L77.47,853.28 L77.64,854.06 L77.80,854.84 L77.97,855.62 L78.14,856.41 L78.32,857.19 L78.49,857.97 L78.67,858.75 L78.85,859.52 L79.04,860.30 L79.22,861.08 L79.41,861.86 L79.61,862.63 L79.81,863.41 L80.01,864.18 L80.21,864.95 L80.42,865.73 L80.63,866.50 L80.85,867.27 L81.08,868.03 L81.30,868.80 L81.54,869.57 L81.78,870.33 L82.03,871.09 L82.28,871.85 L82.55,872.60 L82.82,873.35 L83.10,874.10 L83.39,874.85 L83.70,875.59 L84.02,876.32 L84.35,877.05 L84.70,877.76 L85.08,878.47 L85.47,879.16 L85.90,879.84 L86.37,880.49 L86.88,881.10 L87.45,881.67 L88.08,882.15 L88.80,882.50 L89.58,882.65 L90.37,882.56 L91.11,882.26 L91.77,881.81 L92.36,881.26 L92.89,880.67 L93.37,880.03 L93.82,879.36 L94.23,878.68 L94.62,877.98 L94.99,877.27 L95.34,876.55 L95.67,875.82 L95.99,875.09 L96.29,874.35 L96.59,873.61 L96.87,872.86 L97.15,872.11 L97.42,871.36 L97.68,870.60 L97.94,869.84 L98.18,869.08 L98.43,868.32 L98.66,867.56 L98.90,866.79 L99.13,866.03 L99.35,865.26 L99.57,864.49 L99.78,863.72 L100.00,862.95 L100.20,862.18 L100.41,861.40 L100.61,860.63 L100.81,859.86 L101.01,859.08 L101.20,858.30 L101.40,857.53 L101.59,856.75 L101.77,855.97 L101.96,855.20 L102.14,854.42 L102.32,853.64 L102.50,852.86 L102.68,852.08 L102.86,851.30 L103.03,850.52 L103.20,849.74 L103.37,848.96 L103.54,848.18 L103.71,847.39 L103.88,846.61 L104.04,845.83 L104.21,845.05 L104.37,844.26 L104.53,843.48 L104.70,842.70 L104.85,841.91 L105.01,841.13 L105.17,840.35 L105.33,839.56 L105.48,838.78 L105.64,837.99 L105.79,837.21 L105.95,836.42 L106.10,835.64 L106.25,834.85 L106.40,834.07 L106.55,833.28 L106.70,832.50 L106.85,831.71 L107.00,830.92 L107.14,830.14 L107.29,829.35 L107.43,828.57 L107.58,827.78 L107.72,826.99 L107.87,826.21 L108.01,825.42 L108.16,824.63 L108.30,823.85 L108.44,823.06 L108.58,822.27 L108.72,821.48 L108.86,820.70 L109.00,819.91 L109.14,819.12 L109.28,818.34 L109.42,817.55 L109.56,816.76 L109.70,815.97 L109.84,815.18 L109.97,814.40 L110.11,813.61 L110.25,812.82 L110.38,812.03 L110.52,811.25 L110.66,810.46 L110.79,809.67 L110.93,808.88 L111.06,808.09 L111.20,807.30 L111.33,806.52 L111.47,805.73 L111.60,804.94 L111.74,804.15 L111.87,803.36 L112.00,802.57 L112.14,801.79 L112.27,801.00 L112.41,800.21 L112.54,799.42 L112.67,798.63 L112.80,797.84 L112.94,797.05 L113.07,796.27 L113.20,795.48 L113.34,794.69 L113.47,793.90 L113.60,793.11 L113.73,792.32 L113.87,791.53 L114.00,790.75 L114.13,789.96 L114.26,789.17 L114.40,788.38 L114.53,787.59 L114.66,786.80 L114.79,786.01 L114.92,785.22 L115.06,784.44 L115.19,783.65 L115.32,782.86 L115.45,782.07 L115.59,781.28 L115.72,780.49 L115.85,779.70 L115.99,778.92 L116.12,778.13 L116.25,777.34 L116.38,776.55 L116.52,775.76 L116.65,774.97 L116.78,774.18 L116.92,773.40 L117.05,772.61 L117.19,771.82 L117.32,771.03 L117.45,770.24 L117.59,769.45 L117.72,768.67 L117.86,767.88 L117.99,767.09 L118.13,766.30 L118.26,765.51 L118.40,764.72 L118.54,763.94 L118.67,763.15 L118.81,762.36 L118.94,761.57 L119.08,760.78 L119.22,760.00 L119.36,759.21 L119.49,758.42 L119.63,757.63 L119.77,756.85 L119.91,756.06 L120.05,755.27 L120.19,754.48 L120.33,753.70 L120.47,752.91 L120.61,752.12 L120.75,751.33 L120.89,750.55 L121.04,749.76 L121.18,748.97 L121.32,748.19 L121.46,747.40 L121.61,746.61 L121.75,745.83 L121.90,745.04 L122.04,744.25 L122.19,743.47 L122.34,742.68 L122.48,741.90 L122.63,741.11 L122.78,740.32 L122.93,739.54 L123.08,738.75 L123.23,737.97 L123.38,737.18 L123.53,736.40 L123.68,735.61 L123.83,734.83 L123.99,734.04 L124.14,733.26 L124.30,732.47 L124.45,731.69 L124.61,730.90 L124.77,730.12 L124.93,729.34 L125.08,728.55 L125.24,727.77 L125.41,726.98 L125.57,726.20 L125.73,725.42 L125.89,724.64 L126.06,723.85 L126.22,723.07 L126.39,722.29 L126.56,721.51 L126.73,720.73 L126.90,719.94 L127.07,719.16 L127.24,718.38 L127.42,717.60 L127.59,716.82 L127.77,716.04 L127.94,715.26 L128.12,714.48 L128.30,713.70 L128.49,712.92 L128.67,712.15 L128.86,711.37 L129.04,710.59 L129.23,709.81 L129.42,709.04 L129.61,708.26 L129.81,707.48 L130.00,706.71 L130.20,705.93 L130.40,705.16 L130.60,704.39 L130.80,703.61 L131.01,702.84 L131.22,702.07 L131.43,701.30 L131.64,700.53 L131.86,699.76 L132.08,698.99 L132.30,698.22 L132.52,697.45 L132.75,696.68 L132.98,695.92 L133.21,695.15 L133.45,694.39 L133.69,693.63 L133.93,692.86 L134.18,692.10 L134.43,691.34 L134.69,690.59 L134.95,689.83 L135.22,689.08 L135.49,688.32 L135.76,687.57 L136.04,686.82 L136.33,686.08 L136.62,685.33 L136.92,684.59 L137.23,683.85 L137.54,683.12 L137.86,682.39 L138.19,681.66 L138.53,680.93 L138.88,680.21 L139.24,679.50 L139.60,678.79 L139.99,678.08 L140.38,677.39 L140.79,676.70 L141.21,676.02 L141.65,675.35 L142.11,674.70 L142.58,674.06 L143.08,673.43 L143.61,672.83 L144.16,672.24 L144.73,671.69 L145.34,671.17 L145.98,670.70 L146.66,670.27 L147.37,669.90 L148.11,669.60 L148.88,669.39 L149.67,669.26 L150.47,669.22 L151.27,669.26 L152.05,669.40 L152.83,669.61 L153.58,669.88 L154.30,670.21 L155.01,670.59 L155.69,671.01 L156.35,671.46 L156.98,671.95 L157.60,672.45 L158.20,672.98 L158.79,673.53 L159.36,674.09 L159.91,674.66 L160.45,675.25 L160.99,675.85 L161.51,676.46 L162.02,677.07 L162.52,677.70 L163.01,678.33 L163.49,678.96 L163.97,679.61 L164.44,680.25 L164.90,680.91 L165.36,681.56 L165.81,682.22 L166.26,682.89 L166.70,683.55 L167.13,684.22 L167.57,684.90 L167.99,685.57 L168.42,686.25 L168.84,686.93 L169.25,687.61 L169.66,688.30 L170.07,688.99 L170.48,689.67 L170.88,690.37 L171.29,691.06 L171.68,691.75 L172.08,692.45 L172.47,693.14 L172.86,693.84 L173.25,694.54 L173.64,695.24 L174.03,695.94 L174.41,696.64 L174.79,697.34 L175.17,698.05 L175.55,698.75 L175.93,699.46 L176.30,700.16 L176.67,700.87 L177.05,701.58 L177.42,702.29 L177.79,702.99 L178.16,703.70 L178.53,704.41 L178.89,705.12 L179.26,705.84 L179.62,706.55 L179.99,707.26 L180.35,707.97 L180.71,708.68 L181.07,709.40 L181.44,710.11 L181.80,710.83 L182.16,711.54 L182.51,712.25 L182.87,712.97 L183.23,713.68 L183.59,714.40 L183.94,715.12 L184.30,715.83 L184.66,716.55 L185.01,717.26 L185.37,717.98 L185.72,718.70 L186.08,719.41 L186.43,720.13 L186.79,720.85 L187.14,721.57 L187.49,722.28 L187.85,723.00 L188.20,723.72 L188.55,724.44 L188.91,725.15 L189.26,725.87 L189.61,726.59 L189.96,727.31 L190.32,728.02 L190.67,728.74 L191.02,729.46 L191.37,730.18 L191.72,730.90 L192.08,731.61 L192.43,732.33 L192.78,733.05 L193.13,733.77 L193.49,734.48 L193.84,735.20 L194.19,735.92 L194.55,736.64 L194.90,737.36 L195.25,738.07 L195.61,738.79 L195.96,739.51 L196.31,740.22 L196.67,740.94 L197.02,741.66 L197.38,742.38 L197.73,743.09 L198.09,743.81 L198.44,744.53 L198.80,745.24 L199.15,745.96 L199.51,746.67 L199.86,747.39 L200.22,748.11 L200.58,748.82 L200.93,749.54 L201.29,750.25 L201.65,750.97 L202.01,751.68 L202.37,752.40 L202.73,753.11 L203.09,753.83 L203.45,754.54 L203.81,755.25 L204.17,755.97 L204.53,756.68 L204.89,757.40 L205.25,758.11 L205.61,758.82 L205.98,759.53 L206.34,760.25 L206.70,760.96 L207.07,761.67 L207.43,762.38 L207.80,763.09 L208.16,763.81 L208.53,764.52 L208.89,765.23 L209.26,765.94 L209.63,766.65 L210.00,767.36 L210.37,768.07 L210.74,768.78 L211.11,769.49 L211.48,770.19 L211.85,770.90 L212.22,771.61 L212.59,772.32 L212.96,773.03 L213.34,773.73 L213.71,774.44 L214.08,775.15 L214.46,775.85 L214.84,776.56 L215.21,777.27 L215.59,777.97 L215.97,778.68 L216.34,779.38 L216.72,780.08 L217.10,780.79 L217.48,781.49 L217.86,782.20 L218.24,782.90 L218.63,783.60 L219.01,784.30 L219.39,785.01 L219.78,785.71 L220.16,786.41 L220.55,787.11 L220.93,787.81 L221.32,788.51 L221.71,789.21 L222.09,789.91 L222.48,790.61 L222.87,791.31 L223.26,792.00 L223.65,792.70 L224.04,793.40 L224.44,794.10 L224.83,794.79 L225.22,795.49 L225.62,796.18 L226.01,796.88 L226.41,797.57 L226.81,798.27 L227.20,798.96 L227.60,799.66 L228.00,800.35 L228.40,801.04 L228.80,801.73 L229.20,802.42 L229.60,803.12 L230.01,803.81 L230.41,804.50 L230.82,805.19 L231.22,805.88 L231.63,806.57 L232.03,807.25 L232.44,807.94 L232.85,808.63 L233.26,809.32 L233.67,810.00 L234.08,810.69 L234.49,811.38 L234.90,812.06 L235.32,812.75 L235.73,813.43 L236.15,814.11 L236.56,814.80 L236.98,815.48 L237.39,816.16 L237.81,816.84 L238.23,817.52 L238.65,818.20 L239.07,818.88 L239.49,819.56 L239.92,820.24 L240.34,820.92 L240.76,821.60 L241.19,822.28 L241.61,822.95 L242.04,823.63 L242.47,824.31 L242.90,824.98 L243.33,825.66 L243.76,826.33 L244.19,827.00 L244.62,827.68 L245.05,828.35 L245.49,829.02 L245.92,829.69 L246.35,830.36 L246.79,831.04 L247.23,831.70 L247.67,832.37 L248.10,833.04 L248.54,833.71 L248.99,834.38 L249.43,835.04 L249.87,835.71 L250.31,836.38 L250.76,837.04 L251.20,837.71 L251.65,838.37 L252.09,839.03 L252.54,839.70 L252.99,840.36 L253.44,841.02 L253.89,841.68 L254.34,842.34 L254.80,843.00 L255.25,843.66 L255.70,844.32 L256.16,844.97 L256.61,845.63 L257.07,846.29 L257.53,846.94 L257.99,847.60 L258.45,848.25 L258.91,848.91 L259.37,849.56 L259.83,850.21 L260.30,850.86 L260.76,851.51 L261.22,852.16 L261.69,852.81 L262.16,853.46 L262.63,854.11 L263.10,854.76 L263.56,855.41 L264.04,856.05 L264.51,856.70 L264.98,857.34 L265.45,857.99 L265.93,858.63 L266.40,859.27 L266.88,859.92 L267.36,860.56 L267.84,861.20 L268.32,861.84 L268.80,862.48 L269.28,863.12 L269.76,863.76 L270.24,864.39 L270.73,865.03 L271.21,865.67 L271.70,866.30 L272.18,866.94 L272.67,867.57 L273.16,868.20 L273.65,868.83 L274.14,869.47 L274.63,870.10 L275.13,870.73 L275.62,871.36 L276.11,871.98 L276.61,872.61 L277.10,873.24 L277.60,873.87 L278.10,874.49 L278.60,875.12 L279.10,875.74 L279.60,876.36 L280.10,876.99 L280.61,877.61 L281.11,878.23 L281.61,878.85 L282.12,879.47 L282.63,880.09 L283.14,880.70 L283.64,881.32 L284.15,881.94 L284.66,882.55 L285.18,883.17 L285.69,883.78 L286.20,884.39 L286.72,885.01 L287.23,885.62 L287.75,886.23 L288.26,886.84 L288.78,887.45 L289.30,888.06 L289.82,888.66 L290.34,889.27 L290.87,889.88 L291.39,890.48 L291.91,891.09 L292.44,891.69 L292.96,892.29 L293.49,892.89 L294.02,893.49 L294.55,894.09 L295.08,894.69 L295.61,895.29 L296.14,895.89 L296.67,896.49 L297.20,897.08 L297.74,897.68 L298.27,898.27 L298.81,898.87 L299.35,899.46 L299.88,900.05 L300.42,900.64 L300.96,901.23 L301.50,901.82 L302.04,902.41 L302.59,903.00 L303.13,903.58 L303.68,904.17 L304.22,904.75 L304.77,905.34 L305.31,905.92 L305.86,906.50 L306.41,907.08 L306.96,907.66 L307.51,908.24 L308.06,908.82 L308.62,909.40 L309.17,909.98 L309.73,910.55 L310.28,911.13 L310.84,911.70 L311.40,912.28 L311.95,912.85 L312.51,913.42 L313.07,913.99 L313.63,914.56 L314.20,915.13 L314.76,915.70 L315.32,916.27 L315.89,916.83 L316.45,917.40 L317.02,917.96 L317.59,918.52 L318.15,919.09 L318.72,919.65 L319.29,920.21 L319.87,920.77" fill="none" stroke="#ff0000" stroke-width="1.8" stroke-linejoin="round" stroke-dasharray="7.4 6" stroke-dashoffset="3" clip-path="url(#cc1)"/>
<path d="M54.27,644.34 L54.33,645.13 L54.39,645.93 L54.44,646.73 L54.50,647.53 L54.56,648.32 L54.62,649.12 L54.68,649.92 L54.74,650.71 L54.79,651.51 L54.85,652.31 L54.91,653.11 L54.97,653.90 L55.03,654.70 L55.09,655.50 L55.15,656.29 L55.21,657.09 L55.27,657.89 L55.33,658.69 L55.39,659.48 L55.45,660.28 L55.51,661.08 L55.57,661.87 L55.63,662.67 L55.69,663.47 L55.75,664.27 L55.81,665.06 L55.87,665.86 L55.93,666.66 L55.99,667.45 L56.05,668.25 L56.11,669.05 L56.17,669.85 L56.23,670.64 L56.29,671.44 L56.35,672.24 L56.41,673.03 L56.48,673.83 L56.54,674.63 L56.60,675.43 L56.66,676.22 L56.72,677.02 L56.79,677.82 L56.85,678.61 L56.91,679.41 L56.97,680.21 L57.03,681.00 L57.10,681.80 L57.16,682.60 L57.22,683.39 L57.29,684.19 L57.35,684.99 L57.41,685.79 L57.47,686.58 L57.54,687.38 L57.60,688.18 L57.67,688.97 L57.73,689.77 L57.79,690.57 L57.86,691.36 L57.92,692.16 L57.99,692.96 L58.05,693.75 L58.11,694.55 L58.18,695.35 L58.24,696.14 L58.31,696.94 L58.37,697.74 L58.44,698.53 L58.50,699.33 L58.57,700.13 L58.63,700.92 L58.70,701.72 L58.77,702.52 L58.83,703.31 L58.90,704.11 L58.96,704.91 L59.03,705.70 L59.10,706.50 L59.16,707.30 L59.23,708.09 L59.30,708.89 L59.36,709.69 L59.43,710.48 L59.50,711.28 L59.56,712.08 L59.63,712.87 L59.70,713.67 L59.77,714.47 L59.84,715.26 L59.90,716.06 L59.97,716.86 L60.04,717.65 L60.11,718.45 L60.18,719.25 L60.25,720.04 L60.32,720.84 L60.38,721.64 L60.45,722.43 L60.52,723.23 L60.59,724.02 L60.66,724.82 L60.73,725.62 L60.80,726.41 L60.87,727.21 L60.94,728.01 L61.01,728.80 L61.08,729.60 L61.15,730.39 L61.23,731.19 L61.30,731.99 L61.37,732.78 L61.44,733.58 L61.51,734.38 L61.58,735.17 L61.65,735.97 L61.73,736.76 L61.80,737.56 L61.87,738.36 L61.94,739.15 L62.02,739.95 L62.09,740.74 L62.16,741.54 L62.24,742.34 L62.31,743.13 L62.38,743.93 L62.46,744.72 L62.53,745.52 L62.60,746.32 L62.68,747.11 L62.75,747.91 L62.83,748.70 L62.90,749.50 L62.98,750.30 L63.05,751.09 L63.13,751.89 L63.20,752.68 L63.28,753.48 L63.36,754.28 L63.43,755.07 L63.51,755.87 L63.59,756.66 L63.66,757.46 L63.74,758.25 L63.82,759.05 L63.89,759.84 L63.97,760.64 L64.05,761.44 L64.13,762.23 L64.21,763.03 L64.28,763.82 L64.36,764.62 L64.44,765.41 L64.52,766.21 L64.60,767.00 L64.68,767.80 L64.76,768.60 L64.84,769.39 L64.92,770.19 L65.00,770.98 L65.08,771.78 L65.16,772.57 L65.24,773.37 L65.33,774.16 L65.41,774.96 L65.49,775.75 L65.57,776.55 L65.65,777.34 L65.74,778.14 L65.82,778.93 L65.90,779.73 L65.99,780.52 L66.07,781.32 L66.15,782.11 L66.24,782.91 L66.32,783.70 L66.41,784.50 L66.49,785.29 L66.58,786.09 L66.66,786.88 L66.75,787.68 L66.84,788.47 L66.92,789.27 L67.01,790.06 L67.10,790.86 L67.18,791.65 L67.27,792.45 L67.36,793.24 L67.45,794.03 L67.54,794.83 L67.63,795.62 L67.72,796.42 L67.80,797.21 L67.89,798.01 L67.99,798.80 L68.08,799.59 L68.17,800.39 L68.26,801.18 L68.35,801.98 L68.44,802.77 L68.53,803.57 L68.63,804.36 L68.72,805.15 L68.81,805.95 L68.91,806.74 L69.00,807.53 L69.10,808.33 L69.19,809.12 L69.29,809.92 L69.38,810.71 L69.48,811.50 L69.57,812.30 L69.67,813.09 L69.77,813.88 L69.87,814.68 L69.96,815.47 L70.06,816.26 L70.16,817.06 L70.26,817.85 L70.36,818.64 L70.46,819.44 L70.56,820.23 L70.66,821.02 L70.77,821.82 L70.87,822.61 L70.97,823.40 L71.07,824.19 L71.18,824.99 L71.28,825.78 L71.39,826.57 L71.49,827.36 L71.60,828.16 L71.70,828.95 L71.81,829.74 L71.92,830.53 L72.03,831.32 L72.14,832.12 L72.25,832.91 L72.36,833.70 L72.47,834.49 L72.58,835.28 L72.69,836.08 L72.80,836.87 L72.92,837.66 L73.03,838.45 L73.14,839.24 L73.26,840.03 L73.38,840.82 L73.49,841.61 L73.61,842.40 L73.73,843.19 L73.85,843.98 L73.97,844.77 L74.09,845.57 L74.21,846.36 L74.33,847.15 L74.46,847.93 L74.58,848.72 L74.71,849.51 L74.83,850.30 L74.96,851.09 L75.09,851.88 L75.22,852.67 L75.35,853.46 L75.48,854.25 L75.61,855.04 L75.75,855.82 L75.88,856.61 L76.02,857.40 L76.16,858.19 L76.29,858.97 L76.43,859.76 L76.58,860.55 L76.72,861.33 L76.86,862.12 L77.01,862.91 L77.16,863.69 L77.30,864.48 L77.45,865.26 L77.61,866.05 L77.76,866.83 L77.92,867.62 L78.07,868.40 L78.23,869.18 L78.40,869.97 L78.56,870.75 L78.73,871.53 L78.90,872.31 L79.07,873.09 L79.24,873.87 L79.42,874.65 L79.60,875.43 L79.78,876.21 L79.96,876.99 L80.15,877.76 L80.35,878.54 L80.54,879.32 L80.74,880.09 L80.95,880.86 L81.15,881.63 L81.37,882.40 L81.59,883.17 L81.81,883.94 L82.04,884.71 L82.28,885.47 L82.52,886.23 L82.77,886.99 L83.04,887.74 L83.31,888.50 L83.59,889.25 L83.88,889.99 L84.19,890.73 L84.51,891.46 L84.85,892.18 L85.21,892.89 L85.60,893.59 L86.02,894.27 L86.48,894.93 L86.99,895.54 L87.57,896.09 L88.23,896.54 L88.98,896.80 L89.78,896.80 L90.53,896.54 L91.19,896.10 L91.77,895.55 L92.29,894.93 L92.75,894.28 L93.17,893.60 L93.56,892.91 L93.92,892.19 L94.27,891.47 L94.59,890.74 L94.90,890.00 L95.19,889.26 L95.47,888.51 L95.75,887.76 L96.01,887.01 L96.26,886.25 L96.51,885.49 L96.75,884.72 L96.98,883.96 L97.21,883.19 L97.43,882.42 L97.64,881.65 L97.86,880.88 L98.06,880.11 L98.27,879.34 L98.47,878.56 L98.66,877.79 L98.85,877.01 L99.04,876.24 L99.23,875.46 L99.41,874.68 L99.59,873.90 L99.77,873.12 L99.94,872.34 L100.12,871.56 L100.29,870.78 L100.46,870.00 L100.62,869.22 L100.79,868.44 L100.95,867.65 L101.11,866.87 L101.27,866.09 L101.43,865.30 L101.59,864.52 L101.74,863.73 L101.89,862.95 L102.05,862.17 L102.20,861.38 L102.35,860.60 L102.49,859.81 L102.64,859.02 L102.79,858.24 L102.93,857.45 L103.07,856.67 L103.22,855.88 L103.36,855.09 L103.50,854.30 L103.64,853.52 L103.78,852.73 L103.91,851.94 L104.05,851.16 L104.19,850.37 L104.32,849.58 L104.45,848.79 L104.59,848.00 L104.72,847.21 L104.85,846.43 L104.98,845.64 L105.12,844.85 L105.25,844.06 L105.37,843.27 L105.50,842.48 L105.63,841.69 L105.76,840.90 L105.89,840.12 L106.01,839.33 L106.14,838.54 L106.26,837.75 L106.39,836.96 L106.51,836.17 L106.64,835.38 L106.76,834.59 L106.88,833.80 L107.01,833.01 L107.13,832.22 L107.25,831.43 L107.37,830.64 L107.49,829.85 L107.61,829.06 L107.73,828.27 L107.85,827.48 L107.97,826.69 L108.09,825.90 L108.21,825.11 L108.33,824.32 L108.45,823.52 L108.57,822.73 L108.68,821.94 L108.80,821.15 L108.92,820.36 L109.03,819.57 L109.15,818.78 L109.27,817.99 L109.38,817.20 L109.50,816.41 L109.62,815.62 L109.73,814.83 L109.85,814.03 L109.96,813.24 L110.08,812.45 L110.19,811.66 L110.31,810.87 L110.42,810.08 L110.54,809.29 L110.65,808.50 L110.76,807.71 L110.88,806.91 L110.99,806.12 L111.10,805.33 L111.22,804.54 L111.33,803.75 L111.45,802.96 L111.56,802.17 L111.67,801.38 L111.78,800.58 L111.90,799.79 L112.01,799.00 L112.12,798.21 L112.24,797.42 L112.35,796.63 L112.46,795.84 L112.57,795.04 L112.69,794.25 L112.80,793.46 L112.91,792.67 L113.03,791.88 L113.14,791.09 L113.25,790.30 L113.36,789.50 L113.48,788.71 L113.59,787.92 L113.70,787.13 L113.81,786.34 L113.93,785.55 L114.04,784.76 L114.15,783.96 L114.26,783.17 L114.38,782.38 L114.49,781.59 L114.60,780.80 L114.72,780.01 L114.83,779.22 L114.94,778.42 L115.06,777.63 L115.17,776.84 L115.28,776.05 L115.40,775.26 L115.51,774.47 L115.62,773.68 L115.74,772.89 L115.85,772.09 L115.97,771.30 L116.08,770.51 L116.20,769.72 L116.31,768.93 L116.43,768.14 L116.54,767.35 L116.66,766.56 L116.77,765.77 L116.89,764.97 L117.00,764.18 L117.12,763.39 L117.24,762.60 L117.35,761.81 L117.47,761.02 L117.59,760.23 L117.70,759.44 L117.82,758.65 L117.94,757.86 L118.06,757.07 L118.17,756.28 L118.29,755.49 L118.41,754.70 L118.53,753.90 L118.65,753.11 L118.77,752.32 L118.89,751.53 L119.01,750.74 L119.13,749.95 L119.25,749.16 L119.37,748.37 L119.49,747.58 L119.61,746.79 L119.74,746.00 L119.86,745.21 L119.98,744.42 L120.11,743.63 L120.23,742.84 L120.35,742.05 L120.48,741.26 L120.60,740.47 L120.73,739.68 L120.86,738.90 L120.98,738.11 L121.11,737.32 L121.24,736.53 L121.36,735.74 L121.49,734.95 L121.62,734.16 L121.75,733.37 L121.88,732.58 L122.01,731.79 L122.14,731.01 L122.27,730.22 L122.41,729.43 L122.54,728.64 L122.67,727.85 L122.81,727.06 L122.94,726.28 L123.08,725.49 L123.21,724.70 L123.35,723.91 L123.49,723.13 L123.63,722.34 L123.77,721.55 L123.91,720.76 L124.05,719.98 L124.19,719.19 L124.33,718.40 L124.47,717.62 L124.62,716.83 L124.76,716.05 L124.91,715.26 L125.06,714.47 L125.20,713.69 L125.35,712.90 L125.50,712.12 L125.65,711.33 L125.80,710.55 L125.96,709.76 L126.11,708.98 L126.27,708.19 L126.42,707.41 L126.58,706.63 L126.74,705.84 L126.90,705.06 L127.06,704.28 L127.22,703.49 L127.39,702.71 L127.55,701.93 L127.72,701.15 L127.89,700.37 L128.06,699.58 L128.23,698.80 L128.40,698.02 L128.58,697.24 L128.75,696.46 L128.93,695.68 L129.11,694.91 L129.29,694.13 L129.48,693.35 L129.67,692.57 L129.85,691.80 L130.04,691.02 L130.24,690.24 L130.43,689.47 L130.63,688.69 L130.83,687.92 L131.03,687.15 L131.24,686.37 L131.45,685.60 L131.66,684.83 L131.88,684.06 L132.09,683.29 L132.32,682.53 L132.54,681.76 L132.77,680.99 L133.00,680.23 L133.24,679.46 L133.48,678.70 L133.73,677.94 L133.98,677.18 L134.23,676.42 L134.49,675.67 L134.76,674.92 L135.03,674.16 L135.31,673.42 L135.60,672.67 L135.89,671.92 L136.19,671.18 L136.50,670.45 L136.82,669.71 L137.14,668.98 L137.48,668.26 L137.83,667.54 L138.19,666.82 L138.56,666.12 L138.95,665.42 L139.35,664.73 L139.77,664.05 L140.21,663.38 L140.67,662.72 L141.15,662.09 L141.66,661.47 L142.20,660.88 L142.77,660.32 L143.37,659.79 L144.01,659.31 L144.69,658.89 L145.40,658.54 L146.16,658.27 L146.94,658.09 L147.73,658.02 L148.53,658.04 L149.32,658.17 L150.09,658.38 L150.84,658.66 L151.56,659.01 L152.25,659.40 L152.92,659.84 L153.56,660.31 L154.18,660.82 L154.79,661.34 L155.37,661.89 L155.93,662.46 L156.48,663.04 L157.02,663.63 L157.54,664.24 L158.05,664.85 L158.55,665.47 L159.04,666.10 L159.52,666.74 L160.00,667.39 L160.46,668.04 L160.92,668.69 L161.37,669.35 L161.81,670.02 L162.25,670.69 L162.69,671.36 L163.11,672.04 L163.54,672.71 L163.95,673.39 L164.37,674.08 L164.78,674.77 L165.18,675.45 L165.59,676.14 L165.98,676.84 L166.38,677.53 L166.77,678.23 L167.16,678.93 L167.55,679.63 L167.93,680.33 L168.32,681.03 L168.70,681.73 L169.07,682.44 L169.45,683.14 L169.82,683.85 L170.19,684.56 L170.56,685.27 L170.93,685.98 L171.30,686.69 L171.66,687.40 L172.03,688.11 L172.39,688.82 L172.75,689.54 L173.11,690.25 L173.46,690.96 L173.82,691.68 L174.18,692.40 L174.53,693.11 L174.88,693.83 L175.24,694.55 L175.59,695.27 L175.94,695.98 L176.29,696.70 L176.64,697.42 L176.99,698.14 L177.34,698.86 L177.68,699.58 L178.03,700.30 L178.37,701.02 L178.72,701.74 L179.06,702.46 L179.41,703.19 L179.75,703.91 L180.10,704.63 L180.44,705.35 L180.78,706.07 L181.12,706.80 L181.47,707.52 L181.81,708.24 L182.15,708.96 L182.49,709.69 L182.83,710.41 L183.17,711.13 L183.51,711.86 L183.85,712.58 L184.19,713.30 L184.53,714.03 L184.87,714.75 L185.21,715.47 L185.55,716.20 L185.89,716.92 L186.23,717.65 L186.57,718.37 L186.91,719.09 L187.25,719.82 L187.59,720.54 L187.93,721.26 L188.27,721.99 L188.61,722.71 L188.95,723.43 L189.29,724.16 L189.63,724.88 L189.97,725.61 L190.31,726.33 L190.65,727.05 L190.99,727.77 L191.33,728.50 L191.67,729.22 L192.01,729.94 L192.35,730.67 L192.69,731.39 L193.04,732.11 L193.38,732.83 L193.72,733.56 L194.06,734.28 L194.41,735.00 L194.75,735.72 L195.09,736.44 L195.44,737.17 L195.78,737.89 L196.13,738.61 L196.47,739.33 L196.82,740.05 L197.16,740.77 L197.51,741.49 L197.85,742.21 L198.20,742.93 L198.55,743.65 L198.89,744.37 L199.24,745.09 L199.59,745.81 L199.94,746.53 L200.29,747.25 L200.64,747.97 L200.99,748.69 L201.34,749.41 L201.69,750.13 L202.04,750.84 L202.39,751.56 L202.74,752.28 L203.10,753.00 L203.45,753.71 L203.80,754.43 L204.16,755.15 L204.51,755.86 L204.87,756.58 L205.22,757.30 L205.58,758.01 L205.94,758.73 L206.29,759.44 L206.65,760.16 L207.01,760.87 L207.37,761.59 L207.73,762.30 L208.09,763.01 L208.45,763.73 L208.81,764.44 L209.17,765.15 L209.54,765.87 L209.90,766.58 L210.26,767.29 L210.63,768.00 L210.99,768.71 L211.36,769.42 L211.72,770.13 L212.09,770.84 L212.46,771.55 L212.83,772.26 L213.19,772.97 L213.56,773.68 L213.93,774.39 L214.30,775.10 L214.68,775.81 L215.05,776.51 L215.42,777.22 L215.79,777.93 L216.17,778.63 L216.54,779.34 L216.92,780.05 L217.29,780.75 L217.67,781.46 L218.05,782.16 L218.43,782.87 L218.81,783.57 L219.19,784.27 L219.57,784.98 L219.95,785.68 L220.33,786.38 L220.71,787.08 L221.09,787.78 L221.48,788.49 L221.86,789.19 L222.25,789.89 L222.63,790.59 L223.02,791.29 L223.41,791.99 L223.80,792.68 L224.19,793.38 L224.58,794.08 L224.97,794.78 L225.36,795.47 L225.75,796.17 L226.14,796.87 L226.54,797.56 L226.93,798.26 L227.33,798.95 L227.72,799.65 L228.12,800.34 L228.52,801.03 L228.92,801.73 L229.32,802.42 L229.72,803.11 L230.12,803.80 L230.52,804.49 L230.92,805.18 L231.33,805.87 L231.73,806.56 L232.14,807.25 L232.54,807.94 L232.95,808.63 L233.36,809.32 L233.76,810.01 L234.17,810.69 L234.58,811.38 L234.99,812.06 L235.41,812.75 L235.82,813.43 L236.23,814.12 L236.65,814.80 L237.06,815.48 L237.48,816.17 L237.89,816.85 L238.31,817.53 L238.73,818.21 L239.15,818.89 L239.57,819.57 L239.99,820.25 L240.41,820.93 L240.84,821.61 L241.26,822.29 L241.68,822.96 L242.11,823.64 L242.54,824.32 L242.96,824.99 L243.39,825.67 L243.82,826.34 L244.25,827.02 L244.68,827.69 L245.11,828.36 L245.55,829.04 L245.98,829.71 L246.41,830.38 L246.85,831.05 L247.29,831.72 L247.72,832.39 L248.16,833.06 L248.60,833.72 L249.04,834.39 L249.48,835.06 L249.92,835.73 L250.36,836.39 L250.81,837.06 L251.25,837.72 L251.70,838.38 L252.14,839.05 L252.59,839.71 L253.04,840.37 L253.49,841.03 L253.94,841.69 L254.39,842.36 L254.84,843.01 L255.29,843.67 L255.75,844.33 L256.20,844.99 L256.66,845.65 L257.11,846.30 L257.57,846.96 L258.03,847.61 L258.49,848.27 L258.95,848.92 L259.41,849.57 L259.87,850.23 L260.33,850.88 L260.80,851.53 L261.26,852.18 L261.73,852.83 L262.19,853.48 L262.66,854.13 L263.13,854.78 L263.60,855.42 L264.07,856.07 L264.54,856.71 L265.01,857.36 L265.49,858.00 L265.96,858.65 L266.43,859.29 L266.91,859.93 L267.39,860.57 L267.87,861.22 L268.34,861.86 L268.82,862.49 L269.30,863.13 L269.79,863.77 L270.27,864.41 L270.75,865.04 L271.24,865.68 L271.72,866.32 L272.21,866.95 L272.70,867.58 L273.19,868.22 L273.67,868.85 L274.16,869.48 L274.66,870.11 L275.15,870.74 L275.64,871.37 L276.14,872.00 L276.63,872.63 L277.13,873.25 L277.62,873.88 L278.12,874.50 L278.62,875.13 L279.12,875.75 L279.62,876.38 L280.12,877.00 L280.63,877.62 L281.13,878.24 L281.63,878.86 L282.14,879.48 L282.65,880.10 L283.15,880.72 L283.66,881.33 L284.17,881.95 L284.68,882.56 L285.19,883.18 L285.70,883.79 L286.22,884.41 L286.73,885.02 L287.25,885.63 L287.76,886.24 L288.28,886.85 L288.80,887.46 L289.32,888.07 L289.84,888.67 L290.36,889.28 L290.88,889.89 L291.40,890.49 L291.92,891.09 L292.45,891.70 L292.98,892.30 L293.50,892.90 L294.03,893.50 L294.56,894.10 L295.09,894.70 L295.62,895.30 L296.15,895.90 L296.68,896.49 L297.21,897.09 L297.75,897.68 L298.28,898.28 L298.82,898.87 L299.35,899.46 L299.89,900.06 L300.43,900.65 L300.97,901.24 L301.51,901.83 L302.05,902.41 L302.59,903.00 L303.14,903.59 L303.68,904.17 L304.23,904.76 L304.77,905.34 L305.32,905.92 L305.87,906.51 L306.42,907.09 L306.97,907.67 L307.52,908.25 L308.07,908.83 L308.62,909.40 L309.18,909.98 L309.73,910.56 L310.29,911.13 L310.84,911.70 L311.40,912.28 L311.96,912.85 L312.52,913.42 L313.08,913.99 L313.64,914.56 L314.20,915.13 L314.76,915.70 L315.32,916.27 L315.89,916.83 L316.45,917.40 L317.02,917.96 L317.59,918.52 L318.16,919.09 L318.72,919.65 L319.29,920.21 L319.87,920.77" fill="none" stroke="#0000ff" stroke-width="1.9" stroke-linejoin="round" stroke-dasharray="8.2 2.6 1.6 2.6" stroke-dashoffset="0" clip-path="url(#cc1)"/>
<path d="M54.17,644.53 L54.23,645.33 L54.29,646.12 L54.35,646.92 L54.40,647.72 L54.46,648.52 L54.52,649.31 L54.58,650.11 L54.63,650.91 L54.69,651.71 L54.75,652.50 L54.81,653.30 L54.87,654.10 L54.93,654.89 L54.98,655.69 L55.04,656.49 L55.10,657.29 L55.16,658.08 L55.22,658.88 L55.28,659.68 L55.34,660.47 L55.40,661.27 L55.46,662.07 L55.52,662.87 L55.58,663.66 L55.64,664.46 L55.70,665.26 L55.76,666.05 L55.82,666.85 L55.88,667.65 L55.94,668.45 L56.00,669.24 L56.06,670.04 L56.12,670.84 L56.18,671.63 L56.24,672.43 L56.30,673.23 L56.36,674.02 L56.42,674.82 L56.48,675.62 L56.54,676.42 L56.60,677.21 L56.67,678.01 L56.73,678.81 L56.79,679.60 L56.85,680.40 L56.91,681.20 L56.97,681.99 L57.04,682.79 L57.10,683.59 L57.16,684.39 L57.22,685.18 L57.29,685.98 L57.35,686.78 L57.41,687.57 L57.47,688.37 L57.54,689.17 L57.60,689.96 L57.66,690.76 L57.73,691.56 L57.79,692.35 L57.85,693.15 L57.92,693.95 L57.98,694.74 L58.05,695.54 L58.11,696.34 L58.17,697.13 L58.24,697.93 L58.30,698.73 L58.37,699.53 L58.43,700.32 L58.50,701.12 L58.56,701.92 L58.63,702.71 L58.69,703.51 L58.76,704.31 L58.82,705.10 L58.89,705.90 L58.95,706.70 L59.02,707.49 L59.08,708.29 L59.15,709.09 L59.22,709.88 L59.28,710.68 L59.35,711.47 L59.42,712.27 L59.48,713.07 L59.55,713.86 L59.62,714.66 L59.68,715.46 L59.75,716.25 L59.82,717.05 L59.89,717.85 L59.95,718.64 L60.02,719.44 L60.09,720.24 L60.16,721.03 L60.23,721.83 L60.29,722.63 L60.36,723.42 L60.43,724.22 L60.50,725.01 L60.57,725.81 L60.64,726.61 L60.71,727.40 L60.78,728.20 L60.85,729.00 L60.92,729.79 L60.99,730.59 L61.06,731.39 L61.13,732.18 L61.20,732.98 L61.27,733.77 L61.34,734.57 L61.41,735.37 L61.48,736.16 L61.55,736.96 L61.62,737.76 L61.69,738.55 L61.76,739.35 L61.84,740.14 L61.91,740.94 L61.98,741.74 L62.05,742.53 L62.12,743.33 L62.20,744.12 L62.27,744.92 L62.34,745.72 L62.41,746.51 L62.49,747.31 L62.56,748.10 L62.64,748.90 L62.71,749.70 L62.78,750.49 L62.86,751.29 L62.93,752.08 L63.01,752.88 L63.08,753.68 L63.16,754.47 L63.23,755.27 L63.31,756.06 L63.38,756.86 L63.46,757.65 L63.53,758.45 L63.61,759.25 L63.68,760.04 L63.76,760.84 L63.84,761.63 L63.91,762.43 L63.99,763.22 L64.07,764.02 L64.15,764.82 L64.22,765.61 L64.30,766.41 L64.38,767.20 L64.46,768.00 L64.54,768.79 L64.61,769.59 L64.69,770.38 L64.77,771.18 L64.85,771.97 L64.93,772.77 L65.01,773.57 L65.09,774.36 L65.17,775.16 L65.25,775.95 L65.33,776.75 L65.41,777.54 L65.49,778.34 L65.58,779.13 L65.66,779.93 L65.74,780.72 L65.82,781.52 L65.90,782.31 L65.99,783.11 L66.07,783.90 L66.15,784.70 L66.24,785.49 L66.32,786.29 L66.40,787.08 L66.49,787.88 L66.57,788.67 L66.66,789.47 L66.74,790.26 L66.83,791.06 L66.91,791.85 L67.00,792.65 L67.08,793.44 L67.17,794.24 L67.26,795.03 L67.34,795.83 L67.43,796.62 L67.52,797.41 L67.61,798.21 L67.69,799.00 L67.78,799.80 L67.87,800.59 L67.96,801.39 L68.05,802.18 L68.14,802.98 L68.23,803.77 L68.32,804.56 L68.41,805.36 L68.50,806.15 L68.59,806.95 L68.68,807.74 L68.78,808.53 L68.87,809.33 L68.96,810.12 L69.05,810.92 L69.15,811.71 L69.24,812.50 L69.34,813.30 L69.43,814.09 L69.53,814.88 L69.62,815.68 L69.72,816.47 L69.81,817.27 L69.91,818.06 L70.01,818.85 L70.10,819.65 L70.20,820.44 L70.30,821.23 L70.40,822.03 L70.50,822.82 L70.60,823.61 L70.70,824.40 L70.80,825.20 L70.90,825.99 L71.00,826.78 L71.10,827.58 L71.21,828.37 L71.31,829.16 L71.41,829.95 L71.52,830.75 L71.62,831.54 L71.73,832.33 L71.83,833.12 L71.94,833.92 L72.04,834.71 L72.15,835.50 L72.26,836.29 L72.37,837.08 L72.48,837.88 L72.59,838.67 L72.70,839.46 L72.81,840.25 L72.92,841.04 L73.03,841.83 L73.15,842.63 L73.26,843.42 L73.37,844.21 L73.49,845.00 L73.60,845.79 L73.72,846.58 L73.84,847.37 L73.96,848.16 L74.07,848.95 L74.19,849.74 L74.32,850.53 L74.44,851.32 L74.56,852.11 L74.68,852.90 L74.81,853.69 L74.93,854.48 L75.06,855.27 L75.18,856.06 L75.31,856.85 L75.44,857.64 L75.57,858.43 L75.70,859.22 L75.83,860.00 L75.97,860.79 L76.10,861.58 L76.24,862.37 L76.37,863.16 L76.51,863.94 L76.65,864.73 L76.79,865.52 L76.93,866.30 L77.08,867.09 L77.22,867.88 L77.37,868.66 L77.52,869.45 L77.67,870.23 L77.82,871.02 L77.97,871.80 L78.13,872.59 L78.29,873.37 L78.45,874.15 L78.61,874.94 L78.77,875.72 L78.94,876.50 L79.11,877.28 L79.28,878.06 L79.45,878.84 L79.63,879.62 L79.81,880.40 L79.99,881.18 L80.17,881.96 L80.36,882.73 L80.55,883.51 L80.75,884.28 L80.95,885.06 L81.15,885.83 L81.36,886.60 L81.58,887.37 L81.80,888.14 L82.02,888.91 L82.25,889.67 L82.49,890.44 L82.74,891.20 L82.99,891.96 L83.25,892.71 L83.53,893.46 L83.81,894.21 L84.11,894.95 L84.42,895.69 L84.75,896.42 L85.10,897.13 L85.47,897.84 L85.87,898.53 L86.31,899.20 L86.80,899.84 L87.34,900.42 L87.96,900.92 L88.68,901.27 L89.47,901.37 L90.24,901.19 L90.93,900.80 L91.53,900.27 L92.06,899.67 L92.53,899.02 L92.95,898.34 L93.35,897.65 L93.71,896.94 L94.05,896.21 L94.37,895.48 L94.68,894.74 L94.97,894.00 L95.25,893.25 L95.52,892.50 L95.78,891.74 L96.03,890.98 L96.28,890.22 L96.51,889.46 L96.74,888.69 L96.96,887.92 L97.18,887.16 L97.39,886.38 L97.60,885.61 L97.80,884.84 L98.00,884.07 L98.20,883.29 L98.39,882.51 L98.58,881.74 L98.76,880.96 L98.95,880.18 L99.13,879.40 L99.30,878.62 L99.48,877.84 L99.65,877.06 L99.82,876.28 L99.98,875.50 L100.15,874.72 L100.31,873.93 L100.47,873.15 L100.63,872.37 L100.79,871.58 L100.94,870.80 L101.10,870.02 L101.25,869.23 L101.40,868.45 L101.55,867.66 L101.70,866.88 L101.85,866.09 L101.99,865.30 L102.13,864.52 L102.28,863.73 L102.42,862.94 L102.56,862.16 L102.70,861.37 L102.84,860.58 L102.98,859.80 L103.11,859.01 L103.25,858.22 L103.38,857.43 L103.52,856.64 L103.65,855.86 L103.78,855.07 L103.91,854.28 L104.04,853.49 L104.17,852.70 L104.30,851.91 L104.43,851.12 L104.56,850.33 L104.68,849.55 L104.81,848.76 L104.93,847.97 L105.06,847.18 L105.18,846.39 L105.31,845.60 L105.43,844.81 L105.55,844.02 L105.67,843.23 L105.80,842.44 L105.92,841.65 L106.04,840.86 L106.16,840.07 L106.28,839.28 L106.39,838.49 L106.51,837.70 L106.63,836.91 L106.75,836.11 L106.87,835.32 L106.98,834.53 L107.10,833.74 L107.22,832.95 L107.33,832.16 L107.45,831.37 L107.56,830.58 L107.68,829.79 L107.79,829.00 L107.91,828.21 L108.02,827.41 L108.13,826.62 L108.25,825.83 L108.36,825.04 L108.47,824.25 L108.58,823.46 L108.70,822.67 L108.81,821.87 L108.92,821.08 L109.03,820.29 L109.14,819.50 L109.25,818.71 L109.37,817.92 L109.48,817.13 L109.59,816.33 L109.70,815.54 L109.81,814.75 L109.92,813.96 L110.03,813.17 L110.14,812.37 L110.25,811.58 L110.35,810.79 L110.46,810.00 L110.57,809.21 L110.68,808.42 L110.79,807.62 L110.90,806.83 L111.01,806.04 L111.12,805.25 L111.22,804.46 L111.33,803.66 L111.44,802.87 L111.55,802.08 L111.66,801.29 L111.76,800.50 L111.87,799.70 L111.98,798.91 L112.09,798.12 L112.20,797.33 L112.30,796.54 L112.41,795.74 L112.52,794.95 L112.63,794.16 L112.73,793.37 L112.84,792.58 L112.95,791.78 L113.06,790.99 L113.16,790.20 L113.27,789.41 L113.38,788.62 L113.49,787.82 L113.60,787.03 L113.70,786.24 L113.81,785.45 L113.92,784.65 L114.03,783.86 L114.13,783.07 L114.24,782.28 L114.35,781.49 L114.46,780.69 L114.57,779.90 L114.67,779.11 L114.78,778.32 L114.89,777.53 L115.00,776.73 L115.11,775.94 L115.22,775.15 L115.33,774.36 L115.43,773.57 L115.54,772.78 L115.65,771.98 L115.76,771.19 L115.87,770.40 L115.98,769.61 L116.09,768.82 L116.20,768.02 L116.31,767.23 L116.42,766.44 L116.53,765.65 L116.64,764.86 L116.75,764.07 L116.86,763.27 L116.97,762.48 L117.09,761.69 L117.20,760.90 L117.31,760.11 L117.42,759.32 L117.53,758.53 L117.65,757.73 L117.76,756.94 L117.87,756.15 L117.98,755.36 L118.10,754.57 L118.21,753.78 L118.32,752.99 L118.44,752.19 L118.55,751.40 L118.67,750.61 L118.78,749.82 L118.90,749.03 L119.01,748.24 L119.13,747.45 L119.25,746.66 L119.36,745.87 L119.48,745.08 L119.60,744.29 L119.71,743.50 L119.83,742.70 L119.95,741.91 L120.07,741.12 L120.19,740.33 L120.31,739.54 L120.43,738.75 L120.55,737.96 L120.67,737.17 L120.79,736.38 L120.91,735.59 L121.04,734.80 L121.16,734.01 L121.28,733.22 L121.41,732.43 L121.53,731.64 L121.65,730.85 L121.78,730.06 L121.91,729.27 L122.03,728.49 L122.16,727.70 L122.29,726.91 L122.41,726.12 L122.54,725.33 L122.67,724.54 L122.80,723.75 L122.93,722.96 L123.06,722.17 L123.20,721.39 L123.33,720.60 L123.46,719.81 L123.60,719.02 L123.73,718.23 L123.87,717.45 L124.00,716.66 L124.14,715.87 L124.28,715.08 L124.42,714.30 L124.56,713.51 L124.70,712.72 L124.84,711.94 L124.98,711.15 L125.12,710.36 L125.27,709.58 L125.41,708.79 L125.56,708.00 L125.71,707.22 L125.86,706.43 L126.01,705.65 L126.16,704.86 L126.31,704.08 L126.46,703.29 L126.61,702.51 L126.77,701.73 L126.93,700.94 L127.08,700.16 L127.24,699.37 L127.40,698.59 L127.57,697.81 L127.73,697.03 L127.90,696.24 L128.06,695.46 L128.23,694.68 L128.40,693.90 L128.57,693.12 L128.75,692.34 L128.92,691.56 L129.10,690.78 L129.28,690.00 L129.46,689.22 L129.64,688.44 L129.83,687.67 L130.02,686.89 L130.21,686.11 L130.40,685.34 L130.59,684.56 L130.79,683.79 L130.99,683.01 L131.20,682.24 L131.40,681.47 L131.61,680.70 L131.82,679.93 L132.04,679.16 L132.26,678.39 L132.48,677.62 L132.71,676.86 L132.94,676.09 L133.18,675.33 L133.42,674.56 L133.66,673.80 L133.91,673.04 L134.16,672.29 L134.42,671.53 L134.69,670.78 L134.96,670.02 L135.24,669.27 L135.53,668.53 L135.82,667.78 L136.12,667.04 L136.43,666.31 L136.75,665.57 L137.08,664.85 L137.42,664.12 L137.77,663.41 L138.14,662.69 L138.52,661.99 L138.91,661.30 L139.32,660.61 L139.75,659.94 L140.21,659.28 L140.68,658.63 L141.18,658.01 L141.71,657.41 L142.27,656.85 L142.87,656.31 L143.51,655.83 L144.18,655.41 L144.90,655.05 L145.65,654.78 L146.43,654.61 L147.23,654.55 L148.03,654.59 L148.81,654.73 L149.58,654.96 L150.32,655.26 L151.03,655.62 L151.71,656.04 L152.37,656.49 L153.01,656.98 L153.62,657.49 L154.21,658.03 L154.78,658.59 L155.33,659.17 L155.87,659.76 L156.40,660.36 L156.91,660.97 L157.41,661.59 L157.90,662.22 L158.38,662.86 L158.86,663.51 L159.32,664.16 L159.78,664.82 L160.23,665.48 L160.67,666.14 L161.10,666.81 L161.53,667.49 L161.96,668.16 L162.38,668.84 L162.80,669.53 L163.21,670.21 L163.61,670.90 L164.02,671.59 L164.41,672.28 L164.81,672.98 L165.20,673.67 L165.59,674.37 L165.98,675.07 L166.36,675.77 L166.74,676.48 L167.12,677.18 L167.50,677.89 L167.87,678.59 L168.24,679.30 L168.61,680.01 L168.98,680.72 L169.34,681.43 L169.71,682.14 L170.07,682.85 L170.43,683.57 L170.79,684.28 L171.14,685.00 L171.50,685.71 L171.86,686.43 L172.21,687.15 L172.56,687.86 L172.91,688.58 L173.26,689.30 L173.61,690.02 L173.96,690.74 L174.31,691.46 L174.65,692.18 L175.00,692.90 L175.34,693.62 L175.69,694.34 L176.03,695.06 L176.37,695.79 L176.72,696.51 L177.06,697.23 L177.40,697.96 L177.74,698.68 L178.08,699.40 L178.42,700.13 L178.76,700.85 L179.10,701.57 L179.43,702.30 L179.77,703.02 L180.11,703.75 L180.45,704.47 L180.78,705.20 L181.12,705.92 L181.46,706.65 L181.79,707.37 L182.13,708.10 L182.46,708.82 L182.80,709.55 L183.14,710.27 L183.47,711.00 L183.81,711.72 L184.14,712.45 L184.48,713.18 L184.81,713.90 L185.15,714.63 L185.48,715.35 L185.82,716.08 L186.15,716.80 L186.49,717.53 L186.82,718.26 L187.16,718.98 L187.49,719.71 L187.83,720.43 L188.16,721.16 L188.50,721.88 L188.84,722.61 L189.17,723.33 L189.51,724.06 L189.84,724.78 L190.18,725.51 L190.52,726.23 L190.86,726.96 L191.19,727.68 L191.53,728.41 L191.87,729.13 L192.21,729.86 L192.54,730.58 L192.88,731.31 L193.22,732.03 L193.56,732.75 L193.90,733.48 L194.24,734.20 L194.58,734.92 L194.92,735.65 L195.26,736.37 L195.60,737.09 L195.94,737.82 L196.28,738.54 L196.63,739.26 L196.97,739.98 L197.31,740.71 L197.66,741.43 L198.00,742.15 L198.34,742.87 L198.69,743.59 L199.03,744.31 L199.38,745.03 L199.72,745.75 L200.07,746.48 L200.42,747.20 L200.76,747.92 L201.11,748.63 L201.46,749.35 L201.81,750.07 L202.16,750.79 L202.51,751.51 L202.86,752.23 L203.21,752.95 L203.56,753.67 L203.91,754.38 L204.27,755.10 L204.62,755.82 L204.97,756.54 L205.33,757.25 L205.68,757.97 L206.04,758.68 L206.39,759.40 L206.75,760.12 L207.10,760.83 L207.46,761.55 L207.82,762.26 L208.18,762.98 L208.54,763.69 L208.90,764.40 L209.26,765.12 L209.62,765.83 L209.98,766.54 L210.34,767.26 L210.71,767.97 L211.07,768.68 L211.43,769.39 L211.80,770.10 L212.16,770.81 L212.53,771.52 L212.90,772.23 L213.26,772.94 L213.63,773.65 L214.00,774.36 L214.37,775.07 L214.74,775.78 L215.11,776.49 L215.48,777.20 L215.86,777.90 L216.23,778.61 L216.60,779.32 L216.98,780.02 L217.35,780.73 L217.73,781.43 L218.10,782.14 L218.48,782.84 L218.86,783.55 L219.24,784.25 L219.62,784.96 L220.00,785.66 L220.38,786.36 L220.76,787.06 L221.14,787.77 L221.53,788.47 L221.91,789.17 L222.29,789.87 L222.68,790.57 L223.07,791.27 L223.45,791.97 L223.84,792.67 L224.23,793.37 L224.62,794.07 L225.01,794.76 L225.40,795.46 L225.79,796.16 L226.18,796.85 L226.58,797.55 L226.97,798.24 L227.36,798.94 L227.76,799.63 L228.16,800.33 L228.55,801.02 L228.95,801.72 L229.35,802.41 L229.75,803.10 L230.15,803.79 L230.55,804.48 L230.95,805.17 L231.36,805.87 L231.76,806.56 L232.16,807.24 L232.57,807.93 L232.98,808.62 L233.38,809.31 L233.79,810.00 L234.20,810.68 L234.61,811.37 L235.02,812.06 L235.43,812.74 L235.84,813.43 L236.26,814.11 L236.67,814.80 L237.08,815.48 L237.50,816.16 L237.92,816.84 L238.33,817.53 L238.75,818.21 L239.17,818.89 L239.59,819.57 L240.01,820.25 L240.43,820.93 L240.86,821.61 L241.28,822.28 L241.70,822.96 L242.13,823.64 L242.55,824.31 L242.98,824.99 L243.41,825.66 L243.84,826.34 L244.27,827.01 L244.70,827.69 L245.13,828.36 L245.56,829.03 L246.00,829.70 L246.43,830.38 L246.86,831.05 L247.30,831.72 L247.74,832.39 L248.17,833.05 L248.61,833.72 L249.05,834.39 L249.49,835.06 L249.93,835.72 L250.38,836.39 L250.82,837.05 L251.26,837.72 L251.71,838.38 L252.16,839.05 L252.60,839.71 L253.05,840.37 L253.50,841.03 L253.95,841.69 L254.40,842.35 L254.85,843.01 L255.30,843.67 L255.76,844.33 L256.21,844.99 L256.67,845.65 L257.12,846.30 L257.58,846.96 L258.04,847.61 L258.50,848.27 L258.96,848.92 L259.42,849.57 L259.88,850.23 L260.34,850.88 L260.80,851.53 L261.27,852.18 L261.73,852.83 L262.20,853.48 L262.67,854.13 L263.14,854.78 L263.61,855.42 L264.08,856.07 L264.55,856.72 L265.02,857.36 L265.49,858.00 L265.97,858.65 L266.44,859.29 L266.92,859.93 L267.39,860.57 L267.87,861.22 L268.35,861.86 L268.83,862.50 L269.31,863.13 L269.79,863.77 L270.28,864.41 L270.76,865.05 L271.24,865.68 L271.73,866.32 L272.21,866.95 L272.70,867.58 L273.19,868.22 L273.68,868.85 L274.17,869.48 L274.66,870.11 L275.15,870.74 L275.65,871.37 L276.14,872.00 L276.64,872.63 L277.13,873.25 L277.63,873.88 L278.13,874.51 L278.62,875.13 L279.12,875.75 L279.62,876.38 L280.13,877.00 L280.63,877.62 L281.13,878.24 L281.64,878.86 L282.14,879.48 L282.65,880.10 L283.16,880.72 L283.66,881.33 L284.17,881.95 L284.68,882.57 L285.20,883.18 L285.71,883.79 L286.22,884.41 L286.73,885.02 L287.25,885.63 L287.77,886.24 L288.28,886.85 L288.80,887.46 L289.32,888.07 L289.84,888.67 L290.36,889.28 L290.88,889.89 L291.40,890.49 L291.93,891.10 L292.45,891.70 L292.98,892.30 L293.50,892.90 L294.03,893.50 L294.56,894.10 L295.09,894.70 L295.62,895.30 L296.15,895.90 L296.68,896.49 L297.21,897.09 L297.75,897.69 L298.28,898.28 L298.82,898.87 L299.36,899.46 L299.89,900.06 L300.43,900.65 L300.97,901.24 L301.51,901.83 L302.05,902.41 L302.60,903.00 L303.14,903.59 L303.68,904.17 L304.23,904.76 L304.77,905.34 L305.32,905.92 L305.87,906.51 L306.42,907.09 L306.97,907.67 L307.52,908.25 L308.07,908.83 L308.62,909.40 L309.18,909.98 L309.73,910.56 L310.29,911.13 L310.84,911.70 L311.40,912.28 L311.96,912.85 L312.52,913.42 L313.08,913.99 L313.64,914.56 L314.20,915.13 L314.76,915.70 L315.32,916.27 L315.89,916.83 L316.45,917.40 L317.02,917.96 L317.59,918.52 L318.16,919.09 L318.72,919.65 L319.29,920.21 L319.87,920.77" fill="none" stroke="#ff00ff" stroke-width="1.9" stroke-linejoin="round" stroke-dasharray="6 2.5 1.6 2.5 1.6 2.5" stroke-dashoffset="0" clip-path="url(#cc1)"/>
<path d="M54.17,644.53 L54.23,645.33 L54.29,646.12 L54.35,646.92 L54.40,647.72 L54.46,648.52 L54.52,649.31 L54.58,650.11 L54.63,650.91 L54.69,651.71 L54.75,652.50 L54.81,653.30 L54.87,654.10 L54.93,654.89 L54.98,655.69 L55.04,656.49 L55.10,657.29 L55.16,658.08 L55.22,658.88 L55.28,659.68 L55.34,660.47 L55.40,661.27 L55.46,662.07 L55.52,662.87 L55.58,663.66 L55.64,664.46 L55.70,665.26 L55.76,666.05 L55.82,666.85 L55.88,667.65 L55.94,668.45 L56.00,669.24 L56.06,670.04 L56.12,670.84 L56.18,671.63 L56.24,672.43 L56.30,673.23 L56.36,674.02 L56.42,674.82 L56.48,675.62 L56.54,676.42 L56.60,677.21 L56.67,678.01 L56.73,678.81 L56.79,679.60 L56.85,680.40 L56.91,681.20 L56.97,681.99 L57.04,682.79 L57.10,683.59 L57.16,684.39 L57.22,685.18 L57.29,685.98 L57.35,686.78 L57.41,687.57 L57.47,688.37 L57.54,689.17 L57.60,689.96 L57.66,690.76 L57.73,691.56 L57.79,692.35 L57.85,693.15 L57.92,693.95 L57.98,694.74 L58.05,695.54 L58.11,696.34 L58.17,697.13 L58.24,697.93 L58.30,698.73 L58.37,699.53 L58.43,700.32 L58.50,701.12 L58.56,701.92 L58.63,702.71 L58.69,703.51 L58.76,704.31 L58.82,705.10 L58.89,705.90 L58.95,706.70 L59.02,707.49 L59.08,708.29 L59.15,709.09 L59.22,709.88 L59.28,710.68 L59.35,711.47 L59.42,712.27 L59.48,713.07 L59.55,713.86 L59.62,714.66 L59.68,715.46 L59.75,716.25 L59.82,717.05 L59.89,717.85 L59.95,718.64 L60.02,719.44 L60.09,720.24 L60.16,721.03 L60.23,721.83 L60.29,722.63 L60.36,723.42 L60.43,724.22 L60.50,725.01 L60.57,725.81 L60.64,726.61 L60.71,727.40 L60.78,728.20 L60.85,729.00 L60.92,729.79 L60.99,730.59 L61.06,731.39 L61.13,732.18 L61.20,732.98 L61.27,733.77 L61.34,734.57 L61.41,735.37 L61.48,736.16 L61.55,736.96 L61.62,737.76 L61.69,738.55 L61.76,739.35 L61.84,740.14 L61.91,740.94 L61.98,741.74 L62.05,742.53 L62.12,743.33 L62.20,744.12 L62.27,744.92 L62.34,745.72 L62.41,746.51 L62.49,747.31 L62.56,748.10 L62.64,748.90 L62.71,749.70 L62.78,750.49 L62.86,751.29 L62.93,752.08 L63.01,752.88 L63.08,753.68 L63.16,754.47 L63.23,755.27 L63.31,756.06 L63.38,756.86 L63.46,757.65 L63.53,758.45 L63.61,759.25 L63.68,760.04 L63.76,760.84 L63.84,761.63 L63.91,762.43 L63.99,763.22 L64.07,764.02 L64.15,764.82 L64.22,765.61 L64.30,766.41 L64.38,767.20 L64.46,768.00 L64.54,768.79 L64.61,769.59 L64.69,770.38 L64.77,771.18 L64.85,771.97 L64.93,772.77 L65.01,773.57 L65.09,774.36 L65.17,775.16 L65.25,775.95 L65.33,776.75 L65.41,777.54 L65.49,778.34 L65.58,779.13 L65.66,779.93 L65.74,780.72 L65.82,781.52 L65.90,782.31 L65.99,783.11 L66.07,783.90 L66.15,784.70 L66.24,785.49 L66.32,786.29 L66.40,787.08 L66.49,787.88 L66.57,788.67 L66.66,789.47 L66.74,790.26 L66.83,791.06 L66.91,791.85 L67.00,792.65 L67.08,793.44 L67.17,794.24 L67.26,795.03 L67.34,795.83 L67.43,796.62 L67.52,797.41 L67.61,798.21 L67.69,799.00 L67.78,799.80 L67.87,800.59 L67.96,801.39 L68.05,802.18 L68.14,802.98 L68.23,803.77 L68.32,804.56 L68.41,805.36 L68.50,806.15 L68.59,806.95 L68.68,807.74 L68.78,808.53 L68.87,809.33 L68.96,810.12 L69.05,810.92 L69.15,811.71 L69.24,812.50 L69.34,813.30 L69.43,814.09 L69.53,814.88 L69.62,815.68 L69.72,816.47 L69.81,817.27 L69.91,818.06 L70.01,818.85 L70.10,819.65 L70.20,820.44 L70.30,821.23 L70.40,822.03 L70.50,822.82 L70.60,823.61 L70.70,824.40 L70.80,825.20 L70.90,825.99 L71.00,826.78 L71.10,827.58 L71.21,828.37 L71.31,829.16 L71.41,829.95 L71.52,830.75 L71.62,831.54 L71.73,832.33 L71.83,833.12 L71.94,833.92 L72.04,834.71 L72.15,835.50 L72.26,836.29 L72.37,837.08 L72.48,837.88 L72.59,838.67 L72.70,839.46 L72.81,840.25 L72.92,841.04 L73.03,841.83 L73.15,842.63 L73.26,843.42 L73.37,844.21 L73.49,845.00 L73.60,845.79 L73.72,846.58 L73.84,847.37 L73.96,848.16 L74.07,848.95 L74.19,849.74 L74.32,850.53 L74.44,851.32 L74.56,852.11 L74.68,852.90 L74.81,853.69 L74.93,854.48 L75.06,855.27 L75.18,856.06 L75.31,856.85 L75.44,857.64 L75.57,858.43 L75.70,859.22 L75.83,860.00 L75.97,860.79 L76.10,861.58 L76.24,862.37 L76.37,863.16 L76.51,863.94 L76.65,864.73 L76.79,865.52 L76.93,866.30 L77.08,867.09 L77.22,867.88 L77.37,868.66 L77.52,869.45 L77.67,870.23 L77.82,871.02 L77.97,871.80 L78.13,872.59 L78.29,873.37 L78.45,874.15 L78.61,874.94 L78.77,875.72 L78.94,876.50 L79.11,877.28 L79.28,878.06 L79.45,878.84 L79.63,879.62 L79.81,880.40 L79.99,881.18 L80.17,881.96 L80.36,882.73 L80.55,883.51 L80.75,884.28 L80.95,885.06 L81.15,885.83 L81.36,886.60 L81.58,887.37 L81.80,888.14 L82.02,888.91 L82.25,889.67 L82.49,890.44 L82.74,891.20 L82.99,891.96 L83.25,892.71 L83.53,893.46 L83.81,894.21 L84.11,894.95 L84.42,895.69 L84.75,896.42 L85.10,897.13 L85.47,897.84 L85.87,898.53 L86.31,899.20 L86.80,899.84 L87.34,900.42 L87.96,900.92 L88.68,901.27 L89.47,901.37 L90.24,901.19 L90.93,900.80 L91.53,900.27 L92.06,899.67 L92.53,899.02 L92.95,898.34 L93.35,897.65 L93.71,896.94 L94.05,896.21 L94.37,895.48 L94.68,894.74 L94.97,894.00 L95.25,893.25 L95.52,892.50 L95.78,891.74 L96.03,890.98 L96.28,890.22 L96.51,889.46 L96.74,888.69 L96.96,887.92 L97.18,887.16 L97.39,886.38 L97.60,885.61 L97.80,884.84 L98.00,884.07 L98.20,883.29 L98.39,882.51 L98.58,881.74 L98.76,880.96 L98.95,880.18 L99.13,879.40 L99.30,878.62 L99.48,877.84 L99.65,877.06 L99.82,876.28 L99.98,875.50 L100.15,874.72 L100.31,873.93 L100.47,873.15 L100.63,872.37 L100.79,871.58 L100.94,870.80 L101.10,870.02 L101.25,869.23 L101.40,868.45 L101.55,867.66 L101.70,866.88 L101.85,866.09 L101.99,865.30 L102.13,864.52 L102.28,863.73 L102.42,862.94 L102.56,862.16 L102.70,861.37 L102.84,860.58 L102.98,859.80 L103.11,859.01 L103.25,858.22 L103.38,857.43 L103.52,856.64 L103.65,855.86 L103.78,855.07 L103.91,854.28 L104.04,853.49 L104.17,852.70 L104.30,851.91 L104.43,851.12 L104.56,850.33 L104.68,849.55 L104.81,848.76 L104.93,847.97 L105.06,847.18 L105.18,846.39 L105.31,845.60 L105.43,844.81 L105.55,844.02 L105.67,843.23 L105.80,842.44 L105.92,841.65 L106.04,840.86 L106.16,840.07 L106.28,839.28 L106.39,838.49 L106.51,837.70 L106.63,836.91 L106.75,836.11 L106.87,835.32 L106.98,834.53 L107.10,833.74 L107.22,832.95 L107.33,832.16 L107.45,831.37 L107.56,830.58 L107.68,829.79 L107.79,829.00 L107.91,828.21 L108.02,827.41 L108.13,826.62 L108.25,825.83 L108.36,825.04 L108.47,824.25 L108.58,823.46 L108.70,822.67 L108.81,821.87 L108.92,821.08 L109.03,820.29 L109.14,819.50 L109.25,818.71 L109.37,817.92 L109.48,817.13 L109.59,816.33 L109.70,815.54 L109.81,814.75 L109.92,813.96 L110.03,813.17 L110.14,812.37 L110.25,811.58 L110.35,810.79 L110.46,810.00 L110.57,809.21 L110.68,808.42 L110.79,807.62 L110.90,806.83 L111.01,806.04 L111.12,805.25 L111.22,804.46 L111.33,803.66 L111.44,802.87 L111.55,802.08 L111.66,801.29 L111.76,800.50 L111.87,799.70 L111.98,798.91 L112.09,798.12 L112.20,797.33 L112.30,796.54 L112.41,795.74 L112.52,794.95 L112.63,794.16 L112.73,793.37 L112.84,792.58 L112.95,791.78 L113.06,790.99 L113.16,790.20 L113.27,789.41 L113.38,788.62 L113.49,787.82 L113.60,787.03 L113.70,786.24 L113.81,785.45 L113.92,784.65 L114.03,783.86 L114.13,783.07 L114.24,782.28 L114.35,781.49 L114.46,780.69 L114.57,779.90 L114.67,779.11 L114.78,778.32 L114.89,777.53 L115.00,776.73 L115.11,775.94 L115.22,775.15 L115.33,774.36 L115.43,773.57 L115.54,772.78 L115.65,771.98 L115.76,771.19 L115.87,770.40 L115.98,769.61 L116.09,768.82 L116.20,768.02 L116.31,767.23 L116.42,766.44 L116.53,765.65 L116.64,764.86 L116.75,764.07 L116.86,763.27 L116.97,762.48 L117.09,761.69 L117.20,760.90 L117.31,760.11 L117.42,759.32 L117.53,758.53 L117.65,757.73 L117.76,756.94 L117.87,756.15 L117.98,755.36 L118.10,754.57 L118.21,753.78 L118.32,752.99 L118.44,752.19 L118.55,751.40 L118.67,750.61 L118.78,749.82 L118.90,749.03 L119.01,748.24 L119.13,747.45 L119.25,746.66 L119.36,745.87 L119.48,745.08 L119.60,744.29 L119.71,743.50 L119.83,742.70 L119.95,741.91 L120.07,741.12 L120.19,740.33 L120.31,739.54 L120.43,738.75 L120.55,737.96 L120.67,737.17 L120.79,736.38 L120.91,735.59 L121.04,734.80 L121.16,734.01 L121.28,733.22 L121.41,732.43 L121.53,731.64 L121.65,730.85 L121.78,730.06 L121.91,729.27 L122.03,728.49 L122.16,727.70 L122.29,726.91 L122.41,726.12 L122.54,725.33 L122.67,724.54 L122.80,723.75 L122.93,722.96 L123.06,722.17 L123.20,721.39 L123.33,720.60 L123.46,719.81 L123.60,719.02 L123.73,718.23 L123.87,717.45 L124.00,716.66 L124.14,715.87 L124.28,715.08 L124.42,714.30 L124.56,713.51 L124.70,712.72 L124.84,711.94 L124.98,711.15 L125.12,710.36 L125.27,709.58 L125.41,708.79 L125.56,708.00 L125.71,707.22 L125.86,706.43 L126.01,705.65 L126.16,704.86 L126.31,704.08 L126.46,703.29 L126.61,702.51 L126.77,701.73 L126.93,700.94 L127.08,700.16 L127.24,699.37 L127.40,698.59 L127.57,697.81 L127.73,697.03 L127.90,696.24 L128.06,695.46 L128.23,694.68 L128.40,693.90 L128.57,693.12 L128.75,692.34 L128.92,691.56 L129.10,690.78 L129.28,690.00 L129.46,689.22 L129.64,688.44 L129.83,687.67 L130.02,686.89 L130.21,686.11 L130.40,685.34 L130.59,684.56 L130.79,683.79 L130.99,683.01 L131.20,682.24 L131.40,681.47 L131.61,680.70 L131.82,679.93 L132.04,679.16 L132.26,678.39 L132.48,677.62 L132.71,676.86 L132.94,676.09 L133.18,675.33 L133.42,674.56 L133.66,673.80 L133.91,673.04 L134.16,672.29 L134.42,671.53 L134.69,670.78 L134.96,670.02 L135.24,669.27 L135.53,668.53 L135.82,667.78 L136.12,667.04 L136.43,666.31 L136.75,665.57 L137.08,664.85 L137.42,664.12 L137.77,663.41 L138.14,662.69 L138.52,661.99 L138.91,661.30 L139.32,660.61 L139.75,659.94 L140.21,659.28 L140.68,658.63 L141.18,658.01 L141.71,657.41 L142.27,656.85 L142.87,656.31 L143.51,655.83 L144.18,655.41 L144.90,655.05 L145.65,654.78 L146.43,654.61 L147.23,654.55 L148.03,654.59 L148.81,654.73 L149.58,654.96 L150.32,655.26 L151.03,655.62 L151.71,656.04 L152.37,656.49 L153.01,656.98 L153.62,657.49 L154.21,658.03 L154.78,658.59 L155.33,659.17 L155.87,659.76 L156.40,660.36 L156.91,660.97 L157.41,661.59 L157.90,662.22 L158.38,662.86 L158.86,663.51 L159.32,664.16 L159.78,664.82 L160.23,665.48 L160.67,666.14 L161.10,666.81 L161.53,667.49 L161.96,668.16 L162.38,668.84 L162.80,669.53 L163.21,670.21 L163.61,670.90 L164.02,671.59 L164.41,672.28 L164.81,672.98 L165.20,673.67 L165.59,674.37 L165.98,675.07 L166.36,675.77 L166.74,676.48 L167.12,677.18 L167.50,677.89 L167.87,678.59 L168.24,679.30 L168.61,680.01 L168.98,680.72 L169.34,681.43 L169.71,682.14 L170.07,682.85 L170.43,683.57 L170.79,684.28 L171.14,685.00 L171.50,685.71 L171.86,686.43 L172.21,687.15 L172.56,687.86 L172.91,688.58 L173.26,689.30 L173.61,690.02 L173.96,690.74 L174.31,691.46 L174.65,692.18 L175.00,692.90 L175.34,693.62 L175.69,694.34 L176.03,695.06 L176.37,695.79 L176.72,696.51 L177.06,697.23 L177.40,697.96 L177.74,698.68 L178.08,699.40 L178.42,700.13 L178.76,700.85 L179.10,701.57 L179.43,702.30 L179.77,703.02 L180.11,703.75 L180.45,704.47 L180.78,705.20 L181.12,705.92 L181.46,706.65 L181.79,707.37 L182.13,708.10 L182.46,708.82 L182.80,709.55 L183.14,710.27 L183.47,711.00 L183.81,711.72 L184.14,712.45 L184.48,713.18 L184.81,713.90 L185.15,714.63 L185.48,715.35 L185.82,716.08 L186.15,716.80 L186.49,717.53 L186.82,718.26 L187.16,718.98 L187.49,719.71 L187.83,720.43 L188.16,721.16 L188.50,721.88 L188.84,722.61 L189.17,723.33 L189.51,724.06 L189.84,724.78 L190.18,725.51 L190.52,726.23 L190.86,726.96 L191.19,727.68 L191.53,728.41 L191.87,729.13 L192.21,729.86 L192.54,730.58 L192.88,731.31 L193.22,732.03 L193.56,732.75 L193.90,733.48 L194.24,734.20 L194.58,734.92 L194.92,735.65 L195.26,736.37 L195.60,737.09 L195.94,737.82 L196.28,738.54 L196.63,739.26 L196.97,739.98 L197.31,740.71 L197.66,741.43 L198.00,742.15 L198.34,742.87 L198.69,743.59 L199.03,744.31 L199.38,745.03 L199.72,745.75 L200.07,746.48 L200.42,747.20 L200.76,747.92 L201.11,748.63 L201.46,749.35 L201.81,750.07 L202.16,750.79 L202.51,751.51 L202.86,752.23 L203.21,752.95 L203.56,753.67 L203.91,754.38 L204.27,755.10 L204.62,755.82 L204.97,756.54 L205.33,757.25 L205.68,757.97 L206.04,758.68 L206.39,759.40 L206.75,760.12 L207.10,760.83 L207.46,761.55 L207.82,762.26 L208.18,762.98 L208.54,763.69 L208.90,764.40 L209.26,765.12 L209.62,765.83 L209.98,766.54 L210.34,767.26 L210.71,767.97 L211.07,768.68 L211.43,769.39 L211.80,770.10 L212.16,770.81 L212.53,771.52 L212.90,772.23 L213.26,772.94 L213.63,773.65 L214.00,774.36 L214.37,775.07 L214.74,775.78 L215.11,776.49 L215.48,777.20 L215.86,777.90 L216.23,778.61 L216.60,779.32 L216.98,780.02 L217.35,780.73 L217.73,781.43 L218.10,782.14 L218.48,782.84 L218.86,783.55 L219.24,784.25 L219.62,784.96 L220.00,785.66 L220.38,786.36 L220.76,787.06 L221.14,787.77 L221.53,788.47 L221.91,789.17 L222.29,789.87 L222.68,790.57 L223.07,791.27 L223.45,791.97 L223.84,792.67 L224.23,793.37 L224.62,794.07 L225.01,794.76 L225.40,795.46 L225.79,796.16 L226.18,796.85 L226.58,797.55 L226.97,798.24 L227.36,798.94 L227.76,799.63 L228.16,800.33 L228.55,801.02 L228.95,801.72 L229.35,802.41 L229.75,803.10 L230.15,803.79 L230.55,804.48 L230.95,805.17 L231.36,805.87 L231.76,806.56 L232.16,807.24 L232.57,807.93 L232.98,808.62 L233.38,809.31 L233.79,810.00 L234.20,810.68 L234.61,811.37 L235.02,812.06 L235.43,812.74 L235.84,813.43 L236.26,814.11 L236.67,814.80 L237.08,815.48 L237.50,816.16 L237.92,816.84 L238.33,817.53 L238.75,818.21 L239.17,818.89 L239.59,819.57 L240.01,820.25 L240.43,820.93 L240.86,821.61 L241.28,822.28 L241.70,822.96 L242.13,823.64 L242.55,824.31 L242.98,824.99 L243.41,825.66 L243.84,826.34 L244.27,827.01 L244.70,827.69 L245.13,828.36 L245.56,829.03 L246.00,829.70 L246.43,830.38 L246.86,831.05 L247.30,831.72 L247.74,832.39 L248.17,833.05 L248.61,833.72 L249.05,834.39 L249.49,835.06 L249.93,835.72 L250.38,836.39 L250.82,837.05 L251.26,837.72 L251.71,838.38 L252.16,839.05 L252.60,839.71 L253.05,840.37 L253.50,841.03 L253.95,841.69 L254.40,842.35 L254.85,843.01 L255.30,843.67 L255.76,844.33 L256.21,844.99 L256.67,845.65 L257.12,846.30 L257.58,846.96 L258.04,847.61 L258.50,848.27 L258.96,848.92 L259.42,849.57 L259.88,850.23 L260.34,850.88 L260.80,851.53 L261.27,852.18 L261.73,852.83 L262.20,853.48 L262.67,854.13 L263.14,854.78 L263.61,855.42 L264.08,856.07 L264.55,856.72 L265.02,857.36 L265.49,858.00 L265.97,858.65 L266.44,859.29 L266.92,859.93 L267.39,860.57 L267.87,861.22 L268.35,861.86 L268.83,862.50 L269.31,863.13 L269.79,863.77 L270.28,864.41 L270.76,865.05 L271.24,865.68 L271.73,866.32 L272.21,866.95 L272.70,867.58 L273.19,868.22 L273.68,868.85 L274.17,869.48 L274.66,870.11 L275.15,870.74 L275.65,871.37 L276.14,872.00 L276.64,872.63 L277.13,873.25 L277.63,873.88 L278.13,874.51 L278.62,875.13 L279.12,875.75 L279.62,876.38 L280.13,877.00 L280.63,877.62 L281.13,878.24 L281.64,878.86 L282.14,879.48 L282.65,880.10 L283.16,880.72 L283.66,881.33 L284.17,881.95 L284.68,882.57 L285.20,883.18 L285.71,883.79 L286.22,884.41 L286.73,885.02 L287.25,885.63 L287.77,886.24 L288.28,886.85 L288.80,887.46 L289.32,888.07 L289.84,888.67 L290.36,889.28 L290.88,889.89 L291.40,890.49 L291.93,891.10 L292.45,891.70 L292.98,892.30 L293.50,892.90 L294.03,893.50 L294.56,894.10 L295.09,894.70 L295.62,895.30 L296.15,895.90 L296.68,896.49 L297.21,897.09 L297.75,897.69 L298.28,898.28 L298.82,898.87 L299.36,899.46 L299.89,900.06 L300.43,900.65 L300.97,901.24 L301.51,901.83 L302.05,902.41 L302.60,903.00 L303.14,903.59 L303.68,904.17 L304.23,904.76 L304.77,905.34 L305.32,905.92 L305.87,906.51 L306.42,907.09 L306.97,907.67 L307.52,908.25 L308.07,908.83 L308.62,909.40 L309.18,909.98 L309.73,910.56 L310.29,911.13 L310.84,911.70 L311.40,912.28 L311.96,912.85 L312.52,913.42 L313.08,913.99 L313.64,914.56 L314.20,915.13 L314.76,915.70 L315.32,916.27 L315.89,916.83 L316.45,917.40 L317.02,917.96 L317.59,918.52 L318.16,919.09 L318.72,919.65 L319.29,920.21 L319.87,920.77" fill="none" stroke="#00ff00" stroke-width="1.7" stroke-linejoin="round" clip-path="url(#cc1)"/>
<line x1="48" y1="649.6" x2="48" y2="915.6" stroke="#000" stroke-width="1.6"/>
<line x1="47.2" y1="914.8" x2="340.2" y2="914.8" stroke="#000" stroke-width="1.6"/>
<line x1="65.15" y1="914.8" x2="65.15" y2="919.9" stroke="#000" stroke-width="1.3"/>
<text x="65.35" y="930" font-size="8.6" text-anchor="middle" font-weight="normal" font-style="normal" fill="#000" letter-spacing="2.4" stroke="#000" stroke-width="0.22">6</text>
<line x1="99.46" y1="914.8" x2="99.46" y2="919.9" stroke="#000" stroke-width="1.3"/>
<text x="99.66" y="930" font-size="8.6" text-anchor="middle" font-weight="normal" font-style="normal" fill="#000" letter-spacing="2.4" stroke="#000" stroke-width="0.22">8</text>
<line x1="133.76" y1="914.8" x2="133.76" y2="919.9" stroke="#000" stroke-width="1.3"/>
<text x="133.96" y="930" font-size="8.6" text-anchor="middle" font-weight="normal" font-style="normal" fill="#000" letter-spacing="2.4" stroke="#000" stroke-width="0.22">10</text>
<line x1="168.07" y1="914.8" x2="168.07" y2="919.9" stroke="#000" stroke-width="1.3"/>
<text x="168.27" y="930" font-size="8.6" text-anchor="middle" font-weight="normal" font-style="normal" fill="#000" letter-spacing="2.4" stroke="#000" stroke-width="0.22">12</text>
<line x1="202.38" y1="914.8" x2="202.38" y2="919.9" stroke="#000" stroke-width="1.3"/>
<text x="202.58" y="930" font-size="8.6" text-anchor="middle" font-weight="normal" font-style="normal" fill="#000" letter-spacing="2.4" stroke="#000" stroke-width="0.22">14</text>
<line x1="236.68" y1="914.8" x2="236.68" y2="919.9" stroke="#000" stroke-width="1.3"/>
<text x="236.88" y="930" font-size="8.6" text-anchor="middle" font-weight="normal" font-style="normal" fill="#000" letter-spacing="2.4" stroke="#000" stroke-width="0.22">16</text>
<line x1="270.99" y1="914.8" x2="270.99" y2="919.9" stroke="#000" stroke-width="1.3"/>
<text x="271.19" y="930" font-size="8.6" text-anchor="middle" font-weight="normal" font-style="normal" fill="#000" letter-spacing="2.4" stroke="#000" stroke-width="0.22">18</text>
<line x1="305.29" y1="914.8" x2="305.29" y2="919.9" stroke="#000" stroke-width="1.3"/>
<text x="305.49" y="930" font-size="8.6" text-anchor="middle" font-weight="normal" font-style="normal" fill="#000" letter-spacing="2.4" stroke="#000" stroke-width="0.22">20</text>
<line x1="339.6" y1="914.8" x2="339.6" y2="919.9" stroke="#000" stroke-width="1.3"/>
<text x="339.8" y="930" font-size="8.6" text-anchor="middle" font-weight="normal" font-style="normal" fill="#000" letter-spacing="2.4" stroke="#000" stroke-width="0.22">22</text>
<line x1="39.5" y1="660.38" x2="48" y2="660.38" stroke="#000" stroke-width="1.5"/>
<text x="36.8" y="663.08" font-size="8.9" text-anchor="end" font-weight="normal" font-style="normal" fill="#000" letter-spacing="3.5" stroke="#000" stroke-width="0.22">60</text>
<line x1="39.5" y1="711.26" x2="48" y2="711.26" stroke="#000" stroke-width="1.5"/>
<text x="36.8" y="713.96" font-size="8.9" text-anchor="end" font-weight="normal" font-style="normal" fill="#000" letter-spacing="3.5" stroke="#000" stroke-width="0.22">55</text>
<line x1="39.5" y1="762.15" x2="48" y2="762.15" stroke="#000" stroke-width="1.5"/>
<text x="36.8" y="764.85" font-size="8.9" text-anchor="end" font-weight="normal" font-style="normal" fill="#000" letter-spacing="3.5" stroke="#000" stroke-width="0.22">50</text>
<line x1="39.5" y1="813.03" x2="48" y2="813.03" stroke="#000" stroke-width="1.5"/>
<text x="36.8" y="815.73" font-size="8.9" text-anchor="end" font-weight="normal" font-style="normal" fill="#000" letter-spacing="3.5" stroke="#000" stroke-width="0.22">45</text>
<line x1="39.5" y1="863.92" x2="48" y2="863.92" stroke="#000" stroke-width="1.5"/>
<text x="36.8" y="866.62" font-size="8.9" text-anchor="end" font-weight="normal" font-style="normal" fill="#000" letter-spacing="3.5" stroke="#000" stroke-width="0.22">40</text>
<line x1="39.5" y1="914.8" x2="48" y2="914.8" stroke="#000" stroke-width="1.5"/>
<text x="36.8" y="917.5" font-size="8.9" text-anchor="end" font-weight="normal" font-style="normal" fill="#000" letter-spacing="3.5" stroke="#000" stroke-width="0.22">35</text>
<text transform="translate(6.7,787.7) rotate(-90)" text-anchor="middle" font-size="9.2" letter-spacing="0.35"><tspan font-size="10.4">V</tspan><tspan font-size="4.6" dy="3" dx="-0.7" font-style="italic">F</tspan><tspan dy="-3" dx="0.5" font-style="italic">(MeV)</tspan></text>
<text x="177" y="947.5" text-anchor="middle" font-size="8.6" letter-spacing="1.5" stroke="#000" stroke-width="0.15">r(<tspan font-style="italic" dx="0.8">fm</tspan> )</text>
<rect x="202.4" y="655.3" width="117" height="60.7" stroke="#666" stroke-width="1" fill="none"/>
<line x1="205.1" y1="660.6" x2="233.8" y2="660.6" stroke="#000" stroke-width="1.9" stroke-dasharray="1.8 8.7"/>
<text font-size="8.5" font-weight="bold" stroke="#000" stroke-width="0.12"><tspan x="236.1" y="663.66">E</tspan><tspan x="243.8" y="666.76" font-size="5.0" letter-spacing="1.3">c.m.</tspan><tspan x="258.1" y="663.66">=</tspan><tspan x="268.6" y="663.66" letter-spacing="1.4">50</tspan><tspan x="284.6" y="663.66" font-style="italic" letter-spacing="2.9">MeV</tspan></text>
<line x1="204.7" y1="672.7" x2="233.8" y2="672.7" stroke="#ff0000" stroke-width="1.9" stroke-dasharray="8.4 9.6"/>
<text font-size="8.5" font-weight="bold" stroke="#000" stroke-width="0.12"><tspan x="236.1" y="675.76">E</tspan><tspan x="243.8" y="678.86" font-size="5.0" letter-spacing="1.3">c.m.</tspan><tspan x="258.1" y="675.76">=</tspan><tspan x="268.6" y="675.76" letter-spacing="1.4">55</tspan><tspan x="284.6" y="675.76" font-style="italic" letter-spacing="2.9">MeV</tspan></text>
<line x1="204.7" y1="684.8" x2="233.8" y2="684.8" stroke="#0000ff" stroke-width="1.9" stroke-dasharray="10.4 5.1 1.6 5.1 8 10"/>
<text font-size="8.5" font-weight="bold" stroke="#000" stroke-width="0.12"><tspan x="236.1" y="687.86">E</tspan><tspan x="243.8" y="690.96" font-size="5.0" letter-spacing="1.3">c.m.</tspan><tspan x="258.1" y="687.86">=</tspan><tspan x="268.8" y="687.86">V</tspan><tspan x="276.3" y="690.96" font-size="5.0" letter-spacing="1.3">B0</tspan></text>
<line x1="204.7" y1="696.9" x2="233.8" y2="696.9" stroke="#ff00ff" stroke-width="1.9" stroke-dasharray="7.2 3.5 1.8 2.6 1.8 4.5 8 10"/>
<text font-size="8.5" font-weight="bold" stroke="#000" stroke-width="0.12"><tspan x="236.1" y="699.96">E</tspan><tspan x="243.8" y="703.06" font-size="5.0" letter-spacing="1.3">c.m.</tspan><tspan x="258.1" y="699.96">=</tspan><tspan x="268.6" y="699.96" letter-spacing="1.4">70</tspan><tspan x="284.6" y="699.96" font-style="italic" letter-spacing="2.9">MeV</tspan></text>
<line x1="204.7" y1="709" x2="233.8" y2="709" stroke="#00ff00" stroke-width="1.9"/>
<text font-size="8.5" font-weight="bold" stroke="#000" stroke-width="0.12"><tspan x="236.1" y="712.06">E</tspan><tspan x="243.8" y="715.16" font-size="5.0" letter-spacing="1.3">c.m.</tspan><tspan x="258.1" y="712.06">=</tspan><tspan x="268.6" y="712.06" letter-spacing="1.4">80</tspan><tspan x="284.6" y="712.06" font-style="italic" letter-spacing="2.9">MeV</tspan></text>
<rect x="223.2" y="721.2" width="86.9" height="13.4" stroke="#666" stroke-width="1" fill="none"/>
<text x="237.01" y="727.1" font-size="4.8" font-weight="bold" font-style="normal" fill="#000" textLength="6.68" lengthAdjust="spacing" stroke="#000" stroke-width="0.18">17</text>
<text x="245.16" y="731.8" font-size="7.4" font-weight="bold" font-style="normal" fill="#000" stroke="#000" stroke-width="0.18">O</text>
<text x="258.26" y="731.8" font-size="7.4" font-weight="bold" font-style="normal" fill="#000" stroke="#000" stroke-width="0.18">+</text>
<text x="269.41" y="727.1" font-size="4.8" font-weight="bold" font-style="normal" fill="#000" textLength="11.58" lengthAdjust="spacing" stroke="#000" stroke-width="0.18">144</text>
<text x="281.26" y="731.8" font-size="7.4" font-weight="bold" font-style="normal" fill="#000" stroke="#000" stroke-width="0.18">S</text>
<text x="289.96" y="731.8" font-size="7.4" font-weight="bold" font-style="normal" fill="#000" stroke="#000" stroke-width="0.18">m</text>
<text x="263.01" y="750.5" font-size="8.2" font-weight="bold" font-style="normal" fill="#000" textLength="15.32" lengthAdjust="spacing" stroke="#000" stroke-width="0.25">(a)</text>
<clipPath id="cc2"><rect x="413.1" y="649.5" width="301.19999999999993" height="265.49999999999994"/></clipPath>
<line x1="413.1" y1="649.7" x2="714.3" y2="649.7" stroke="#a0a0a0" stroke-width="1.2"/>
<line x1="714.3" y1="649.7" x2="714.3" y2="915" stroke="#a0a0a0" stroke-width="1.2"/>
<path d="M493.10,920.64 L493.46,919.63 L493.83,918.62 L494.19,917.62 L494.56,916.63 L494.92,915.64 L495.28,914.65 L495.65,913.67 L496.01,912.70 L496.38,911.73 L496.74,910.76 L497.10,909.81 L497.47,908.85 L497.83,907.91 L498.19,906.97 L498.56,906.03 L498.92,905.10 L499.29,904.18 L499.65,903.26 L500.01,902.34 L500.38,901.43 L500.74,900.53 L501.11,899.64 L501.47,898.74 L501.83,897.86 L502.20,896.98 L502.56,896.11 L502.93,895.24 L503.29,894.37 L503.65,893.52 L504.02,892.67 L504.38,891.82 L504.75,890.98 L505.11,890.14 L505.47,889.32 L505.84,888.49 L506.20,887.68 L506.56,886.86 L506.93,886.06 L507.29,885.26 L507.66,884.46 L508.02,883.68 L508.38,882.89 L508.75,882.12 L509.11,881.34 L509.48,880.58 L509.84,879.82 L510.20,879.06 L510.57,878.32 L510.93,877.57 L511.30,876.84 L511.66,876.11 L512.02,875.38 L512.39,874.66 L512.75,873.95 L513.12,873.24 L513.48,872.54 L513.84,871.84 L514.21,871.15 L514.57,870.47 L514.93,869.79 L515.30,869.12 L515.66,868.45 L516.03,867.79 L516.39,867.13 L516.75,866.49 L517.12,865.84 L517.48,865.20 L517.85,864.57 L518.21,863.95 L518.57,863.33 L518.94,862.71 L519.30,862.10 L519.67,861.50 L520.03,860.90 L520.39,860.31 L520.76,859.72 L521.12,859.14 L521.48,858.57 L521.85,858.00 L522.21,857.44 L522.58,856.88 L522.94,856.33 L523.30,855.79 L523.67,855.25 L524.03,854.72 L524.40,854.19 L524.76,853.67 L525.12,853.15 L525.49,852.64 L525.85,852.13 L526.22,851.64 L526.58,851.14 L526.94,850.66 L527.31,850.17 L527.67,849.70 L528.04,849.23 L528.40,848.76 L528.76,848.30 L529.13,847.85 L529.49,847.40 L529.85,846.96 L530.22,846.53 L530.58,846.10 L530.95,845.67 L531.31,845.25 L531.67,844.84 L532.04,844.43 L532.40,844.03 L532.77,843.63 L533.13,843.24 L533.49,842.86 L533.86,842.48 L534.22,842.11 L534.59,841.74 L534.95,841.37 L535.31,841.02 L535.68,840.67 L536.04,840.32 L536.41,839.98 L536.77,839.65 L537.13,839.32 L537.50,838.99 L537.86,838.67 L538.22,838.36 L538.59,838.05 L538.95,837.75 L539.32,837.46 L539.68,837.17 L540.04,836.88 L540.41,836.60 L540.77,836.33 L541.14,836.06 L541.50,835.79 L541.86,835.54 L542.23,835.28 L542.59,835.04 L542.96,834.80 L543.32,834.56 L543.68,834.33 L544.05,834.10 L544.41,833.88 L544.78,833.67 L545.14,833.46 L545.50,833.25 L545.87,833.05 L546.23,832.86 L546.59,832.67 L546.96,832.49 L547.32,832.31 L547.69,832.14 L548.05,831.97 L548.41,831.81 L548.78,831.65 L549.14,831.50 L549.51,831.35 L549.87,831.21 L550.23,831.07 L550.60,830.94 L550.96,830.81 L551.33,830.69 L551.69,830.58 L552.05,830.47 L552.42,830.36 L552.78,830.26 L553.15,830.16 L553.51,830.07 L553.87,829.99 L554.24,829.91 L554.60,829.83 L554.96,829.76 L555.33,829.69 L555.69,829.63 L556.06,829.58 L556.42,829.53 L556.78,829.48 L557.15,829.44 L557.51,829.40 L557.88,829.37 L558.24,829.34 L558.60,829.32 L558.97,829.30 L559.33,829.29 L559.70,829.28 L560.06,829.28 L560.42,829.28 L560.79,829.29 L561.15,829.30 L561.52,829.32 L561.88,829.34 L562.24,829.37 L562.61,829.40 L562.97,829.43 L563.33,829.47 L563.70,829.52 L564.06,829.56 L564.43,829.62 L564.79,829.68 L565.15,829.74 L565.52,829.81 L565.88,829.88 L566.25,829.95 L566.61,830.04 L566.97,830.12 L567.34,830.21 L567.70,830.31 L568.07,830.40 L568.43,830.51 L568.79,830.62 L569.16,830.73 L569.52,830.84 L569.88,830.96 L570.25,831.09 L570.61,831.22 L570.98,831.35 L571.34,831.49 L571.70,831.63 L572.07,831.78 L572.43,831.93 L572.80,832.09 L573.16,832.25 L573.52,832.41 L573.89,832.58 L574.25,832.75 L574.62,832.93 L574.98,833.11 L575.34,833.30 L575.71,833.48 L576.07,833.68 L576.44,833.87 L576.80,834.08 L577.16,834.28 L577.53,834.49 L577.89,834.71 L578.25,834.92 L578.62,835.14 L578.98,835.37 L579.35,835.60 L579.71,835.83 L580.07,836.07 L580.44,836.31 L580.80,836.56 L581.17,836.81 L581.53,837.06 L581.89,837.32 L582.26,837.58 L582.62,837.85 L582.99,838.11 L583.35,838.39 L583.71,838.66 L584.08,838.94 L584.44,839.23 L584.81,839.52 L585.17,839.81 L585.53,840.10 L585.90,840.40 L586.26,840.71 L586.62,841.01 L586.99,841.32 L587.35,841.64 L587.72,841.96 L588.08,842.28 L588.44,842.60 L588.81,842.93 L589.17,843.27 L589.54,843.60 L589.90,843.94 L590.26,844.28 L590.63,844.63 L590.99,844.98 L591.36,845.34 L591.72,845.69 L592.08,846.05 L592.45,846.42 L592.81,846.79 L593.18,847.16 L593.54,847.53 L593.90,847.91 L594.27,848.29 L594.63,848.68 L594.99,849.07 L595.36,849.46 L595.72,849.86 L596.09,850.26 L596.45,850.66 L596.81,851.06 L597.18,851.47 L597.54,851.89 L597.91,852.30 L598.27,852.72 L598.63,853.14 L599.00,853.57 L599.36,854.00 L599.73,854.43 L600.09,854.87 L600.45,855.31 L600.82,855.75 L601.18,856.19 L601.55,856.64 L601.91,857.09 L602.27,857.55 L602.64,858.01 L603.00,858.47 L603.36,858.93 L603.73,859.40 L604.09,859.87 L604.46,860.35 L604.82,860.83 L605.18,861.31 L605.55,861.79 L605.91,862.28 L606.28,862.77 L606.64,863.26 L607.00,863.75 L607.37,864.25 L607.73,864.76 L608.10,865.26 L608.46,865.77 L608.82,866.28 L609.19,866.80 L609.55,867.31 L609.92,867.83 L610.28,868.36 L610.64,868.88 L611.01,869.41 L611.37,869.95 L611.73,870.48 L612.10,871.02 L612.46,871.56 L612.83,872.11 L613.19,872.65 L613.55,873.21 L613.92,873.76 L614.28,874.32 L614.65,874.88 L615.01,875.44 L615.37,876.00 L615.74,876.57 L616.10,877.14 L616.47,877.72 L616.83,878.29 L617.19,878.87 L617.56,879.46 L617.92,880.04 L618.28,880.63 L618.65,881.22 L619.01,881.82 L619.38,882.42 L619.74,883.02 L620.10,883.62 L620.47,884.23 L620.83,884.84 L621.20,885.45 L621.56,886.06 L621.92,886.68 L622.29,887.30 L622.65,887.92 L623.02,888.55 L623.38,889.18 L623.74,889.81 L624.11,890.45 L624.47,891.09 L624.84,891.73 L625.20,892.37 L625.56,893.02 L625.93,893.67 L626.29,894.32 L626.65,894.98 L627.02,895.63 L627.38,896.30 L627.75,896.96 L628.11,897.63 L628.47,898.30 L628.84,898.97 L629.20,899.65 L629.57,900.32 L629.93,901.01 L630.29,901.69 L630.66,902.38 L631.02,903.07 L631.39,903.76 L631.75,904.46 L632.11,905.16 L632.48,905.86 L632.84,906.56 L633.21,907.27 L633.57,907.98 L633.93,908.70 L634.30,909.41 L634.66,910.13 L635.02,910.86 L635.39,911.58 L635.75,912.31 L636.12,913.04 L636.48,913.78 L636.84,914.52 L637.21,915.26 L637.57,916.00 L637.94,916.75 L638.30,917.50" fill="none" stroke="#000" stroke-width="2.0" stroke-linejoin="round" stroke-dasharray="2 6.5" stroke-dashoffset="0" clip-path="url(#cc2)"/>
<path d="M483.20,925.37 L483.61,923.93 L484.02,922.50 L484.43,921.08 L484.84,919.67 L485.26,918.27 L485.67,916.88 L486.08,915.51 L486.49,914.14 L486.90,912.78 L487.31,911.44 L487.72,910.10 L488.13,908.78 L488.54,907.46 L488.95,906.16 L489.37,904.86 L489.78,903.58 L490.19,902.31 L490.60,901.04 L491.01,899.79 L491.42,898.54 L491.83,897.31 L492.24,896.09 L492.65,894.87 L493.06,893.67 L493.48,892.47 L493.89,891.29 L494.30,890.11 L494.71,888.95 L495.12,887.79 L495.53,886.65 L495.94,885.51 L496.35,884.39 L496.76,883.27 L497.17,882.16 L497.59,881.06 L498.00,879.98 L498.41,878.90 L498.82,877.83 L499.23,876.77 L499.64,875.72 L500.05,874.67 L500.46,873.64 L500.87,872.62 L501.29,871.61 L501.70,870.60 L502.11,869.61 L502.52,868.62 L502.93,867.64 L503.34,866.67 L503.75,865.72 L504.16,864.76 L504.57,863.82 L504.98,862.89 L505.40,861.97 L505.81,861.05 L506.22,860.15 L506.63,859.25 L507.04,858.36 L507.45,857.48 L507.86,856.61 L508.27,855.75 L508.68,854.90 L509.09,854.05 L509.51,853.22 L509.92,852.39 L510.33,851.57 L510.74,850.76 L511.15,849.96 L511.56,849.17 L511.97,848.38 L512.38,847.60 L512.79,846.84 L513.21,846.08 L513.62,845.32 L514.03,844.58 L514.44,843.85 L514.85,843.12 L515.26,842.40 L515.67,841.69 L516.08,840.99 L516.49,840.29 L516.90,839.61 L517.32,838.93 L517.73,838.26 L518.14,837.60 L518.55,836.94 L518.96,836.30 L519.37,835.66 L519.78,835.03 L520.19,834.41 L520.60,833.79 L521.01,833.19 L521.43,832.59 L521.84,832.00 L522.25,831.41 L522.66,830.84 L523.07,830.27 L523.48,829.71 L523.89,829.16 L524.30,828.61 L524.71,828.07 L525.12,827.54 L525.54,827.02 L525.95,826.51 L526.36,826.00 L526.77,825.50 L527.18,825.01 L527.59,824.52 L528.00,824.04 L528.41,823.57 L528.82,823.11 L529.24,822.65 L529.65,822.21 L530.06,821.76 L530.47,821.33 L530.88,820.90 L531.29,820.48 L531.70,820.07 L532.11,819.67 L532.52,819.27 L532.93,818.88 L533.35,818.49 L533.76,818.12 L534.17,817.75 L534.58,817.38 L534.99,817.03 L535.40,816.68 L535.81,816.34 L536.22,816.00 L536.63,815.67 L537.04,815.35 L537.46,815.04 L537.87,814.73 L538.28,814.43 L538.69,814.13 L539.10,813.85 L539.51,813.57 L539.92,813.29 L540.33,813.03 L540.74,812.76 L541.15,812.51 L541.57,812.26 L541.98,812.02 L542.39,811.79 L542.80,811.56 L543.21,811.34 L543.62,811.13 L544.03,810.92 L544.44,810.72 L544.85,810.52 L545.27,810.33 L545.68,810.15 L546.09,809.97 L546.50,809.81 L546.91,809.64 L547.32,809.49 L547.73,809.34 L548.14,809.19 L548.55,809.05 L548.96,808.92 L549.38,808.80 L549.79,808.68 L550.20,808.56 L550.61,808.46 L551.02,808.36 L551.43,808.26 L551.84,808.17 L552.25,808.09 L552.66,808.02 L553.07,807.95 L553.49,807.88 L553.90,807.82 L554.31,807.77 L554.72,807.73 L555.13,807.69 L555.54,807.65 L555.95,807.62 L556.36,807.60 L556.77,807.58 L557.18,807.57 L557.60,807.57 L558.01,807.57 L558.42,807.58 L558.83,807.59 L559.24,807.61 L559.65,807.63 L560.06,807.66 L560.47,807.70 L560.88,807.74 L561.30,807.79 L561.71,807.84 L562.12,807.90 L562.53,807.96 L562.94,808.03 L563.35,808.11 L563.76,808.19 L564.17,808.28 L564.58,808.37 L564.99,808.47 L565.41,808.57 L565.82,808.68 L566.23,808.80 L566.64,808.92 L567.05,809.04 L567.46,809.17 L567.87,809.31 L568.28,809.45 L568.69,809.60 L569.10,809.75 L569.52,809.91 L569.93,810.07 L570.34,810.24 L570.75,810.41 L571.16,810.59 L571.57,810.78 L571.98,810.97 L572.39,811.16 L572.80,811.36 L573.22,811.57 L573.63,811.78 L574.04,812.00 L574.45,812.22 L574.86,812.44 L575.27,812.68 L575.68,812.91 L576.09,813.16 L576.50,813.40 L576.91,813.66 L577.33,813.91 L577.74,814.18 L578.15,814.44 L578.56,814.72 L578.97,814.99 L579.38,815.28 L579.79,815.56 L580.20,815.86 L580.61,816.16 L581.02,816.46 L581.44,816.77 L581.85,817.08 L582.26,817.40 L582.67,817.72 L583.08,818.05 L583.49,818.38 L583.90,818.72 L584.31,819.06 L584.72,819.41 L585.13,819.76 L585.55,820.12 L585.96,820.48 L586.37,820.84 L586.78,821.22 L587.19,821.59 L587.60,821.97 L588.01,822.36 L588.42,822.75 L588.83,823.14 L589.25,823.54 L589.66,823.95 L590.07,824.36 L590.48,824.77 L590.89,825.19 L591.30,825.61 L591.71,826.04 L592.12,826.48 L592.53,826.91 L592.94,827.36 L593.36,827.80 L593.77,828.25 L594.18,828.71 L594.59,829.17 L595.00,829.64 L595.41,830.11 L595.82,830.58 L596.23,831.06 L596.64,831.54 L597.05,832.03 L597.47,832.52 L597.88,833.02 L598.29,833.52 L598.70,834.03 L599.11,834.54 L599.52,835.05 L599.93,835.57 L600.34,836.10 L600.75,836.63 L601.16,837.16 L601.58,837.70 L601.99,838.24 L602.40,838.78 L602.81,839.33 L603.22,839.89 L603.63,840.45 L604.04,841.01 L604.45,841.58 L604.86,842.15 L605.28,842.73 L605.69,843.31 L606.10,843.90 L606.51,844.49 L606.92,845.08 L607.33,845.68 L607.74,846.28 L608.15,846.89 L608.56,847.50 L608.97,848.12 L609.39,848.74 L609.80,849.36 L610.21,849.99 L610.62,850.62 L611.03,851.26 L611.44,851.90 L611.85,852.54 L612.26,853.19 L612.67,853.85 L613.08,854.50 L613.50,855.17 L613.91,855.83 L614.32,856.50 L614.73,857.18 L615.14,857.86 L615.55,858.54 L615.96,859.23 L616.37,859.92 L616.78,860.61 L617.19,861.31 L617.61,862.02 L618.02,862.72 L618.43,863.43 L618.84,864.15 L619.25,864.87 L619.66,865.59 L620.07,866.32 L620.48,867.05 L620.89,867.79 L621.31,868.53 L621.72,869.28 L622.13,870.02 L622.54,870.78 L622.95,871.53 L623.36,872.29 L623.77,873.06 L624.18,873.83 L624.59,874.60 L625.00,875.37 L625.42,876.16 L625.83,876.94 L626.24,877.73 L626.65,878.52 L627.06,879.32 L627.47,880.12 L627.88,880.92 L628.29,881.73 L628.70,882.54 L629.11,883.36 L629.53,884.18 L629.94,885.00 L630.35,885.83 L630.76,886.66 L631.17,887.50 L631.58,888.34 L631.99,889.18 L632.40,890.03 L632.81,890.88 L633.23,891.74 L633.64,892.60 L634.05,893.46 L634.46,894.33 L634.87,895.20 L635.28,896.07 L635.69,896.95 L636.10,897.83 L636.51,898.72 L636.92,899.61 L637.34,900.50 L637.75,901.40 L638.16,902.30 L638.57,903.21 L638.98,904.12 L639.39,905.03 L639.80,905.95 L640.21,906.87 L640.62,907.79 L641.03,908.72 L641.45,909.66 L641.86,910.59 L642.27,911.53 L642.68,912.48 L643.09,913.42 L643.50,914.37 L643.91,915.33 L644.32,916.29 L644.73,917.25 L645.14,918.22 L645.56,919.19 L645.97,920.16 L646.38,921.14 L646.79,922.12 L647.20,923.11" fill="none" stroke="#ff0000" stroke-width="1.8" stroke-linejoin="round" stroke-dasharray="7.4 6" stroke-dashoffset="0" clip-path="url(#cc2)"/>
<path d="M449.20,932.23 L449.76,929.32 L450.32,926.43 L450.88,923.56 L451.44,920.70 L452.00,917.87 L452.55,915.05 L453.11,912.25 L453.67,909.47 L454.23,906.70 L454.79,903.95 L455.35,901.23 L455.91,898.52 L456.47,895.83 L457.03,893.15 L457.59,890.50 L458.15,887.86 L458.71,885.24 L459.26,882.64 L459.82,880.06 L460.38,877.50 L460.94,874.96 L461.50,872.43 L462.06,869.92 L462.62,867.43 L463.18,864.96 L463.74,862.51 L464.30,860.08 L464.86,857.66 L465.42,855.27 L465.97,852.89 L466.53,850.53 L467.09,848.19 L467.65,845.87 L468.21,843.57 L468.77,841.28 L469.33,839.02 L469.89,836.77 L470.45,834.54 L471.01,832.33 L471.57,830.14 L472.13,827.97 L472.68,825.81 L473.24,823.68 L473.80,821.56 L474.36,819.46 L474.92,817.38 L475.48,815.32 L476.04,813.27 L476.60,811.25 L477.16,809.24 L477.72,807.26 L478.28,805.29 L478.83,803.34 L479.39,801.40 L479.95,799.49 L480.51,797.60 L481.07,795.72 L481.63,793.86 L482.19,792.02 L482.75,790.20 L483.31,788.39 L483.87,786.61 L484.43,784.84 L484.99,783.09 L485.54,781.36 L486.10,779.65 L486.66,777.96 L487.22,776.28 L487.78,774.62 L488.34,772.98 L488.90,771.36 L489.46,769.76 L490.02,768.17 L490.58,766.61 L491.14,765.06 L491.70,763.52 L492.25,762.01 L492.81,760.51 L493.37,759.04 L493.93,757.58 L494.49,756.13 L495.05,754.71 L495.61,753.30 L496.17,751.91 L496.73,750.54 L497.29,749.19 L497.85,747.85 L498.41,746.53 L498.96,745.23 L499.52,743.94 L500.08,742.68 L500.64,741.43 L501.20,740.19 L501.76,738.98 L502.32,737.78 L502.88,736.60 L503.44,735.43 L504.00,734.29 L504.56,733.16 L505.11,732.05 L505.67,730.95 L506.23,729.87 L506.79,728.81 L507.35,727.76 L507.91,726.73 L508.47,725.72 L509.03,724.73 L509.59,723.75 L510.15,722.79 L510.71,721.84 L511.27,720.91 L511.82,720.00 L512.38,719.10 L512.94,718.22 L513.50,717.36 L514.06,716.51 L514.62,715.68 L515.18,714.87 L515.74,714.07 L516.30,713.28 L516.86,712.52 L517.42,711.77 L517.98,711.03 L518.53,710.31 L519.09,709.61 L519.65,708.92 L520.21,708.25 L520.77,707.59 L521.33,706.95 L521.89,706.32 L522.45,705.71 L523.01,705.12 L523.57,704.54 L524.13,703.97 L524.68,703.42 L525.24,702.89 L525.80,702.37 L526.36,701.87 L526.92,701.38 L527.48,700.90 L528.04,700.44 L528.60,700.00 L529.16,699.57 L529.72,699.16 L530.28,698.76 L530.84,698.37 L531.39,698.00 L531.95,697.64 L532.51,697.30 L533.07,696.97 L533.63,696.66 L534.19,696.36 L534.75,696.07 L535.31,695.80 L535.87,695.55 L536.43,695.30 L536.99,695.07 L537.55,694.86 L538.10,694.66 L538.66,694.47 L539.22,694.30 L539.78,694.14 L540.34,693.99 L540.90,693.86 L541.46,693.74 L542.02,693.63 L542.58,693.54 L543.14,693.46 L543.70,693.39 L544.26,693.34 L544.81,693.30 L545.37,693.27 L545.93,693.26 L546.49,693.26 L547.05,693.27 L547.61,693.30 L548.17,693.34 L548.73,693.39 L549.29,693.45 L549.85,693.53 L550.41,693.61 L550.96,693.72 L551.52,693.83 L552.08,693.95 L552.64,694.09 L553.20,694.24 L553.76,694.41 L554.32,694.58 L554.88,694.77 L555.44,694.97 L556.00,695.18 L556.56,695.40 L557.12,695.64 L557.67,695.88 L558.23,696.14 L558.79,696.41 L559.35,696.69 L559.91,696.99 L560.47,697.29 L561.03,697.61 L561.59,697.93 L562.15,698.27 L562.71,698.62 L563.27,698.99 L563.83,699.36 L564.38,699.74 L564.94,700.14 L565.50,700.54 L566.06,700.96 L566.62,701.39 L567.18,701.83 L567.74,702.28 L568.30,702.74 L568.86,703.21 L569.42,703.69 L569.98,704.18 L570.54,704.69 L571.09,705.20 L571.65,705.72 L572.21,706.26 L572.77,706.80 L573.33,707.36 L573.89,707.92 L574.45,708.50 L575.01,709.08 L575.57,709.68 L576.13,710.29 L576.69,710.90 L577.24,711.53 L577.80,712.16 L578.36,712.81 L578.92,713.46 L579.48,714.13 L580.04,714.80 L580.60,715.48 L581.16,716.18 L581.72,716.88 L582.28,717.59 L582.84,718.31 L583.40,719.05 L583.95,719.79 L584.51,720.54 L585.07,721.29 L585.63,722.06 L586.19,722.84 L586.75,723.63 L587.31,724.42 L587.87,725.23 L588.43,726.04 L588.99,726.86 L589.55,727.69 L590.11,728.53 L590.66,729.38 L591.22,730.24 L591.78,731.10 L592.34,731.98 L592.90,732.86 L593.46,733.75 L594.02,734.65 L594.58,735.56 L595.14,736.48 L595.70,737.40 L596.26,738.33 L596.82,739.28 L597.37,740.22 L597.93,741.18 L598.49,742.15 L599.05,743.12 L599.61,744.10 L600.17,745.09 L600.73,746.09 L601.29,747.10 L601.85,748.11 L602.41,749.13 L602.97,750.16 L603.52,751.20 L604.08,752.24 L604.64,753.30 L605.20,754.36 L605.76,755.42 L606.32,756.50 L606.88,757.58 L607.44,758.67 L608.00,759.77 L608.56,760.87 L609.12,761.98 L609.68,763.10 L610.23,764.23 L610.79,765.36 L611.35,766.50 L611.91,767.65 L612.47,768.81 L613.03,769.97 L613.59,771.14 L614.15,772.31 L614.71,773.50 L615.27,774.69 L615.83,775.88 L616.39,777.09 L616.94,778.30 L617.50,779.52 L618.06,780.74 L618.62,781.97 L619.18,783.21 L619.74,784.45 L620.30,785.70 L620.86,786.96 L621.42,788.22 L621.98,789.49 L622.54,790.77 L623.09,792.05 L623.65,793.34 L624.21,794.64 L624.77,795.94 L625.33,797.25 L625.89,798.56 L626.45,799.88 L627.01,801.21 L627.57,802.54 L628.13,803.88 L628.69,805.22 L629.25,806.57 L629.80,807.93 L630.36,809.29 L630.92,810.66 L631.48,812.04 L632.04,813.42 L632.60,814.81 L633.16,816.20 L633.72,817.60 L634.28,819.00 L634.84,820.41 L635.40,821.82 L635.96,823.25 L636.51,824.67 L637.07,826.10 L637.63,827.54 L638.19,828.98 L638.75,830.43 L639.31,831.89 L639.87,833.35 L640.43,834.81 L640.99,836.28 L641.55,837.76 L642.11,839.24 L642.67,840.73 L643.22,842.22 L643.78,843.71 L644.34,845.22 L644.90,846.72 L645.46,848.24 L646.02,849.75 L646.58,851.28 L647.14,852.80 L647.70,854.34 L648.26,855.87 L648.82,857.42 L649.37,858.96 L649.93,860.51 L650.49,862.07 L651.05,863.63 L651.61,865.20 L652.17,866.77 L652.73,868.35 L653.29,869.93 L653.85,871.52 L654.41,873.11 L654.97,874.70 L655.53,876.30 L656.08,877.91 L656.64,879.51 L657.20,881.13 L657.76,882.74 L658.32,884.37 L658.88,885.99 L659.44,887.62 L660.00,889.26 L660.56,890.90 L661.12,892.54 L661.68,894.19 L662.24,895.84 L662.79,897.50 L663.35,899.16 L663.91,900.83 L664.47,902.50 L665.03,904.17 L665.59,905.85 L666.15,907.53 L666.71,909.21 L667.27,910.90 L667.83,912.60 L668.39,914.29 L668.95,915.99 L669.50,917.70 L670.06,919.41 L670.62,921.12 L671.18,922.84 L671.74,924.56 L672.30,926.28" fill="none" stroke="#0000ff" stroke-width="1.9" stroke-linejoin="round" stroke-dasharray="8.2 2.6 1.6 2.6" stroke-dashoffset="0" clip-path="url(#cc2)"/>
<path d="M440.60,941.50 L441.19,937.77 L441.79,934.06 L442.38,930.39 L442.98,926.74 L443.57,923.11 L444.17,919.52 L444.76,915.95 L445.35,912.41 L445.95,908.89 L446.54,905.40 L447.14,901.94 L447.73,898.51 L448.33,895.10 L448.92,891.72 L449.51,888.37 L450.11,885.04 L450.70,881.74 L451.30,878.46 L451.89,875.22 L452.48,872.00 L453.08,868.80 L453.67,865.64 L454.27,862.49 L454.86,859.38 L455.46,856.29 L456.05,853.23 L456.64,850.19 L457.24,847.18 L457.83,844.20 L458.43,841.24 L459.02,838.31 L459.62,835.41 L460.21,832.53 L460.80,829.67 L461.40,826.85 L461.99,824.05 L462.59,821.27 L463.18,818.52 L463.78,815.79 L464.37,813.10 L464.96,810.42 L465.56,807.77 L466.15,805.15 L466.75,802.55 L467.34,799.98 L467.93,797.44 L468.53,794.92 L469.12,792.42 L469.72,789.95 L470.31,787.50 L470.91,785.08 L471.50,782.68 L472.09,780.31 L472.69,777.97 L473.28,775.64 L473.88,773.35 L474.47,771.07 L475.07,768.83 L475.66,766.60 L476.25,764.40 L476.85,762.23 L477.44,760.08 L478.04,757.95 L478.63,755.85 L479.23,753.77 L479.82,751.71 L480.41,749.68 L481.01,747.67 L481.60,745.69 L482.20,743.73 L482.79,741.80 L483.38,739.88 L483.98,737.99 L484.57,736.13 L485.17,734.29 L485.76,732.47 L486.36,730.67 L486.95,728.90 L487.54,727.15 L488.14,725.42 L488.73,723.72 L489.33,722.04 L489.92,720.38 L490.52,718.74 L491.11,717.13 L491.70,715.54 L492.30,713.97 L492.89,712.43 L493.49,710.90 L494.08,709.40 L494.68,707.92 L495.27,706.47 L495.86,705.03 L496.46,703.62 L497.05,702.23 L497.65,700.86 L498.24,699.51 L498.84,698.18 L499.43,696.88 L500.02,695.59 L500.62,694.33 L501.21,693.09 L501.81,691.87 L502.40,690.67 L502.99,689.49 L503.59,688.34 L504.18,687.20 L504.78,686.09 L505.37,684.99 L505.97,683.92 L506.56,682.86 L507.15,681.83 L507.75,680.82 L508.34,679.83 L508.94,678.85 L509.53,677.90 L510.13,676.97 L510.72,676.06 L511.31,675.17 L511.91,674.29 L512.50,673.44 L513.10,672.61 L513.69,671.79 L514.29,671.00 L514.88,670.22 L515.47,669.47 L516.07,668.73 L516.66,668.02 L517.26,667.32 L517.85,666.64 L518.44,665.98 L519.04,665.34 L519.63,664.71 L520.23,664.11 L520.82,663.52 L521.42,662.95 L522.01,662.41 L522.60,661.87 L523.20,661.36 L523.79,660.87 L524.39,660.39 L524.98,659.93 L525.58,659.49 L526.17,659.07 L526.76,658.66 L527.36,658.27 L527.95,657.90 L528.55,657.55 L529.14,657.22 L529.74,656.90 L530.33,656.60 L530.92,656.31 L531.52,656.04 L532.11,655.79 L532.71,655.56 L533.30,655.34 L533.89,655.14 L534.49,654.96 L535.08,654.79 L535.68,654.64 L536.27,654.51 L536.87,654.39 L537.46,654.29 L538.05,654.20 L538.65,654.13 L539.24,654.08 L539.84,654.04 L540.43,654.02 L541.03,654.01 L541.62,654.02 L542.21,654.04 L542.81,654.08 L543.40,654.14 L544.00,654.21 L544.59,654.29 L545.19,654.39 L545.78,654.51 L546.37,654.64 L546.97,654.78 L547.56,654.94 L548.16,655.12 L548.75,655.30 L549.35,655.51 L549.94,655.73 L550.53,655.96 L551.13,656.20 L551.72,656.46 L552.32,656.74 L552.91,657.03 L553.50,657.33 L554.10,657.65 L554.69,657.98 L555.29,658.32 L555.88,658.68 L556.48,659.05 L557.07,659.43 L557.66,659.83 L558.26,660.24 L558.85,660.66 L559.45,661.10 L560.04,661.55 L560.64,662.01 L561.23,662.49 L561.82,662.98 L562.42,663.48 L563.01,663.99 L563.61,664.52 L564.20,665.06 L564.80,665.61 L565.39,666.18 L565.98,666.75 L566.58,667.34 L567.17,667.94 L567.77,668.55 L568.36,669.18 L568.95,669.81 L569.55,670.46 L570.14,671.12 L570.74,671.79 L571.33,672.48 L571.93,673.17 L572.52,673.88 L573.11,674.60 L573.71,675.32 L574.30,676.06 L574.90,676.82 L575.49,677.58 L576.09,678.35 L576.68,679.13 L577.27,679.93 L577.87,680.74 L578.46,681.55 L579.06,682.38 L579.65,683.22 L580.25,684.07 L580.84,684.92 L581.43,685.79 L582.03,686.67 L582.62,687.56 L583.22,688.46 L583.81,689.37 L584.41,690.29 L585.00,691.22 L585.59,692.16 L586.19,693.11 L586.78,694.07 L587.38,695.04 L587.97,696.02 L588.56,697.01 L589.16,698.01 L589.75,699.01 L590.35,700.03 L590.94,701.06 L591.54,702.09 L592.13,703.14 L592.72,704.19 L593.32,705.25 L593.91,706.32 L594.51,707.41 L595.10,708.49 L595.70,709.59 L596.29,710.70 L596.88,711.82 L597.48,712.94 L598.07,714.07 L598.67,715.21 L599.26,716.36 L599.86,717.52 L600.45,718.69 L601.04,719.86 L601.64,721.05 L602.23,722.24 L602.83,723.44 L603.42,724.65 L604.01,725.86 L604.61,727.09 L605.20,728.32 L605.80,729.56 L606.39,730.80 L606.99,732.06 L607.58,733.32 L608.17,734.59 L608.77,735.87 L609.36,737.15 L609.96,738.45 L610.55,739.75 L611.15,741.05 L611.74,742.37 L612.33,743.69 L612.93,745.02 L613.52,746.35 L614.12,747.70 L614.71,749.05 L615.31,750.41 L615.90,751.77 L616.49,753.14 L617.09,754.52 L617.68,755.90 L618.28,757.30 L618.87,758.69 L619.46,760.10 L620.06,761.51 L620.65,762.93 L621.25,764.35 L621.84,765.79 L622.44,767.22 L623.03,768.67 L623.62,770.12 L624.22,771.58 L624.81,773.04 L625.41,774.51 L626.00,775.98 L626.60,777.47 L627.19,778.95 L627.78,780.45 L628.38,781.95 L628.97,783.45 L629.57,784.97 L630.16,786.48 L630.76,788.01 L631.35,789.54 L631.94,791.07 L632.54,792.61 L633.13,794.16 L633.73,795.71 L634.32,797.27 L634.92,798.84 L635.51,800.41 L636.10,801.98 L636.70,803.56 L637.29,805.15 L637.89,806.74 L638.48,808.34 L639.07,809.94 L639.67,811.55 L640.26,813.16 L640.86,814.78 L641.45,816.40 L642.05,818.03 L642.64,819.66 L643.23,821.30 L643.83,822.95 L644.42,824.60 L645.02,826.25 L645.61,827.91 L646.21,829.57 L646.80,831.24 L647.39,832.92 L647.99,834.60 L648.58,836.28 L649.18,837.97 L649.77,839.66 L650.37,841.36 L650.96,843.07 L651.55,844.78 L652.15,846.49 L652.74,848.21 L653.34,849.93 L653.93,851.66 L654.52,853.39 L655.12,855.13 L655.71,856.87 L656.31,858.61 L656.90,860.36 L657.50,862.12 L658.09,863.88 L658.68,865.64 L659.28,867.41 L659.87,869.19 L660.47,870.96 L661.06,872.75 L661.66,874.53 L662.25,876.32 L662.84,878.12 L663.44,879.92 L664.03,881.72 L664.63,883.53 L665.22,885.34 L665.82,887.16 L666.41,888.98 L667.00,890.81 L667.60,892.64 L668.19,894.47 L668.79,896.31 L669.38,898.15 L669.97,900.00 L670.57,901.85 L671.16,903.71 L671.76,905.57 L672.35,907.43 L672.95,909.30 L673.54,911.17 L674.13,913.05 L674.73,914.93 L675.32,916.81 L675.92,918.70 L676.51,920.59 L677.11,922.49 L677.70,924.39" fill="none" stroke="#ff00ff" stroke-width="1.9" stroke-linejoin="round" stroke-dasharray="6 2.5 1.6 2.5 1.6 2.5" stroke-dashoffset="0" clip-path="url(#cc2)"/>
<path d="M440.60,941.50 L441.19,937.77 L441.79,934.06 L442.38,930.39 L442.98,926.74 L443.57,923.11 L444.17,919.52 L444.76,915.95 L445.35,912.41 L445.95,908.89 L446.54,905.40 L447.14,901.94 L447.73,898.51 L448.33,895.10 L448.92,891.72 L449.51,888.37 L450.11,885.04 L450.70,881.74 L451.30,878.46 L451.89,875.22 L452.48,872.00 L453.08,868.80 L453.67,865.64 L454.27,862.49 L454.86,859.38 L455.46,856.29 L456.05,853.23 L456.64,850.19 L457.24,847.18 L457.83,844.20 L458.43,841.24 L459.02,838.31 L459.62,835.41 L460.21,832.53 L460.80,829.67 L461.40,826.85 L461.99,824.05 L462.59,821.27 L463.18,818.52 L463.78,815.79 L464.37,813.10 L464.96,810.42 L465.56,807.77 L466.15,805.15 L466.75,802.55 L467.34,799.98 L467.93,797.44 L468.53,794.92 L469.12,792.42 L469.72,789.95 L470.31,787.50 L470.91,785.08 L471.50,782.68 L472.09,780.31 L472.69,777.97 L473.28,775.64 L473.88,773.35 L474.47,771.07 L475.07,768.83 L475.66,766.60 L476.25,764.40 L476.85,762.23 L477.44,760.08 L478.04,757.95 L478.63,755.85 L479.23,753.77 L479.82,751.71 L480.41,749.68 L481.01,747.67 L481.60,745.69 L482.20,743.73 L482.79,741.80 L483.38,739.88 L483.98,737.99 L484.57,736.13 L485.17,734.29 L485.76,732.47 L486.36,730.67 L486.95,728.90 L487.54,727.15 L488.14,725.42 L488.73,723.72 L489.33,722.04 L489.92,720.38 L490.52,718.74 L491.11,717.13 L491.70,715.54 L492.30,713.97 L492.89,712.43 L493.49,710.90 L494.08,709.40 L494.68,707.92 L495.27,706.47 L495.86,705.03 L496.46,703.62 L497.05,702.23 L497.65,700.86 L498.24,699.51 L498.84,698.18 L499.43,696.88 L500.02,695.59 L500.62,694.33 L501.21,693.09 L501.81,691.87 L502.40,690.67 L502.99,689.49 L503.59,688.34 L504.18,687.20 L504.78,686.09 L505.37,684.99 L505.97,683.92 L506.56,682.86 L507.15,681.83 L507.75,680.82 L508.34,679.83 L508.94,678.85 L509.53,677.90 L510.13,676.97 L510.72,676.06 L511.31,675.17 L511.91,674.29 L512.50,673.44 L513.10,672.61 L513.69,671.79 L514.29,671.00 L514.88,670.22 L515.47,669.47 L516.07,668.73 L516.66,668.02 L517.26,667.32 L517.85,666.64 L518.44,665.98 L519.04,665.34 L519.63,664.71 L520.23,664.11 L520.82,663.52 L521.42,662.95 L522.01,662.41 L522.60,661.87 L523.20,661.36 L523.79,660.87 L524.39,660.39 L524.98,659.93 L525.58,659.49 L526.17,659.07 L526.76,658.66 L527.36,658.27 L527.95,657.90 L528.55,657.55 L529.14,657.22 L529.74,656.90 L530.33,656.60 L530.92,656.31 L531.52,656.04 L532.11,655.79 L532.71,655.56 L533.30,655.34 L533.89,655.14 L534.49,654.96 L535.08,654.79 L535.68,654.64 L536.27,654.51 L536.87,654.39 L537.46,654.29 L538.05,654.20 L538.65,654.13 L539.24,654.08 L539.84,654.04 L540.43,654.02 L541.03,654.01 L541.62,654.02 L542.21,654.04 L542.81,654.08 L543.40,654.14 L544.00,654.21 L544.59,654.29 L545.19,654.39 L545.78,654.51 L546.37,654.64 L546.97,654.78 L547.56,654.94 L548.16,655.12 L548.75,655.30 L549.35,655.51 L549.94,655.73 L550.53,655.96 L551.13,656.20 L551.72,656.46 L552.32,656.74 L552.91,657.03 L553.50,657.33 L554.10,657.65 L554.69,657.98 L555.29,658.32 L555.88,658.68 L556.48,659.05 L557.07,659.43 L557.66,659.83 L558.26,660.24 L558.85,660.66 L559.45,661.10 L560.04,661.55 L560.64,662.01 L561.23,662.49 L561.82,662.98 L562.42,663.48 L563.01,663.99 L563.61,664.52 L564.20,665.06 L564.80,665.61 L565.39,666.18 L565.98,666.75 L566.58,667.34 L567.17,667.94 L567.77,668.55 L568.36,669.18 L568.95,669.81 L569.55,670.46 L570.14,671.12 L570.74,671.79 L571.33,672.48 L571.93,673.17 L572.52,673.88 L573.11,674.60 L573.71,675.32 L574.30,676.06 L574.90,676.82 L575.49,677.58 L576.09,678.35 L576.68,679.13 L577.27,679.93 L577.87,680.74 L578.46,681.55 L579.06,682.38 L579.65,683.22 L580.25,684.07 L580.84,684.92 L581.43,685.79 L582.03,686.67 L582.62,687.56 L583.22,688.46 L583.81,689.37 L584.41,690.29 L585.00,691.22 L585.59,692.16 L586.19,693.11 L586.78,694.07 L587.38,695.04 L587.97,696.02 L588.56,697.01 L589.16,698.01 L589.75,699.01 L590.35,700.03 L590.94,701.06 L591.54,702.09 L592.13,703.14 L592.72,704.19 L593.32,705.25 L593.91,706.32 L594.51,707.41 L595.10,708.49 L595.70,709.59 L596.29,710.70 L596.88,711.82 L597.48,712.94 L598.07,714.07 L598.67,715.21 L599.26,716.36 L599.86,717.52 L600.45,718.69 L601.04,719.86 L601.64,721.05 L602.23,722.24 L602.83,723.44 L603.42,724.65 L604.01,725.86 L604.61,727.09 L605.20,728.32 L605.80,729.56 L606.39,730.80 L606.99,732.06 L607.58,733.32 L608.17,734.59 L608.77,735.87 L609.36,737.15 L609.96,738.45 L610.55,739.75 L611.15,741.05 L611.74,742.37 L612.33,743.69 L612.93,745.02 L613.52,746.35 L614.12,747.70 L614.71,749.05 L615.31,750.41 L615.90,751.77 L616.49,753.14 L617.09,754.52 L617.68,755.90 L618.28,757.30 L618.87,758.69 L619.46,760.10 L620.06,761.51 L620.65,762.93 L621.25,764.35 L621.84,765.79 L622.44,767.22 L623.03,768.67 L623.62,770.12 L624.22,771.58 L624.81,773.04 L625.41,774.51 L626.00,775.98 L626.60,777.47 L627.19,778.95 L627.78,780.45 L628.38,781.95 L628.97,783.45 L629.57,784.97 L630.16,786.48 L630.76,788.01 L631.35,789.54 L631.94,791.07 L632.54,792.61 L633.13,794.16 L633.73,795.71 L634.32,797.27 L634.92,798.84 L635.51,800.41 L636.10,801.98 L636.70,803.56 L637.29,805.15 L637.89,806.74 L638.48,808.34 L639.07,809.94 L639.67,811.55 L640.26,813.16 L640.86,814.78 L641.45,816.40 L642.05,818.03 L642.64,819.66 L643.23,821.30 L643.83,822.95 L644.42,824.60 L645.02,826.25 L645.61,827.91 L646.21,829.57 L646.80,831.24 L647.39,832.92 L647.99,834.60 L648.58,836.28 L649.18,837.97 L649.77,839.66 L650.37,841.36 L650.96,843.07 L651.55,844.78 L652.15,846.49 L652.74,848.21 L653.34,849.93 L653.93,851.66 L654.52,853.39 L655.12,855.13 L655.71,856.87 L656.31,858.61 L656.90,860.36 L657.50,862.12 L658.09,863.88 L658.68,865.64 L659.28,867.41 L659.87,869.19 L660.47,870.96 L661.06,872.75 L661.66,874.53 L662.25,876.32 L662.84,878.12 L663.44,879.92 L664.03,881.72 L664.63,883.53 L665.22,885.34 L665.82,887.16 L666.41,888.98 L667.00,890.81 L667.60,892.64 L668.19,894.47 L668.79,896.31 L669.38,898.15 L669.97,900.00 L670.57,901.85 L671.16,903.71 L671.76,905.57 L672.35,907.43 L672.95,909.30 L673.54,911.17 L674.13,913.05 L674.73,914.93 L675.32,916.81 L675.92,918.70 L676.51,920.59 L677.11,922.49 L677.70,924.39" fill="none" stroke="#00ff00" stroke-width="1.7" stroke-linejoin="round" clip-path="url(#cc2)"/>
<line x1="551.7" y1="654.2" x2="715" y2="654.2" stroke="#ff0000" stroke-width="1.7"/>
<path d="M541.7,654.2 L552.7,651.8 L552.7,656.6 Z" fill="#ff0000"/>
<line x1="552.3" y1="691.9" x2="715" y2="691.9" stroke="#ff0000" stroke-width="1.7"/>
<path d="M542.3,691.9 L553.3,689.5 L553.3,694.3 Z" fill="#ff0000"/>
<line x1="566.2" y1="808" x2="715" y2="808" stroke="#ff0000" stroke-width="1.7"/>
<path d="M556.2,808 L567.2,805.6 L567.2,810.4 Z" fill="#ff0000"/>
<line x1="566.6" y1="829.3" x2="715" y2="829.3" stroke="#ff0000" stroke-width="1.7"/>
<path d="M556.6,829.3 L567.6,826.9 L567.6,831.7 Z" fill="#ff0000"/>
<line x1="413.1" y1="649.1" x2="413.1" y2="915.8" stroke="#000" stroke-width="1.6"/>
<line x1="412.3" y1="915" x2="714.9" y2="915" stroke="#000" stroke-width="1.6"/>
<line x1="413.1" y1="915" x2="413.1" y2="918" stroke="#000" stroke-width="1.2"/>
<line x1="423.86" y1="915" x2="423.86" y2="918" stroke="#000" stroke-width="1.2"/>
<line x1="434.61" y1="915" x2="434.61" y2="918" stroke="#000" stroke-width="1.2"/>
<line x1="445.37" y1="915" x2="445.37" y2="918" stroke="#000" stroke-width="1.2"/>
<line x1="456.13" y1="915" x2="456.13" y2="918" stroke="#000" stroke-width="1.2"/>
<line x1="466.89" y1="915" x2="466.89" y2="918" stroke="#000" stroke-width="1.2"/>
<line x1="477.64" y1="915" x2="477.64" y2="918" stroke="#000" stroke-width="1.2"/>
<line x1="488.4" y1="915" x2="488.4" y2="918" stroke="#000" stroke-width="1.2"/>
<line x1="499.16" y1="915" x2="499.16" y2="918" stroke="#000" stroke-width="1.2"/>
<line x1="509.91" y1="915" x2="509.91" y2="918" stroke="#000" stroke-width="1.2"/>
<line x1="520.67" y1="915" x2="520.67" y2="918" stroke="#000" stroke-width="1.2"/>
<line x1="531.43" y1="915" x2="531.43" y2="918" stroke="#000" stroke-width="1.2"/>
<line x1="542.19" y1="915" x2="542.19" y2="918" stroke="#000" stroke-width="1.2"/>
<line x1="552.94" y1="915" x2="552.94" y2="918" stroke="#000" stroke-width="1.2"/>
<line x1="563.7" y1="915" x2="563.7" y2="918" stroke="#000" stroke-width="1.2"/>
<line x1="574.46" y1="915" x2="574.46" y2="918" stroke="#000" stroke-width="1.2"/>
<line x1="585.21" y1="915" x2="585.21" y2="918" stroke="#000" stroke-width="1.2"/>
<line x1="595.97" y1="915" x2="595.97" y2="918" stroke="#000" stroke-width="1.2"/>
<line x1="606.73" y1="915" x2="606.73" y2="918" stroke="#000" stroke-width="1.2"/>
<line x1="617.49" y1="915" x2="617.49" y2="918" stroke="#000" stroke-width="1.2"/>
<line x1="628.24" y1="915" x2="628.24" y2="918" stroke="#000" stroke-width="1.2"/>
<line x1="639" y1="915" x2="639" y2="918" stroke="#000" stroke-width="1.2"/>
<line x1="649.76" y1="915" x2="649.76" y2="918" stroke="#000" stroke-width="1.2"/>
<line x1="660.51" y1="915" x2="660.51" y2="918" stroke="#000" stroke-width="1.2"/>
<line x1="671.27" y1="915" x2="671.27" y2="918" stroke="#000" stroke-width="1.2"/>
<line x1="682.03" y1="915" x2="682.03" y2="918" stroke="#000" stroke-width="1.2"/>
<line x1="692.79" y1="915" x2="692.79" y2="918" stroke="#000" stroke-width="1.2"/>
<line x1="703.54" y1="915" x2="703.54" y2="918" stroke="#000" stroke-width="1.2"/>
<line x1="714.3" y1="915" x2="714.3" y2="918" stroke="#000" stroke-width="1.2"/>
<line x1="445.37" y1="915" x2="445.37" y2="919.5" stroke="#000" stroke-width="1.3"/>
<text x="445.77" y="930.2" font-size="8.4" text-anchor="middle" font-weight="normal" font-style="normal" fill="#000" letter-spacing="2.8" stroke="#000" stroke-width="0.22">9.9</text>
<line x1="499.16" y1="915" x2="499.16" y2="919.5" stroke="#000" stroke-width="1.3"/>
<text x="499.56" y="930.2" font-size="8.4" text-anchor="middle" font-weight="normal" font-style="normal" fill="#000" letter-spacing="2.8" stroke="#000" stroke-width="0.22">10.4</text>
<line x1="552.94" y1="915" x2="552.94" y2="919.5" stroke="#000" stroke-width="1.3"/>
<text x="553.34" y="930.2" font-size="8.4" text-anchor="middle" font-weight="normal" font-style="normal" fill="#000" letter-spacing="2.8" stroke="#000" stroke-width="0.22">10.9</text>
<line x1="606.73" y1="915" x2="606.73" y2="919.5" stroke="#000" stroke-width="1.3"/>
<text x="607.13" y="930.2" font-size="8.4" text-anchor="middle" font-weight="normal" font-style="normal" fill="#000" letter-spacing="2.8" stroke="#000" stroke-width="0.22">11.4</text>
<line x1="660.51" y1="915" x2="660.51" y2="919.5" stroke="#000" stroke-width="1.3"/>
<text x="660.91" y="930.2" font-size="8.4" text-anchor="middle" font-weight="normal" font-style="normal" fill="#000" letter-spacing="2.8" stroke="#000" stroke-width="0.22">11.9</text>
<line x1="714.3" y1="915" x2="714.3" y2="919.5" stroke="#000" stroke-width="1.3"/>
<text x="714.7" y="930.2" font-size="8.4" text-anchor="middle" font-weight="normal" font-style="normal" fill="#000" letter-spacing="2.8" stroke="#000" stroke-width="0.22">12.4</text>
<line x1="408.9" y1="915" x2="413.1" y2="915" stroke="#000" stroke-width="1.2"/>
<line x1="408.9" y1="904.8" x2="413.1" y2="904.8" stroke="#000" stroke-width="1.2"/>
<line x1="408.9" y1="894.59" x2="413.1" y2="894.59" stroke="#000" stroke-width="1.2"/>
<line x1="408.9" y1="884.39" x2="413.1" y2="884.39" stroke="#000" stroke-width="1.2"/>
<line x1="408.9" y1="874.18" x2="413.1" y2="874.18" stroke="#000" stroke-width="1.2"/>
<line x1="408.9" y1="863.98" x2="413.1" y2="863.98" stroke="#000" stroke-width="1.2"/>
<line x1="408.9" y1="853.78" x2="413.1" y2="853.78" stroke="#000" stroke-width="1.2"/>
<line x1="408.9" y1="843.57" x2="413.1" y2="843.57" stroke="#000" stroke-width="1.2"/>
<line x1="408.9" y1="833.37" x2="413.1" y2="833.37" stroke="#000" stroke-width="1.2"/>
<line x1="408.9" y1="823.17" x2="413.1" y2="823.17" stroke="#000" stroke-width="1.2"/>
<line x1="408.9" y1="812.96" x2="413.1" y2="812.96" stroke="#000" stroke-width="1.2"/>
<line x1="408.9" y1="802.76" x2="413.1" y2="802.76" stroke="#000" stroke-width="1.2"/>
<line x1="408.9" y1="792.55" x2="413.1" y2="792.55" stroke="#000" stroke-width="1.2"/>
<line x1="408.9" y1="782.35" x2="413.1" y2="782.35" stroke="#000" stroke-width="1.2"/>
<line x1="408.9" y1="772.15" x2="413.1" y2="772.15" stroke="#000" stroke-width="1.2"/>
<line x1="408.9" y1="761.94" x2="413.1" y2="761.94" stroke="#000" stroke-width="1.2"/>
<line x1="408.9" y1="751.74" x2="413.1" y2="751.74" stroke="#000" stroke-width="1.2"/>
<line x1="408.9" y1="741.53" x2="413.1" y2="741.53" stroke="#000" stroke-width="1.2"/>
<line x1="408.9" y1="731.33" x2="413.1" y2="731.33" stroke="#000" stroke-width="1.2"/>
<line x1="408.9" y1="721.13" x2="413.1" y2="721.13" stroke="#000" stroke-width="1.2"/>
<line x1="408.9" y1="710.92" x2="413.1" y2="710.92" stroke="#000" stroke-width="1.2"/>
<line x1="408.9" y1="700.72" x2="413.1" y2="700.72" stroke="#000" stroke-width="1.2"/>
<line x1="408.9" y1="690.52" x2="413.1" y2="690.52" stroke="#000" stroke-width="1.2"/>
<line x1="408.9" y1="680.31" x2="413.1" y2="680.31" stroke="#000" stroke-width="1.2"/>
<line x1="408.9" y1="670.11" x2="413.1" y2="670.11" stroke="#000" stroke-width="1.2"/>
<line x1="408.9" y1="659.9" x2="413.1" y2="659.9" stroke="#000" stroke-width="1.2"/>
<line x1="408.9" y1="649.7" x2="413.1" y2="649.7" stroke="#000" stroke-width="1.2"/>
<line x1="405.1" y1="659.9" x2="413.1" y2="659.9" stroke="#000" stroke-width="1.5"/>
<text x="401.1" y="662.4" font-size="9" text-anchor="end" font-weight="normal" font-style="normal" fill="#000" letter-spacing="3.0" stroke="#000" stroke-width="0.22">60.5</text>
<line x1="405.1" y1="710.92" x2="413.1" y2="710.92" stroke="#000" stroke-width="1.5"/>
<text x="401.1" y="713.42" font-size="9" text-anchor="end" font-weight="normal" font-style="normal" fill="#000" letter-spacing="3.0" stroke="#000" stroke-width="0.22">60.0</text>
<line x1="405.1" y1="761.94" x2="413.1" y2="761.94" stroke="#000" stroke-width="1.5"/>
<text x="401.1" y="764.44" font-size="9" text-anchor="end" font-weight="normal" font-style="normal" fill="#000" letter-spacing="3.0" stroke="#000" stroke-width="0.22">59.5</text>
<line x1="405.1" y1="812.96" x2="413.1" y2="812.96" stroke="#000" stroke-width="1.5"/>
<text x="401.1" y="815.46" font-size="9" text-anchor="end" font-weight="normal" font-style="normal" fill="#000" letter-spacing="3.0" stroke="#000" stroke-width="0.22">59.0</text>
<line x1="405.1" y1="863.98" x2="413.1" y2="863.98" stroke="#000" stroke-width="1.5"/>
<text x="401.1" y="866.48" font-size="9" text-anchor="end" font-weight="normal" font-style="normal" fill="#000" letter-spacing="3.0" stroke="#000" stroke-width="0.22">58.5</text>
<line x1="405.1" y1="915" x2="413.1" y2="915" stroke="#000" stroke-width="1.5"/>
<text x="401.1" y="917.5" font-size="9" text-anchor="end" font-weight="normal" font-style="normal" fill="#000" letter-spacing="3.0" stroke="#000" stroke-width="0.22">58.0</text>
<text transform="translate(361.9,782.7) rotate(-90)" text-anchor="middle" font-size="9.2" letter-spacing="0.35"><tspan font-size="10.4">V</tspan><tspan font-size="4.6" dy="3" dx="-0.7" font-style="italic">F</tspan><tspan dy="-3" dx="0.5" font-style="italic">(MeV)</tspan></text>
<text x="562.3" y="946.6" text-anchor="middle" font-size="8.6" letter-spacing="1.5" stroke="#000" stroke-width="0.15">r(<tspan font-style="italic" dx="0.8">fm</tspan> )</text>
<rect x="621.6" y="732.2" width="88.3" height="13.5" stroke="#666" stroke-width="1" fill="none"/>
<text x="635.4" y="739.3" font-size="5.0" font-weight="bold" font-style="normal" fill="#000" textLength="6.7" lengthAdjust="spacing" stroke="#000" stroke-width="0.18">17</text>
<text x="643.51" y="743.2" font-size="8.1" font-weight="bold" font-style="normal" fill="#000" stroke="#000" stroke-width="0.18">O</text>
<text x="657.31" y="743.2" font-size="8.1" font-weight="bold" font-style="normal" fill="#000" stroke="#000" stroke-width="0.18">+</text>
<text x="668.5" y="739.3" font-size="5.0" font-weight="bold" font-style="normal" fill="#000" textLength="10.8" lengthAdjust="spacing" stroke="#000" stroke-width="0.18">144</text>
<text x="680.01" y="743.2" font-size="8.1" font-weight="bold" font-style="normal" fill="#000" stroke="#000" stroke-width="0.18">S</text>
<text x="689.01" y="743.2" font-size="8.1" font-weight="bold" font-style="normal" fill="#000" stroke="#000" stroke-width="0.18">m</text>
<text x="665.51" y="760.8" font-size="8.2" font-weight="bold" font-style="normal" fill="#000" textLength="15.72" lengthAdjust="spacing" stroke="#000" stroke-width="0.25">(b)</text>
<text x="593.46" y="669.3" font-size="9.05" font-weight="bold" font-style="normal" fill="#0000ff" textLength="58.01" lengthAdjust="spacing" stroke="#0000ff" stroke-width="0.1">FB=60.55</text>
<text x="658.2" y="669.3" font-size="9.05" font-weight="bold" font-style="italic" fill="#0000ff" textLength="26.6" lengthAdjust="spacing" stroke="#0000ff" stroke-width="0.1">MeV</text>
<text x="606.86" y="706.6" font-size="9.05" font-weight="bold" font-style="normal" fill="#0000ff" textLength="58.11" lengthAdjust="spacing" stroke="#0000ff" stroke-width="0.1">FB=60.18</text>
<text x="672.5" y="706.6" font-size="9.05" font-weight="bold" font-style="italic" fill="#0000ff" textLength="27.51" lengthAdjust="spacing" stroke="#0000ff" stroke-width="0.1">MeV</text>
<text x="640.29" y="802.8" font-size="6.76" font-weight="bold" font-style="normal" fill="#0000ff" textLength="41.88" lengthAdjust="spacing" stroke="#0000ff" stroke-width="0.1">FB=59.04</text>
<text x="687.1" y="802.8" font-size="6.76" font-weight="bold" font-style="italic" fill="#0000ff" textLength="20.08" lengthAdjust="spacing" stroke="#0000ff" stroke-width="0.1">MeV</text>
<text x="658.69" y="838.3" font-size="6.8" font-weight="bold" font-style="normal" fill="#0000ff" textLength="17.58" lengthAdjust="spacing" stroke="#0000ff" stroke-width="0.1">FB=</text>
<text x="658.69" y="846.6" font-size="6.8" font-weight="bold" font-style="normal" fill="#0000ff" textLength="23.48" lengthAdjust="spacing" stroke="#0000ff" stroke-width="0.1">58.84</text>
<text x="687.1" y="846.6" font-size="6.8" font-weight="bold" font-style="italic" fill="#0000ff" textLength="20.08" lengthAdjust="spacing" stroke="#0000ff" stroke-width="0.1">MeV</text>
</svg>
</body></html>
